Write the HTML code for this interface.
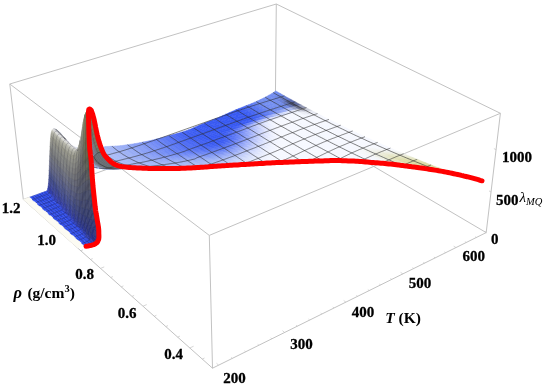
<!DOCTYPE html><html><head><meta charset="utf-8"><style>html,body{margin:0;padding:0;background:#fff;overflow:hidden}svg{display:block;filter:blur(0.35px)}</style></head><body><svg width="550" height="388" viewBox="0 0 550 388"><rect width="550" height="388" fill="#fff"/><g stroke="#c2c2c2" stroke-width="1" fill="none"><path d="M9.8 84L276.3 4"/><path d="M276.3 4L500.4 113.3"/><path d="M500.4 113.3L209.3 235.4"/><path d="M209.3 235.4L9.8 84"/><path d="M9.8 84L23.3 199.5"/><path d="M276.3 4L275.3 108.5"/><path d="M500.4 113.3L486.2 232.6"/><path d="M209.3 235.4L212.5 368.2"/><path d="M23.3 199.5L275.3 108.5"/><path d="M275.3 108.5L486.2 232.6"/><path d="M486.2 232.6L212.5 368.2"/><path d="M212.5 368.2L23.3 199.5"/></g><path d="M218.7 365.2L216.5 363.3M232.3 358.4L231.1 357.4M245.7 351.8L244.5 350.8M258.9 345.2L257.7 344.3M271.9 338.8L270.7 337.8M284.7 332.5L282.5 330.7M297.3 326.2L296.1 325.3M309.7 320.1L308.5 319.1M321.9 314.0L320.7 313.1M334.0 308.0L332.8 307.1M345.9 302.1L343.7 300.5M357.6 296.3L356.4 295.4M369.2 290.6L367.9 289.7M380.6 284.9L379.3 284.1M391.8 279.4L390.5 278.5M402.9 273.9L400.6 272.4M413.8 268.5L412.5 267.7M424.6 263.1L423.3 262.3M435.2 257.9L433.9 257.1M445.7 252.7L444.4 251.9M456.0 247.6L453.7 246.2M466.2 242.5L464.9 241.7M476.3 237.5L475.0 236.8M486.2 232.6L484.9 231.8M202.2 359.1L204.5 358.0M189.8 348.0L193.6 346.2M177.6 337.2L179.9 336.1M165.8 326.6L168.0 325.6M154.2 316.3L156.4 315.3M143.0 306.2L146.7 304.6M132.0 296.4L134.1 295.5M121.2 286.9L123.4 285.9M110.8 277.5L112.9 276.6M100.5 268.4L104.2 266.9M90.5 259.5L92.7 258.6M80.8 250.7L82.9 249.9M71.2 242.2L73.3 241.4M61.9 233.9L65.4 232.5M52.8 225.8L54.8 225.0M43.8 217.8L45.9 217.0M35.1 210.0L37.1 209.3M26.5 202.4L30.0 201.1M486.2 232.6L484.2 231.4M491.0 192.0L489.0 190.9M496.1 149.7L493.9 148.6" stroke="#c4c4c4" stroke-width="0.7" fill="none"/><g stroke-width="0.5" stroke-linejoin="round"><path d="M278.2 95.2L280.8 93.8 275.8 90.9 273.5 92.5Z" fill="#728dee" stroke="#728dee"/><path d="M275.6 96.6L278.2 95.2 273.5 92.5 271.1 94Z" fill="#728ced" stroke="#728ced"/><path d="M283 97.9L285.9 96.7 280.8 93.8 278.2 95.2Z" fill="#6f88e5" stroke="#6f88e5"/><path d="M272.8 97.9L275.6 96.6 271.1 94 268.5 95.4Z" fill="#738def" stroke="#738def"/><path d="M280.1 99.1L283 97.9 278.2 95.2 275.6 96.6Z" fill="#6d85df" stroke="#6d85df"/><path d="M269.9 99.2L272.8 97.9 268.5 95.4 265.9 96.9Z" fill="#738ef0" stroke="#738ef0"/><path d="M287.9 100.6L291.1 99.5 285.9 96.7 283 97.9Z" fill="#677cce" stroke="#677cce"/><path d="M277.1 100.4L280.1 99.1 275.6 96.6 272.8 97.9Z" fill="#708ae8" stroke="#708ae8"/><path d="M267 100.5L269.9 99.2 265.9 96.9 263.2 98.2Z" fill="#738ef0" stroke="#738ef0"/><path d="M284.7 101.7L287.9 100.6 283 97.9 280.1 99.1Z" fill="#6073bb" stroke="#6073bb"/><path d="M274 101.6L277.1 100.4 272.8 97.9 269.9 99.2Z" fill="#738def" stroke="#738def"/><path d="M264 101.8L267 100.5 263.2 98.2 260.4 99.6Z" fill="#738ef0" stroke="#738ef0"/><path d="M292.8 103.3L296.3 102.4 291.1 99.5 287.9 100.6Z" fill="#5b6bac" stroke="#5b6bac"/><path d="M281.5 102.8L284.7 101.7 280.1 99.1 277.1 100.4Z" fill="#6a81d7" stroke="#6a81d7"/><path d="M270.9 102.8L274 101.6 269.9 99.2 267 100.5Z" fill="#738ef0" stroke="#738ef0"/><path d="M261 103L264 101.8 260.4 99.6 257.5 101Z" fill="#728df0" stroke="#728df0"/><path d="M289.3 104.3L292.8 103.3 287.9 100.6 284.7 101.7Z" fill="#4d5887" stroke="#4d5887"/><path d="M278.2 103.9L281.5 102.8 277.1 100.4 274 101.6Z" fill="#728cec" stroke="#728cec"/><path d="M267.8 103.9L270.9 102.8 267 100.5 264 101.8Z" fill="#738ef0" stroke="#738ef0"/><path d="M285.8 105.3L289.3 104.3 284.7 101.7 281.5 102.8Z" fill="#6174be" stroke="#6174be"/><path d="M257.9 104.3L261 103 257.5 101 254.6 102.3Z" fill="#6e89f0" stroke="#6e89f0"/><path d="M274.9 105L278.2 103.9 274 101.6 270.9 102.8Z" fill="#738ef0" stroke="#738ef0"/><path d="M297.7 106L301.5 105.2 296.3 102.4 292.8 103.3Z" fill="#616c9d" stroke="#616c9d"/><path d="M264.6 105.1L267.8 103.9 264 101.8 261 103Z" fill="#728df0" stroke="#728df0"/><path d="M282.3 106.2L285.8 105.3 281.5 102.8 278.2 103.9Z" fill="#718ae9" stroke="#718ae9"/><path d="M294 106.8L297.7 106 292.8 103.3 289.3 104.3Z" fill="#464c6c" stroke="#464c6c"/><path d="M271.5 106.1L274.9 105 270.9 102.8 267.8 103.9Z" fill="#738ef0" stroke="#738ef0"/><path d="M254.7 105.5L257.9 104.3 254.6 102.3 251.5 103.6Z" fill="#6682f1" stroke="#6682f1"/><path d="M261.3 106.3L264.6 105.1 261 103 257.9 104.3Z" fill="#6e89f0" stroke="#6e89f0"/><path d="M278.8 107.2L282.3 106.2 278.2 103.9 274.9 105Z" fill="#738ef0" stroke="#738ef0"/><path d="M290.3 107.7L294 106.8 289.3 104.3 285.8 105.3Z" fill="#6272b2" stroke="#6272b2"/><path d="M268.1 107.2L271.5 106.1 267.8 103.9 264.6 105.1Z" fill="#728df0" stroke="#728df0"/><path d="M251.4 106.7L254.7 105.5 251.5 103.6 248.4 104.9Z" fill="#5c79f1" stroke="#5c79f1"/><path d="M302.7 108.7L306.8 108 301.5 105.2 297.7 106Z" fill="#9298b3" stroke="#9298b3"/><path d="M258 107.4L261.3 106.3 257.9 104.3 254.7 105.5Z" fill="#6682f1" stroke="#6682f1"/><path d="M286.5 108.6L290.3 107.7 285.8 105.3 282.3 106.2Z" fill="#738be7" stroke="#738be7"/><path d="M275.3 108.3L278.8 107.2 274.9 105 271.5 106.1Z" fill="#738ef0" stroke="#738ef0"/><path d="M298.7 109.4L302.7 108.7 297.7 106 294 106.8Z" fill="#676d8a" stroke="#676d8a"/><path d="M264.7 108.3L268.1 107.2 264.6 105.1 261.3 106.3Z" fill="#6e89f0" stroke="#6e89f0"/><path d="M248.1 107.9L251.4 106.7 248.4 104.9 245.1 106.1Z" fill="#5270f1" stroke="#5270f1"/><path d="M254.5 108.6L258 107.4 254.7 105.5 251.4 106.7Z" fill="#5c79f1" stroke="#5c79f1"/><path d="M282.8 109.5L286.5 108.6 282.3 106.2 278.8 107.2Z" fill="#738ef0" stroke="#738ef0"/><path d="M271.8 109.3L275.3 108.3 271.5 106.1 268.1 107.2Z" fill="#728df0" stroke="#728df0"/><path d="M294.7 110.1L298.7 109.4 294 106.8 290.3 107.7Z" fill="#939dc3" stroke="#939dc3"/><path d="M261.2 109.3L264.7 108.3 261.3 106.3 258 107.4Z" fill="#6682f1" stroke="#6682f1"/><path d="M244.7 109.1L248.1 107.9 245.1 106.1 241.9 107.4Z" fill="#4867f1" stroke="#4867f1"/><path d="M307.7 111.3L312.2 110.8 306.8 108 302.7 108.7Z" fill="#cbced9" stroke="#cbced9"/><path d="M279.1 110.4L282.8 109.5 278.8 107.2 275.3 108.3Z" fill="#738ef0" stroke="#738ef0"/><path d="M251.1 109.7L254.5 108.6 251.4 106.7 248.1 107.9Z" fill="#5270f1" stroke="#5270f1"/><path d="M290.8 110.9L294.7 110.1 290.3 107.7 286.5 108.6Z" fill="#acbaef" stroke="#acbaef"/><path d="M268.2 110.3L271.8 109.3 268.1 107.2 264.7 108.3Z" fill="#6e89f0" stroke="#6e89f0"/><path d="M257.7 110.4L261.2 109.3 258 107.4 254.5 108.6Z" fill="#5c79f1" stroke="#5c79f1"/><path d="M303.4 111.9L307.7 111.3 302.7 108.7 298.7 109.4Z" fill="#b4b6c4" stroke="#b4b6c4"/><path d="M241.4 110.3L244.7 109.1 241.9 107.4 238.6 108.7Z" fill="#3f60f2" stroke="#3f60f2"/><path d="M275.4 111.3L279.1 110.4 275.3 108.3 271.8 109.3Z" fill="#728df0" stroke="#728df0"/><path d="M286.8 111.7L290.8 110.9 286.5 108.6 282.8 109.5Z" fill="#a4b5f5" stroke="#a4b5f5"/><path d="M247.6 110.8L251.1 109.7 248.1 107.9 244.7 109.1Z" fill="#4867f1" stroke="#4867f1"/><path d="M264.5 111.3L268.2 110.3 264.7 108.3 261.2 109.3Z" fill="#6682f1" stroke="#6682f1"/><path d="M299.2 112.6L303.4 111.9 298.7 109.4 294.7 110.1Z" fill="#d5d8e3" stroke="#d5d8e3"/><path d="M254 111.5L257.7 110.4 254.5 108.6 251.1 109.7Z" fill="#5270f1" stroke="#5270f1"/><path d="M238 111.6L241.4 110.3 238.6 108.7 235.4 110Z" fill="#395af2" stroke="#395af2"/><path d="M282.9 112.6L286.8 111.7 282.8 109.5 279.1 110.4Z" fill="#97abf4" stroke="#97abf4"/><path d="M271.6 112.3L275.4 111.3 271.8 109.3 268.2 110.3Z" fill="#6e89f0" stroke="#6e89f0"/><path d="M244.1 112L247.6 110.8 244.7 109.1 241.4 110.3Z" fill="#3f60f2" stroke="#3f60f2"/><path d="M295 113.3L299.2 112.6 294.7 110.1 290.8 110.9Z" fill="#ebeefa" stroke="#ebeefa"/><path d="M260.8 112.3L264.5 111.3 261.2 109.3 257.7 110.4Z" fill="#5c79f1" stroke="#5c79f1"/><path d="M312.8 114L317.6 113.6 312.2 110.8 307.7 111.3Z" fill="#e8eaf3" stroke="#e8eaf3"/><path d="M250.4 112.5L254 111.5 251.1 109.7 247.6 110.8Z" fill="#4867f1" stroke="#4867f1"/><path d="M279 113.4L282.9 112.6 279.1 110.4 275.4 111.3Z" fill="#8ba1f3" stroke="#8ba1f3"/><path d="M267.8 113.2L271.6 112.3 268.2 110.3 264.5 111.3Z" fill="#6682f1" stroke="#6682f1"/><path d="M308.2 114.5L312.8 114 307.7 111.3 303.4 111.9Z" fill="#e1e3ec" stroke="#e1e3ec"/><path d="M290.9 114L295 113.3 290.8 110.9 286.8 111.7Z" fill="#e8ecfd" stroke="#e8ecfd"/><path d="M234.8 113L238 111.6 235.4 110 232.2 111.4Z" fill="#3758f2" stroke="#3758f2"/><path d="M257 113.3L260.8 112.3 257.7 110.4 254 111.5Z" fill="#5270f1" stroke="#5270f1"/><path d="M240.7 113.2L244.1 112 241.4 110.3 238 111.6Z" fill="#395af2" stroke="#395af2"/><path d="M303.8 115L308.2 114.5 303.4 111.9 299.2 112.6Z" fill="#eceef6" stroke="#eceef6"/><path d="M246.9 113.7L250.4 112.5 247.6 110.8 244.1 112Z" fill="#3f60f2" stroke="#3f60f2"/><path d="M275.1 114.2L279 113.4 275.4 111.3 271.6 112.3Z" fill="#7d95f2" stroke="#7d95f2"/><path d="M286.8 114.7L290.9 114 286.8 111.7 282.9 112.6Z" fill="#dee5fc" stroke="#dee5fc"/><path d="M263.9 114.1L267.8 113.2 264.5 111.3 260.8 112.3Z" fill="#5c79f1" stroke="#5c79f1"/><path d="M253.3 114.3L257 113.3 254 111.5 250.4 112.5Z" fill="#4867f1" stroke="#4867f1"/><path d="M231.5 114.4L234.8 113 232.2 111.4 229 112.8Z" fill="#3758f2" stroke="#3758f2"/><path d="M299.3 115.6L303.8 115 299.2 112.6 295 113.3Z" fill="#f4f7fe" stroke="#f4f7fe"/><path d="M237.3 114.6L240.7 113.2 238 111.6 234.8 113Z" fill="#3758f2" stroke="#3758f2"/><path d="M271.1 115.1L275.1 114.2 271.6 112.3 267.8 113.2Z" fill="#6d88f1" stroke="#6d88f1"/><path d="M282.7 115.5L286.8 114.7 282.9 112.6 279 113.4Z" fill="#d2dbfb" stroke="#d2dbfb"/><path d="M243.4 114.9L246.9 113.7 244.1 112 240.7 113.2Z" fill="#395af2" stroke="#395af2"/><path d="M260.1 115L263.9 114.1 260.8 112.3 257 113.3Z" fill="#5270f1" stroke="#5270f1"/><path d="M317.9 116.7L323.1 116.5 317.6 113.6 312.8 114Z" fill="#f3f5fd" stroke="#f3f5fd"/><path d="M295 116.2L299.3 115.6 295 113.3 290.9 114Z" fill="#f6f8ff" stroke="#f6f8ff"/><path d="M249.7 115.4L253.3 114.3 250.4 112.5 246.9 113.7Z" fill="#3f60f2" stroke="#3f60f2"/><path d="M313.1 117L317.9 116.7 312.8 114 308.2 114.5Z" fill="#f2f4fb" stroke="#f2f4fb"/><path d="M228.2 115.8L231.5 114.4 229 112.8 225.8 114.3Z" fill="#3758f2" stroke="#3758f2"/><path d="M267.1 116L271.1 115.1 267.8 113.2 263.9 114.1Z" fill="#5f7bf1" stroke="#5f7bf1"/><path d="M278.6 116.2L282.7 115.5 279 113.4 275.1 114.2Z" fill="#c4cffa" stroke="#c4cffa"/><path d="M234 115.9L237.3 114.6 234.8 113 231.5 114.4Z" fill="#3758f2" stroke="#3758f2"/><path d="M256.2 116L260.1 115 257 113.3 253.3 114.3Z" fill="#4867f1" stroke="#4867f1"/><path d="M290.7 116.8L295 116.2 290.9 114 286.8 114.7Z" fill="#f6f8ff" stroke="#f6f8ff"/><path d="M239.9 116.1L243.4 114.9 240.7 113.2 237.3 114.6Z" fill="#3758f2" stroke="#3758f2"/><path d="M308.3 117.4L313.1 117 308.2 114.5 303.8 115Z" fill="#f4f6fd" stroke="#f4f6fd"/><path d="M246.1 116.5L249.7 115.4 246.9 113.7 243.4 114.9Z" fill="#395af2" stroke="#395af2"/><path d="M274.5 117L278.6 116.2 275.1 114.2 271.1 115.1Z" fill="#b2c1f8" stroke="#b2c1f8"/><path d="M263.1 116.8L267.1 116 263.9 114.1 260.1 115Z" fill="#5270f1" stroke="#5270f1"/><path d="M303.7 117.9L308.3 117.4 303.8 115 299.3 115.6Z" fill="#f6f8ff" stroke="#f6f8ff"/><path d="M286.4 117.5L290.7 116.8 286.8 114.7 282.7 115.5Z" fill="#f6f8ff" stroke="#f6f8ff"/><path d="M224.9 117.2L228.2 115.8 225.8 114.3 222.6 115.7Z" fill="#3758f2" stroke="#3758f2"/><path d="M252.5 117L256.2 116 253.3 114.3 249.7 115.4Z" fill="#3f60f2" stroke="#3f60f2"/><path d="M230.6 117.3L234 115.9 231.5 114.4 228.2 115.8Z" fill="#3758f2" stroke="#3758f2"/><path d="M236.5 117.4L239.9 116.1 237.3 114.6 234 115.9Z" fill="#3758f2" stroke="#3758f2"/><path d="M299.1 118.4L303.7 117.9 299.3 115.6 295 116.2Z" fill="#f6f8ff" stroke="#f6f8ff"/><path d="M270.3 117.8L274.5 117 271.1 115.1 267.1 116Z" fill="#9eaff7" stroke="#9eaff7"/><path d="M259.2 117.7L263.1 116.8 260.1 115 256.2 116Z" fill="#4867f1" stroke="#4867f1"/><path d="M242.5 117.7L246.1 116.5 243.4 114.9 239.9 116.1Z" fill="#3758f2" stroke="#3758f2"/><path d="M282.1 118.2L286.4 117.5 282.7 115.5 278.6 116.2Z" fill="#f3f5ff" stroke="#f3f5ff"/><path d="M323.1 119.3L328.6 119.2 323.1 116.5 317.9 116.7Z" fill="#f6f8ff" stroke="#f6f8ff"/><path d="M248.8 118.2L252.5 117 249.7 115.4 246.1 116.5Z" fill="#395af2" stroke="#395af2"/><path d="M318 119.5L323.1 119.3 317.9 116.7 313.1 117Z" fill="#f5f7fe" stroke="#f5f7fe"/><path d="M294.6 119L299.1 118.4 295 116.2 290.7 116.8Z" fill="#f6f8ff" stroke="#f6f8ff"/><path d="M221.5 118.6L224.9 117.2 222.6 115.7 219.3 117.2Z" fill="#3758f2" stroke="#3758f2"/><path d="M227.2 118.6L230.6 117.3 228.2 115.8 224.9 117.2Z" fill="#3758f2" stroke="#3758f2"/><path d="M266.2 118.6L270.3 117.8 267.1 116 263.1 116.8Z" fill="#889df6" stroke="#889df6"/><path d="M233 118.8L236.5 117.4 234 115.9 230.6 117.3Z" fill="#3758f2" stroke="#3758f2"/><path d="M277.8 118.9L282.1 118.2 278.6 116.2 274.5 117Z" fill="#ecf0fe" stroke="#ecf0fe"/><path d="M255.3 118.7L259.2 117.7 256.2 116 252.5 117Z" fill="#3f60f2" stroke="#3f60f2"/><path d="M313 119.8L318 119.5 313.1 117 308.3 117.4Z" fill="#f6f8ff" stroke="#f6f8ff"/><path d="M239 119L242.5 117.7 239.9 116.1 236.5 117.4Z" fill="#3758f2" stroke="#3758f2"/><path d="M290.2 119.6L294.6 119 290.7 116.8 286.4 117.5Z" fill="#f6f8ff" stroke="#f6f8ff"/><path d="M245.1 119.3L248.8 118.2 246.1 116.5 242.5 117.7Z" fill="#3758f2" stroke="#3758f2"/><path d="M308.1 120.2L313 119.8 308.3 117.4 303.7 117.9Z" fill="#f6f8ff" stroke="#f6f8ff"/><path d="M262.1 119.5L266.2 118.6 263.1 116.8 259.2 117.7Z" fill="#7089f5" stroke="#7089f5"/><path d="M273.5 119.7L277.8 118.9 274.5 117 270.3 117.8Z" fill="#e1e7fd" stroke="#e1e7fd"/><path d="M218.1 119.9L221.5 118.6 219.3 117.2 216 118.6Z" fill="#3758f2" stroke="#3758f2"/><path d="M223.8 120L227.2 118.6 224.9 117.2 221.5 118.6Z" fill="#3758f2" stroke="#3758f2"/><path d="M251.5 119.8L255.3 118.7 252.5 117 248.8 118.2Z" fill="#395af2" stroke="#395af2"/><path d="M285.7 120.2L290.2 119.6 286.4 117.5 282.1 118.2Z" fill="#f6f8ff" stroke="#f6f8ff"/><path d="M229.5 120.1L233 118.8 230.6 117.3 227.2 118.6Z" fill="#3758f2" stroke="#3758f2"/><path d="M303.2 120.6L308.1 120.2 303.7 117.9 299.1 118.4Z" fill="#f6f8ff" stroke="#f6f8ff"/><path d="M235.4 120.2L239 119 236.5 117.4 233 118.8Z" fill="#3758f2" stroke="#3758f2"/><path d="M269.2 120.4L273.5 119.7 270.3 117.8 266.2 118.6Z" fill="#d3dbfc" stroke="#d3dbfc"/><path d="M258.1 120.4L262.1 119.5 259.2 117.7 255.3 118.7Z" fill="#5b76f4" stroke="#5b76f4"/><path d="M241.5 120.5L245.1 119.3 242.5 117.7 239 119Z" fill="#3758f2" stroke="#3758f2"/><path d="M298.5 121.1L303.2 120.6 299.1 118.4 294.6 119Z" fill="#f6f8ff" stroke="#f6f8ff"/><path d="M281.2 120.8L285.7 120.2 282.1 118.2 277.8 118.9Z" fill="#f6f8ff" stroke="#f6f8ff"/><path d="M328.4 121.9L334.2 122 328.6 119.2 323.1 119.3Z" fill="#f6f8ff" stroke="#f6f8ff"/><path d="M247.7 120.9L251.5 119.8 248.8 118.2 245.1 119.3Z" fill="#3758f2" stroke="#3758f2"/><path d="M214.6 121.2L218.1 119.9 216 118.6 212.5 119.9Z" fill="#3758f2" stroke="#3758f2"/><path d="M220.3 121.3L223.8 120 221.5 118.6 218.1 119.9Z" fill="#3758f2" stroke="#3758f2"/><path d="M322.9 122.1L328.4 121.9 323.1 119.3 318 119.5Z" fill="#f6f8ff" stroke="#f6f8ff"/><path d="M226 121.4L229.5 120.1 227.2 118.6 223.8 120Z" fill="#3758f2" stroke="#3758f2"/><path d="M265 121.2L269.2 120.4 266.2 118.6 262.1 119.5Z" fill="#c0cbfb" stroke="#c0cbfb"/><path d="M293.9 121.7L298.5 121.1 294.6 119 290.2 119.6Z" fill="#f6f8ff" stroke="#f6f8ff"/><path d="M231.8 121.5L235.4 120.2 233 118.8 229.5 120.1Z" fill="#3758f2" stroke="#3758f2"/><path d="M317.6 122.3L322.9 122.1 318 119.5 313 119.8Z" fill="#f6f8ff" stroke="#f6f8ff"/><path d="M276.8 121.5L281.2 120.8 277.8 118.9 273.5 119.7Z" fill="#f6f8ff" stroke="#f6f8ff"/><path d="M254.2 121.4L258.1 120.4 255.3 118.7 251.5 119.8Z" fill="#4967f3" stroke="#4967f3"/><path d="M237.8 121.8L241.5 120.5 239 119 235.4 120.2Z" fill="#3758f2" stroke="#3758f2"/><path d="M312.5 122.5L317.6 122.3 313 119.8 308.1 120.2Z" fill="#f6f8ff" stroke="#f6f8ff"/><path d="M289.3 122.2L293.9 121.7 290.2 119.6 285.7 120.2Z" fill="#f6f8ff" stroke="#f6f8ff"/><path d="M244 122.1L247.7 120.9 245.1 119.3 241.5 120.5Z" fill="#3758f2" stroke="#3758f2"/><path d="M261 122.1L265 121.2 262.1 119.5 258.1 120.4Z" fill="#abbafa" stroke="#abbafa"/><path d="M211.1 122.6L214.6 121.2 212.5 119.9 209.1 121.3Z" fill="#3758f2" stroke="#3758f2"/><path d="M272.3 122.2L276.8 121.5 273.5 119.7 269.2 120.4Z" fill="#f2f4ff" stroke="#f2f4ff"/><path d="M216.7 122.6L220.3 121.3 218.1 119.9 214.6 121.2Z" fill="#3758f2" stroke="#3758f2"/><path d="M307.4 122.9L312.5 122.5 308.1 120.2 303.2 120.6Z" fill="#f6f8ff" stroke="#f6f8ff"/><path d="M222.4 122.6L226 121.4 223.8 120 220.3 121.3Z" fill="#3758f2" stroke="#3758f2"/><path d="M250.4 122.5L254.2 121.4 251.5 119.8 247.7 120.9Z" fill="#3d5df2" stroke="#3d5df2"/><path d="M228.2 122.8L231.8 121.5 229.5 120.1 226 121.4Z" fill="#3758f2" stroke="#3758f2"/><path d="M284.6 122.8L289.3 122.2 285.7 120.2 281.2 120.8Z" fill="#f6f8ff" stroke="#f6f8ff"/><path d="M234.2 123L237.8 121.8 235.4 120.2 231.8 121.5Z" fill="#3758f2" stroke="#3758f2"/><path d="M302.5 123.3L307.4 122.9 303.2 120.6 298.5 121.1Z" fill="#f6f8ff" stroke="#f6f8ff"/><path d="M268 123L272.3 122.2 269.2 120.4 265 121.2Z" fill="#e9edfe" stroke="#e9edfe"/><path d="M257 123.1L261 122.1 258.1 120.4 254.2 121.4Z" fill="#96a7f8" stroke="#96a7f8"/><path d="M240.2 123.3L244 122.1 241.5 120.5 237.8 121.8Z" fill="#3758f2" stroke="#3758f2"/><path d="M280 123.4L284.6 122.8 281.2 120.8 276.8 121.5Z" fill="#f6f8ff" stroke="#f6f8ff"/><path d="M207.5 123.9L211.1 122.6 209.1 121.3 205.6 122.7Z" fill="#3758f2" stroke="#3758f2"/><path d="M297.7 123.7L302.5 123.3 298.5 121.1 293.9 121.7Z" fill="#f6f8ff" stroke="#f6f8ff"/><path d="M213.1 123.9L216.7 122.6 214.6 121.2 211.1 122.6Z" fill="#3758f2" stroke="#3758f2"/><path d="M246.5 123.6L250.4 122.5 247.7 120.9 244 122.1Z" fill="#3859f2" stroke="#3859f2"/><path d="M218.8 123.9L222.4 122.6 220.3 121.3 216.7 122.6Z" fill="#3758f2" stroke="#3758f2"/><path d="M333.7 124.6L339.9 124.8 334.2 122 328.4 121.9Z" fill="#f6f8ff" stroke="#f6f8ff"/><path d="M224.6 124L228.2 122.8 226 121.4 222.4 122.6Z" fill="#3758f2" stroke="#3758f2"/><path d="M327.9 124.6L333.7 124.6 328.4 121.9 322.9 122.1Z" fill="#f6f8ff" stroke="#f6f8ff"/><path d="M263.8 123.8L268 123 265 121.2 261 122.1Z" fill="#dce3fd" stroke="#dce3fd"/><path d="M230.5 124.2L234.2 123 231.8 121.5 228.2 122.8Z" fill="#3758f2" stroke="#3758f2"/><path d="M322.3 124.7L327.9 124.6 322.9 122.1 317.6 122.3Z" fill="#f6f8ff" stroke="#f6f8ff"/><path d="M275.4 124L280 123.4 276.8 121.5 272.3 122.2Z" fill="#f5f7ff" stroke="#f5f7ff"/><path d="M292.9 124.2L297.7 123.7 293.9 121.7 289.3 122.2Z" fill="#f6f8ff" stroke="#f6f8ff"/><path d="M253 124.1L257 123.1 254.2 121.4 250.4 122.5Z" fill="#8196f7" stroke="#8196f7"/><path d="M236.5 124.5L240.2 123.3 237.8 121.8 234.2 123Z" fill="#3758f2" stroke="#3758f2"/><path d="M316.9 124.8L322.3 124.7 317.6 122.3 312.5 122.5Z" fill="#f6f8ff" stroke="#f6f8ff"/><path d="M288 124.7L292.9 124.2 289.3 122.2 284.6 122.8Z" fill="#f6f8ff" stroke="#f6f8ff"/><path d="M242.7 124.8L246.5 123.6 244 122.1 240.2 123.3Z" fill="#3758f2" stroke="#3758f2"/><path d="M204 125.3L207.5 123.9 205.6 122.7 202.2 124.1Z" fill="#3758f2" stroke="#3758f2"/><path d="M209.5 125.2L213.1 123.9 211.1 122.6 207.5 123.9Z" fill="#3758f2" stroke="#3758f2"/><path d="M311.6 125.1L316.9 124.8 312.5 122.5 307.4 122.9Z" fill="#f6f8ff" stroke="#f6f8ff"/><path d="M271 124.7L275.4 124 272.3 122.2 268 123Z" fill="#f1f4ff" stroke="#f1f4ff"/><path d="M215.1 125.2L218.8 123.9 216.7 122.6 213.1 123.9Z" fill="#3758f2" stroke="#3758f2"/><path d="M259.7 124.8L263.8 123.8 261 122.1 257 123.1Z" fill="#ccd5fc" stroke="#ccd5fc"/><path d="M220.9 125.3L224.6 124 222.4 122.6 218.8 123.9Z" fill="#3758f2" stroke="#3758f2"/><path d="M249.1 125.2L253 124.1 250.4 122.5 246.5 123.6Z" fill="#6e86f6" stroke="#6e86f6"/><path d="M306.5 125.4L311.6 125.1 307.4 122.9 302.5 123.3Z" fill="#f6f8ff" stroke="#f6f8ff"/><path d="M226.8 125.4L230.5 124.2 228.2 122.8 224.6 124Z" fill="#3758f2" stroke="#3758f2"/><path d="M283.3 125.2L288 124.7 284.6 122.8 280 123.4Z" fill="#f6f8ff" stroke="#f6f8ff"/><path d="M232.7 125.6L236.5 124.5 234.2 123 230.5 124.2Z" fill="#3758f2" stroke="#3758f2"/><path d="M266.7 125.5L271 124.7 268 123 263.8 123.8Z" fill="#e7ecfe" stroke="#e7ecfe"/><path d="M301.5 125.8L306.5 125.4 302.5 123.3 297.7 123.7Z" fill="#f6f8ff" stroke="#f6f8ff"/><path d="M255.7 125.8L259.7 124.8 257 123.1 253 124.1Z" fill="#bac6fb" stroke="#bac6fb"/><path d="M238.9 125.9L242.7 124.8 240.2 123.3 236.5 124.5Z" fill="#3758f2" stroke="#3758f2"/><path d="M278.6 125.8L283.3 125.2 280 123.4 275.4 124Z" fill="#f6f8ff" stroke="#f6f8ff"/><path d="M205.9 126.5L209.5 125.2 207.5 123.9 204 125.3Z" fill="#3758f2" stroke="#3758f2"/><path d="M211.5 126.4L215.1 125.2 213.1 123.9 209.5 125.2Z" fill="#3758f2" stroke="#3758f2"/><path d="M200.6 126.7L204 125.3 202.2 124.1 198.8 125.5Z" fill="#3758f2" stroke="#3758f2"/><path d="M217.2 126.5L220.9 125.3 218.8 123.9 215.1 125.2Z" fill="#3758f2" stroke="#3758f2"/><path d="M296.5 126.2L301.5 125.8 297.7 123.7 292.9 124.2Z" fill="#f6f8ff" stroke="#f6f8ff"/><path d="M245.1 126.3L249.1 125.2 246.5 123.6 242.7 124.8Z" fill="#5d78f5" stroke="#5d78f5"/><path d="M223 126.6L226.8 125.4 224.6 124 220.9 125.3Z" fill="#3758f2" stroke="#3758f2"/><path d="M262.5 126.4L266.7 125.5 263.8 123.8 259.7 124.8Z" fill="#dae0fd" stroke="#dae0fd"/><path d="M228.9 126.8L232.7 125.6 230.5 124.2 226.8 125.4Z" fill="#3758f2" stroke="#3758f2"/><path d="M274 126.5L278.6 125.8 275.4 124 271 124.7Z" fill="#f4f6ff" stroke="#f4f6ff"/><path d="M332.9 127.1L339 127.2 333.7 124.6 327.9 124.6Z" fill="#f6f8ff" stroke="#f6f8ff"/><path d="M339 127.2L345.6 127.6 339.9 124.8 333.7 124.6Z" fill="#f6f8ff" stroke="#f6f8ff"/><path d="M327.1 127.1L332.9 127.1 327.9 124.6 322.3 124.7Z" fill="#f6f8ff" stroke="#f6f8ff"/><path d="M291.5 126.6L296.5 126.2 292.9 124.2 288 124.7Z" fill="#f6f8ff" stroke="#f6f8ff"/><path d="M251.6 126.8L255.7 125.8 253 124.1 249.1 125.2Z" fill="#a7b6fa" stroke="#a7b6fa"/><path d="M235 127.1L238.9 125.9 236.5 124.5 232.7 125.6Z" fill="#3758f2" stroke="#3758f2"/><path d="M321.4 127.1L327.1 127.1 322.3 124.7 316.9 124.8Z" fill="#f6f8ff" stroke="#f6f8ff"/><path d="M315.9 127.3L321.4 127.1 316.9 124.8 311.6 125.1Z" fill="#f6f8ff" stroke="#f6f8ff"/><path d="M207.8 127.7L211.5 126.4 209.5 125.2 205.9 126.5Z" fill="#3758f2" stroke="#3758f2"/><path d="M202.4 127.9L205.9 126.5 204 125.3 200.6 126.7Z" fill="#3758f2" stroke="#3758f2"/><path d="M286.6 127.1L291.5 126.6 288 124.7 283.3 125.2Z" fill="#f6f8ff" stroke="#f6f8ff"/><path d="M241.2 127.4L245.1 126.3 242.7 124.8 238.9 125.9Z" fill="#4e6bf4" stroke="#4e6bf4"/><path d="M213.4 127.7L217.2 126.5 215.1 125.2 211.5 126.4Z" fill="#3758f2" stroke="#3758f2"/><path d="M197.2 128.2L200.6 126.7 198.8 125.5 195.4 127Z" fill="#3758f2" stroke="#3758f2"/><path d="M269.6 127.3L274 126.5 271 124.7 266.7 125.5Z" fill="#edf0fe" stroke="#edf0fe"/><path d="M258.3 127.4L262.5 126.4 259.7 124.8 255.7 125.8Z" fill="#cad3fc" stroke="#cad3fc"/><path d="M219.2 127.8L223 126.6 220.9 125.3 217.2 126.5Z" fill="#3758f2" stroke="#3758f2"/><path d="M310.6 127.5L315.9 127.3 311.6 125.1 306.5 125.4Z" fill="#f6f8ff" stroke="#f6f8ff"/><path d="M225.1 128L228.9 126.8 226.8 125.4 223 126.6Z" fill="#3758f2" stroke="#3758f2"/><path d="M247.6 127.8L251.6 126.8 249.1 125.2 245.1 126.3Z" fill="#93a5f8" stroke="#93a5f8"/><path d="M281.7 127.6L286.6 127.1 283.3 125.2 278.6 125.8Z" fill="#f6f8ff" stroke="#f6f8ff"/><path d="M305.4 127.9L310.6 127.5 306.5 125.4 301.5 125.8Z" fill="#f6f8ff" stroke="#f6f8ff"/><path d="M231.1 128.2L235 127.1 232.7 125.6 228.9 126.8Z" fill="#3758f2" stroke="#3758f2"/><path d="M265.3 128.1L269.6 127.3 266.7 125.5 262.5 126.4Z" fill="#e1e7fe" stroke="#e1e7fe"/><path d="M237.3 128.5L241.2 127.4 238.9 125.9 235 127.1Z" fill="#4261f3" stroke="#4261f3"/><path d="M300.2 128.2L305.4 127.9 301.5 125.8 296.5 126.2Z" fill="#f6f8ff" stroke="#f6f8ff"/><path d="M254.2 128.4L258.3 127.4 255.7 125.8 251.6 126.8Z" fill="#b8c4fb" stroke="#b8c4fb"/><path d="M277 128.2L281.7 127.6 278.6 125.8 274 126.5Z" fill="#f6f8ff" stroke="#f6f8ff"/><path d="M204.3 129.1L207.8 127.7 205.9 126.5 202.4 127.9Z" fill="#3758f2" stroke="#3758f2"/><path d="M209.7 129L213.4 127.7 211.5 126.4 207.8 127.7Z" fill="#3758f2" stroke="#3758f2"/><path d="M199 129.3L202.4 127.9 200.6 126.7 197.2 128.2Z" fill="#3758f2" stroke="#3758f2"/><path d="M215.4 129L219.2 127.8 217.2 126.5 213.4 127.7Z" fill="#3758f2" stroke="#3758f2"/><path d="M193.7 129.6L197.2 128.2 195.4 127 192 128.5Z" fill="#3859f2" stroke="#3859f2"/><path d="M295 128.5L300.2 128.2 296.5 126.2 291.5 126.6Z" fill="#f6f8ff" stroke="#f6f8ff"/><path d="M243.6 128.9L247.6 127.8 245.1 126.3 241.2 127.4Z" fill="#7f95f7" stroke="#7f95f7"/><path d="M221.2 129.1L225.1 128 223 126.6 219.2 127.8Z" fill="#3758f2" stroke="#3758f2"/><path d="M227.2 129.3L231.1 128.2 228.9 126.8 225.1 128Z" fill="#3758f2" stroke="#3758f2"/><path d="M261 129L265.3 128.1 262.5 126.4 258.3 127.4Z" fill="#d3dafd" stroke="#d3dafd"/><path d="M272.5 129L277 128.2 274 126.5 269.6 127.3Z" fill="#f1f4ff" stroke="#f1f4ff"/><path d="M289.9 129L295 128.5 291.5 126.6 286.6 127.1Z" fill="#f6f8ff" stroke="#f6f8ff"/><path d="M250.1 129.4L254.2 128.4 251.6 126.8 247.6 127.8Z" fill="#a4b4f9" stroke="#a4b4f9"/><path d="M233.3 129.6L237.3 128.5 235 127.1 231.1 128.2Z" fill="#3a5bf2" stroke="#3a5bf2"/><path d="M331.9 129.5L338 129.6 332.9 127.1 327.1 127.1Z" fill="#f6f8ff" stroke="#f6f8ff"/><path d="M338 129.6L344.4 129.8 339 127.2 332.9 127.1Z" fill="#f6f8ff" stroke="#f6f8ff"/><path d="M325.9 129.4L331.9 129.5 327.1 127.1 321.4 127.1Z" fill="#f6f8ff" stroke="#f6f8ff"/><path d="M320.2 129.5L325.9 129.4 321.4 127.1 315.9 127.3Z" fill="#f6f8ff" stroke="#f6f8ff"/><path d="M344.4 129.8L351.3 130.4 345.6 127.6 339 127.2Z" fill="#f6f8ff" stroke="#f6f8ff"/><path d="M206.1 130.3L209.7 129 207.8 127.7 204.3 129.1Z" fill="#3758f2" stroke="#3758f2"/><path d="M284.9 129.4L289.9 129 286.6 127.1 281.7 127.6Z" fill="#f6f8ff" stroke="#f6f8ff"/><path d="M211.6 130.2L215.4 129 213.4 127.7 209.7 129Z" fill="#3758f2" stroke="#3758f2"/><path d="M200.7 130.5L204.3 129.1 202.4 127.9 199 129.3Z" fill="#3758f2" stroke="#3758f2"/><path d="M239.6 130L243.6 128.9 241.2 127.4 237.3 128.5Z" fill="#6d85f6" stroke="#6d85f6"/><path d="M314.6 129.7L320.2 129.5 315.9 127.3 310.6 127.5Z" fill="#f6f8ff" stroke="#f6f8ff"/><path d="M195.4 130.7L199 129.3 197.2 128.2 193.7 129.6Z" fill="#3859f2" stroke="#3859f2"/><path d="M217.4 130.3L221.2 129.1 219.2 127.8 215.4 129Z" fill="#3758f2" stroke="#3758f2"/><path d="M268.1 129.8L272.5 129 269.6 127.3 265.3 128.1Z" fill="#e8ecfe" stroke="#e8ecfe"/><path d="M256.8 129.9L261 129 258.3 127.4 254.2 128.4Z" fill="#c2ccfb" stroke="#c2ccfb"/><path d="M190.1 131L193.7 129.6 192 128.5 188.4 129.9Z" fill="#395af2" stroke="#395af2"/><path d="M223.3 130.4L227.2 129.3 225.1 128 221.2 129.1Z" fill="#3758f2" stroke="#3758f2"/><path d="M309.2 129.9L314.6 129.7 310.6 127.5 305.4 127.9Z" fill="#f6f8ff" stroke="#f6f8ff"/><path d="M280.1 130L284.9 129.4 281.7 127.6 277 128.2Z" fill="#f6f8ff" stroke="#f6f8ff"/><path d="M246 130.4L250.1 129.4 247.6 127.8 243.6 128.9Z" fill="#91a3f8" stroke="#91a3f8"/><path d="M229.4 130.7L233.3 129.6 231.1 128.2 227.2 129.3Z" fill="#3758f2" stroke="#3758f2"/><path d="M303.8 130.2L309.2 129.9 305.4 127.9 300.2 128.2Z" fill="#f6f8ff" stroke="#f6f8ff"/><path d="M263.7 130.6L268.1 129.8 265.3 128.1 261 129Z" fill="#dbe1fd" stroke="#dbe1fd"/><path d="M235.6 131L239.6 130 237.3 128.5 233.3 129.6Z" fill="#5c77f4" stroke="#5c77f4"/><path d="M298.5 130.4L303.8 130.2 300.2 128.2 295 128.5Z" fill="#f6f8ff" stroke="#f6f8ff"/><path d="M252.6 130.9L256.8 129.9 254.2 128.4 250.1 129.4Z" fill="#afbdfa" stroke="#afbdfa"/><path d="M275.5 130.7L280.1 130 277 128.2 272.5 129Z" fill="#f4f6ff" stroke="#f4f6ff"/><path d="M207.9 131.5L211.6 130.2 209.7 129 206.1 130.3Z" fill="#3758f2" stroke="#3758f2"/><path d="M202.5 131.7L206.1 130.3 204.3 129.1 200.7 130.5Z" fill="#3758f2" stroke="#3758f2"/><path d="M213.6 131.5L217.4 130.3 215.4 129 211.6 130.2Z" fill="#3758f2" stroke="#3758f2"/><path d="M197.1 131.9L200.7 130.5 199 129.3 195.4 130.7Z" fill="#3859f2" stroke="#3859f2"/><path d="M191.7 132.1L195.4 130.7 193.7 129.6 190.1 131Z" fill="#395af2" stroke="#395af2"/><path d="M293.2 130.8L298.5 130.4 295 128.5 289.9 129Z" fill="#f6f8ff" stroke="#f6f8ff"/><path d="M186.3 132.2L190.1 131 188.4 129.9 184.7 131.2Z" fill="#3c5cf2" stroke="#3c5cf2"/><path d="M219.4 131.6L223.3 130.4 221.2 129.1 217.4 130.3Z" fill="#3758f2" stroke="#3758f2"/><path d="M241.9 131.4L246 130.4 243.6 128.9 239.6 130Z" fill="#7d93f7" stroke="#7d93f7"/><path d="M225.4 131.8L229.4 130.7 227.2 129.3 223.3 130.4Z" fill="#3758f2" stroke="#3758f2"/><path d="M259.4 131.5L263.7 130.6 261 129 256.8 129.9Z" fill="#cbd4fc" stroke="#cbd4fc"/><path d="M288.1 131.2L293.2 130.8 289.9 129 284.9 129.4Z" fill="#f6f8ff" stroke="#f6f8ff"/><path d="M270.9 131.5L275.5 130.7 272.5 129 268.1 129.8Z" fill="#edf1fe" stroke="#edf1fe"/><path d="M248.4 131.9L252.6 130.9 250.1 129.4 246 130.4Z" fill="#9cacf9" stroke="#9cacf9"/><path d="M231.5 132.1L235.6 131 233.3 129.6 229.4 130.7Z" fill="#4d6af3" stroke="#4d6af3"/><path d="M330.5 131.7L336.7 131.9 331.9 129.5 325.9 129.4Z" fill="#f6f8ff" stroke="#f6f8ff"/><path d="M283.2 131.8L288.1 131.2 284.9 129.4 280.1 130Z" fill="#f6f8ff" stroke="#f6f8ff"/><path d="M324.5 131.7L330.5 131.7 325.9 129.4 320.2 129.5Z" fill="#f6f8ff" stroke="#f6f8ff"/><path d="M336.7 131.9L343.1 132.1 338 129.6 331.9 129.5Z" fill="#f6f8ff" stroke="#f6f8ff"/><path d="M204.3 132.8L207.9 131.5 206.1 130.3 202.5 131.7Z" fill="#3758f2" stroke="#3758f2"/><path d="M209.8 132.7L213.6 131.5 211.6 130.2 207.9 131.5Z" fill="#3758f2" stroke="#3758f2"/><path d="M198.8 133L202.5 131.7 200.7 130.5 197.1 131.9Z" fill="#3859f2" stroke="#3859f2"/><path d="M318.8 131.8L324.5 131.7 320.2 129.5 314.6 129.7Z" fill="#f6f8ff" stroke="#f6f8ff"/><path d="M237.8 132.4L241.9 131.4 239.6 130 235.6 131Z" fill="#6b83f6" stroke="#6b83f6"/><path d="M193.4 133.2L197.1 131.9 195.4 130.7 191.7 132.1Z" fill="#395af2" stroke="#395af2"/><path d="M215.5 132.7L219.4 131.6 217.4 130.3 213.6 131.5Z" fill="#3758f2" stroke="#3758f2"/><path d="M187.9 133.3L191.7 132.1 190.1 131 186.3 132.2Z" fill="#3c5cf2" stroke="#3c5cf2"/><path d="M182.4 133.4L186.3 132.2 184.7 131.2 180.8 132.4Z" fill="#405ff2" stroke="#405ff2"/><path d="M343.1 132.1L349.9 132.5 344.4 129.8 338 129.6Z" fill="#f6f8ff" stroke="#f6f8ff"/><path d="M266.5 132.3L270.9 131.5 268.1 129.8 263.7 130.6Z" fill="#e3e8fe" stroke="#e3e8fe"/><path d="M255.1 132.5L259.4 131.5 256.8 129.9 252.6 130.9Z" fill="#bac6fb" stroke="#bac6fb"/><path d="M313.1 132L318.8 131.8 314.6 129.7 309.2 129.9Z" fill="#f6f8ff" stroke="#f6f8ff"/><path d="M221.4 132.9L225.4 131.8 223.3 130.4 219.4 131.6Z" fill="#3758f2" stroke="#3758f2"/><path d="M307.5 132.1L313.1 132 309.2 129.9 303.8 130.2Z" fill="#f6f8ff" stroke="#f6f8ff"/><path d="M278.4 132.4L283.2 131.8 280.1 130 275.5 130.7Z" fill="#f6f8ff" stroke="#f6f8ff"/><path d="M244.2 132.9L248.4 131.9 246 130.4 241.9 131.4Z" fill="#889cf8" stroke="#889cf8"/><path d="M349.9 132.5L357.2 133.1 351.3 130.4 344.4 129.8Z" fill="#f6f8ff" stroke="#f6f8ff"/><path d="M227.4 133.1L231.5 132.1 229.4 130.7 225.4 131.8Z" fill="#4161f3" stroke="#4161f3"/><path d="M302 132.4L307.5 132.1 303.8 130.2 298.5 130.4Z" fill="#f6f8ff" stroke="#f6f8ff"/><path d="M262 133.1L266.5 132.3 263.7 130.6 259.4 131.5Z" fill="#d5dcfd" stroke="#d5dcfd"/><path d="M296.6 132.7L302 132.4 298.5 130.4 293.2 130.8Z" fill="#f6f8ff" stroke="#f6f8ff"/><path d="M233.7 133.4L237.8 132.4 235.6 131 231.5 132.1Z" fill="#5a75f4" stroke="#5a75f4"/><path d="M250.8 133.4L255.1 132.5 252.6 130.9 248.4 131.9Z" fill="#a7b6fa" stroke="#a7b6fa"/><path d="M178.4 134.6L182.4 133.4 180.8 132.4 176.9 133.6Z" fill="#4463f2" stroke="#4463f2"/><path d="M273.8 133.1L278.4 132.4 275.5 130.7 270.9 131.5Z" fill="#f2f4ff" stroke="#f2f4ff"/><path d="M206.1 134L209.8 132.7 207.9 131.5 204.3 132.8Z" fill="#3758f2" stroke="#3758f2"/><path d="M200.5 134.1L204.3 132.8 202.5 131.7 198.8 133Z" fill="#3859f2" stroke="#3859f2"/><path d="M183.9 134.5L187.9 133.3 186.3 132.2 182.4 133.4Z" fill="#405ff2" stroke="#405ff2"/><path d="M195 134.3L198.8 133 197.1 131.9 193.4 133.2Z" fill="#395af2" stroke="#395af2"/><path d="M189.5 134.4L193.4 133.2 191.7 132.1 187.9 133.3Z" fill="#3c5cf2" stroke="#3c5cf2"/><path d="M211.7 134L215.5 132.7 213.6 131.5 209.8 132.7Z" fill="#3758f2" stroke="#3758f2"/><path d="M291.3 133.1L296.6 132.7 293.2 130.8 288.1 131.2Z" fill="#f6f8ff" stroke="#f6f8ff"/><path d="M217.4 134L221.4 132.9 219.4 131.6 215.5 132.7Z" fill="#3758f2" stroke="#3758f2"/><path d="M240 133.9L244.2 132.9 241.9 131.4 237.8 132.4Z" fill="#758cf6" stroke="#758cf6"/><path d="M223.4 134.2L227.4 133.1 225.4 131.8 221.4 132.9Z" fill="#3a5af2" stroke="#3a5af2"/><path d="M286.2 133.5L291.3 133.1 288.1 131.2 283.2 131.8Z" fill="#f6f8ff" stroke="#f6f8ff"/><path d="M257.6 134L262 133.1 259.4 131.5 255.1 132.5Z" fill="#c4cefc" stroke="#c4cefc"/><path d="M269.2 133.9L273.8 133.1 270.9 131.5 266.5 132.3Z" fill="#e9edfe" stroke="#e9edfe"/><path d="M229.5 134.5L233.7 133.4 231.5 132.1 227.4 133.1Z" fill="#4c69f3" stroke="#4c69f3"/><path d="M246.5 134.3L250.8 133.4 248.4 131.9 244.2 132.9Z" fill="#93a5f8" stroke="#93a5f8"/><path d="M174.3 135.7L178.4 134.6 176.9 133.6 172.8 134.7Z" fill="#4967f3" stroke="#4967f3"/><path d="M179.9 135.6L183.9 134.5 182.4 133.4 178.4 134.6Z" fill="#4463f2" stroke="#4463f2"/><path d="M185.5 135.5L189.5 134.4 187.9 133.3 183.9 134.5Z" fill="#405ff2" stroke="#405ff2"/><path d="M281.4 134.1L286.2 133.5 283.2 131.8 278.4 132.4Z" fill="#f6f8ff" stroke="#f6f8ff"/><path d="M191.1 135.4L195 134.3 193.4 133.2 189.5 134.4Z" fill="#3c5cf2" stroke="#3c5cf2"/><path d="M196.7 135.4L200.5 134.1 198.8 133 195 134.3Z" fill="#395af2" stroke="#395af2"/><path d="M202.3 135.3L206.1 134 204.3 132.8 200.5 134.1Z" fill="#3859f2" stroke="#3859f2"/><path d="M207.9 135.2L211.7 134 209.8 132.7 206.1 134Z" fill="#3758f2" stroke="#3758f2"/><path d="M235.8 134.8L240 133.9 237.8 132.4 233.7 133.4Z" fill="#637df5" stroke="#637df5"/><path d="M328.9 133.9L335.1 134 330.5 131.7 324.5 131.7Z" fill="#f6f8ff" stroke="#f6f8ff"/><path d="M322.9 133.9L328.9 133.9 324.5 131.7 318.8 131.8Z" fill="#f6f8ff" stroke="#f6f8ff"/><path d="M213.5 135.2L217.4 134 215.5 132.7 211.7 134Z" fill="#3758f2" stroke="#3758f2"/><path d="M335.1 134L341.6 134.2 336.7 131.9 330.5 131.7Z" fill="#f6f8ff" stroke="#f6f8ff"/><path d="M317.1 134L322.9 133.9 318.8 131.8 313.1 132Z" fill="#f6f8ff" stroke="#f6f8ff"/><path d="M264.6 134.7L269.2 133.9 266.5 132.3 262 133.1Z" fill="#dde3fd" stroke="#dde3fd"/><path d="M253.2 134.9L257.6 134 255.1 132.5 250.8 133.4Z" fill="#b1bffa" stroke="#b1bffa"/><path d="M219.4 135.3L223.4 134.2 221.4 132.9 217.4 134Z" fill="#3758f2" stroke="#3758f2"/><path d="M311.3 134.1L317.1 134 313.1 132 307.5 132.1Z" fill="#f6f8ff" stroke="#f6f8ff"/><path d="M341.6 134.2L348.3 134.6 343.1 132.1 336.7 131.9Z" fill="#f6f8ff" stroke="#f6f8ff"/><path d="M305.5 134.3L311.3 134.1 307.5 132.1 302 132.4Z" fill="#f6f8ff" stroke="#f6f8ff"/><path d="M242.3 135.3L246.5 134.3 244.2 132.9 240 133.9Z" fill="#7f95f7" stroke="#7f95f7"/><path d="M276.6 134.8L281.4 134.1 278.4 132.4 273.8 133.1Z" fill="#f5f7ff" stroke="#f5f7ff"/><path d="M225.4 135.5L229.5 134.5 227.4 133.1 223.4 134.2Z" fill="#4060f3" stroke="#4060f3"/><path d="M300 134.6L305.5 134.3 302 132.4 296.6 132.7Z" fill="#f6f8ff" stroke="#f6f8ff"/><path d="M348.3 134.6L355.4 135.1 349.9 132.5 343.1 132.1Z" fill="#f6f8ff" stroke="#f6f8ff"/><path d="M170.2 136.8L174.3 135.7 172.8 134.7 168.7 135.8Z" fill="#4e6cf3" stroke="#4e6cf3"/><path d="M175.8 136.7L179.9 135.6 178.4 134.6 174.3 135.7Z" fill="#4967f3" stroke="#4967f3"/><path d="M294.5 134.9L300 134.6 296.6 132.7 291.3 133.1Z" fill="#f6f8ff" stroke="#f6f8ff"/><path d="M181.4 136.6L185.5 135.5 183.9 134.5 179.9 135.6Z" fill="#4463f2" stroke="#4463f2"/><path d="M231.6 135.8L235.8 134.8 233.7 133.4 229.5 134.5Z" fill="#5370f4" stroke="#5370f4"/><path d="M260.1 135.6L264.6 134.7 262 133.1 257.6 134Z" fill="#ced6fc" stroke="#ced6fc"/><path d="M187 136.6L191.1 135.4 189.5 134.4 185.5 135.5Z" fill="#405ff2" stroke="#405ff2"/><path d="M192.7 136.5L196.7 135.4 195 134.3 191.1 135.4Z" fill="#3c5cf2" stroke="#3c5cf2"/><path d="M248.9 135.8L253.2 134.9 250.8 133.4 246.5 134.3Z" fill="#9eaef9" stroke="#9eaef9"/><path d="M198.3 136.5L202.3 135.3 200.5 134.1 196.7 135.4Z" fill="#395af2" stroke="#395af2"/><path d="M204 136.4L207.9 135.2 206.1 134 202.3 135.3Z" fill="#3859f2" stroke="#3859f2"/><path d="M271.9 135.6L276.6 134.8 273.8 133.1 269.2 133.9Z" fill="#eff2fe" stroke="#eff2fe"/><path d="M355.4 135.1L363.1 135.9 357.2 133.1 349.9 132.5Z" fill="#f6f8ff" stroke="#f6f8ff"/><path d="M209.7 136.4L213.5 135.2 211.7 134 207.9 135.2Z" fill="#3758f2" stroke="#3758f2"/><path d="M289.3 135.3L294.5 134.9 291.3 133.1 286.2 133.5Z" fill="#f6f8ff" stroke="#f6f8ff"/><path d="M215.4 136.4L219.4 135.3 217.4 134 213.5 135.2Z" fill="#3758f2" stroke="#3758f2"/><path d="M238 136.2L242.3 135.3 240 133.9 235.8 134.8Z" fill="#6d85f6" stroke="#6d85f6"/><path d="M221.3 136.6L225.4 135.5 223.4 134.2 219.4 135.3Z" fill="#395af2" stroke="#395af2"/><path d="M166 137.9L170.2 136.8 168.7 135.8 164.6 136.9Z" fill="#5471f3" stroke="#5471f3"/><path d="M284.4 135.9L289.3 135.3 286.2 133.5 281.4 134.1Z" fill="#f6f8ff" stroke="#f6f8ff"/><path d="M171.6 137.8L175.8 136.7 174.3 135.7 170.2 136.8Z" fill="#4e6cf3" stroke="#4e6cf3"/><path d="M255.6 136.4L260.1 135.6 257.6 134 253.2 134.9Z" fill="#bdc8fb" stroke="#bdc8fb"/><path d="M177.2 137.7L181.4 136.6 179.9 135.6 175.8 136.7Z" fill="#4967f3" stroke="#4967f3"/><path d="M267.3 136.4L271.9 135.6 269.2 133.9 264.6 134.7Z" fill="#e5e9fe" stroke="#e5e9fe"/><path d="M227.4 136.8L231.6 135.8 229.5 134.5 225.4 135.5Z" fill="#4665f3" stroke="#4665f3"/><path d="M244.5 136.7L248.9 135.8 246.5 134.3 242.3 135.3Z" fill="#8a9ef8" stroke="#8a9ef8"/><path d="M182.9 137.7L187 136.6 185.5 135.5 181.4 136.6Z" fill="#4463f2" stroke="#4463f2"/><path d="M188.6 137.6L192.7 136.5 191.1 135.4 187 136.6Z" fill="#405ff2" stroke="#405ff2"/><path d="M194.3 137.6L198.3 136.5 196.7 135.4 192.7 136.5Z" fill="#3c5cf2" stroke="#3c5cf2"/><path d="M200 137.6L204 136.4 202.3 135.3 198.3 136.5Z" fill="#395af2" stroke="#395af2"/><path d="M279.5 136.5L284.4 135.9 281.4 134.1 276.6 134.8Z" fill="#f6f8ff" stroke="#f6f8ff"/><path d="M233.7 137.2L238 136.2 235.8 134.8 231.6 135.8Z" fill="#5c77f4" stroke="#5c77f4"/><path d="M205.7 137.6L209.7 136.4 207.9 135.2 204 136.4Z" fill="#3859f2" stroke="#3859f2"/><path d="M211.5 137.6L215.4 136.4 213.5 135.2 209.7 136.4Z" fill="#3758f2" stroke="#3758f2"/><path d="M327.1 136.1L333.3 136.1 328.9 133.9 322.9 133.9Z" fill="#f6f8ff" stroke="#f6f8ff"/><path d="M321 136.1L327.1 136.1 322.9 133.9 317.1 134Z" fill="#f6f8ff" stroke="#f6f8ff"/><path d="M315 136.1L321 136.1 317.1 134 311.3 134.1Z" fill="#f6f8ff" stroke="#f6f8ff"/><path d="M309.1 136.2L315 136.1 311.3 134.1 305.5 134.3Z" fill="#f6f8ff" stroke="#f6f8ff"/><path d="M333.3 136.1L339.8 136.3 335.1 134 328.9 133.9Z" fill="#f6f8ff" stroke="#f6f8ff"/><path d="M262.6 137.2L267.3 136.4 264.6 134.7 260.1 135.6Z" fill="#d7defd" stroke="#d7defd"/><path d="M251.2 137.3L255.6 136.4 253.2 134.9 248.9 135.8Z" fill="#aab8fa" stroke="#aab8fa"/><path d="M161.9 139L166 137.9 164.6 136.9 160.6 138Z" fill="#5b77f3" stroke="#5b77f3"/><path d="M217.3 137.7L221.3 136.6 219.4 135.3 215.4 136.4Z" fill="#3758f2" stroke="#3758f2"/><path d="M167.4 138.8L171.6 137.8 170.2 136.8 166 137.9Z" fill="#5471f3" stroke="#5471f3"/><path d="M303.4 136.4L309.1 136.2 305.5 134.3 300 134.6Z" fill="#f6f8ff" stroke="#f6f8ff"/><path d="M173.1 138.8L177.2 137.7 175.8 136.7 171.6 137.8Z" fill="#4e6cf3" stroke="#4e6cf3"/><path d="M339.8 136.3L346.5 136.6 341.6 134.2 335.1 134Z" fill="#f6f8ff" stroke="#f6f8ff"/><path d="M297.8 136.7L303.4 136.4 300 134.6 294.5 134.9Z" fill="#f6f8ff" stroke="#f6f8ff"/><path d="M240.2 137.6L244.5 136.7 242.3 135.3 238 136.2Z" fill="#778ef6" stroke="#778ef6"/><path d="M223.3 137.8L227.4 136.8 225.4 135.5 221.3 136.6Z" fill="#3d5df2" stroke="#3d5df2"/><path d="M274.7 137.2L279.5 136.5 276.6 134.8 271.9 135.6Z" fill="#f3f5ff" stroke="#f3f5ff"/><path d="M178.7 138.7L182.9 137.7 181.4 136.6 177.2 137.7Z" fill="#4967f3" stroke="#4967f3"/><path d="M184.4 138.7L188.6 137.6 187 136.6 182.9 137.7Z" fill="#4463f2" stroke="#4463f2"/><path d="M346.5 136.6L353.5 137.1 348.3 134.6 341.6 134.2Z" fill="#f6f8ff" stroke="#f6f8ff"/><path d="M292.5 137.1L297.8 136.7 294.5 134.9 289.3 135.3Z" fill="#f6f8ff" stroke="#f6f8ff"/><path d="M190.2 138.7L194.3 137.6 192.7 136.5 188.6 137.6Z" fill="#405ff2" stroke="#405ff2"/><path d="M229.5 138.1L233.7 137.2 231.6 135.8 227.4 136.8Z" fill="#4d6af3" stroke="#4d6af3"/><path d="M258.1 138L262.6 137.2 260.1 135.6 255.6 136.4Z" fill="#c8d1fc" stroke="#c8d1fc"/><path d="M195.9 138.7L200 137.6 198.3 136.5 194.3 137.6Z" fill="#3c5cf2" stroke="#3c5cf2"/><path d="M246.8 138.2L251.2 137.3 248.9 135.8 244.5 136.7Z" fill="#96a8f8" stroke="#96a8f8"/><path d="M201.7 138.7L205.7 137.6 204 136.4 200 137.6Z" fill="#395af2" stroke="#395af2"/><path d="M269.9 138L274.7 137.2 271.9 135.6 267.3 136.4Z" fill="#ebeffe" stroke="#ebeffe"/><path d="M287.4 137.6L292.5 137.1 289.3 135.3 284.4 135.9Z" fill="#f6f8ff" stroke="#f6f8ff"/><path d="M207.5 138.8L211.5 137.6 209.7 136.4 205.7 137.6Z" fill="#3859f2" stroke="#3859f2"/><path d="M157.8 140.1L161.9 139 160.6 138 156.5 139.1Z" fill="#617df3" stroke="#617df3"/><path d="M163.3 140L167.4 138.8 166 137.9 161.9 139Z" fill="#5b77f3" stroke="#5b77f3"/><path d="M353.5 137.1L360.9 137.7 355.4 135.1 348.3 134.6Z" fill="#f6f8ff" stroke="#f6f8ff"/><path d="M168.8 139.8L173.1 138.8 171.6 137.8 167.4 138.8Z" fill="#5471f3" stroke="#5471f3"/><path d="M213.3 138.8L217.3 137.7 215.4 136.4 211.5 137.6Z" fill="#3758f2" stroke="#3758f2"/><path d="M235.8 138.5L240.2 137.6 238 136.2 233.7 137.2Z" fill="#657ff5" stroke="#657ff5"/><path d="M174.5 139.8L178.7 138.7 177.2 137.7 173.1 138.8Z" fill="#4e6cf3" stroke="#4e6cf3"/><path d="M219.2 138.9L223.3 137.8 221.3 136.6 217.3 137.7Z" fill="#3859f2" stroke="#3859f2"/><path d="M180.2 139.7L184.4 138.7 182.9 137.7 178.7 138.7Z" fill="#4967f3" stroke="#4967f3"/><path d="M282.4 138.2L287.4 137.6 284.4 135.9 279.5 136.5Z" fill="#f6f8ff" stroke="#f6f8ff"/><path d="M253.6 138.8L258.1 138 255.6 136.4 251.2 137.3Z" fill="#b6c2fb" stroke="#b6c2fb"/><path d="M186 139.7L190.2 138.7 188.6 137.6 184.4 138.7Z" fill="#4463f2" stroke="#4463f2"/><path d="M265.2 138.7L269.9 138 267.3 136.4 262.6 137.2Z" fill="#e0e5fd" stroke="#e0e5fd"/><path d="M225.2 139.1L229.5 138.1 227.4 136.8 223.3 137.8Z" fill="#4161f3" stroke="#4161f3"/><path d="M242.4 139L246.8 138.2 244.5 136.7 240.2 137.6Z" fill="#8398f7" stroke="#8398f7"/><path d="M191.7 139.7L195.9 138.7 194.3 137.6 190.2 138.7Z" fill="#405ff2" stroke="#405ff2"/><path d="M360.9 137.7L369.1 138.6 363.1 135.9 355.4 135.1Z" fill="#f6f8ff" stroke="#f6f8ff"/><path d="M197.5 139.8L201.7 138.7 200 137.6 195.9 138.7Z" fill="#3c5cf2" stroke="#3c5cf2"/><path d="M153.6 141.2L157.8 140.1 156.5 139.1 152.3 140.2Z" fill="#6883f4" stroke="#6883f4"/><path d="M159.2 141.1L163.3 140 161.9 139 157.8 140.1Z" fill="#617df3" stroke="#617df3"/><path d="M164.6 140.9L168.8 139.8 167.4 138.8 163.3 140Z" fill="#5b77f3" stroke="#5b77f3"/><path d="M231.5 139.5L235.8 138.5 233.7 137.2 229.5 138.1Z" fill="#5571f4" stroke="#5571f4"/><path d="M203.4 139.8L207.5 138.8 205.7 137.6 201.7 138.7Z" fill="#395af2" stroke="#395af2"/><path d="M277.5 138.9L282.4 138.2 279.5 136.5 274.7 137.2Z" fill="#f5f7ff" stroke="#f5f7ff"/><path d="M170.1 140.7L174.5 139.8 173.1 138.8 168.8 139.8Z" fill="#5471f3" stroke="#5471f3"/><path d="M312.7 138.1L318.8 138.1 315 136.1 309.1 136.2Z" fill="#f6f8ff" stroke="#f6f8ff"/><path d="M306.8 138.3L312.7 138.1 309.1 136.2 303.4 136.4Z" fill="#f6f8ff" stroke="#f6f8ff"/><path d="M318.8 138.1L325 138.1 321 136.1 315 136.1Z" fill="#f6f8ff" stroke="#f6f8ff"/><path d="M209.2 139.9L213.3 138.8 211.5 137.6 207.5 138.8Z" fill="#3859f2" stroke="#3859f2"/><path d="M325 138.1L331.3 138.2 327.1 136.1 321 136.1Z" fill="#f6f8ff" stroke="#f6f8ff"/><path d="M301.1 138.5L306.8 138.3 303.4 136.4 297.8 136.7Z" fill="#f6f8ff" stroke="#f6f8ff"/><path d="M260.5 139.5L265.2 138.7 262.6 137.2 258.1 138Z" fill="#d2dafc" stroke="#d2dafc"/><path d="M175.9 140.7L180.2 139.7 178.7 138.7 174.5 139.8Z" fill="#4e6cf3" stroke="#4e6cf3"/><path d="M249.1 139.6L253.6 138.8 251.2 137.3 246.8 138.2Z" fill="#a3b3f9" stroke="#a3b3f9"/><path d="M331.3 138.2L337.7 138.3 333.3 136.1 327.1 136.1Z" fill="#f6f8ff" stroke="#f6f8ff"/><path d="M215.1 140L219.2 138.9 217.3 137.7 213.3 138.8Z" fill="#3758f2" stroke="#3758f2"/><path d="M295.6 138.9L301.1 138.5 297.8 136.7 292.5 137.1Z" fill="#f6f8ff" stroke="#f6f8ff"/><path d="M181.7 140.7L186 139.7 184.4 138.7 180.2 139.7Z" fill="#4967f3" stroke="#4967f3"/><path d="M238 139.9L242.4 139 240.2 137.6 235.8 138.5Z" fill="#7188f6" stroke="#7188f6"/><path d="M337.7 138.3L344.5 138.6 339.8 136.3 333.3 136.1Z" fill="#f6f8ff" stroke="#f6f8ff"/><path d="M221.1 140.2L225.2 139.1 223.3 137.8 219.2 138.9Z" fill="#3a5af2" stroke="#3a5af2"/><path d="M272.6 139.6L277.5 138.9 274.7 137.2 269.9 138Z" fill="#f0f3ff" stroke="#f0f3ff"/><path d="M187.5 140.8L191.7 139.7 190.2 138.7 186 139.7Z" fill="#4463f2" stroke="#4463f2"/><path d="M290.4 139.4L295.6 138.9 292.5 137.1 287.4 137.6Z" fill="#f6f8ff" stroke="#f6f8ff"/><path d="M149.3 142.2L153.6 141.2 152.3 140.2 148 141.1Z" fill="#6f89f4" stroke="#6f89f4"/><path d="M193.3 140.8L197.5 139.8 195.9 138.7 191.7 139.7Z" fill="#405ff2" stroke="#405ff2"/><path d="M344.5 138.6L351.5 139 346.5 136.6 339.8 136.3Z" fill="#f6f8ff" stroke="#f6f8ff"/><path d="M155 142.1L159.2 141.1 157.8 140.1 153.6 141.2Z" fill="#6883f4" stroke="#6883f4"/><path d="M227.2 140.4L231.5 139.5 229.5 138.1 225.2 139.1Z" fill="#4866f3" stroke="#4866f3"/><path d="M160.5 142L164.6 140.9 163.3 140 159.2 141.1Z" fill="#617df3" stroke="#617df3"/><path d="M166 141.8L170.1 140.7 168.8 139.8 164.6 140.9Z" fill="#5b77f3" stroke="#5b77f3"/><path d="M255.9 140.3L260.5 139.5 258.1 138 253.6 138.8Z" fill="#c2ccfb" stroke="#c2ccfb"/><path d="M199.2 140.9L203.4 139.8 201.7 138.7 197.5 139.8Z" fill="#3c5cf2" stroke="#3c5cf2"/><path d="M244.6 140.4L249.1 139.6 246.8 138.2 242.4 139Z" fill="#90a3f8" stroke="#90a3f8"/><path d="M171.5 141.7L175.9 140.7 174.5 139.8 170.1 140.7Z" fill="#5471f3" stroke="#5471f3"/><path d="M205.1 141L209.2 139.9 207.5 138.8 203.4 139.8Z" fill="#395af2" stroke="#395af2"/><path d="M267.8 140.3L272.6 139.6 269.9 138 265.2 138.7Z" fill="#e7ecfe" stroke="#e7ecfe"/><path d="M285.3 139.9L290.4 139.4 287.4 137.6 282.4 138.2Z" fill="#f6f8ff" stroke="#f6f8ff"/><path d="M177.4 141.7L181.7 140.7 180.2 139.7 175.9 140.7Z" fill="#4e6cf3" stroke="#4e6cf3"/><path d="M351.5 139L358.8 139.5 353.5 137.1 346.5 136.6Z" fill="#f6f8ff" stroke="#f6f8ff"/><path d="M211 141.1L215.1 140 213.3 138.8 209.2 139.9Z" fill="#3859f2" stroke="#3859f2"/><path d="M233.6 140.8L238 139.9 235.8 138.5 231.5 139.5Z" fill="#5f7af5" stroke="#5f7af5"/><path d="M183.2 141.7L187.5 140.8 186 139.7 181.7 140.7Z" fill="#4967f3" stroke="#4967f3"/><path d="M216.9 141.2L221.1 140.2 219.2 138.9 215.1 140Z" fill="#3758f2" stroke="#3758f2"/><path d="M144.9 143.1L149.3 142.2 148 141.1 143.5 142Z" fill="#768ff4" stroke="#768ff4"/><path d="M189 141.8L193.3 140.8 191.7 139.7 187.5 140.8Z" fill="#4463f2" stroke="#4463f2"/><path d="M280.3 140.6L285.3 139.9 282.4 138.2 277.5 138.9Z" fill="#f6f8ff" stroke="#f6f8ff"/><path d="M251.4 141.1L255.9 140.3 253.6 138.8 249.1 139.6Z" fill="#b0befa" stroke="#b0befa"/><path d="M150.7 143.2L155 142.1 153.6 141.2 149.3 142.2Z" fill="#6f89f4" stroke="#6f89f4"/><path d="M263 141.1L267.8 140.3 265.2 138.7 260.5 139.5Z" fill="#dbe2fd" stroke="#dbe2fd"/><path d="M223 141.4L227.2 140.4 225.2 139.1 221.1 140.2Z" fill="#3e5ef2" stroke="#3e5ef2"/><path d="M240.1 141.3L244.6 140.4 242.4 139 238 139.9Z" fill="#7e93f7" stroke="#7e93f7"/><path d="M156.3 143.1L160.5 142 159.2 141.1 155 142.1Z" fill="#6883f4" stroke="#6883f4"/><path d="M194.9 141.9L199.2 140.9 197.5 139.8 193.3 140.8Z" fill="#405ff2" stroke="#405ff2"/><path d="M161.9 143L166 141.8 164.6 140.9 160.5 142Z" fill="#617df3" stroke="#617df3"/><path d="M167.4 142.8L171.5 141.7 170.1 140.7 166 141.8Z" fill="#5b77f3" stroke="#5b77f3"/><path d="M358.8 139.5L366.6 140.3 360.9 137.7 353.5 137.1Z" fill="#f6f8ff" stroke="#f6f8ff"/><path d="M172.9 142.6L177.4 141.7 175.9 140.7 171.5 141.7Z" fill="#5471f3" stroke="#5471f3"/><path d="M200.8 142L205.1 141 203.4 139.8 199.2 140.9Z" fill="#3c5cf2" stroke="#3c5cf2"/><path d="M310.3 140.2L316.3 140.1 312.7 138.1 306.8 138.3Z" fill="#f6f8ff" stroke="#f6f8ff"/><path d="M304.4 140.4L310.3 140.2 306.8 138.3 301.1 138.5Z" fill="#f6f8ff" stroke="#f6f8ff"/><path d="M229.2 141.7L233.6 140.8 231.5 139.5 227.2 140.4Z" fill="#516ef4" stroke="#516ef4"/><path d="M275.3 141.2L280.3 140.6 277.5 138.9 272.6 139.6Z" fill="#f3f6ff" stroke="#f3f6ff"/><path d="M316.3 140.1L322.6 140.1 318.8 138.1 312.7 138.1Z" fill="#f6f8ff" stroke="#f6f8ff"/><path d="M140.4 143.9L144.9 143.1 143.5 142 139 142.9Z" fill="#7d95f4" stroke="#7d95f4"/><path d="M298.8 140.7L304.4 140.4 301.1 138.5 295.6 138.9Z" fill="#f6f8ff" stroke="#f6f8ff"/><path d="M206.7 142.1L211 141.1 209.2 139.9 205.1 141Z" fill="#395af2" stroke="#395af2"/><path d="M178.9 142.7L183.2 141.7 181.7 140.7 177.4 141.7Z" fill="#4e6cf3" stroke="#4e6cf3"/><path d="M322.6 140.1L329.1 140.2 325 138.1 318.8 138.1Z" fill="#f6f8ff" stroke="#f6f8ff"/><path d="M258.3 141.8L263 141.1 260.5 139.5 255.9 140.3Z" fill="#cdd6fc" stroke="#cdd6fc"/><path d="M246.8 141.9L251.4 141.1 249.1 139.6 244.6 140.4Z" fill="#9eaef9" stroke="#9eaef9"/><path d="M212.7 142.3L216.9 141.2 215.1 140 211 141.1Z" fill="#3859f2" stroke="#3859f2"/><path d="M329.1 140.2L335.5 140.3 331.3 138.2 325 138.1Z" fill="#f6f8ff" stroke="#f6f8ff"/><path d="M184.7 142.8L189 141.8 187.5 140.8 183.2 141.7Z" fill="#4967f3" stroke="#4967f3"/><path d="M146.3 144.1L150.7 143.2 149.3 142.2 144.9 143.1Z" fill="#768ff4" stroke="#768ff4"/><path d="M293.4 141.1L298.8 140.7 295.6 138.9 290.4 139.4Z" fill="#f6f8ff" stroke="#f6f8ff"/><path d="M235.6 142.1L240.1 141.3 238 139.9 233.6 140.8Z" fill="#6c85f5" stroke="#6c85f5"/><path d="M335.5 140.3L342.2 140.5 337.7 138.3 331.3 138.2Z" fill="#f6f8ff" stroke="#f6f8ff"/><path d="M270.3 141.9L275.3 141.2 272.6 139.6 267.8 140.3Z" fill="#edf0fe" stroke="#edf0fe"/><path d="M152.1 144.1L156.3 143.1 155 142.1 150.7 143.2Z" fill="#6f89f4" stroke="#6f89f4"/><path d="M218.8 142.4L223 141.4 221.1 140.2 216.9 141.2Z" fill="#3859f2" stroke="#3859f2"/><path d="M190.6 142.8L194.9 141.9 193.3 140.8 189 141.8Z" fill="#4463f2" stroke="#4463f2"/><path d="M366.6 140.3L375.1 141.4 369.1 138.6 360.9 137.7Z" fill="#f6f8ff" stroke="#f6f8ff"/><path d="M157.7 144.1L161.9 143 160.5 142 156.3 143.1Z" fill="#6883f4" stroke="#6883f4"/><path d="M163.2 143.9L167.4 142.8 166 141.8 161.9 143Z" fill="#617df3" stroke="#617df3"/><path d="M168.7 143.7L172.9 142.6 171.5 141.7 167.4 142.8Z" fill="#5b77f3" stroke="#5b77f3"/><path d="M135.9 144.7L140.4 143.9 139 142.9 134.4 143.7Z" fill="#849bf5" stroke="#849bf5"/><path d="M288.2 141.7L293.4 141.1 290.4 139.4 285.3 139.9Z" fill="#f6f8ff" stroke="#f6f8ff"/><path d="M196.5 143L200.8 142 199.2 140.9 194.9 141.9Z" fill="#405ff2" stroke="#405ff2"/><path d="M342.2 140.5L349.2 140.9 344.5 138.6 337.7 138.3Z" fill="#f6f8ff" stroke="#f6f8ff"/><path d="M224.9 142.7L229.2 141.7 227.2 140.4 223 141.4Z" fill="#4564f3" stroke="#4564f3"/><path d="M174.3 143.6L178.9 142.7 177.4 141.7 172.9 142.6Z" fill="#5471f3" stroke="#5471f3"/><path d="M253.7 142.6L258.3 141.8 255.9 140.3 251.4 141.1Z" fill="#bdc8fb" stroke="#bdc8fb"/><path d="M202.5 143.1L206.7 142.1 205.1 141 200.8 142Z" fill="#3c5cf2" stroke="#3c5cf2"/><path d="M242.2 142.7L246.8 141.9 244.6 140.4 240.1 141.3Z" fill="#8c9ff7" stroke="#8c9ff7"/><path d="M141.8 145L146.3 144.1 144.9 143.1 140.4 143.9Z" fill="#7d95f4" stroke="#7d95f4"/><path d="M265.5 142.6L270.3 141.9 267.8 140.3 263 141.1Z" fill="#e3e8fe" stroke="#e3e8fe"/><path d="M180.3 143.7L184.7 142.8 183.2 141.7 178.9 142.7Z" fill="#4e6cf3" stroke="#4e6cf3"/><path d="M283.1 142.3L288.2 141.7 285.3 139.9 280.3 140.6Z" fill="#f6f8ff" stroke="#f6f8ff"/><path d="M208.4 143.3L212.7 142.3 211 141.1 206.7 142.1Z" fill="#395af2" stroke="#395af2"/><path d="M231.2 143L235.6 142.1 233.6 140.8 229.2 141.7Z" fill="#5c77f4" stroke="#5c77f4"/><path d="M349.2 140.9L356.5 141.4 351.5 139 344.5 138.6Z" fill="#f6f8ff" stroke="#f6f8ff"/><path d="M147.7 145.1L152.1 144.1 150.7 143.2 146.3 144.1Z" fill="#768ff4" stroke="#768ff4"/><path d="M131.2 145.5L135.9 144.7 134.4 143.7 129.8 144.4Z" fill="#8aa0f5" stroke="#8aa0f5"/><path d="M186.2 143.8L190.6 142.8 189 141.8 184.7 142.8Z" fill="#4967f3" stroke="#4967f3"/><path d="M214.5 143.4L218.8 142.4 216.9 141.2 212.7 142.3Z" fill="#3859f2" stroke="#3859f2"/><path d="M153.4 145.1L157.7 144.1 156.3 143.1 152.1 144.1Z" fill="#6f89f4" stroke="#6f89f4"/><path d="M159.1 145L163.2 143.9 161.9 143 157.7 144.1Z" fill="#6883f4" stroke="#6883f4"/><path d="M192.1 143.9L196.5 143 194.9 141.9 190.6 142.8Z" fill="#4463f2" stroke="#4463f2"/><path d="M278 142.9L283.1 142.3 280.3 140.6 275.3 141.2Z" fill="#f5f7ff" stroke="#f5f7ff"/><path d="M249 143.3L253.7 142.6 251.4 141.1 246.8 141.9Z" fill="#abbafa" stroke="#abbafa"/><path d="M164.6 144.9L168.7 143.7 167.4 142.8 163.2 143.9Z" fill="#617df3" stroke="#617df3"/><path d="M170.1 144.7L174.3 143.6 172.9 142.6 168.7 143.7Z" fill="#5b77f3" stroke="#5b77f3"/><path d="M260.7 143.3L265.5 142.6 263 141.1 258.3 141.8Z" fill="#d7defd" stroke="#d7defd"/><path d="M137.3 145.8L141.8 145 140.4 143.9 135.9 144.7Z" fill="#849bf5" stroke="#849bf5"/><path d="M220.6 143.7L224.9 142.7 223 141.4 218.8 142.4Z" fill="#3d5df2" stroke="#3d5df2"/><path d="M237.7 143.5L242.2 142.7 240.1 141.3 235.6 142.1Z" fill="#7a90f6" stroke="#7a90f6"/><path d="M198.1 144L202.5 143.1 200.8 142 196.5 143Z" fill="#405ff2" stroke="#405ff2"/><path d="M175.7 144.6L180.3 143.7 178.9 142.7 174.3 143.6Z" fill="#5471f3" stroke="#5471f3"/><path d="M307.7 142.2L313.7 142.1 310.3 140.2 304.4 140.4Z" fill="#f6f8ff" stroke="#f6f8ff"/><path d="M356.5 141.4L364.2 142 358.8 139.5 351.5 139Z" fill="#f6f8ff" stroke="#f6f8ff"/><path d="M126.6 146.2L131.2 145.5 129.8 144.4 125.1 145.1Z" fill="#90a6f5" stroke="#90a6f5"/><path d="M301.9 142.5L307.7 142.2 304.4 140.4 298.8 140.7Z" fill="#f6f8ff" stroke="#f6f8ff"/><path d="M313.7 142.1L320 142 316.3 140.1 310.3 140.2Z" fill="#f6f8ff" stroke="#f6f8ff"/><path d="M143.2 146L147.7 145.1 146.3 144.1 141.8 145Z" fill="#7d95f4" stroke="#7d95f4"/><path d="M272.9 143.5L278 142.9 275.3 141.2 270.3 141.9Z" fill="#f1f4ff" stroke="#f1f4ff"/><path d="M226.8 144L231.2 143 229.2 141.7 224.9 142.7Z" fill="#4f6cf3" stroke="#4f6cf3"/><path d="M204.1 144.2L208.4 143.3 206.7 142.1 202.5 143.1Z" fill="#3c5cf2" stroke="#3c5cf2"/><path d="M320 142L326.5 142.1 322.6 140.1 316.3 140.1Z" fill="#f6f8ff" stroke="#f6f8ff"/><path d="M296.5 142.9L301.9 142.5 298.8 140.7 293.4 141.1Z" fill="#f6f8ff" stroke="#f6f8ff"/><path d="M181.8 144.7L186.2 143.8 184.7 142.8 180.3 143.7Z" fill="#4e6cf3" stroke="#4e6cf3"/><path d="M149.1 146.1L153.4 145.1 152.1 144.1 147.7 145.1Z" fill="#768ff4" stroke="#768ff4"/><path d="M256 144L260.7 143.3 258.3 141.8 253.7 142.6Z" fill="#c8d2fc" stroke="#c8d2fc"/><path d="M244.4 144.1L249 143.3 246.8 141.9 242.2 142.7Z" fill="#9aabf8" stroke="#9aabf8"/><path d="M326.5 142.1L333.1 142.2 329.1 140.2 322.6 140.1Z" fill="#f6f8ff" stroke="#f6f8ff"/><path d="M210.2 144.4L214.5 143.4 212.7 142.3 208.4 143.3Z" fill="#3a5af2" stroke="#3a5af2"/><path d="M132.7 146.6L137.3 145.8 135.9 144.7 131.2 145.5Z" fill="#8aa0f5" stroke="#8aa0f5"/><path d="M187.7 144.8L192.1 143.9 190.6 142.8 186.2 143.8Z" fill="#4967f3" stroke="#4967f3"/><path d="M291.1 143.4L296.5 142.9 293.4 141.1 288.2 141.7Z" fill="#f6f8ff" stroke="#f6f8ff"/><path d="M121.8 146.9L126.6 146.2 125.1 145.1 120.4 145.7Z" fill="#96abf5" stroke="#96abf5"/><path d="M154.8 146.1L159.1 145 157.7 144.1 153.4 145.1Z" fill="#6f89f4" stroke="#6f89f4"/><path d="M233.2 144.3L237.7 143.5 235.6 142.1 231.2 143Z" fill="#6a83f5" stroke="#6a83f5"/><path d="M160.4 146L164.6 144.9 163.2 143.9 159.1 145Z" fill="#6883f4" stroke="#6883f4"/><path d="M268 144.2L272.9 143.5 270.3 141.9 265.5 142.6Z" fill="#eaeefe" stroke="#eaeefe"/><path d="M333.1 142.2L339.8 142.4 335.5 140.3 329.1 140.2Z" fill="#f6f8ff" stroke="#f6f8ff"/><path d="M166 145.8L170.1 144.7 168.7 143.7 164.6 144.9Z" fill="#617df3" stroke="#617df3"/><path d="M216.3 144.6L220.6 143.7 218.8 142.4 214.5 143.4Z" fill="#3a5bf2" stroke="#3a5bf2"/><path d="M171.5 145.6L175.7 144.6 174.3 143.6 170.1 144.7Z" fill="#5b77f3" stroke="#5b77f3"/><path d="M364.2 142L372.3 142.8 366.6 140.3 358.8 139.5Z" fill="#f6f8ff" stroke="#f6f8ff"/><path d="M193.7 145L198.1 144 196.5 143 192.1 143.9Z" fill="#4463f2" stroke="#4463f2"/><path d="M138.7 146.8L143.2 146 141.8 145 137.3 145.8Z" fill="#849bf5" stroke="#849bf5"/><path d="M285.9 143.9L291.1 143.4 288.2 141.7 283.1 142.3Z" fill="#f6f8ff" stroke="#f6f8ff"/><path d="M177.1 145.6L181.8 144.7 180.3 143.7 175.7 144.6Z" fill="#5471f3" stroke="#5471f3"/><path d="M339.8 142.4L346.7 142.7 342.2 140.5 335.5 140.3Z" fill="#f6f8ff" stroke="#f6f8ff"/><path d="M199.7 145.1L204.1 144.2 202.5 143.1 198.1 144Z" fill="#405ff2" stroke="#405ff2"/><path d="M222.4 144.9L226.8 144 224.9 142.7 220.6 143.7Z" fill="#4564f3" stroke="#4564f3"/><path d="M117 147.4L121.8 146.9 120.4 145.7 115.5 146.1Z" fill="#9baff5" stroke="#9baff5"/><path d="M128 147.3L132.7 146.6 131.2 145.5 126.6 146.2Z" fill="#90a6f5" stroke="#90a6f5"/><path d="M251.2 144.7L256 144 253.7 142.6 249 143.3Z" fill="#b8c5fa" stroke="#b8c5fa"/><path d="M239.8 144.8L244.4 144.1 242.2 142.7 237.7 143.5Z" fill="#899df7" stroke="#899df7"/><path d="M144.6 147L149.1 146.1 147.7 145.1 143.2 146Z" fill="#7d95f4" stroke="#7d95f4"/><path d="M263.1 144.8L268 144.2 265.5 142.6 260.7 143.3Z" fill="#dfe5fd" stroke="#dfe5fd"/><path d="M183.3 145.7L187.7 144.8 186.2 143.8 181.8 144.7Z" fill="#4e6cf3" stroke="#4e6cf3"/><path d="M205.8 145.3L210.2 144.4 208.4 143.3 204.1 144.2Z" fill="#3c5df2" stroke="#3c5df2"/><path d="M280.7 144.5L285.9 143.9 283.1 142.3 278 142.9Z" fill="#f6f8ff" stroke="#f6f8ff"/><path d="M111.8 147.6L117 147.4 115.5 146.1 110.3 146.3Z" fill="#a0b3f6" stroke="#a0b3f6"/><path d="M150.4 147.1L154.8 146.1 153.4 145.1 149.1 146.1Z" fill="#768ff4" stroke="#768ff4"/><path d="M228.7 145.2L233.2 144.3 231.2 143 226.8 144Z" fill="#5b77f4" stroke="#5b77f4"/><path d="M346.7 142.7L354 143.2 349.2 140.9 342.2 140.5Z" fill="#f6f8ff" stroke="#f6f8ff"/><path d="M134.1 147.6L138.7 146.8 137.3 145.8 132.7 146.6Z" fill="#8aa0f5" stroke="#8aa0f5"/><path d="M189.2 145.8L193.7 145 192.1 143.9 187.7 144.8Z" fill="#4967f3" stroke="#4967f3"/><path d="M156.2 147L160.4 146 159.1 145 154.8 146.1Z" fill="#6f89f4" stroke="#6f89f4"/><path d="M211.9 145.6L216.3 144.6 214.5 143.4 210.2 144.4Z" fill="#3c5cf2" stroke="#3c5cf2"/><path d="M123.3 148L128 147.3 126.6 146.2 121.8 146.9Z" fill="#96abf5" stroke="#96abf5"/><path d="M161.8 146.9L166 145.8 164.6 144.9 160.4 146Z" fill="#6883f4" stroke="#6883f4"/><path d="M167.4 146.8L171.5 145.6 170.1 144.7 166 145.8Z" fill="#617df3" stroke="#617df3"/><path d="M172.9 146.6L177.1 145.6 175.7 144.6 171.5 145.6Z" fill="#5b77f3" stroke="#5b77f3"/><path d="M275.5 145.1L280.7 144.5 278 142.9 272.9 143.5Z" fill="#f4f6ff" stroke="#f4f6ff"/><path d="M106.9 148L111.8 147.6 110.3 146.3 105.4 146.6Z" fill="#a4b7f6" stroke="#a4b7f6"/><path d="M372.3 142.8L381.2 144.1 375.1 141.4 366.6 140.3Z" fill="#f6f8ff" stroke="#f6f8ff"/><path d="M246.5 145.5L251.2 144.7 249 143.3 244.4 144.1Z" fill="#a8b7f9" stroke="#a8b7f9"/><path d="M195.2 146L199.7 145.1 198.1 144 193.7 145Z" fill="#4463f2" stroke="#4463f2"/><path d="M258.3 145.5L263.1 144.8 260.7 143.3 256 144Z" fill="#d3dbfc" stroke="#d3dbfc"/><path d="M305.1 144.3L311 144 307.7 142.2 301.9 142.5Z" fill="#f6f8ff" stroke="#f6f8ff"/><path d="M140.1 147.8L144.6 147 143.2 146 138.7 146.8Z" fill="#849bf5" stroke="#849bf5"/><path d="M218 145.8L222.4 144.9 220.6 143.7 216.3 144.6Z" fill="#4060f2" stroke="#4060f2"/><path d="M311 144L317.2 143.9 313.7 142.1 307.7 142.2Z" fill="#f6f8ff" stroke="#f6f8ff"/><path d="M235.2 145.7L239.8 144.8 237.7 143.5 233.2 144.3Z" fill="#788ff6" stroke="#788ff6"/><path d="M178.5 146.5L183.3 145.7 181.8 144.7 177.1 145.6Z" fill="#5471f3" stroke="#5471f3"/><path d="M354 143.2L361.6 143.7 356.5 141.4 349.2 140.9Z" fill="#f6f8ff" stroke="#f6f8ff"/><path d="M299.5 144.6L305.1 144.3 301.9 142.5 296.5 142.9Z" fill="#f6f8ff" stroke="#f6f8ff"/><path d="M317.2 143.9L323.7 143.9 320 142 313.7 142.1Z" fill="#f6f8ff" stroke="#f6f8ff"/><path d="M201.3 146.2L205.8 145.3 204.1 144.2 199.7 145.1Z" fill="#4060f2" stroke="#4060f2"/><path d="M129.5 148.4L134.1 147.6 132.7 146.6 128 147.3Z" fill="#90a6f5" stroke="#90a6f5"/><path d="M118.5 148.5L123.3 148 121.8 146.9 117 147.4Z" fill="#9baff5" stroke="#9baff5"/><path d="M270.5 145.7L275.5 145.1 272.9 143.5 268 144.2Z" fill="#eff2fe" stroke="#eff2fe"/><path d="M146 148L150.4 147.1 149.1 146.1 144.6 147Z" fill="#7d95f4" stroke="#7d95f4"/><path d="M224.3 146.1L228.7 145.2 226.8 144 222.4 144.9Z" fill="#506df3" stroke="#506df3"/><path d="M294.1 145.1L299.5 144.6 296.5 142.9 291.1 143.4Z" fill="#f6f8ff" stroke="#f6f8ff"/><path d="M323.7 143.9L330.4 144.1 326.5 142.1 320 142Z" fill="#f6f8ff" stroke="#f6f8ff"/><path d="M184.7 146.7L189.2 145.8 187.7 144.8 183.3 145.7Z" fill="#4e6cf3" stroke="#4e6cf3"/><path d="M207.4 146.4L211.9 145.6 210.2 144.4 205.8 145.3Z" fill="#3f5ff2" stroke="#3f5ff2"/><path d="M151.8 148L156.2 147 154.8 146.1 150.4 147.1Z" fill="#768ff4" stroke="#768ff4"/><path d="M241.9 146.2L246.5 145.5 244.4 144.1 239.8 144.8Z" fill="#97a9f8" stroke="#97a9f8"/><path d="M253.5 146.2L258.3 145.5 256 144 251.2 144.7Z" fill="#c4cffb" stroke="#c4cffb"/><path d="M113.4 148.9L118.5 148.5 117 147.4 111.8 147.6Z" fill="#a0b3f6" stroke="#a0b3f6"/><path d="M135.5 148.7L140.1 147.8 138.7 146.8 134.1 147.6Z" fill="#8aa0f5" stroke="#8aa0f5"/><path d="M157.6 148L161.8 146.9 160.4 146 156.2 147Z" fill="#6f89f4" stroke="#6f89f4"/><path d="M190.7 146.9L195.2 146 193.7 145 189.2 145.8Z" fill="#4967f3" stroke="#4967f3"/><path d="M102.9 148.9L106.9 148 105.4 146.6 101.3 147.4Z" fill="#a7b9f6" stroke="#a7b9f6"/><path d="M288.7 145.6L294.1 145.1 291.1 143.4 285.9 143.9Z" fill="#f6f8ff" stroke="#f6f8ff"/><path d="M330.4 144.1L337.2 144.3 333.1 142.2 326.5 142.1Z" fill="#f6f8ff" stroke="#f6f8ff"/><path d="M163.2 147.8L167.4 146.8 166 145.8 161.8 146.9Z" fill="#6883f4" stroke="#6883f4"/><path d="M168.8 147.7L172.9 146.6 171.5 145.6 167.4 146.8Z" fill="#617df3" stroke="#617df3"/><path d="M230.7 146.5L235.2 145.7 233.2 144.3 228.7 145.2Z" fill="#6983f5" stroke="#6983f5"/><path d="M174.3 147.6L178.5 146.5 177.1 145.6 172.9 146.6Z" fill="#5b77f3" stroke="#5b77f3"/><path d="M265.5 146.4L270.5 145.7 268 144.2 263.1 144.8Z" fill="#e7ebfe" stroke="#e7ebfe"/><path d="M213.6 146.7L218 145.8 216.3 144.6 211.9 145.6Z" fill="#4060f2" stroke="#4060f2"/><path d="M361.6 143.7L369.6 144.5 364.2 142 356.5 141.4Z" fill="#f6f8ff" stroke="#f6f8ff"/><path d="M124.8 149.1L129.5 148.4 128 147.3 123.3 148Z" fill="#96abf5" stroke="#96abf5"/><path d="M196.8 147.1L201.3 146.2 199.7 145.1 195.2 146Z" fill="#4463f2" stroke="#4463f2"/><path d="M108.5 149.3L113.4 148.9 111.8 147.6 106.9 148Z" fill="#a4b7f6" stroke="#a4b7f6"/><path d="M179.9 147.5L184.7 146.7 183.3 145.7 178.5 146.5Z" fill="#5471f3" stroke="#5471f3"/><path d="M283.4 146.2L288.7 145.6 285.9 143.9 280.7 144.5Z" fill="#f6f8ff" stroke="#f6f8ff"/><path d="M141.5 148.8L146 148 144.6 147 140.1 147.8Z" fill="#849bf5" stroke="#849bf5"/><path d="M337.2 144.3L344.1 144.5 339.8 142.4 333.1 142.2Z" fill="#f6f8ff" stroke="#f6f8ff"/><path d="M219.8 147L224.3 146.1 222.4 144.9 218 145.8Z" fill="#4967f3" stroke="#4967f3"/><path d="M248.7 146.9L253.5 146.2 251.2 144.7 246.5 145.5Z" fill="#b5c2fa" stroke="#b5c2fa"/><path d="M237.2 147L241.9 146.2 239.8 144.8 235.2 145.7Z" fill="#879cf7" stroke="#879cf7"/><path d="M202.9 147.3L207.4 146.4 205.8 145.3 201.3 146.2Z" fill="#4262f2" stroke="#4262f2"/><path d="M147.4 148.9L151.8 148 150.4 147.1 146 148Z" fill="#7d95f4" stroke="#7d95f4"/><path d="M130.9 149.5L135.5 148.7 134.1 147.6 129.5 148.4Z" fill="#90a6f5" stroke="#90a6f5"/><path d="M120 149.7L124.8 149.1 123.3 148 118.5 148.5Z" fill="#9baff5" stroke="#9baff5"/><path d="M260.6 147L265.5 146.4 263.1 144.8 258.3 145.5Z" fill="#dce2fd" stroke="#dce2fd"/><path d="M278.1 146.7L283.4 146.2 280.7 144.5 275.5 145.1Z" fill="#f6f8ff" stroke="#f6f8ff"/><path d="M186.2 147.8L190.7 146.9 189.2 145.8 184.7 146.7Z" fill="#4e6cf3" stroke="#4e6cf3"/><path d="M344.1 144.5L351.3 144.9 346.7 142.7 339.8 142.4Z" fill="#f6f8ff" stroke="#f6f8ff"/><path d="M153.2 149L157.6 148 156.2 147 151.8 148Z" fill="#768ff4" stroke="#768ff4"/><path d="M226.2 147.4L230.7 146.5 228.7 145.2 224.3 146.1Z" fill="#5d78f4" stroke="#5d78f4"/><path d="M209.1 147.6L213.6 146.7 211.9 145.6 207.4 146.4Z" fill="#4362f2" stroke="#4362f2"/><path d="M158.9 148.9L163.2 147.8 161.8 146.9 157.6 148Z" fill="#6f89f4" stroke="#6f89f4"/><path d="M192.3 147.9L196.8 147.1 195.2 146 190.7 146.9Z" fill="#4968f3" stroke="#4968f3"/><path d="M170.1 148.6L174.3 147.6 172.9 146.6 168.8 147.7Z" fill="#617df3" stroke="#617df3"/><path d="M164.6 148.8L168.8 147.7 167.4 146.8 163.2 147.8Z" fill="#6883f4" stroke="#6883f4"/><path d="M137 149.7L141.5 148.8 140.1 147.8 135.5 148.7Z" fill="#8aa0f5" stroke="#8aa0f5"/><path d="M175.7 148.5L179.9 147.5 178.5 146.5 174.3 147.6Z" fill="#5b77f3" stroke="#5b77f3"/><path d="M369.6 144.5L378 145.4 372.3 142.8 364.2 142Z" fill="#f6f8ff" stroke="#f6f8ff"/><path d="M114.9 150.1L120 149.7 118.5 148.5 113.4 148.9Z" fill="#a0b3f6" stroke="#a0b3f6"/><path d="M273 147.3L278.1 146.7 275.5 145.1 270.5 145.7Z" fill="#f2f5ff" stroke="#f2f5ff"/><path d="M308.3 146.1L314.4 145.9 311 144 305.1 144.3Z" fill="#f6f8ff" stroke="#f6f8ff"/><path d="M104.4 150.3L108.5 149.3 106.9 148 102.9 148.9Z" fill="#a7b9f6" stroke="#a7b9f6"/><path d="M243.9 147.6L248.7 146.9 246.5 145.5 241.9 146.2Z" fill="#a6b5f9" stroke="#a6b5f9"/><path d="M302.6 146.4L308.3 146.1 305.1 144.3 299.5 144.6Z" fill="#f6f8ff" stroke="#f6f8ff"/><path d="M314.4 145.9L320.8 145.8 317.2 143.9 311 144Z" fill="#f6f8ff" stroke="#f6f8ff"/><path d="M98.8 149.6L102.9 148.9 101.3 147.4 97.2 148.1Z" fill="#a9bbf6" stroke="#a9bbf6"/><path d="M126.3 150.2L130.9 149.5 129.5 148.4 124.8 149.1Z" fill="#96abf5" stroke="#96abf5"/><path d="M215.3 147.9L219.8 147 218 145.8 213.6 146.7Z" fill="#4766f3" stroke="#4766f3"/><path d="M255.7 147.6L260.6 147 258.3 145.5 253.5 146.2Z" fill="#cfd8fc" stroke="#cfd8fc"/><path d="M232.6 147.8L237.2 147 235.2 145.7 230.7 146.5Z" fill="#788ff6" stroke="#788ff6"/><path d="M181.3 148.5L186.2 147.8 184.7 146.7 179.9 147.5Z" fill="#5471f3" stroke="#5471f3"/><path d="M198.4 148.1L202.9 147.3 201.3 146.2 196.8 147.1Z" fill="#4665f3" stroke="#4665f3"/><path d="M351.3 144.9L358.8 145.4 354 143.2 346.7 142.7Z" fill="#f6f8ff" stroke="#f6f8ff"/><path d="M142.9 149.8L147.4 148.9 146 148 141.5 148.8Z" fill="#849bf5" stroke="#849bf5"/><path d="M297.1 146.8L302.6 146.4 299.5 144.6 294.1 145.1Z" fill="#f6f8ff" stroke="#f6f8ff"/><path d="M320.8 145.8L327.4 145.9 323.7 143.9 317.2 143.9Z" fill="#f6f8ff" stroke="#f6f8ff"/><path d="M110.1 150.6L114.9 150.1 113.4 148.9 108.5 149.3Z" fill="#a4b7f6" stroke="#a4b7f6"/><path d="M267.9 147.9L273 147.3 270.5 145.7 265.5 146.4Z" fill="#ecf0fe" stroke="#ecf0fe"/><path d="M221.6 148.2L226.2 147.4 224.3 146.1 219.8 147Z" fill="#5471f3" stroke="#5471f3"/><path d="M148.8 149.9L153.2 149 151.8 148 147.4 148.9Z" fill="#7d95f4" stroke="#7d95f4"/><path d="M204.5 148.4L209.1 147.6 207.4 146.4 202.9 147.3Z" fill="#4665f3" stroke="#4665f3"/><path d="M291.6 147.3L297.1 146.8 294.1 145.1 288.7 145.6Z" fill="#f6f8ff" stroke="#f6f8ff"/><path d="M132.4 150.5L137 149.7 135.5 148.7 130.9 149.5Z" fill="#90a6f5" stroke="#90a6f5"/><path d="M187.7 148.8L192.3 147.9 190.7 146.9 186.2 147.8Z" fill="#4e6cf3" stroke="#4e6cf3"/><path d="M121.5 150.8L126.3 150.2 124.8 149.1 120 149.7Z" fill="#9baff5" stroke="#9baff5"/><path d="M327.4 145.9L334.3 146.1 330.4 144.1 323.7 143.9Z" fill="#f6f8ff" stroke="#f6f8ff"/><path d="M239.2 148.3L243.9 147.6 241.9 146.2 237.2 147Z" fill="#96a8f8" stroke="#96a8f8"/><path d="M154.6 149.9L158.9 148.9 157.6 148 153.2 149Z" fill="#768ff4" stroke="#768ff4"/><path d="M250.9 148.3L255.7 147.6 253.5 146.2 248.7 146.9Z" fill="#c2cdfb" stroke="#c2cdfb"/><path d="M286.1 147.8L291.6 147.3 288.7 145.6 283.4 146.2Z" fill="#f6f8ff" stroke="#f6f8ff"/><path d="M160.3 149.8L164.6 148.8 163.2 147.8 158.9 148.9Z" fill="#6f89f4" stroke="#6f89f4"/><path d="M171.5 149.6L175.7 148.5 174.3 147.6 170.1 148.6Z" fill="#617df3" stroke="#617df3"/><path d="M210.7 148.7L215.3 147.9 213.6 146.7 209.1 147.6Z" fill="#4967f3" stroke="#4967f3"/><path d="M177.1 149.5L181.3 148.5 179.9 147.5 175.7 148.5Z" fill="#5b77f3" stroke="#5b77f3"/><path d="M166 149.7L170.1 148.6 168.8 147.7 164.6 148.8Z" fill="#6883f4" stroke="#6883f4"/><path d="M228 148.6L232.6 147.8 230.7 146.5 226.2 147.4Z" fill="#6b84f5" stroke="#6b84f5"/><path d="M193.8 148.9L198.4 148.1 196.8 147.1 192.3 147.9Z" fill="#4b69f3" stroke="#4b69f3"/><path d="M358.8 145.4L366.7 146.1 361.6 143.7 354 143.2Z" fill="#f6f8ff" stroke="#f6f8ff"/><path d="M263 148.5L267.9 147.9 265.5 146.4 260.6 147Z" fill="#e3e9fd" stroke="#e3e9fd"/><path d="M138.4 150.7L142.9 149.8 141.5 148.8 137 149.7Z" fill="#8aa0f5" stroke="#8aa0f5"/><path d="M116.4 151.2L121.5 150.8 120 149.7 114.9 150.1Z" fill="#a0b3f6" stroke="#a0b3f6"/><path d="M334.3 146.1L341.3 146.3 337.2 144.3 330.4 144.1Z" fill="#f6f8ff" stroke="#f6f8ff"/><path d="M378 145.4L387.4 146.8 381.2 144.1 372.3 142.8Z" fill="#f6f8ff" stroke="#f6f8ff"/><path d="M280.8 148.3L286.1 147.8 283.4 146.2 278.1 146.7Z" fill="#f6f8ff" stroke="#f6f8ff"/><path d="M106 151.6L110.1 150.6 108.5 149.3 104.4 150.3Z" fill="#a7b9f6" stroke="#a7b9f6"/><path d="M182.8 149.5L187.7 148.8 186.2 147.8 181.3 148.5Z" fill="#5472f3" stroke="#5472f3"/><path d="M127.8 151.2L132.4 150.5 130.9 149.5 126.3 150.2Z" fill="#96abf5" stroke="#96abf5"/><path d="M100.4 151.1L104.4 150.3 102.9 148.9 98.8 149.6Z" fill="#a9bbf6" stroke="#a9bbf6"/><path d="M217 149L221.6 148.2 219.8 147 215.3 147.9Z" fill="#506df3" stroke="#506df3"/><path d="M199.9 149.2L204.5 148.4 202.9 147.3 198.4 148.1Z" fill="#4a69f3" stroke="#4a69f3"/><path d="M144.4 150.8L148.8 149.9 147.4 148.9 142.9 149.8Z" fill="#849bf5" stroke="#849bf5"/><path d="M246 149L250.9 148.3 248.7 146.9 243.9 147.6Z" fill="#b3c1fa" stroke="#b3c1fa"/><path d="M234.6 149.1L239.2 148.3 237.2 147 232.6 147.8Z" fill="#879cf7" stroke="#879cf7"/><path d="M94.7 150.1L98.8 149.6 97.2 148.1 93.1 148.4Z" fill="#aabcf6" stroke="#aabcf6"/><path d="M275.5 148.9L280.8 148.3 278.1 146.7 273 147.3Z" fill="#f5f7ff" stroke="#f5f7ff"/><path d="M111.6 151.8L116.4 151.2 114.9 150.1 110.1 150.6Z" fill="#a4b7f6" stroke="#a4b7f6"/><path d="M258 149.1L263 148.5 260.6 147 255.7 147.6Z" fill="#d9e0fd" stroke="#d9e0fd"/><path d="M150.2 150.8L154.6 149.9 153.2 149 148.8 149.9Z" fill="#7d95f4" stroke="#7d95f4"/><path d="M341.3 146.3L348.5 146.6 344.1 144.5 337.2 144.3Z" fill="#f6f8ff" stroke="#f6f8ff"/><path d="M206.1 149.5L210.7 148.7 209.1 147.6 204.5 148.4Z" fill="#4c6af3" stroke="#4c6af3"/><path d="M189.2 149.8L193.8 148.9 192.3 147.9 187.7 148.8Z" fill="#506ef3" stroke="#506ef3"/><path d="M223.4 149.4L228 148.6 226.2 147.4 221.6 148.2Z" fill="#617cf4" stroke="#617cf4"/><path d="M133.9 151.5L138.4 150.7 137 149.7 132.4 150.5Z" fill="#90a6f5" stroke="#90a6f5"/><path d="M156 150.8L160.3 149.8 158.9 148.9 154.6 149.9Z" fill="#768ff4" stroke="#768ff4"/><path d="M366.7 146.1L375 147 369.6 144.5 361.6 143.7Z" fill="#f6f8ff" stroke="#f6f8ff"/><path d="M123 151.9L127.8 151.2 126.3 150.2 121.5 150.8Z" fill="#9baff5" stroke="#9baff5"/><path d="M161.7 150.7L166 149.7 164.6 148.8 160.3 149.8Z" fill="#6f89f4" stroke="#6f89f4"/><path d="M178.5 150.4L182.8 149.5 181.3 148.5 177.1 149.5Z" fill="#5b77f3" stroke="#5b77f3"/><path d="M172.9 150.5L177.1 149.5 175.7 148.5 171.5 149.6Z" fill="#617df3" stroke="#617df3"/><path d="M311.6 147.9L317.8 147.7 314.4 145.9 308.3 146.1Z" fill="#f6f8ff" stroke="#f6f8ff"/><path d="M167.4 150.6L171.5 149.6 170.1 148.6 166 149.7Z" fill="#6883f4" stroke="#6883f4"/><path d="M305.7 148.2L311.6 147.9 308.3 146.1 302.6 146.4Z" fill="#f6f8ff" stroke="#f6f8ff"/><path d="M270.4 149.4L275.5 148.9 273 147.3 267.9 147.9Z" fill="#f0f3ff" stroke="#f0f3ff"/><path d="M195.3 150L199.9 149.2 198.4 148.1 193.8 148.9Z" fill="#4f6df3" stroke="#4f6df3"/><path d="M212.4 149.8L217 149 215.3 147.9 210.7 148.7Z" fill="#506ef3" stroke="#506ef3"/><path d="M241.3 149.7L246 149 243.9 147.6 239.2 148.3Z" fill="#a4b5f8" stroke="#a4b5f8"/><path d="M317.8 147.7L324.3 147.7 320.8 145.8 314.4 145.9Z" fill="#f6f8ff" stroke="#f6f8ff"/><path d="M300.1 148.6L305.7 148.2 302.6 146.4 297.1 146.8Z" fill="#f6f8ff" stroke="#f6f8ff"/><path d="M139.9 151.6L144.4 150.8 142.9 149.8 138.4 150.7Z" fill="#8aa0f5" stroke="#8aa0f5"/><path d="M253.1 149.7L258 149.1 255.7 147.6 250.9 148.3Z" fill="#cdd6fc" stroke="#cdd6fc"/><path d="M348.5 146.6L355.9 147.1 351.3 144.9 344.1 144.5Z" fill="#f6f8ff" stroke="#f6f8ff"/><path d="M229.9 149.9L234.6 149.1 232.6 147.8 228 148.6Z" fill="#7a91f5" stroke="#7a91f5"/><path d="M184.2 150.5L189.2 149.8 187.7 148.8 182.8 149.5Z" fill="#5673f3" stroke="#5673f3"/><path d="M294.5 149L300.1 148.6 297.1 146.8 291.6 147.3Z" fill="#f6f8ff" stroke="#f6f8ff"/><path d="M118 152.3L123 151.9 121.5 150.8 116.4 151.2Z" fill="#a0b3f6" stroke="#a0b3f6"/><path d="M201.5 150.3L206.1 149.5 204.5 148.4 199.9 149.2Z" fill="#506df3" stroke="#506df3"/><path d="M324.3 147.7L331.1 147.8 327.4 145.9 320.8 145.8Z" fill="#f6f8ff" stroke="#f6f8ff"/><path d="M129.2 152.2L133.9 151.5 132.4 150.5 127.8 151.2Z" fill="#96abf5" stroke="#96abf5"/><path d="M107.6 152.8L111.6 151.8 110.1 150.6 106 151.6Z" fill="#a7b9f6" stroke="#a7b9f6"/><path d="M145.8 151.7L150.2 150.8 148.8 149.9 144.4 150.8Z" fill="#849bf5" stroke="#849bf5"/><path d="M265.3 150L270.4 149.4 267.9 147.9 263 148.5Z" fill="#eaeefe" stroke="#eaeefe"/><path d="M102 152.4L106 151.6 104.4 150.3 100.4 151.1Z" fill="#a9bbf6" stroke="#a9bbf6"/><path d="M218.8 150.2L223.4 149.4 221.6 148.2 217 149Z" fill="#5b77f3" stroke="#5b77f3"/><path d="M288.9 149.5L294.5 149 291.6 147.3 286.1 147.8Z" fill="#f6f8ff" stroke="#f6f8ff"/><path d="M96.3 151.6L100.4 151.1 98.8 149.6 94.7 150.1Z" fill="#aabcf6" stroke="#aabcf6"/><path d="M151.7 151.7L156 150.8 154.6 149.9 150.2 150.8Z" fill="#7d95f4" stroke="#7d95f4"/><path d="M236.5 150.4L241.3 149.7 239.2 148.3 234.6 149.1Z" fill="#96a9f7" stroke="#96a9f7"/><path d="M190.7 150.8L195.3 150 193.8 148.9 189.2 149.8Z" fill="#5471f3" stroke="#5471f3"/><path d="M248.2 150.3L253.1 149.7 250.9 148.3 246 149Z" fill="#c0cbfa" stroke="#c0cbfa"/><path d="M91.2 150.3L94.7 150.1 93.1 148.4 89.7 148.7Z" fill="#aabcf6" stroke="#aabcf6"/><path d="M283.4 150L288.9 149.5 286.1 147.8 280.8 148.3Z" fill="#f6f8ff" stroke="#f6f8ff"/><path d="M207.8 150.6L212.4 149.8 210.7 148.7 206.1 149.5Z" fill="#5370f3" stroke="#5370f3"/><path d="M113.2 152.9L118 152.3 116.4 151.2 111.6 151.8Z" fill="#a4b7f6" stroke="#a4b7f6"/><path d="M355.9 147.1L363.7 147.7 358.8 145.4 351.3 144.9Z" fill="#f6f8fe" stroke="#f6f8fe"/><path d="M331.1 147.8L338.2 148.1 334.3 146.1 327.4 145.9Z" fill="#f6f8ff" stroke="#f6f8ff"/><path d="M157.4 151.7L161.7 150.7 160.3 149.8 156 150.8Z" fill="#768ff4" stroke="#768ff4"/><path d="M135.3 152.5L139.9 151.6 138.4 150.7 133.9 151.5Z" fill="#90a6f5" stroke="#90a6f5"/><path d="M225.2 150.7L229.9 149.9 228 148.6 223.4 149.4Z" fill="#6f88f5" stroke="#6f88f5"/><path d="M179.9 151.4L184.2 150.5 182.8 149.5 178.5 150.4Z" fill="#5c79f3" stroke="#5c79f3"/><path d="M375 147L383.9 148 378 145.4 369.6 144.5Z" fill="#f6f8ff" stroke="#f6f8ff"/><path d="M174.3 151.5L178.5 150.4 177.1 149.5 172.9 150.5Z" fill="#617df3" stroke="#617df3"/><path d="M163.1 151.6L167.4 150.6 166 149.7 161.7 150.7Z" fill="#6f89f4" stroke="#6f89f4"/><path d="M168.8 151.5L172.9 150.5 171.5 149.6 167.4 150.6Z" fill="#6883f4" stroke="#6883f4"/><path d="M260.3 150.6L265.3 150 263 148.5 258 149.1Z" fill="#e1e7fd" stroke="#e1e7fd"/><path d="M124.5 152.9L129.2 152.2 127.8 151.2 123 151.9Z" fill="#9baff5" stroke="#9baff5"/><path d="M278.1 150.5L283.4 150 280.8 148.3 275.5 148.9Z" fill="#f6f8ff" stroke="#f6f8ff"/><path d="M196.8 151L201.5 150.3 199.9 149.2 195.3 150Z" fill="#5471f3" stroke="#5471f3"/><path d="M214.1 151L218.8 150.2 217 149 212.4 149.8Z" fill="#5975f3" stroke="#5975f3"/><path d="M141.3 152.6L145.8 151.7 144.4 150.8 139.9 151.6Z" fill="#8aa0f5" stroke="#8aa0f5"/><path d="M185.6 151.5L190.7 150.8 189.2 149.8 184.2 150.5Z" fill="#5a76f3" stroke="#5a76f3"/><path d="M243.3 151L248.2 150.3 246 149 241.3 149.7Z" fill="#b2c0f9" stroke="#b2c0f9"/><path d="M338.2 148.1L345.5 148.4 341.3 146.3 334.3 146.1Z" fill="#f6f8ff" stroke="#f6f8ff"/><path d="M231.8 151.1L236.5 150.4 234.6 149.1 229.9 149.9Z" fill="#899ef6" stroke="#899ef6"/><path d="M272.8 151L278.1 150.5 275.5 148.9 270.4 149.4Z" fill="#f3f6ff" stroke="#f3f6ff"/><path d="M203.1 151.3L207.8 150.6 206.1 149.5 201.5 150.3Z" fill="#5673f3" stroke="#5673f3"/><path d="M255.3 151.1L260.3 150.6 258 149.1 253.1 149.7Z" fill="#d6defc" stroke="#d6defc"/><path d="M119.5 153.4L124.5 152.9 123 151.9 118 152.3Z" fill="#a0b3f6" stroke="#a0b3f6"/><path d="M147.2 152.6L151.7 151.7 150.2 150.8 145.8 151.7Z" fill="#849bf5" stroke="#849bf5"/><path d="M130.7 153.2L135.3 152.5 133.9 151.5 129.2 152.2Z" fill="#96abf5" stroke="#96abf5"/><path d="M220.5 151.4L225.2 150.7 223.4 149.4 218.8 150.2Z" fill="#6782f4" stroke="#6782f4"/><path d="M103.5 153.7L107.6 152.8 106 151.6 102 152.4Z" fill="#a9bbf6" stroke="#a9bbf6"/><path d="M109.1 154L113.2 152.9 111.6 151.8 107.6 152.8Z" fill="#a7b9f6" stroke="#a7b9f6"/><path d="M363.7 147.7L371.9 148.5 366.7 146.1 358.8 145.4Z" fill="#f6f8fe" stroke="#f6f8fe"/><path d="M97.9 153.1L102 152.4 100.4 151.1 96.3 151.6Z" fill="#aabcf6" stroke="#aabcf6"/><path d="M153.1 152.6L157.4 151.7 156 150.8 151.7 151.7Z" fill="#7d95f4" stroke="#7d95f4"/><path d="M308.9 149.9L314.8 149.7 311.6 147.9 305.7 148.2Z" fill="#f6f8ff" stroke="#f6f8ff"/><path d="M192.2 151.8L196.8 151 195.3 150 190.7 150.8Z" fill="#5975f3" stroke="#5975f3"/><path d="M314.8 149.7L321.2 149.5 317.8 147.7 311.6 147.9Z" fill="#f6f8ff" stroke="#f6f8ff"/><path d="M92.8 151.9L96.3 151.6 94.7 150.1 91.2 150.3Z" fill="#aabcf6" stroke="#aabcf6"/><path d="M303.1 150.3L308.9 149.9 305.7 148.2 300.1 148.6Z" fill="#f6f8ff" stroke="#f6f8ff"/><path d="M209.4 151.7L214.1 151 212.4 149.8 207.8 150.6Z" fill="#5b77f3" stroke="#5b77f3"/><path d="M267.7 151.5L272.8 151 270.4 149.4 265.3 150Z" fill="#eef2fe" stroke="#eef2fe"/><path d="M181.3 152.4L185.6 151.5 184.2 150.5 179.9 151.4Z" fill="#5f7bf3" stroke="#5f7bf3"/><path d="M158.8 152.6L163.1 151.6 161.7 150.7 157.4 151.7Z" fill="#768ff4" stroke="#768ff4"/><path d="M175.7 152.4L179.9 151.4 178.5 150.4 174.3 151.5Z" fill="#637ef4" stroke="#637ef4"/><path d="M87.7 150.5L91.2 150.3 89.7 148.7 86.2 148.8Z" fill="#acbdf5" stroke="#acbdf5"/><path d="M170.2 152.5L174.3 151.5 172.9 150.5 168.8 151.5Z" fill="#6883f4" stroke="#6883f4"/><path d="M164.5 152.5L168.8 151.5 167.4 150.6 163.1 151.6Z" fill="#6f89f4" stroke="#6f89f4"/><path d="M345.5 148.4L352.8 148.8 348.5 146.6 341.3 146.3Z" fill="#f6f8ff" stroke="#f6f8ff"/><path d="M238.5 151.7L243.3 151 241.3 149.7 236.5 150.4Z" fill="#a5b5f8" stroke="#a5b5f8"/><path d="M297.3 150.7L303.1 150.3 300.1 148.6 294.5 149Z" fill="#f6f8ff" stroke="#f6f8ff"/><path d="M136.8 153.4L141.3 152.6 139.9 151.6 135.3 152.5Z" fill="#90a6f5" stroke="#90a6f5"/><path d="M114.8 154L119.5 153.4 118 152.3 113.2 152.9Z" fill="#a4b7f6" stroke="#a4b7f6"/><path d="M321.2 149.5L327.9 149.6 324.3 147.7 317.8 147.7Z" fill="#f6f8ff" stroke="#f6f8ff"/><path d="M250.3 151.7L255.3 151.1 253.1 149.7 248.2 150.3Z" fill="#cbd4fb" stroke="#cbd4fb"/><path d="M227 151.9L231.8 151.1 229.9 149.9 225.2 150.7Z" fill="#7e95f5" stroke="#7e95f5"/><path d="M198.4 152.1L203.1 151.3 201.5 150.3 196.8 151Z" fill="#5a77f3" stroke="#5a77f3"/><path d="M291.7 151.2L297.3 150.7 294.5 149 288.9 149.5Z" fill="#f6f8ff" stroke="#f6f8ff"/><path d="M126 153.9L130.7 153.2 129.2 152.2 124.5 152.9Z" fill="#9baff5" stroke="#9baff5"/><path d="M187 152.5L192.2 151.8 190.7 150.8 185.6 151.5Z" fill="#5e7af3" stroke="#5e7af3"/><path d="M215.8 152.1L220.5 151.4 218.8 150.2 214.1 151Z" fill="#647ff4" stroke="#647ff4"/><path d="M383.9 148L393.7 149.5 387.4 146.8 378 145.4Z" fill="#f6f8ff" stroke="#f6f8ff"/><path d="M286.1 151.6L291.7 151.2 288.9 149.5 283.4 150Z" fill="#f6f8ff" stroke="#f6f8ff"/><path d="M142.8 153.5L147.2 152.6 145.8 151.7 141.3 152.6Z" fill="#8aa0f5" stroke="#8aa0f5"/><path d="M262.5 152L267.7 151.5 265.3 150 260.3 150.6Z" fill="#e7ecfe" stroke="#e7ecfe"/><path d="M327.9 149.6L334.8 149.7 331.1 147.8 324.3 147.7Z" fill="#f6f8ff" stroke="#f6f8ff"/><path d="M204.7 152.4L209.4 151.7 207.8 150.6 203.1 151.3Z" fill="#5e7af3" stroke="#5e7af3"/><path d="M280.6 152.1L286.1 151.6 283.4 150 278.1 150.5Z" fill="#f6f8ff" stroke="#f6f8ff"/><path d="M352.8 148.8L360.5 149.2 355.9 147.1 348.5 146.6Z" fill="#f6f8fe" stroke="#f6f8fe"/><path d="M148.7 153.5L153.1 152.6 151.7 151.7 147.2 152.6Z" fill="#849bf5" stroke="#849bf5"/><path d="M233.7 152.4L238.5 151.7 236.5 150.4 231.8 151.1Z" fill="#98aaf7" stroke="#98aaf7"/><path d="M245.4 152.4L250.3 151.7 248.2 150.3 243.3 151Z" fill="#becafa" stroke="#becafa"/><path d="M371.9 148.5L380.5 149.4 375 147 366.7 146.1Z" fill="#f6f8fe" stroke="#f6f8fe"/><path d="M121.1 154.4L126 153.9 124.5 152.9 119.5 153.4Z" fill="#a0b3f6" stroke="#a0b3f6"/><path d="M132.2 154.2L136.8 153.4 135.3 152.5 130.7 153.2Z" fill="#96abf5" stroke="#96abf5"/><path d="M222.3 152.6L227 151.9 225.2 150.7 220.5 151.4Z" fill="#758df5" stroke="#758df5"/><path d="M193.7 152.8L198.4 152.1 196.8 151 192.2 151.8Z" fill="#5f7bf3" stroke="#5f7bf3"/><path d="M154.5 153.5L158.8 152.6 157.4 151.7 153.1 152.6Z" fill="#7d95f4" stroke="#7d95f4"/><path d="M105.1 155L109.1 154 107.6 152.8 103.5 153.7Z" fill="#a9bbf6" stroke="#a9bbf6"/><path d="M182.7 153.4L187 152.5 185.6 151.5 181.3 152.4Z" fill="#647ff4" stroke="#647ff4"/><path d="M257.5 152.6L262.5 152 260.3 150.6 255.3 151.1Z" fill="#dee5fd" stroke="#dee5fd"/><path d="M110.7 155.1L114.8 154 113.2 152.9 109.1 154Z" fill="#a7b9f6" stroke="#a7b9f6"/><path d="M177.1 153.3L181.3 152.4 179.9 151.4 175.7 152.4Z" fill="#6681f4" stroke="#6681f4"/><path d="M99.4 154.5L103.5 153.7 102 152.4 97.9 153.1Z" fill="#aabcf6" stroke="#aabcf6"/><path d="M275.3 152.5L280.6 152.1 278.1 150.5 272.8 151Z" fill="#f5f7ff" stroke="#f5f7ff"/><path d="M160.3 153.5L164.5 152.5 163.1 151.6 158.8 152.6Z" fill="#768ff4" stroke="#768ff4"/><path d="M211 152.8L215.8 152.1 214.1 151 209.4 151.7Z" fill="#647ff4" stroke="#647ff4"/><path d="M171.6 153.4L175.7 152.4 174.3 151.5 170.2 152.5Z" fill="#6a84f4" stroke="#6a84f4"/><path d="M94.4 153.4L97.9 153.1 96.3 151.6 92.8 151.9Z" fill="#aabcf6" stroke="#aabcf6"/><path d="M334.8 149.7L342.2 150 338.2 148.1 331.1 147.8Z" fill="#f6f8ff" stroke="#f6f8ff"/><path d="M165.9 153.4L170.2 152.5 168.8 151.5 164.5 152.5Z" fill="#6f89f4" stroke="#6f89f4"/><path d="M89.3 152L92.8 151.9 91.2 150.3 87.7 150.5Z" fill="#acbdf5" stroke="#acbdf5"/><path d="M138.3 154.3L142.8 153.5 141.3 152.6 136.8 153.4Z" fill="#90a6f5" stroke="#90a6f5"/><path d="M84.2 150.5L87.7 150.5 86.2 148.8 82.6 148.8Z" fill="#b5c3f2" stroke="#b5c3f2"/><path d="M199.9 153.1L204.7 152.4 203.1 151.3 198.4 152.1Z" fill="#627df3" stroke="#627df3"/><path d="M240.5 153L245.4 152.4 243.3 151 238.5 151.7Z" fill="#b2c0f9" stroke="#b2c0f9"/><path d="M116.3 155L121.1 154.4 119.5 153.4 114.8 154Z" fill="#a4b7f6" stroke="#a4b7f6"/><path d="M228.9 153.1L233.7 152.4 231.8 151.1 227 151.9Z" fill="#8ca1f6" stroke="#8ca1f6"/><path d="M188.5 153.5L193.7 152.8 192.2 151.8 187 152.5Z" fill="#647ff4" stroke="#647ff4"/><path d="M270 153L275.3 152.5 272.8 151 267.7 151.5Z" fill="#f2f5ff" stroke="#f2f5ff"/><path d="M252.4 153.1L257.5 152.6 255.3 151.1 250.3 151.7Z" fill="#d4dcfc" stroke="#d4dcfc"/><path d="M360.5 149.2L368.6 150 363.7 147.7 355.9 147.1Z" fill="#f5f7fb" stroke="#f5f7fb"/><path d="M127.5 154.9L132.2 154.2 130.7 153.2 126 153.9Z" fill="#9baff5" stroke="#9baff5"/><path d="M217.5 153.3L222.3 152.6 220.5 151.4 215.8 152.1Z" fill="#7089f4" stroke="#7089f4"/><path d="M144.2 154.4L148.7 153.5 147.2 152.6 142.8 153.5Z" fill="#8aa0f5" stroke="#8aa0f5"/><path d="M312 151.7L318.1 151.5 314.8 149.7 308.9 149.9Z" fill="#f6f8ff" stroke="#f6f8ff"/><path d="M306.1 152.1L312 151.7 308.9 149.9 303.1 150.3Z" fill="#f6f8ff" stroke="#f6f8ff"/><path d="M206.3 153.5L211 152.8 209.4 151.7 204.7 152.4Z" fill="#6782f4" stroke="#6782f4"/><path d="M342.2 150L349.7 150.4 345.5 148.4 338.2 148.1Z" fill="#f6f8ff" stroke="#f6f8ff"/><path d="M300.2 152.4L306.1 152.1 303.1 150.3 297.3 150.7Z" fill="#f6f8ff" stroke="#f6f8ff"/><path d="M318.1 151.5L324.6 151.4 321.2 149.5 314.8 149.7Z" fill="#f6f8ff" stroke="#f6f8ff"/><path d="M150.1 154.4L154.5 153.5 153.1 152.6 148.7 153.5Z" fill="#849bf5" stroke="#849bf5"/><path d="M264.8 153.5L270 153 267.7 151.5 262.5 152Z" fill="#ecf0fe" stroke="#ecf0fe"/><path d="M294.4 152.8L300.2 152.4 297.3 150.7 291.7 151.2Z" fill="#f6f8ff" stroke="#f6f8ff"/><path d="M235.6 153.7L240.5 153 238.5 151.7 233.7 152.4Z" fill="#a6b6f8" stroke="#a6b6f8"/><path d="M195.2 153.9L199.9 153.1 198.4 152.1 193.7 152.8Z" fill="#6681f4" stroke="#6681f4"/><path d="M184.1 154.3L188.5 153.5 187 152.5 182.7 153.4Z" fill="#6984f4" stroke="#6984f4"/><path d="M380.5 149.4L389.8 150.6 383.9 148 375 147Z" fill="#f6f8fd" stroke="#f6f8fd"/><path d="M178.5 154.3L182.7 153.4 181.3 152.4 177.1 153.3Z" fill="#6a84f4" stroke="#6a84f4"/><path d="M224 153.8L228.9 153.1 227 151.9 222.3 152.6Z" fill="#8399f5" stroke="#8399f5"/><path d="M155.9 154.4L160.3 153.5 158.8 152.6 154.5 153.5Z" fill="#7d95f4" stroke="#7d95f4"/><path d="M133.7 155.1L138.3 154.3 136.8 153.4 132.2 154.2Z" fill="#96abf5" stroke="#96abf5"/><path d="M288.7 153.2L294.4 152.8 291.7 151.2 286.1 151.6Z" fill="#f6f8ff" stroke="#f6f8ff"/><path d="M247.4 153.7L252.4 153.1 250.3 151.7 245.4 152.4Z" fill="#c9d4fb" stroke="#c9d4fb"/><path d="M122.6 155.4L127.5 154.9 126 153.9 121.1 154.4Z" fill="#a0b3f6" stroke="#a0b3f6"/><path d="M173 154.3L177.1 153.3 175.7 152.4 171.6 153.4Z" fill="#6c86f4" stroke="#6c86f4"/><path d="M161.7 154.4L165.9 153.4 164.5 152.5 160.3 153.5Z" fill="#768ff4" stroke="#768ff4"/><path d="M167.3 154.3L171.6 153.4 170.2 152.5 165.9 153.4Z" fill="#708af4" stroke="#708af4"/><path d="M324.6 151.4L331.5 151.5 327.9 149.6 321.2 149.5Z" fill="#f6f8ff" stroke="#f6f8ff"/><path d="M212.7 153.9L217.5 153.3 215.8 152.1 211 152.8Z" fill="#6e88f4" stroke="#6e88f4"/><path d="M47.7 192.4L48.3 191.7 47.3 190.4 46.7 191.1Z" fill="#3249d9" stroke="#3249d9"/><path d="M106.7 156.1L110.7 155.1 109.1 154 105.1 155Z" fill="#a9bbf6" stroke="#a9bbf6"/><path d="M283.2 153.7L288.7 153.2 286.1 151.6 280.6 152.1Z" fill="#f6f8ff" stroke="#f6f8ff"/><path d="M101 155.7L105.1 155 103.5 153.7 99.4 154.5Z" fill="#aabcf6" stroke="#aabcf6"/><path d="M96 154.9L99.4 154.5 97.9 153.1 94.4 153.4Z" fill="#aabcf6" stroke="#aabcf6"/><path d="M112.3 156.1L116.3 155 114.8 154 110.7 155.1Z" fill="#a7b9f6" stroke="#a7b9f6"/><path d="M90.9 153.6L94.4 153.4 92.8 151.9 89.3 152Z" fill="#acbdf5" stroke="#acbdf5"/><path d="M48.3 191.7L48.7 190 47.7 188.7 47.3 190.4Z" fill="#3242bc" stroke="#3242bc"/><path d="M259.7 154L264.8 153.5 262.5 152 257.5 152.6Z" fill="#e5eafd" stroke="#e5eafd"/><path d="M201.5 154.2L206.3 153.5 204.7 152.4 199.9 153.1Z" fill="#6a84f4" stroke="#6a84f4"/><path d="M85.8 152.1L89.3 152 87.7 150.5 84.2 150.5Z" fill="#b5c3f2" stroke="#b5c3f2"/><path d="M189.9 154.5L195.2 153.9 193.7 152.8 188.5 153.5Z" fill="#6a85f4" stroke="#6a85f4"/><path d="M139.8 155.2L144.2 154.4 142.8 153.5 138.3 154.3Z" fill="#90a6f5" stroke="#90a6f5"/><path d="M349.7 150.4L357.3 150.9 352.8 148.8 345.5 148.4Z" fill="#f6f8ff" stroke="#f6f8ff"/><path d="M368.6 150L377.1 150.8 371.9 148.5 363.7 147.7Z" fill="#f4f5f7" stroke="#f4f5f7"/><path d="M277.7 154.1L283.2 153.7 280.6 152.1 275.3 152.5Z" fill="#f6f8ff" stroke="#f6f8ff"/><path d="M80.7 150.3L84.2 150.5 82.6 148.8 79.1 148.4Z" fill="#c1cbed" stroke="#c1cbed"/><path d="M230.7 154.3L235.6 153.7 233.7 152.4 228.9 153.1Z" fill="#9aadf7" stroke="#9aadf7"/><path d="M242.4 154.3L247.4 153.7 245.4 152.4 240.5 153Z" fill="#becafa" stroke="#becafa"/><path d="M331.5 151.5L338.6 151.7 334.8 149.7 327.9 149.6Z" fill="#f6f8ff" stroke="#f6f8ff"/><path d="M219.2 154.4L224 153.8 222.3 152.6 217.5 153.3Z" fill="#7c94f5" stroke="#7c94f5"/><path d="M117.9 156L122.6 155.4 121.1 154.4 116.3 155Z" fill="#a4b7f6" stroke="#a4b7f6"/><path d="M145.7 155.3L150.1 154.4 148.7 153.5 144.2 154.4Z" fill="#8aa0f5" stroke="#8aa0f5"/><path d="M129 155.8L133.7 155.1 132.2 154.2 127.5 154.9Z" fill="#9baff5" stroke="#9baff5"/><path d="M48.7 190L49.2 187.5 48.2 186.3 47.7 188.7Z" fill="#323fa8" stroke="#323fa8"/><path d="M207.9 154.6L212.7 153.9 211 152.8 206.3 153.5Z" fill="#708af4" stroke="#708af4"/><path d="M254.5 154.5L259.7 154 257.5 152.6 252.4 153.1Z" fill="#dce3fc" stroke="#dce3fc"/><path d="M272.4 154.5L277.7 154.1 275.3 152.5 270 153Z" fill="#f4f7ff" stroke="#f4f7ff"/><path d="M151.6 155.3L155.9 154.4 154.5 153.5 150.1 154.4Z" fill="#849bf5" stroke="#849bf5"/><path d="M185.5 155.3L189.9 154.5 188.5 153.5 184.1 154.3Z" fill="#6f89f4" stroke="#6f89f4"/><path d="M180 155.2L184.1 154.3 182.7 153.4 178.5 154.3Z" fill="#6f88f4" stroke="#6f88f4"/><path d="M196.7 154.9L201.5 154.2 199.9 153.1 195.2 153.9Z" fill="#6e88f4" stroke="#6e88f4"/><path d="M157.4 155.3L161.7 154.4 160.3 153.5 155.9 154.4Z" fill="#7d95f4" stroke="#7d95f4"/><path d="M174.4 155.2L178.5 154.3 177.1 153.3 173 154.3Z" fill="#7089f4" stroke="#7089f4"/><path d="M225.8 155L230.7 154.3 228.9 153.1 224 153.8Z" fill="#91a5f6" stroke="#91a5f6"/><path d="M168.8 155.2L173 154.3 171.6 153.4 167.3 154.3Z" fill="#738cf4" stroke="#738cf4"/><path d="M44.5 195.1L48.4 193.4 46.7 191.1 42.4 192.6Z" fill="#3250ee" stroke="#3250ee"/><path d="M163.1 155.2L167.3 154.3 165.9 153.4 161.7 154.4Z" fill="#7790f4" stroke="#7790f4"/><path d="M357.3 150.9L365.2 151.4 360.5 149.2 352.8 148.8Z" fill="#f5f7fd" stroke="#f5f7fd"/><path d="M237.5 154.9L242.4 154.3 240.5 153 235.6 153.7Z" fill="#b2c1f9" stroke="#b2c1f9"/><path d="M135.2 156L139.8 155.2 138.3 154.3 133.7 155.1Z" fill="#96abf5" stroke="#96abf5"/><path d="M338.6 151.7L346.2 152 342.2 150 334.8 149.7Z" fill="#f6f8ff" stroke="#f6f8ff"/><path d="M214.3 155.1L219.2 154.4 217.5 153.3 212.7 153.9Z" fill="#7991f4" stroke="#7991f4"/><path d="M267.1 155L272.4 154.5 270 153 264.8 153.5Z" fill="#f0f3fe" stroke="#f0f3fe"/><path d="M124.2 156.3L129 155.8 127.5 154.9 122.6 155.4Z" fill="#a0b3f6" stroke="#a0b3f6"/><path d="M249.5 155.1L254.5 154.5 252.4 153.1 247.4 153.7Z" fill="#d3dbfc" stroke="#d3dbfc"/><path d="M191.4 155.5L196.7 154.9 195.2 153.9 189.9 154.5Z" fill="#728bf4" stroke="#728bf4"/><path d="M203 155.2L207.9 154.6 206.3 153.5 201.5 154.2Z" fill="#738cf4" stroke="#738cf4"/><path d="M48.7 193.7L49.3 192.9 48.3 191.7 47.7 192.4Z" fill="#3249d9" stroke="#3249d9"/><path d="M92.5 155.1L96 154.9 94.4 153.4 90.9 153.6Z" fill="#acbdf5" stroke="#acbdf5"/><path d="M97.5 156.3L101 155.7 99.4 154.5 96 154.9Z" fill="#aabcf6" stroke="#aabcf6"/><path d="M102.6 156.9L106.7 156.1 105.1 155 101 155.7Z" fill="#aabcf6" stroke="#aabcf6"/><path d="M108.2 157.2L112.3 156.1 110.7 155.1 106.7 156.1Z" fill="#a9bbf6" stroke="#a9bbf6"/><path d="M49.2 187.5L49.5 184.3 48.5 183.1 48.2 186.3Z" fill="#36419b" stroke="#36419b"/><path d="M309.1 153.8L315.2 153.5 312 151.7 306.1 152.1Z" fill="#f6f8ff" stroke="#f6f8ff"/><path d="M303.2 154.2L309.1 153.8 306.1 152.1 300.2 152.4Z" fill="#f6f8ff" stroke="#f6f8ff"/><path d="M87.4 153.6L90.9 153.6 89.3 152 85.8 152.1Z" fill="#b5c3f2" stroke="#b5c3f2"/><path d="M315.2 153.5L321.4 153.3 318.1 151.5 312 151.7Z" fill="#f6f8ff" stroke="#f6f8ff"/><path d="M297.2 154.5L303.2 154.2 300.2 152.4 294.4 152.8Z" fill="#f6f8ff" stroke="#f6f8ff"/><path d="M389.8 150.6L400 152.2 393.7 149.5 383.9 148Z" fill="#f6f8fd" stroke="#f6f8fd"/><path d="M141.2 156.1L145.7 155.3 144.2 154.4 139.8 155.2Z" fill="#90a6f5" stroke="#90a6f5"/><path d="M113.8 157.1L117.9 156 116.3 155 112.3 156.1Z" fill="#a7b9f6" stroke="#a7b9f6"/><path d="M49.3 192.9L49.8 191.3 48.7 190 48.3 191.7Z" fill="#3242bc" stroke="#3242bc"/><path d="M377.1 150.8L386.1 151.9 380.5 149.4 371.9 148.5Z" fill="#f3f4f4" stroke="#f3f4f4"/><path d="M291.4 154.9L297.2 154.5 294.4 152.8 288.7 153.2Z" fill="#f6f8ff" stroke="#f6f8ff"/><path d="M82.2 152L85.8 152.1 84.2 150.5 80.7 150.3Z" fill="#c1cbed" stroke="#c1cbed"/><path d="M321.4 153.3L328 153.2 324.6 151.4 318.1 151.5Z" fill="#f6f8ff" stroke="#f6f8ff"/><path d="M261.9 155.4L267.1 155 264.8 153.5 259.7 154Z" fill="#eaeffe" stroke="#eaeffe"/><path d="M232.5 155.6L237.5 154.9 235.6 153.7 230.7 154.3Z" fill="#a8b8f8" stroke="#a8b8f8"/><path d="M220.9 155.6L225.8 155 224 153.8 219.2 154.4Z" fill="#8a9ff5" stroke="#8a9ff5"/><path d="M285.8 155.3L291.4 154.9 288.7 153.2 283.2 153.7Z" fill="#f6f8ff" stroke="#f6f8ff"/><path d="M147.2 156.1L151.6 155.3 150.1 154.4 145.7 155.3Z" fill="#8aa0f5" stroke="#8aa0f5"/><path d="M244.4 155.7L249.5 155.1 247.4 153.7 242.4 154.3Z" fill="#c8d3fb" stroke="#c8d3fb"/><path d="M209.5 155.7L214.3 155.1 212.7 153.9 207.9 154.6Z" fill="#7992f4" stroke="#7992f4"/><path d="M119.5 157L124.2 156.3 122.6 155.4 117.9 156Z" fill="#a4b7f6" stroke="#a4b7f6"/><path d="M130.5 156.7L135.2 156 133.7 155.1 129 155.8Z" fill="#9baff5" stroke="#9baff5"/><path d="M187 156.3L191.4 155.5 189.9 154.5 185.5 155.3Z" fill="#768ff4" stroke="#768ff4"/><path d="M346.2 152L353.9 152.5 349.7 150.4 342.2 150Z" fill="#f6f8ff" stroke="#f6f8ff"/><path d="M280.2 155.7L285.8 155.3 283.2 153.7 277.7 154.1Z" fill="#f6f8ff" stroke="#f6f8ff"/><path d="M77 149.3L80.7 150.3 79.1 148.4 75.4 147.3Z" fill="#cdd4e8" stroke="#cdd4e8"/><path d="M181.4 156.2L185.5 155.3 184.1 154.3 180 155.2Z" fill="#748df4" stroke="#748df4"/><path d="M49.8 191.3L50.2 188.8 49.2 187.5 48.7 190Z" fill="#323fa8" stroke="#323fa8"/><path d="M198.2 155.9L203 155.2 201.5 154.2 196.7 154.9Z" fill="#768ff4" stroke="#768ff4"/><path d="M153 156.1L157.4 155.3 155.9 154.4 151.6 155.3Z" fill="#849bf5" stroke="#849bf5"/><path d="M365.2 151.4L373.6 152.2 368.6 150 360.5 149.2Z" fill="#f3f5f5" stroke="#f3f5f5"/><path d="M328 153.2L335.1 153.4 331.5 151.5 324.6 151.4Z" fill="#f6f8ff" stroke="#f6f8ff"/><path d="M175.8 156.1L180 155.2 178.5 154.3 174.4 155.2Z" fill="#748df4" stroke="#748df4"/><path d="M256.7 155.9L261.9 155.4 259.7 154 254.5 154.5Z" fill="#e3e9fd" stroke="#e3e9fd"/><path d="M158.8 156.1L163.1 155.2 161.7 154.4 157.4 155.3Z" fill="#7e96f4" stroke="#7e96f4"/><path d="M170.2 156.1L174.4 155.2 173 154.3 168.8 155.2Z" fill="#768ff4" stroke="#768ff4"/><path d="M40.7 196.8L44.5 195.1 42.4 192.6 38.1 194.2Z" fill="#3250ee" stroke="#3250ee"/><path d="M164.5 156.1L168.8 155.2 167.3 154.3 163.1 155.2Z" fill="#7992f4" stroke="#7992f4"/><path d="M227.6 156.2L232.5 155.6 230.7 154.3 225.8 155Z" fill="#9eb0f7" stroke="#9eb0f7"/><path d="M274.8 156.1L280.2 155.7 277.7 154.1 272.4 154.5Z" fill="#f5f8ff" stroke="#f5f8ff"/><path d="M216 156.2L220.9 155.6 219.2 154.4 214.3 155.1Z" fill="#859bf5" stroke="#859bf5"/><path d="M49.5 184.3L49.8 180.6 48.8 179.4 48.5 183.1Z" fill="#3c4792" stroke="#3c4792"/><path d="M136.7 156.9L141.2 156.1 139.8 155.2 135.2 156Z" fill="#96abf5" stroke="#96abf5"/><path d="M239.4 156.2L244.4 155.7 242.4 154.3 237.5 154.9Z" fill="#becbfa" stroke="#becbfa"/><path d="M192.8 156.5L198.2 155.9 196.7 154.9 191.4 155.5Z" fill="#7992f4" stroke="#7992f4"/><path d="M204.6 156.3L209.5 155.7 207.9 154.6 203 155.2Z" fill="#7c94f4" stroke="#7c94f4"/><path d="M125.7 157.2L130.5 156.7 129 155.8 124.2 156.3Z" fill="#a0b3f6" stroke="#a0b3f6"/><path d="M94 156.5L97.5 156.3 96 154.9 92.5 155.1Z" fill="#acbdf5" stroke="#acbdf5"/><path d="M251.5 156.5L256.7 155.9 254.5 154.5 249.5 155.1Z" fill="#dbe2fc" stroke="#dbe2fc"/><path d="M335.1 153.4L342.4 153.6 338.6 151.7 331.5 151.5Z" fill="#f6f8ff" stroke="#f6f8ff"/><path d="M99.1 157.5L102.6 156.9 101 155.7 97.5 156.3Z" fill="#aabcf6" stroke="#aabcf6"/><path d="M88.9 155.1L92.5 155.1 90.9 153.6 87.4 153.6Z" fill="#b5c3f2" stroke="#b5c3f2"/><path d="M269.5 156.5L274.8 156.1 272.4 154.5 267.1 155Z" fill="#f3f6ff" stroke="#f3f6ff"/><path d="M50.2 188.8L50.5 185.6 49.5 184.3 49.2 187.5Z" fill="#36419b" stroke="#36419b"/><path d="M49.7 195.1L50.3 194.3 49.3 192.9 48.7 193.7Z" fill="#3249d9" stroke="#3249d9"/><path d="M142.7 157L147.2 156.1 145.7 155.3 141.2 156.1Z" fill="#90a6f5" stroke="#90a6f5"/><path d="M104.1 158.1L108.2 157.2 106.7 156.1 102.6 156.9Z" fill="#aabcf6" stroke="#aabcf6"/><path d="M109.8 158.2L113.8 157.1 112.3 156.1 108.2 157.2Z" fill="#a9bbf6" stroke="#a9bbf6"/><path d="M353.9 152.5L361.7 153 357.3 150.9 349.7 150.4Z" fill="#f6f8ff" stroke="#f6f8ff"/><path d="M83.8 153.6L87.4 153.6 85.8 152.1 82.2 152Z" fill="#c1cbed" stroke="#c1cbed"/><path d="M50.3 194.3L50.8 192.6 49.8 191.3 49.3 192.9Z" fill="#3242bc" stroke="#3242bc"/><path d="M115.4 158.1L119.5 157 117.9 156 113.8 157.1Z" fill="#a7b9f6" stroke="#a7b9f6"/><path d="M222.6 156.7L227.6 156.2 225.8 155 220.9 155.6Z" fill="#96aaf6" stroke="#96aaf6"/><path d="M234.4 156.8L239.4 156.2 237.5 154.9 232.5 155.6Z" fill="#b4c2f9" stroke="#b4c2f9"/><path d="M188.4 157.3L192.8 156.5 191.4 155.5 187 156.3Z" fill="#7d95f4" stroke="#7d95f4"/><path d="M211.1 156.8L216 156.2 214.3 155.1 209.5 155.7Z" fill="#839af5" stroke="#839af5"/><path d="M386.1 151.9L395.7 153.1 389.8 150.6 380.5 149.4Z" fill="#f2f4f3" stroke="#f2f4f3"/><path d="M148.6 157L153 156.1 151.6 155.3 147.2 156.1Z" fill="#8aa1f5" stroke="#8aa1f5"/><path d="M182.8 157.1L187 156.3 185.5 155.3 181.4 156.2Z" fill="#7a92f4" stroke="#7a92f4"/><path d="M78.6 151.2L82.2 152 80.7 150.3 77 149.3Z" fill="#cdd4e8" stroke="#cdd4e8"/><path d="M264.1 156.9L269.5 156.5 267.1 155 261.9 155.4Z" fill="#eef2fe" stroke="#eef2fe"/><path d="M199.8 157L204.6 156.3 203 155.2 198.2 155.9Z" fill="#7e96f4" stroke="#7e96f4"/><path d="M246.4 157L251.5 156.5 249.5 155.1 244.4 155.7Z" fill="#d1dbfb" stroke="#d1dbfb"/><path d="M177.2 157L181.4 156.2 180 155.2 175.8 156.1Z" fill="#7992f4" stroke="#7992f4"/><path d="M36.3 198L40.7 196.8 38.1 194.2 33.9 195.7Z" fill="#3250ee" stroke="#3250ee"/><path d="M132.1 157.6L136.7 156.9 135.2 156 130.5 156.7Z" fill="#9baff5" stroke="#9baff5"/><path d="M373.6 152.2L382.4 153.2 377.1 150.8 368.6 150Z" fill="#f0f2eb" stroke="#f0f2eb"/><path d="M154.5 156.9L158.8 156.1 157.4 155.3 153 156.1Z" fill="#859cf5" stroke="#859cf5"/><path d="M300 156.2L306.1 155.9 303.2 154.2 297.2 154.5Z" fill="#f6f8ff" stroke="#f6f8ff"/><path d="M294.1 156.6L300 156.2 297.2 154.5 291.4 154.9Z" fill="#f6f8ff" stroke="#f6f8ff"/><path d="M306.1 155.9L312.2 155.6 309.1 153.8 303.2 154.2Z" fill="#f6f8ff" stroke="#f6f8ff"/><path d="M121.1 157.9L125.7 157.2 124.2 156.3 119.5 157Z" fill="#a4b7f6" stroke="#a4b7f6"/><path d="M171.6 157L175.8 156.1 174.4 155.2 170.2 156.1Z" fill="#7a92f4" stroke="#7a92f4"/><path d="M50.8 192.6L51.2 190 50.2 188.8 49.8 191.3Z" fill="#323fa8" stroke="#323fa8"/><path d="M312.2 155.6L318.4 155.3 315.2 153.5 309.1 153.8Z" fill="#f6f8ff" stroke="#f6f8ff"/><path d="M160.2 157L164.5 156.1 163.1 155.2 158.8 156.1Z" fill="#8097f5" stroke="#8097f5"/><path d="M166 157L170.2 156.1 168.8 155.2 164.5 156.1Z" fill="#7c94f4" stroke="#7c94f4"/><path d="M288.3 156.9L294.1 156.6 291.4 154.9 285.8 155.3Z" fill="#f6f8ff" stroke="#f6f8ff"/><path d="M318.4 155.3L324.7 155.1 321.4 153.3 315.2 153.5Z" fill="#f6f8ff" stroke="#f6f8ff"/><path d="M342.4 153.6L350.2 154 346.2 152 338.6 151.7Z" fill="#f6f8ff" stroke="#f6f8ff"/><path d="M194.3 157.5L199.8 157 198.2 155.9 192.8 156.5Z" fill="#8198f5" stroke="#8198f5"/><path d="M49.8 180.6L50 176.4 49 175.2 48.8 179.4Z" fill="#434d8a" stroke="#434d8a"/><path d="M217.7 157.3L222.6 156.7 220.9 155.6 216 156.2Z" fill="#90a5f5" stroke="#90a5f5"/><path d="M229.3 157.4L234.4 156.8 232.5 155.6 227.6 156.2Z" fill="#aabbf8" stroke="#aabbf8"/><path d="M46.8 197.6L50.3 195.7 48.4 193.4 44.5 195.1Z" fill="#3250ee" stroke="#3250ee"/><path d="M282.7 157.3L288.3 156.9 285.8 155.3 280.2 155.7Z" fill="#f6f8ff" stroke="#f6f8ff"/><path d="M258.8 157.4L264.1 156.9 261.9 155.4 256.7 155.9Z" fill="#e8edfe" stroke="#e8edfe"/><path d="M206.2 157.4L211.1 156.8 209.5 155.7 204.6 156.3Z" fill="#849bf5" stroke="#849bf5"/><path d="M50.5 185.6L50.8 181.8 49.8 180.6 49.5 184.3Z" fill="#3c4792" stroke="#3c4792"/><path d="M138.2 157.7L142.7 157 141.2 156.1 136.7 156.9Z" fill="#96abf5" stroke="#96abf5"/><path d="M324.7 155.1L331.5 155.1 328 153.2 321.4 153.3Z" fill="#f6f8ff" stroke="#f6f8ff"/><path d="M241.3 157.5L246.4 157 244.4 155.7 239.4 156.2Z" fill="#c8d3fa" stroke="#c8d3fa"/><path d="M361.7 153L369.9 153.6 365.2 151.4 357.3 150.9Z" fill="#f5f7fb" stroke="#f5f7fb"/><path d="M73.3 147.6L77 149.3 75.4 147.3 71.7 145.4Z" fill="#d6d9e5" stroke="#d6d9e5"/><path d="M277.2 157.6L282.7 157.3 280.2 155.7 274.8 156.1Z" fill="#f6f8ff" stroke="#f6f8ff"/><path d="M95.6 157.8L99.1 157.5 97.5 156.3 94 156.5Z" fill="#acbdf5" stroke="#acbdf5"/><path d="M127.3 158.1L132.1 157.6 130.5 156.7 125.7 157.2Z" fill="#a0b3f6" stroke="#a0b3f6"/><path d="M90.5 156.5L94 156.5 92.5 155.1 88.9 155.1Z" fill="#b5c3f2" stroke="#b5c3f2"/><path d="M144.2 157.8L148.6 157 147.2 156.1 142.7 157Z" fill="#91a6f5" stroke="#91a6f5"/><path d="M51.2 190L51.5 186.8 50.5 185.6 50.2 188.8Z" fill="#36419b" stroke="#36419b"/><path d="M253.6 157.8L258.8 157.4 256.7 155.9 251.5 156.5Z" fill="#e1e7fd" stroke="#e1e7fd"/><path d="M100.7 158.7L104.1 158.1 102.6 156.9 99.1 157.5Z" fill="#aabcf6" stroke="#aabcf6"/><path d="M189.8 158.2L194.3 157.5 192.8 156.5 188.4 157.3Z" fill="#849bf5" stroke="#849bf5"/><path d="M85.4 155.1L88.9 155.1 87.4 153.6 83.8 153.6Z" fill="#c1cbed" stroke="#c1cbed"/><path d="M50.8 196.4L51.4 195.6 50.3 194.3 49.7 195.1Z" fill="#3249d9" stroke="#3249d9"/><path d="M32.1 199.6L36.3 198 33.9 195.7 29.5 197.3Z" fill="#3250ee" stroke="#3250ee"/><path d="M224.3 157.9L229.3 157.4 227.6 156.2 222.6 156.7Z" fill="#a2b4f7" stroke="#a2b4f7"/><path d="M184.2 158.1L188.4 157.3 187 156.3 182.8 157.1Z" fill="#8198f5" stroke="#8198f5"/><path d="M105.7 159.1L109.8 158.2 108.2 157.2 104.1 158.1Z" fill="#aabcf6" stroke="#aabcf6"/><path d="M212.7 157.9L217.7 157.3 216 156.2 211.1 156.8Z" fill="#8da3f5" stroke="#8da3f5"/><path d="M331.5 155.1L338.7 155.3 335.1 153.4 328 153.2Z" fill="#f6f8ff" stroke="#f6f8ff"/><path d="M51.4 195.6L51.8 193.9 50.8 192.6 50.3 194.3Z" fill="#3242bc" stroke="#3242bc"/><path d="M111.4 159.2L115.4 158.1 113.8 157.1 109.8 158.2Z" fill="#a9bbf6" stroke="#a9bbf6"/><path d="M271.8 158L277.2 157.6 274.8 156.1 269.5 156.5Z" fill="#f5f7ff" stroke="#f5f7ff"/><path d="M236.2 158.1L241.3 157.5 239.4 156.2 234.4 156.8Z" fill="#becbf9" stroke="#becbf9"/><path d="M201.3 158L206.2 157.4 204.6 156.3 199.8 157Z" fill="#869df5" stroke="#869df5"/><path d="M150.1 157.8L154.5 156.9 153 156.1 148.6 157Z" fill="#8ba1f5" stroke="#8ba1f5"/><path d="M80.2 153L83.8 153.6 82.2 152 78.6 151.2Z" fill="#cdd4e8" stroke="#cdd4e8"/><path d="M178.6 157.9L182.8 157.1 181.4 156.2 177.2 157Z" fill="#7f96f4" stroke="#7f96f4"/><path d="M117 159L121.1 157.9 119.5 157 115.4 158.1Z" fill="#a7b9f6" stroke="#a7b9f6"/><path d="M350.2 154L358.2 154.5 353.9 152.5 346.2 152Z" fill="#f6f8ff" stroke="#f6f8ff"/><path d="M173 157.9L177.2 157 175.8 156.1 171.6 157Z" fill="#7e96f4" stroke="#7e96f4"/><path d="M155.9 157.8L160.2 157 158.8 156.1 154.5 156.9Z" fill="#869df5" stroke="#869df5"/><path d="M167.4 157.8L171.6 157 170.2 156.1 166 157Z" fill="#8097f5" stroke="#8097f5"/><path d="M161.7 157.8L166 157 164.5 156.1 160.2 157Z" fill="#8299f5" stroke="#8299f5"/><path d="M248.4 158.3L253.6 157.8 251.5 156.5 246.4 157Z" fill="#d9e1fc" stroke="#d9e1fc"/><path d="M133.6 158.4L138.2 157.7 136.7 156.9 132.1 157.6Z" fill="#9baff5" stroke="#9baff5"/><path d="M195.7 158.5L201.3 158 199.8 157 194.3 157.5Z" fill="#899ff5" stroke="#899ff5"/><path d="M382.4 153.2L391.7 154.3 386.1 151.9 377.1 150.8Z" fill="#eeefe3" stroke="#eeefe3"/><path d="M266.4 158.4L271.8 158 269.5 156.5 264.1 156.9Z" fill="#f1f4fe" stroke="#f1f4fe"/><path d="M51.8 193.9L52.2 191.3 51.2 190 50.8 192.6Z" fill="#323fa8" stroke="#323fa8"/><path d="M122.6 158.8L127.3 158.1 125.7 157.2 121.1 157.9Z" fill="#a4b7f6" stroke="#a4b7f6"/><path d="M219.3 158.4L224.3 157.9 222.6 156.7 217.7 157.3Z" fill="#9caff6" stroke="#9caff6"/><path d="M207.7 158.4L212.7 157.9 211.1 156.8 206.2 157.4Z" fill="#8da3f5" stroke="#8da3f5"/><path d="M231.1 158.6L236.2 158.1 234.4 156.8 229.3 157.4Z" fill="#b5c4f8" stroke="#b5c4f8"/><path d="M50 176.4L50.2 171.8 49.2 170.6 49 175.2Z" fill="#4d5586" stroke="#4d5586"/><path d="M50.8 181.8L51 177.6 50 176.4 49.8 180.6Z" fill="#434d8a" stroke="#434d8a"/><path d="M369.9 153.6L378.6 154.5 373.6 152.2 365.2 151.4Z" fill="#f1f3ee" stroke="#f1f3ee"/><path d="M74.9 149.6L78.6 151.2 77 149.3 73.3 147.6Z" fill="#d6d9e5" stroke="#d6d9e5"/><path d="M43.3 199.5L46.8 197.6 44.5 195.1 40.7 196.8Z" fill="#3250ee" stroke="#3250ee"/><path d="M395.7 153.1L406.5 154.9 400 152.2 389.8 150.6Z" fill="#f2f4f3" stroke="#f2f4f3"/><path d="M338.7 155.3L346.3 155.5 342.4 153.6 335.1 153.4Z" fill="#f6f8ff" stroke="#f6f8ff"/><path d="M51.5 186.8L51.8 183 50.8 181.8 50.5 185.6Z" fill="#3c4792" stroke="#3c4792"/><path d="M296.8 158.2L302.9 157.9 300 156.2 294.1 156.6Z" fill="#f6f8ff" stroke="#f6f8ff"/><path d="M139.7 158.5L144.2 157.8 142.7 157 138.2 157.7Z" fill="#96abf5" stroke="#96abf5"/><path d="M261 158.8L266.4 158.4 264.1 156.9 258.8 157.4Z" fill="#edf0fe" stroke="#edf0fe"/><path d="M290.9 158.5L296.8 158.2 294.1 156.6 288.3 156.9Z" fill="#f6f8ff" stroke="#f6f8ff"/><path d="M302.9 157.9L309 157.6 306.1 155.9 300 156.2Z" fill="#f6f8ff" stroke="#f6f8ff"/><path d="M243.2 158.8L248.4 158.3 246.4 157 241.3 157.5Z" fill="#d0dafb" stroke="#d0dafb"/><path d="M309 157.6L315.3 157.3 312.2 155.6 306.1 155.9Z" fill="#f6f8ff" stroke="#f6f8ff"/><path d="M191.3 159.2L195.7 158.5 194.3 157.5 189.8 158.2Z" fill="#8ba1f5" stroke="#8ba1f5"/><path d="M285.2 158.9L290.9 158.5 288.3 156.9 282.7 157.3Z" fill="#f6f8ff" stroke="#f6f8ff"/><path d="M185.7 159L189.8 158.2 188.4 157.3 184.2 158.1Z" fill="#879ef5" stroke="#879ef5"/><path d="M315.3 157.3L321.6 157.1 318.4 155.3 312.2 155.6Z" fill="#f6f8ff" stroke="#f6f8ff"/><path d="M92.1 157.9L95.6 157.8 94 156.5 90.5 156.5Z" fill="#b5c3f2" stroke="#b5c3f2"/><path d="M97.2 159.1L100.7 158.7 99.1 157.5 95.6 157.8Z" fill="#acbdf5" stroke="#acbdf5"/><path d="M145.7 158.6L150.1 157.8 148.6 157 144.2 157.8Z" fill="#91a6f5" stroke="#91a6f5"/><path d="M214.3 159L219.3 158.4 217.7 157.3 212.7 157.9Z" fill="#97acf6" stroke="#97acf6"/><path d="M128.8 159L133.6 158.4 132.1 157.6 127.3 158.1Z" fill="#a0b3f6" stroke="#a0b3f6"/><path d="M226 159.1L231.1 158.6 229.3 157.4 224.3 157.9Z" fill="#adbdf7" stroke="#adbdf7"/><path d="M87 156.5L90.5 156.5 88.9 155.1 85.4 155.1Z" fill="#c1cbed" stroke="#c1cbed"/><path d="M358.2 154.5L366.2 155.1 361.7 153 353.9 152.5Z" fill="#f6f8ff" stroke="#f6f8ff"/><path d="M52.2 191.3L52.6 188.1 51.5 186.8 51.2 190Z" fill="#36419b" stroke="#36419b"/><path d="M202.8 159L207.7 158.4 206.2 157.4 201.3 158Z" fill="#8ea4f5" stroke="#8ea4f5"/><path d="M180.1 158.8L184.2 158.1 182.8 157.1 178.6 157.9Z" fill="#859bf5" stroke="#859bf5"/><path d="M321.6 157.1L328.1 156.9 324.7 155.1 318.4 155.3Z" fill="#f6f8ff" stroke="#f6f8ff"/><path d="M279.6 159.2L285.2 158.9 282.7 157.3 277.2 157.6Z" fill="#f6f8ff" stroke="#f6f8ff"/><path d="M102.2 159.8L105.7 159.1 104.1 158.1 100.7 158.7Z" fill="#aabcf6" stroke="#aabcf6"/><path d="M255.7 159.2L261 158.8 258.8 157.4 253.6 157.8Z" fill="#e6ecfd" stroke="#e6ecfd"/><path d="M51.9 197.8L52.4 197 51.4 195.6 50.8 196.4Z" fill="#3249d9" stroke="#3249d9"/><path d="M81.8 154.7L85.4 155.1 83.8 153.6 80.2 153Z" fill="#cdd4e8" stroke="#cdd4e8"/><path d="M238.1 159.3L243.2 158.8 241.3 157.5 236.2 158.1Z" fill="#c7d3fa" stroke="#c7d3fa"/><path d="M151.6 158.6L155.9 157.8 154.5 156.9 150.1 157.8Z" fill="#8ca2f5" stroke="#8ca2f5"/><path d="M107.3 160.1L111.4 159.2 109.8 158.2 105.7 159.1Z" fill="#aabcf6" stroke="#aabcf6"/><path d="M174.4 158.7L178.6 157.9 177.2 157 173 157.9Z" fill="#839af5" stroke="#839af5"/><path d="M52.4 197L52.9 195.2 51.8 193.9 51.4 195.6Z" fill="#3242bc" stroke="#3242bc"/><path d="M112.9 160.1L117 159 115.4 158.1 111.4 159.2Z" fill="#a9bbf6" stroke="#a9bbf6"/><path d="M168.8 158.7L173 157.9 171.6 157 167.4 157.8Z" fill="#849bf5" stroke="#849bf5"/><path d="M157.4 158.6L161.7 157.8 160.2 157 155.9 157.8Z" fill="#889ff5" stroke="#889ff5"/><path d="M197.2 159.6L202.8 159 201.3 158 195.7 158.5Z" fill="#90a6f5" stroke="#90a6f5"/><path d="M163.1 158.6L167.4 157.8 166 157 161.7 157.8Z" fill="#859cf5" stroke="#859cf5"/><path d="M274.1 159.5L279.6 159.2 277.2 157.6 271.8 158Z" fill="#f6f8ff" stroke="#f6f8ff"/><path d="M328.1 156.9L335 157 331.5 155.1 324.7 155.1Z" fill="#f6f8ff" stroke="#f6f8ff"/><path d="M118.6 159.9L122.6 158.8 121.1 157.9 117 159Z" fill="#a7b9f6" stroke="#a7b9f6"/><path d="M346.3 155.5L354.3 156 350.2 154 342.4 153.6Z" fill="#f6f8ff" stroke="#f6f8ff"/><path d="M38.7 200.4L43.3 199.5 40.7 196.8 36.3 198Z" fill="#3250ee" stroke="#3250ee"/><path d="M69.4 144.8L73.3 147.6 71.7 145.4 67.8 142.5Z" fill="#d7dae4" stroke="#d7dae4"/><path d="M250.4 159.7L255.7 159.2 253.6 157.8 248.4 158.3Z" fill="#dfe6fc" stroke="#dfe6fc"/><path d="M221 159.6L226 159.1 224.3 157.9 219.3 158.4Z" fill="#a6b8f7" stroke="#a6b8f7"/><path d="M135.1 159.2L139.7 158.5 138.2 157.7 133.6 158.4Z" fill="#9baff5" stroke="#9baff5"/><path d="M209.3 159.5L214.3 159 212.7 157.9 207.7 158.4Z" fill="#95aaf5" stroke="#95aaf5"/><path d="M52.9 195.2L53.3 192.6 52.2 191.3 51.8 193.9Z" fill="#323fa8" stroke="#323fa8"/><path d="M76.5 151.6L80.2 153 78.6 151.2 74.9 149.6Z" fill="#d6d9e5" stroke="#d6d9e5"/><path d="M232.9 159.8L238.1 159.3 236.2 158.1 231.1 158.6Z" fill="#bfccf9" stroke="#bfccf9"/><path d="M51 177.6L51.2 173 50.2 171.8 50 176.4Z" fill="#4d5586" stroke="#4d5586"/><path d="M268.6 159.8L274.1 159.5 271.8 158 266.4 158.4Z" fill="#f4f6ff" stroke="#f4f6ff"/><path d="M51.8 183L52 178.8 51 177.6 50.8 181.8Z" fill="#434d8a" stroke="#434d8a"/><path d="M49 200.1L52.2 198.2 50.3 195.7 46.8 197.6Z" fill="#3250ee" stroke="#3250ee"/><path d="M124.2 159.6L128.8 159 127.3 158.1 122.6 158.8Z" fill="#a4b7f6" stroke="#a4b7f6"/><path d="M50.2 171.8L50.4 166.9 49.4 165.8 49.2 170.6Z" fill="#565c82" stroke="#565c82"/><path d="M378.6 154.5L387.7 155.5 382.4 153.2 373.6 152.2Z" fill="#eceddd" stroke="#eceddd"/><path d="M192.7 160.2L197.2 159.6 195.7 158.5 191.3 159.2Z" fill="#92a7f5" stroke="#92a7f5"/><path d="M31.6 203L34.7 201.8 29.5 197.3 26.4 198.4Z" fill="#fcfbf3" stroke="#fcfbf3"/><path d="M391.7 154.3L401.7 155.7 395.7 153.1 386.1 151.9Z" fill="#edeee0" stroke="#edeee0"/><path d="M52.6 188.1L52.8 184.3 51.8 183 51.5 186.8Z" fill="#3c4792" stroke="#3c4792"/><path d="M187.1 159.9L191.3 159.2 189.8 158.2 185.7 159Z" fill="#8ea4f5" stroke="#8ea4f5"/><path d="M141.2 159.3L145.7 158.6 144.2 157.8 139.7 158.5Z" fill="#97abf5" stroke="#97abf5"/><path d="M335 157L342.4 157.2 338.7 155.3 331.5 155.1Z" fill="#f6f8ff" stroke="#f6f8ff"/><path d="M245.2 160.1L250.4 159.7 248.4 158.3 243.2 158.8Z" fill="#d7dffb" stroke="#d7dffb"/><path d="M366.2 155.1L374.7 155.8 369.9 153.6 361.7 153Z" fill="#f4f6f9" stroke="#f4f6f9"/><path d="M263.2 160.2L268.6 159.8 266.4 158.4 261 158.8Z" fill="#f0f3fe" stroke="#f0f3fe"/><path d="M215.9 160.1L221 159.6 219.3 158.4 214.3 159Z" fill="#a1b4f6" stroke="#a1b4f6"/><path d="M181.5 159.7L185.7 159 184.2 158.1 180.1 158.8Z" fill="#8ba1f5" stroke="#8ba1f5"/><path d="M204.4 160.1L209.3 159.5 207.7 158.4 202.8 159Z" fill="#96aaf5" stroke="#96aaf5"/><path d="M227.8 160.3L232.9 159.8 231.1 158.6 226 159.1Z" fill="#b7c5f8" stroke="#b7c5f8"/><path d="M34.7 201.8L38.7 200.4 36.3 198 32.1 199.6Z" fill="#3250ee" stroke="#3250ee"/><path d="M93.7 159.2L97.2 159.1 95.6 157.8 92.1 157.9Z" fill="#b5c3f2" stroke="#b5c3f2"/><path d="M147.2 159.3L151.6 158.6 150.1 157.8 145.7 158.6Z" fill="#92a7f5" stroke="#92a7f5"/><path d="M98.8 160.3L102.2 159.8 100.7 158.7 97.2 159.1Z" fill="#acbdf5" stroke="#acbdf5"/><path d="M88.5 157.9L92.1 157.9 90.5 156.5 87 156.5Z" fill="#c1cbed" stroke="#c1cbed"/><path d="M293.6 160.2L299.6 159.9 296.8 158.2 290.9 158.5Z" fill="#f6f8ff" stroke="#f6f8ff"/><path d="M175.9 159.6L180.1 158.8 178.6 157.9 174.4 158.7Z" fill="#899ff5" stroke="#899ff5"/><path d="M53.3 192.6L53.6 189.4 52.6 188.1 52.2 191.3Z" fill="#36419b" stroke="#36419b"/><path d="M299.6 159.9L305.7 159.6 302.9 157.9 296.8 158.2Z" fill="#f6f8ff" stroke="#f6f8ff"/><path d="M130.4 159.8L135.1 159.2 133.6 158.4 128.8 159Z" fill="#a0b3f6" stroke="#a0b3f6"/><path d="M287.7 160.5L293.6 160.2 290.9 158.5 285.2 158.9Z" fill="#f6f8ff" stroke="#f6f8ff"/><path d="M83.4 156.2L87 156.5 85.4 155.1 81.8 154.7Z" fill="#cdd4e8" stroke="#cdd4e8"/><path d="M198.6 160.6L204.4 160.1 202.8 159 197.2 159.6Z" fill="#97acf5" stroke="#97acf5"/><path d="M239.9 160.6L245.2 160.1 243.2 158.8 238.1 159.3Z" fill="#cfd9fb" stroke="#cfd9fb"/><path d="M153.1 159.3L157.4 158.6 155.9 157.8 151.6 158.6Z" fill="#8ea4f5" stroke="#8ea4f5"/><path d="M305.7 159.6L312 159.4 309 157.6 302.9 157.9Z" fill="#f6f8ff" stroke="#f6f8ff"/><path d="M354.3 156L362.5 156.6 358.2 154.5 350.2 154Z" fill="#f6f8ff" stroke="#f6f8ff"/><path d="M170.3 159.5L174.4 158.7 173 157.9 168.8 158.7Z" fill="#889ef5" stroke="#889ef5"/><path d="M103.8 160.8L107.3 160.1 105.7 159.1 102.2 159.8Z" fill="#aabcf6" stroke="#aabcf6"/><path d="M257.8 160.6L263.2 160.2 261 158.8 255.7 159.2Z" fill="#eaeffe" stroke="#eaeffe"/><path d="M158.9 159.4L163.1 158.6 161.7 157.8 157.4 158.6Z" fill="#8ba1f5" stroke="#8ba1f5"/><path d="M164.6 159.4L168.8 158.7 167.4 157.8 163.1 158.6Z" fill="#899ff5" stroke="#899ff5"/><path d="M28.5 204.1L31.6 203 26.4 198.4 23.3 199.5Z" fill="#fcfbf3" stroke="#fcfbf3"/><path d="M71.1 147.1L74.9 149.6 73.3 147.6 69.4 144.8Z" fill="#d7dae4" stroke="#d7dae4"/><path d="M53.1 199.2L53.6 198.4 52.4 197 51.9 197.8Z" fill="#3249d9" stroke="#3249d9"/><path d="M312 159.4L318.3 159.1 315.3 157.3 309 157.6Z" fill="#f6f8ff" stroke="#f6f8ff"/><path d="M282.1 160.7L287.7 160.5 285.2 158.9 279.6 159.2Z" fill="#f6f8ff" stroke="#f6f8ff"/><path d="M53.6 198.4L54 196.5 52.9 195.2 52.4 197Z" fill="#3242bc" stroke="#3242bc"/><path d="M108.8 161L112.9 160.1 111.4 159.2 107.3 160.1Z" fill="#aabcf6" stroke="#aabcf6"/><path d="M210.9 160.6L215.9 160.1 214.3 159 209.3 159.5Z" fill="#9eb1f6" stroke="#9eb1f6"/><path d="M222.7 160.7L227.8 160.3 226 159.1 221 159.6Z" fill="#afc0f7" stroke="#afc0f7"/><path d="M114.5 160.9L118.6 159.9 117 159 112.9 160.1Z" fill="#a9bbf6" stroke="#a9bbf6"/><path d="M318.3 159.1L324.8 158.9 321.6 157.1 315.3 157.3Z" fill="#f6f8ff" stroke="#f6f8ff"/><path d="M342.4 157.2L350.1 157.5 346.3 155.5 338.7 155.3Z" fill="#f6f8ff" stroke="#f6f8ff"/><path d="M78.1 153.5L81.8 154.7 80.2 153 76.5 151.6Z" fill="#d6d9e5" stroke="#d6d9e5"/><path d="M120.2 160.7L124.2 159.6 122.6 158.8 118.6 159.9Z" fill="#a7b9f6" stroke="#a7b9f6"/><path d="M252.5 161L257.8 160.6 255.7 159.2 250.4 159.7Z" fill="#e4eafd" stroke="#e4eafd"/><path d="M276.4 161L282.1 160.7 279.6 159.2 274.1 159.5Z" fill="#f6f8ff" stroke="#f6f8ff"/><path d="M194.2 161.2L198.6 160.6 197.2 159.6 192.7 160.2Z" fill="#99adf5" stroke="#99adf5"/><path d="M234.7 161L239.9 160.6 238.1 159.3 232.9 159.8Z" fill="#c7d2fa" stroke="#c7d2fa"/><path d="M136.7 160L141.2 159.3 139.7 158.5 135.1 159.2Z" fill="#9cb0f6" stroke="#9cb0f6"/><path d="M52 178.8L52.2 174.1 51.2 173 51 177.6Z" fill="#4d5586" stroke="#4d5586"/><path d="M54 196.5L54.3 193.9 53.3 192.6 52.9 195.2Z" fill="#323fa8" stroke="#323fa8"/><path d="M188.5 160.9L192.7 160.2 191.3 159.2 187.1 159.9Z" fill="#94a9f5" stroke="#94a9f5"/><path d="M324.8 158.9L331.4 158.8 328.1 156.9 321.6 157.1Z" fill="#f6f8ff" stroke="#f6f8ff"/><path d="M52.8 184.3L53.1 180 52 178.8 51.8 183Z" fill="#434d8a" stroke="#434d8a"/><path d="M51.2 173L51.4 168.1 50.4 166.9 50.2 171.8Z" fill="#565c82" stroke="#565c82"/><path d="M270.9 161.3L276.4 161 274.1 159.5 268.6 159.8Z" fill="#f5f7ff" stroke="#f5f7ff"/><path d="M125.8 160.4L130.4 159.8 128.8 159 124.2 159.6Z" fill="#a4b7f6" stroke="#a4b7f6"/><path d="M50.4 166.9L50.5 161.9 49.5 160.8 49.4 165.8Z" fill="#60647f" stroke="#60647f"/><path d="M46 202.2L49 200.1 46.8 197.6 43.3 199.5Z" fill="#3250ee" stroke="#3250ee"/><path d="M53.6 189.4L53.9 185.5 52.8 184.3 52.6 188.1Z" fill="#3c4792" stroke="#3c4792"/><path d="M182.9 160.6L187.1 159.9 185.7 159 181.5 159.7Z" fill="#90a6f5" stroke="#90a6f5"/><path d="M374.7 155.8L383.7 156.7 378.6 154.5 369.9 153.6Z" fill="#eff0e7" stroke="#eff0e7"/><path d="M217.6 161.2L222.7 160.7 221 159.6 215.9 160.1Z" fill="#aabbf7" stroke="#aabbf7"/><path d="M142.7 160.1L147.2 159.3 145.7 158.6 141.2 159.3Z" fill="#97acf5" stroke="#97acf5"/><path d="M205.9 161.1L210.9 160.6 209.3 159.5 204.4 160.1Z" fill="#9db0f6" stroke="#9db0f6"/><path d="M247.1 161.4L252.5 161 250.4 159.7 245.2 160.1Z" fill="#dde4fc" stroke="#dde4fc"/><path d="M387.7 155.5L397.4 156.8 391.7 154.3 382.4 153.2Z" fill="#e8e9d0" stroke="#e8e9d0"/><path d="M229.5 161.5L234.7 161 232.9 159.8 227.8 160.3Z" fill="#bfccf9" stroke="#bfccf9"/><path d="M331.4 158.8L338.5 158.8 335 157 328.1 156.9Z" fill="#f6f8ff" stroke="#f6f8ff"/><path d="M177.3 160.4L181.5 159.7 180.1 158.8 175.9 159.6Z" fill="#8ea4f5" stroke="#8ea4f5"/><path d="M200.1 161.6L205.9 161.1 204.4 160.1 198.6 160.6Z" fill="#9db1f6" stroke="#9db1f6"/><path d="M265.4 161.6L270.9 161.3 268.6 159.8 263.2 160.2Z" fill="#f2f5ff" stroke="#f2f5ff"/><path d="M362.5 156.6L370.8 157.2 366.2 155.1 358.2 154.5Z" fill="#f6f8ff" stroke="#f6f8ff"/><path d="M148.7 160.1L153.1 159.3 151.6 158.6 147.2 159.3Z" fill="#93a8f5" stroke="#93a8f5"/><path d="M95.2 160.5L98.8 160.3 97.2 159.1 93.7 159.2Z" fill="#b5c3f2" stroke="#b5c3f2"/><path d="M90.1 159.2L93.7 159.2 92.1 157.9 88.5 157.9Z" fill="#c1cbed" stroke="#c1cbed"/><path d="M171.7 160.3L175.9 159.6 174.4 158.7 170.3 159.5Z" fill="#8da2f5" stroke="#8da2f5"/><path d="M72.7 149.2L76.5 151.6 74.9 149.6 71.1 147.1Z" fill="#d7dae4" stroke="#d7dae4"/><path d="M54.3 193.9L54.7 190.7 53.6 189.4 53.3 192.6Z" fill="#36419b" stroke="#36419b"/><path d="M100.3 161.3L103.8 160.8 102.2 159.8 98.8 160.3Z" fill="#acbdf5" stroke="#acbdf5"/><path d="M154.5 160.1L158.9 159.4 157.4 158.6 153.1 159.3Z" fill="#90a5f5" stroke="#90a5f5"/><path d="M241.8 161.8L247.1 161.4 245.2 160.1 239.9 160.6Z" fill="#d5defb" stroke="#d5defb"/><path d="M85 157.7L88.5 157.9 87 156.5 83.4 156.2Z" fill="#cdd4e8" stroke="#cdd4e8"/><path d="M166.1 160.2L170.3 159.5 168.8 158.7 164.6 159.4Z" fill="#8ca2f5" stroke="#8ca2f5"/><path d="M350.1 157.5L358.3 158 354.3 156 346.3 155.5Z" fill="#f6f8ff" stroke="#f6f8ff"/><path d="M160.3 160.1L164.6 159.4 163.1 158.6 158.9 159.4Z" fill="#8ea3f5" stroke="#8ea3f5"/><path d="M132 160.6L136.7 160 135.1 159.2 130.4 159.8Z" fill="#a0b3f6" stroke="#a0b3f6"/><path d="M212.5 161.7L217.6 161.2 215.9 160.1 210.9 160.6Z" fill="#a5b8f6" stroke="#a5b8f6"/><path d="M259.9 162L265.4 161.6 263.2 160.2 257.8 160.6Z" fill="#eef1fe" stroke="#eef1fe"/><path d="M105.4 161.7L108.8 161 107.3 160.1 103.8 160.8Z" fill="#aabcf6" stroke="#aabcf6"/><path d="M224.3 161.9L229.5 161.5 227.8 160.3 222.7 160.7Z" fill="#b7c6f8" stroke="#b7c6f8"/><path d="M401.7 155.7L413 157.6 406.5 154.9 395.7 153.1Z" fill="#edeee0" stroke="#edeee0"/><path d="M296.2 161.8L302.3 161.6 299.6 159.9 293.6 160.2Z" fill="#f6f8ff" stroke="#f6f8ff"/><path d="M195.6 162.2L200.1 161.6 198.6 160.6 194.2 161.2Z" fill="#9eb2f6" stroke="#9eb2f6"/><path d="M290.3 162.1L296.2 161.8 293.6 160.2 287.7 160.5Z" fill="#f6f8ff" stroke="#f6f8ff"/><path d="M54.2 200.6L54.7 199.8 53.6 198.4 53.1 199.2Z" fill="#3249d9" stroke="#3249d9"/><path d="M79.7 155.2L83.4 156.2 81.8 154.7 78.1 153.5Z" fill="#d6d9e5" stroke="#d6d9e5"/><path d="M54.7 199.8L55.1 197.9 54 196.5 53.6 198.4Z" fill="#3242bc" stroke="#3242bc"/><path d="M302.3 161.6L308.6 161.3 305.7 159.6 299.6 159.9Z" fill="#f6f8ff" stroke="#f6f8ff"/><path d="M41.1 202.7L46 202.2 43.3 199.5 38.7 200.4Z" fill="#3250ee" stroke="#3250ee"/><path d="M110.4 161.9L114.5 160.9 112.9 160.1 108.8 161Z" fill="#aabcf6" stroke="#aabcf6"/><path d="M65.4 140L69.4 144.8 67.8 142.5 63.7 137.4Z" fill="#d7dae4" stroke="#d7dae4"/><path d="M190 161.8L194.2 161.2 192.7 160.2 188.5 160.9Z" fill="#9aaef5" stroke="#9aaef5"/><path d="M338.5 158.8L346.1 159.1 342.4 157.2 335 157Z" fill="#f6f8ff" stroke="#f6f8ff"/><path d="M236.5 162.2L241.8 161.8 239.9 160.6 234.7 161Z" fill="#cdd8fa" stroke="#cdd8fa"/><path d="M284.5 162.3L290.3 162.1 287.7 160.5 282.1 160.7Z" fill="#f6f8ff" stroke="#f6f8ff"/><path d="M116.1 161.7L120.2 160.7 118.6 159.9 114.5 160.9Z" fill="#a9bbf6" stroke="#a9bbf6"/><path d="M308.6 161.3L315 161.1 312 159.4 305.7 159.6Z" fill="#f6f8ff" stroke="#f6f8ff"/><path d="M254.5 162.4L259.9 162 257.8 160.6 252.5 161Z" fill="#e8edfd" stroke="#e8edfd"/><path d="M138.2 160.8L142.7 160.1 141.2 159.3 136.7 160Z" fill="#9cb0f6" stroke="#9cb0f6"/><path d="M53.1 180L53.3 175.3 52.2 174.1 52 178.8Z" fill="#4d5586" stroke="#4d5586"/><path d="M121.7 161.5L125.8 160.4 124.2 159.6 120.2 160.7Z" fill="#a7b9f6" stroke="#a7b9f6"/><path d="M52.2 174.1L52.4 169.3 51.4 168.1 51.2 173Z" fill="#565c82" stroke="#565c82"/><path d="M53.9 185.5L54.1 181.2 53.1 180 52.8 184.3Z" fill="#434d8a" stroke="#434d8a"/><path d="M184.4 161.5L188.5 160.9 187.1 159.9 182.9 160.6Z" fill="#96abf5" stroke="#96abf5"/><path d="M55.1 197.9L55.4 195.2 54.3 193.9 54 196.5Z" fill="#323fa8" stroke="#323fa8"/><path d="M51.4 202.8L54.2 200.7 52.2 198.2 49 200.1Z" fill="#3250ee" stroke="#3250ee"/><path d="M278.8 162.5L284.5 162.3 282.1 160.7 276.4 161Z" fill="#f6f8ff" stroke="#f6f8ff"/><path d="M207.5 162.2L212.5 161.7 210.9 160.6 205.9 161.1Z" fill="#a3b6f6" stroke="#a3b6f6"/><path d="M315 161.1L321.5 160.9 318.3 159.1 312 159.4Z" fill="#f6f8ff" stroke="#f6f8ff"/><path d="M219.2 162.3L224.3 161.9 222.7 160.7 217.6 161.2Z" fill="#b1c1f7" stroke="#b1c1f7"/><path d="M51.4 168.1L51.5 163.1 50.5 161.9 50.4 166.9Z" fill="#60647f" stroke="#60647f"/><path d="M54.7 190.7L54.9 186.8 53.9 185.5 53.6 189.4Z" fill="#3c4792" stroke="#3c4792"/><path d="M178.8 161.3L182.9 160.6 181.5 159.7 177.3 160.4Z" fill="#93a8f5" stroke="#93a8f5"/><path d="M231.2 162.6L236.5 162.2 234.7 161 229.5 161.5Z" fill="#c5d1f9" stroke="#c5d1f9"/><path d="M201.6 162.7L207.5 162.2 205.9 161.1 200.1 161.6Z" fill="#a3b5f6" stroke="#a3b5f6"/><path d="M249.1 162.7L254.5 162.4 252.5 161 247.1 161.4Z" fill="#e1e8fd" stroke="#e1e8fd"/><path d="M144.3 160.8L148.7 160.1 147.2 159.3 142.7 160.1Z" fill="#98adf5" stroke="#98adf5"/><path d="M37.3 204.1L41.1 202.7 38.7 200.4 34.7 201.8Z" fill="#3250ee" stroke="#3250ee"/><path d="M50.5 161.9L50.7 157 49.7 155.8 49.5 160.8Z" fill="#696c7d" stroke="#696c7d"/><path d="M127.4 161.2L132 160.6 130.4 159.8 125.8 160.4Z" fill="#a4b7f6" stroke="#a4b7f6"/><path d="M273.1 162.8L278.8 162.5 276.4 161 270.9 161.3Z" fill="#f6f8ff" stroke="#f6f8ff"/><path d="M321.5 160.9L328 160.7 324.8 158.9 318.3 159.1Z" fill="#f6f8ff" stroke="#f6f8ff"/><path d="M370.8 157.2L379.5 157.9 374.7 155.8 366.2 155.1Z" fill="#f4f6f8" stroke="#f4f6f8"/><path d="M383.7 156.7L393.1 157.8 387.7 155.5 378.6 154.5Z" fill="#e8e9d0" stroke="#e8e9d0"/><path d="M74.3 151.2L78.1 153.5 76.5 151.6 72.7 149.2Z" fill="#d7dae4" stroke="#d7dae4"/><path d="M173.2 161.1L177.3 160.4 175.9 159.6 171.7 160.3Z" fill="#91a6f5" stroke="#91a6f5"/><path d="M150.2 160.8L154.5 160.1 153.1 159.3 148.7 160.1Z" fill="#95aaf5" stroke="#95aaf5"/><path d="M358.3 158L366.8 158.6 362.5 156.6 354.3 156Z" fill="#f6f8ff" stroke="#f6f8ff"/><path d="M267.6 163.1L273.1 162.8 270.9 161.3 265.4 161.6Z" fill="#f4f6ff" stroke="#f4f6ff"/><path d="M167.5 161L171.7 160.3 170.3 159.5 166.1 160.2Z" fill="#90a6f5" stroke="#90a6f5"/><path d="M91.7 160.4L95.2 160.5 93.7 159.2 90.1 159.2Z" fill="#c1cbed" stroke="#c1cbed"/><path d="M96.8 161.6L100.3 161.3 98.8 160.3 95.2 160.5Z" fill="#b5c3f2" stroke="#b5c3f2"/><path d="M156 160.9L160.3 160.1 158.9 159.4 154.5 160.1Z" fill="#93a8f5" stroke="#93a8f5"/><path d="M243.6 163.1L249.1 162.7 247.1 161.4 241.8 161.8Z" fill="#dae2fc" stroke="#dae2fc"/><path d="M214.1 162.7L219.2 162.3 217.6 161.2 212.5 161.7Z" fill="#acbdf7" stroke="#acbdf7"/><path d="M328 160.7L334.8 160.6 331.4 158.8 324.8 158.9Z" fill="#f6f8ff" stroke="#f6f8ff"/><path d="M346.1 159.1L354 159.4 350.1 157.5 342.4 157.2Z" fill="#f6f8ff" stroke="#f6f8ff"/><path d="M161.8 160.9L166.1 160.2 164.6 159.4 160.3 160.1Z" fill="#91a6f5" stroke="#91a6f5"/><path d="M55.4 195.2L55.7 191.9 54.7 190.7 54.3 193.9Z" fill="#36419b" stroke="#36419b"/><path d="M197.1 163.2L201.6 162.7 200.1 161.6 195.6 162.2Z" fill="#a3b6f6" stroke="#a3b6f6"/><path d="M86.5 159L90.1 159.2 88.5 157.9 85 157.7Z" fill="#cdd4e8" stroke="#cdd4e8"/><path d="M67 142.6L71.1 147.1 69.4 144.8 65.4 140Z" fill="#d7dae4" stroke="#d7dae4"/><path d="M226 163L231.2 162.6 229.5 161.5 224.3 161.9Z" fill="#becbf8" stroke="#becbf8"/><path d="M397.4 156.8L407.8 158.3 401.7 155.7 391.7 154.3Z" fill="#e7e8cb" stroke="#e7e8cb"/><path d="M101.9 162.3L105.4 161.7 103.8 160.8 100.3 161.3Z" fill="#acbdf5" stroke="#acbdf5"/><path d="M191.4 162.8L195.6 162.2 194.2 161.2 190 161.8Z" fill="#9fb3f6" stroke="#9fb3f6"/><path d="M133.5 161.3L138.2 160.8 136.7 160 132 160.6Z" fill="#a0b4f6" stroke="#a0b4f6"/><path d="M262 163.4L267.6 163.1 265.4 161.6 259.9 162Z" fill="#f0f3fe" stroke="#f0f3fe"/><path d="M81.3 156.9L85 157.7 83.4 156.2 79.7 155.2Z" fill="#d6d9e5" stroke="#d6d9e5"/><path d="M106.9 162.6L110.4 161.9 108.8 161 105.4 161.7Z" fill="#aabcf6" stroke="#aabcf6"/><path d="M238.3 163.5L243.6 163.1 241.8 161.8 236.5 162.2Z" fill="#d2dcfb" stroke="#d2dcfb"/><path d="M55.3 202L55.9 201.2 54.7 199.8 54.2 200.6Z" fill="#3249d9" stroke="#3249d9"/><path d="M185.8 162.4L190 161.8 188.5 160.9 184.4 161.5Z" fill="#9caff5" stroke="#9caff5"/><path d="M55.9 201.2L56.2 199.3 55.1 197.9 54.7 199.8Z" fill="#3242bc" stroke="#3242bc"/><path d="M334.8 160.6L342.1 160.7 338.5 158.8 331.4 158.8Z" fill="#f6f8ff" stroke="#f6f8ff"/><path d="M209 163.2L214.1 162.7 212.5 161.7 207.5 162.2Z" fill="#a8baf6" stroke="#a8baf6"/><path d="M112 162.7L116.1 161.7 114.5 160.9 110.4 161.9Z" fill="#aabcf6" stroke="#aabcf6"/><path d="M54.1 181.2L54.3 176.6 53.3 175.3 53.1 180Z" fill="#4d5586" stroke="#4d5586"/><path d="M256.5 163.7L262 163.4 259.9 162 254.5 162.4Z" fill="#ebeffe" stroke="#ebeffe"/><path d="M220.9 163.4L226 163 224.3 161.9 219.2 162.3Z" fill="#b7c6f8" stroke="#b7c6f8"/><path d="M53.3 175.3L53.4 170.4 52.4 169.3 52.2 174.1Z" fill="#565c82" stroke="#565c82"/><path d="M54.9 186.8L55.2 182.5 54.1 181.2 53.9 185.5Z" fill="#434d8a" stroke="#434d8a"/><path d="M139.8 161.5L144.3 160.8 142.7 160.1 138.2 160.8Z" fill="#9db1f6" stroke="#9db1f6"/><path d="M117.7 162.5L121.7 161.5 120.2 160.7 116.1 161.7Z" fill="#a9bbf6" stroke="#a9bbf6"/><path d="M203.1 163.7L209 163.2 207.5 162.2 201.6 162.7Z" fill="#a7b9f6" stroke="#a7b9f6"/><path d="M180.2 162.2L184.4 161.5 182.9 160.6 178.8 161.3Z" fill="#98adf5" stroke="#98adf5"/><path d="M52.4 169.3L52.6 164.2 51.5 163.1 51.4 168.1Z" fill="#60647f" stroke="#60647f"/><path d="M56.2 199.3L56.5 196.6 55.4 195.2 55.1 197.9Z" fill="#323fa8" stroke="#323fa8"/><path d="M233 163.8L238.3 163.5 236.5 162.2 231.2 162.6Z" fill="#cad5fa" stroke="#cad5fa"/><path d="M123.3 162.2L127.4 161.2 125.8 160.4 121.7 161.5Z" fill="#a7b9f6" stroke="#a7b9f6"/><path d="M55.7 191.9L56 188.1 54.9 186.8 54.7 190.7Z" fill="#3c4792" stroke="#3c4792"/><path d="M51.5 163.1L51.8 158.1 50.7 157 50.5 161.9Z" fill="#696c7d" stroke="#696c7d"/><path d="M251 164.1L256.5 163.7 254.5 162.4 249.1 162.7Z" fill="#e5ebfd" stroke="#e5ebfd"/><path d="M75.9 153.1L79.7 155.2 78.1 153.5 74.3 151.2Z" fill="#d7dae4" stroke="#d7dae4"/><path d="M48.5 204.8L51.4 202.8 49 200.1 46 202.2Z" fill="#3250ee" stroke="#3250ee"/><path d="M174.6 162L178.8 161.3 177.3 160.4 173.2 161.1Z" fill="#96abf5" stroke="#96abf5"/><path d="M145.8 161.5L150.2 160.8 148.7 160.1 144.3 160.8Z" fill="#9aaef5" stroke="#9aaef5"/><path d="M50.7 157L50.9 152.1 49.9 150.9 49.7 155.8Z" fill="#73757b" stroke="#73757b"/><path d="M379.5 157.9L388.8 159 383.7 156.7 374.7 155.8Z" fill="#edefe2" stroke="#edefe2"/><path d="M366.8 158.6L375.4 159.3 370.8 157.2 362.5 156.6Z" fill="#f6f8ff" stroke="#f6f8ff"/><path d="M354 159.4L362.5 160 358.3 158 350.1 157.5Z" fill="#f6f8ff" stroke="#f6f8ff"/><path d="M198.5 164.2L203.1 163.7 201.6 162.7 197.1 163.2Z" fill="#a7b9f6" stroke="#a7b9f6"/><path d="M68.7 145.1L72.7 149.2 71.1 147.1 67 142.6Z" fill="#d7dae4" stroke="#d7dae4"/><path d="M129 161.9L133.5 161.3 132 160.6 127.4 161.2Z" fill="#a4b7f6" stroke="#a4b7f6"/><path d="M215.7 163.8L220.9 163.4 219.2 162.3 214.1 162.7Z" fill="#b1c2f7" stroke="#b1c2f7"/><path d="M169 161.8L173.2 161.1 171.7 160.3 167.5 161Z" fill="#95a9f5" stroke="#95a9f5"/><path d="M151.7 161.6L156 160.9 154.5 160.1 150.2 160.8Z" fill="#97acf5" stroke="#97acf5"/><path d="M342.1 160.7L349.8 161 346.1 159.1 338.5 158.8Z" fill="#f6f8ff" stroke="#f6f8ff"/><path d="M245.5 164.4L251 164.1 249.1 162.7 243.6 163.1Z" fill="#dee5fc" stroke="#dee5fc"/><path d="M163.3 161.7L167.5 161 166.1 160.2 161.8 160.9Z" fill="#94a9f5" stroke="#94a9f5"/><path d="M157.5 161.6L161.8 160.9 160.3 160.1 156 160.9Z" fill="#95aaf5" stroke="#95aaf5"/><path d="M192.9 163.7L197.1 163.2 195.6 162.2 191.4 162.8Z" fill="#a4b6f6" stroke="#a4b6f6"/><path d="M227.7 164.2L233 163.8 231.2 162.6 226 163Z" fill="#c2cff9" stroke="#c2cff9"/><path d="M93.3 161.6L96.8 161.6 95.2 160.5 91.7 160.4Z" fill="#c1cbed" stroke="#c1cbed"/><path d="M56.5 196.6L56.8 193.2 55.7 191.9 55.4 195.2Z" fill="#36419b" stroke="#36419b"/><path d="M98.4 162.7L101.9 162.3 100.3 161.3 96.8 161.6Z" fill="#b5c3f2" stroke="#b5c3f2"/><path d="M393.1 157.8L403.2 159.2 397.4 156.8 387.7 155.5Z" fill="#e3e3bd" stroke="#e3e3bd"/><path d="M88.1 160.2L91.7 160.4 90.1 159.2 86.5 159Z" fill="#cdd4e8" stroke="#cdd4e8"/><path d="M103.5 163.2L106.9 162.6 105.4 161.7 101.9 162.3Z" fill="#acbdf5" stroke="#acbdf5"/><path d="M187.3 163.3L191.4 162.8 190 161.8 185.8 162.4Z" fill="#a0b4f6" stroke="#a0b4f6"/><path d="M82.9 158.4L86.5 159 85 157.7 81.3 156.9Z" fill="#d6d9e5" stroke="#d6d9e5"/><path d="M240.1 164.7L245.5 164.4 243.6 163.1 238.3 163.5Z" fill="#d6dffb" stroke="#d6dffb"/><path d="M135.1 162L139.8 161.5 138.2 160.8 133.5 161.3Z" fill="#a1b4f6" stroke="#a1b4f6"/><path d="M210.6 164.3L215.7 163.8 214.1 162.7 209 163.2Z" fill="#adbef6" stroke="#adbef6"/><path d="M36.8 207.6L39.9 206.4 34.7 201.8 31.6 203Z" fill="#fcfbf3" stroke="#fcfbf3"/><path d="M43.6 205.1L48.5 204.8 46 202.2 41.1 202.7Z" fill="#3250ee" stroke="#3250ee"/><path d="M222.5 164.5L227.7 164.2 226 163 220.9 163.4Z" fill="#bbcaf8" stroke="#bbcaf8"/><path d="M204.5 164.7L210.6 164.3 209 163.2 203.1 163.7Z" fill="#aabcf6" stroke="#aabcf6"/><path d="M108.5 163.4L112 162.7 110.4 161.9 106.9 162.6Z" fill="#aabcf6" stroke="#aabcf6"/><path d="M181.7 163L185.8 162.4 184.4 161.5 180.2 162.2Z" fill="#9db1f6" stroke="#9db1f6"/><path d="M56.5 203.5L57 202.6 55.9 201.2 55.3 202Z" fill="#3249d9" stroke="#3249d9"/><path d="M55.2 182.5L55.3 177.8 54.3 176.6 54.1 181.2Z" fill="#4d5586" stroke="#4d5586"/><path d="M54.3 176.6L54.5 171.6 53.4 170.4 53.3 175.3Z" fill="#565c82" stroke="#565c82"/><path d="M57 202.6L57.4 200.7 56.2 199.3 55.9 201.2Z" fill="#3242bc" stroke="#3242bc"/><path d="M56 188.1L56.2 183.7 55.2 182.5 54.9 186.8Z" fill="#434d8a" stroke="#434d8a"/><path d="M53.4 170.4L53.6 165.4 52.6 164.2 52.4 169.3Z" fill="#60647f" stroke="#60647f"/><path d="M234.7 165L240.1 164.7 238.3 163.5 233 163.8Z" fill="#ced9fa" stroke="#ced9fa"/><path d="M53.9 205.5L56.3 203.3 54.2 200.7 51.4 202.8Z" fill="#3250ee" stroke="#3250ee"/><path d="M141.3 162.2L145.8 161.5 144.3 160.8 139.8 161.5Z" fill="#9eb2f6" stroke="#9eb2f6"/><path d="M113.5 163.4L117.7 162.5 116.1 161.7 112 162.7Z" fill="#aabcf6" stroke="#aabcf6"/><path d="M39.9 206.4L43.6 205.1 41.1 202.7 37.3 204.1Z" fill="#3250ee" stroke="#3250ee"/><path d="M176.1 162.8L180.2 162.2 178.8 161.3 174.6 162Z" fill="#9aaef5" stroke="#9aaef5"/><path d="M77.5 154.9L81.3 156.9 79.7 155.2 75.9 153.1Z" fill="#d7dae4" stroke="#d7dae4"/><path d="M61.1 133.8L65.4 140 63.7 137.4 59.5 131.8Z" fill="#d7dae4" stroke="#d7dae4"/><path d="M200 165.2L204.5 164.7 203.1 163.7 198.5 164.2Z" fill="#a9bbf6" stroke="#a9bbf6"/><path d="M70.3 147.4L74.3 151.2 72.7 149.2 68.7 145.1Z" fill="#d7dae4" stroke="#d7dae4"/><path d="M52.6 164.2L52.8 159.2 51.8 158.1 51.5 163.1Z" fill="#696c7d" stroke="#696c7d"/><path d="M57.4 200.7L57.7 198 56.5 196.6 56.2 199.3Z" fill="#323fa8" stroke="#323fa8"/><path d="M119.2 163.2L123.3 162.2 121.7 161.5 117.7 162.5Z" fill="#a9bbf6" stroke="#a9bbf6"/><path d="M349.8 161L358 161.4 354 159.4 346.1 159.1Z" fill="#f6f8ff" stroke="#f6f8ff"/><path d="M56.8 193.2L57.1 189.3 56 188.1 55.7 191.9Z" fill="#3c4792" stroke="#3c4792"/><path d="M217.3 164.9L222.5 164.5 220.9 163.4 215.7 163.8Z" fill="#b5c5f7" stroke="#b5c5f7"/><path d="M124.9 162.9L129 161.9 127.4 161.2 123.3 162.2Z" fill="#a7b9f6" stroke="#a7b9f6"/><path d="M407.8 158.3L419.5 160.3 413 157.6 401.7 155.7Z" fill="#e7e8cb" stroke="#e7e8cb"/><path d="M147.3 162.2L151.7 161.6 150.2 160.8 145.8 161.5Z" fill="#9baff5" stroke="#9baff5"/><path d="M362.5 160L371.1 160.7 366.8 158.6 358.3 158Z" fill="#f6f8ff" stroke="#f6f8ff"/><path d="M51.8 158.1L52 153.2 50.9 152.1 50.7 157Z" fill="#73757b" stroke="#73757b"/><path d="M194.3 164.6L198.5 164.2 197.1 163.2 192.9 163.7Z" fill="#a7b9f6" stroke="#a7b9f6"/><path d="M170.5 162.6L174.6 162 173.2 161.1 169 161.8Z" fill="#99adf5" stroke="#99adf5"/><path d="M375.4 159.3L384.3 160.1 379.5 157.9 370.8 157.2Z" fill="#f4f6f8" stroke="#f4f6f8"/><path d="M50.9 152.1L51.1 147.4 50.1 146.3 49.9 150.9Z" fill="#7b7c7c" stroke="#7b7c7c"/><path d="M33.7 208.7L36.8 207.6 31.6 203 28.5 204.1Z" fill="#fcfbf3" stroke="#fcfbf3"/><path d="M229.4 165.3L234.7 165 233 163.8 227.7 164.2Z" fill="#c7d3f9" stroke="#c7d3f9"/><path d="M153.2 162.3L157.5 161.6 156 160.9 151.7 161.6Z" fill="#99adf5" stroke="#99adf5"/><path d="M164.8 162.4L169 161.8 167.5 161 163.3 161.7Z" fill="#98acf5" stroke="#98acf5"/><path d="M159 162.3L163.3 161.7 161.8 160.9 157.5 161.6Z" fill="#98acf5" stroke="#98acf5"/><path d="M130.6 162.6L135.1 162 133.5 161.3 129 161.9Z" fill="#a4b7f6" stroke="#a4b7f6"/><path d="M388.8 159L398.6 160.2 393.1 157.8 383.7 156.7Z" fill="#e5e6c6" stroke="#e5e6c6"/><path d="M188.7 164.2L192.9 163.7 191.4 162.8 187.3 163.3Z" fill="#a4b7f6" stroke="#a4b7f6"/><path d="M94.8 162.7L98.4 162.7 96.8 161.6 93.3 161.6Z" fill="#c1cbed" stroke="#c1cbed"/><path d="M57.7 198L57.9 194.6 56.8 193.2 56.5 196.6Z" fill="#36419b" stroke="#36419b"/><path d="M89.7 161.4L93.3 161.6 91.7 160.4 88.1 160.2Z" fill="#cdd4e8" stroke="#cdd4e8"/><path d="M212.1 165.3L217.3 164.9 215.7 163.8 210.6 164.3Z" fill="#b0c1f7" stroke="#b0c1f7"/><path d="M100 163.6L103.5 163.2 101.9 162.3 98.4 162.7Z" fill="#b4c3f2" stroke="#b4c3f2"/><path d="M206 165.8L212.1 165.3 210.6 164.3 204.5 164.7Z" fill="#acbef6" stroke="#acbef6"/><path d="M84.5 159.8L88.1 160.2 86.5 159 82.9 158.4Z" fill="#d6d9e5" stroke="#d6d9e5"/><path d="M224.1 165.7L229.4 165.3 227.7 164.2 222.5 164.5Z" fill="#bfcdf9" stroke="#bfcdf9"/><path d="M183.1 163.8L187.3 163.3 185.8 162.4 181.7 163Z" fill="#a1b4f6" stroke="#a1b4f6"/><path d="M105 164L108.5 163.4 106.9 162.6 103.5 163.2Z" fill="#acbdf5" stroke="#acbdf5"/><path d="M136.7 162.7L141.3 162.2 139.8 161.5 135.1 162Z" fill="#a2b5f6" stroke="#a2b5f6"/><path d="M56.2 183.7L56.4 179 55.3 177.8 55.2 182.5Z" fill="#4d5586" stroke="#4d5586"/><path d="M55.3 177.8L55.5 172.8 54.5 171.6 54.3 176.6Z" fill="#565c82" stroke="#565c82"/><path d="M62.7 135.9L67 142.6 65.4 140 61.1 133.8Z" fill="#d7dae4" stroke="#d7dae4"/><path d="M201.5 166.2L206 165.8 204.5 164.7 200 165.2Z" fill="#aabcf6" stroke="#aabcf6"/><path d="M72 149.6L75.9 153.1 74.3 151.2 70.3 147.4Z" fill="#d7dae4" stroke="#d7dae4"/><path d="M54.5 171.6L54.6 166.5 53.6 165.4 53.4 170.4Z" fill="#60647f" stroke="#60647f"/><path d="M57.1 189.3L57.3 185 56.2 183.7 56 188.1Z" fill="#434d8a" stroke="#434d8a"/><path d="M177.6 163.6L181.7 163 180.2 162.2 176.1 162.8Z" fill="#9fb2f6" stroke="#9fb2f6"/><path d="M57.6 204.9L58.1 204 57 202.6 56.5 203.5Z" fill="#3249d9" stroke="#3249d9"/><path d="M403.2 159.2L414 160.8 407.8 158.3 397.4 156.8Z" fill="#e1e1b7" stroke="#e1e1b7"/><path d="M58.1 204L58.6 202.1 57.4 200.7 57 202.6Z" fill="#3242bc" stroke="#3242bc"/><path d="M110.1 164.1L113.5 163.4 112 162.7 108.5 163.4Z" fill="#aabcf6" stroke="#aabcf6"/><path d="M79.1 156.6L82.9 158.4 81.3 156.9 77.5 154.9Z" fill="#d7dae4" stroke="#d7dae4"/><path d="M218.9 166L224.1 165.7 222.5 164.5 217.3 164.9Z" fill="#b8c7f8" stroke="#b8c7f8"/><path d="M53.6 165.4L53.7 160.3 52.8 159.2 52.6 164.2Z" fill="#696c7d" stroke="#696c7d"/><path d="M358 161.4L366.6 162 362.5 160 354 159.4Z" fill="#f6f8ff" stroke="#f6f8ff"/><path d="M195.8 165.6L200 165.2 198.5 164.2 194.3 164.6Z" fill="#a9bbf6" stroke="#a9bbf6"/><path d="M142.9 162.8L147.3 162.2 145.8 161.5 141.3 162.2Z" fill="#9fb3f6" stroke="#9fb3f6"/><path d="M171.9 163.3L176.1 162.8 174.6 162 170.5 162.6Z" fill="#9cb0f6" stroke="#9cb0f6"/><path d="M57.9 194.6L58.2 190.6 57.1 189.3 56.8 193.2Z" fill="#3c4792" stroke="#3c4792"/><path d="M115.1 164.1L119.2 163.2 117.7 162.5 113.5 163.4Z" fill="#aabcf6" stroke="#aabcf6"/><path d="M52.8 159.2L53 154.4 52 153.2 51.8 158.1Z" fill="#73757b" stroke="#73757b"/><path d="M51.1 147.4L51.4 143.1 50.3 142 50.1 146.3Z" fill="#838480" stroke="#838480"/><path d="M58.6 202.1L58.9 199.4 57.7 198 57.4 200.7Z" fill="#323fa8" stroke="#323fa8"/><path d="M371.1 160.7L380 161.4 375.4 159.3 366.8 158.6Z" fill="#f6f8ff" stroke="#f6f8ff"/><path d="M52 153.2L52.2 148.5 51.1 147.4 50.9 152.1Z" fill="#7b7c7c" stroke="#7b7c7c"/><path d="M51.1 207.4L53.9 205.5 51.4 202.8 48.5 204.8Z" fill="#3250ee" stroke="#3250ee"/><path d="M148.8 162.9L153.2 162.3 151.7 161.6 147.3 162.2Z" fill="#9db1f6" stroke="#9db1f6"/><path d="M120.8 163.8L124.9 162.9 123.3 162.2 119.2 163.2Z" fill="#a9bbf6" stroke="#a9bbf6"/><path d="M166.3 163.1L170.5 162.6 169 161.8 164.8 162.4Z" fill="#9baff5" stroke="#9baff5"/><path d="M190.2 165.1L194.3 164.6 192.9 163.7 188.7 164.2Z" fill="#a7baf6" stroke="#a7baf6"/><path d="M154.7 162.9L159 162.3 157.5 161.6 153.2 162.3Z" fill="#9baff5" stroke="#9baff5"/><path d="M126.5 163.5L130.6 162.6 129 161.9 124.9 162.9Z" fill="#a7b9f6" stroke="#a7b9f6"/><path d="M160.5 163L164.8 162.4 163.3 161.7 159 162.3Z" fill="#9baff5" stroke="#9baff5"/><path d="M384.3 160.1L394 161.2 388.8 159 379.5 157.9Z" fill="#edeedf" stroke="#edeedf"/><path d="M213.7 166.4L218.9 166 217.3 164.9 212.1 165.3Z" fill="#b3c3f7" stroke="#b3c3f7"/><path d="M207.5 166.8L213.7 166.4 212.1 165.3 206 165.8Z" fill="#aebff6" stroke="#aebff6"/><path d="M132.2 163.3L136.7 162.7 135.1 162 130.6 162.6Z" fill="#a5b8f6" stroke="#a5b8f6"/><path d="M58.9 199.4L59 195.9 57.9 194.6 57.7 198Z" fill="#36419b" stroke="#36419b"/><path d="M184.6 164.7L188.7 164.2 187.3 163.3 183.1 163.8Z" fill="#a5b8f6" stroke="#a5b8f6"/><path d="M96.4 163.7L100 163.6 98.4 162.7 94.8 162.7Z" fill="#c0cbed" stroke="#c0cbed"/><path d="M91.2 162.5L94.8 162.7 93.3 161.6 89.7 161.4Z" fill="#cdd4e8" stroke="#cdd4e8"/><path d="M64.4 138.1L68.7 145.1 67 142.6 62.7 135.9Z" fill="#d7dae4" stroke="#d7dae4"/><path d="M86 161L89.7 161.4 88.1 160.2 84.5 159.8Z" fill="#d6d9e5" stroke="#d6d9e5"/><path d="M46.1 207.5L51.1 207.4 48.5 204.8 43.6 205.1Z" fill="#3250ee" stroke="#3250ee"/><path d="M202.9 167.2L207.5 166.8 206 165.8 201.5 166.2Z" fill="#abbdf6" stroke="#abbdf6"/><path d="M101.5 164.5L105 164 103.5 163.2 100 163.6Z" fill="#b3c2f2" stroke="#b3c2f2"/><path d="M73.6 151.6L77.5 154.9 75.9 153.1 72 149.6Z" fill="#d7dae4" stroke="#d7dae4"/><path d="M398.6 160.2L409 161.6 403.2 159.2 393.1 157.8Z" fill="#dedfaf" stroke="#dedfaf"/><path d="M179 164.3L183.1 163.8 181.7 163 177.6 163.6Z" fill="#a2b5f6" stroke="#a2b5f6"/><path d="M56.4 179L56.6 174 55.5 172.8 55.3 177.8Z" fill="#565c82" stroke="#565c82"/><path d="M57.3 185L57.5 180.2 56.4 179 56.2 183.7Z" fill="#4d5586" stroke="#4d5586"/><path d="M197.3 166.5L201.5 166.2 200 165.2 195.8 165.6Z" fill="#aabcf6" stroke="#aabcf6"/><path d="M42.5 208.8L46.1 207.5 43.6 205.1 39.9 206.4Z" fill="#3250ee" stroke="#3250ee"/><path d="M138.3 163.3L142.9 162.8 141.3 162.2 136.7 162.7Z" fill="#a2b5f6" stroke="#a2b5f6"/><path d="M106.6 164.8L110.1 164.1 108.5 163.4 105 164Z" fill="#abbdf5" stroke="#abbdf5"/><path d="M55.5 172.8L55.7 167.7 54.6 166.5 54.5 171.6Z" fill="#60647f" stroke="#60647f"/><path d="M58.2 190.6L58.4 186.2 57.3 185 57.1 189.3Z" fill="#434d8a" stroke="#434d8a"/><path d="M80.7 158.3L84.5 159.8 82.9 158.4 79.1 156.6Z" fill="#d7dae4" stroke="#d7dae4"/><path d="M54.6 166.5L54.8 161.5 53.7 160.3 53.6 165.4Z" fill="#696c7d" stroke="#696c7d"/><path d="M51.4 143.1L51.7 139.2 50.6 138.1 50.3 142Z" fill="#8b8b83" stroke="#8b8b83"/><path d="M366.6 162L375.5 162.7 371.1 160.7 362.5 160Z" fill="#f6f8ff" stroke="#f6f8ff"/><path d="M59.3 205.4L59.8 203.5 58.6 202.1 58.1 204Z" fill="#3242bc" stroke="#3242bc"/><path d="M173.4 164.1L177.6 163.6 176.1 162.8 171.9 163.3Z" fill="#a0b3f6" stroke="#a0b3f6"/><path d="M58.9 206.4L59.3 205.4 58.1 204 57.6 204.9Z" fill="#3249d9" stroke="#3249d9"/><path d="M56.5 208.4L58.5 205.9 56.3 203.3 53.9 205.5Z" fill="#3250ee" stroke="#3250ee"/><path d="M53.7 160.3L54.1 155.5 53 154.4 52.8 159.2Z" fill="#73757b" stroke="#73757b"/><path d="M144.4 163.5L148.8 162.9 147.3 162.2 142.9 162.8Z" fill="#a0b4f6" stroke="#a0b4f6"/><path d="M111.7 164.8L115.1 164.1 113.5 163.4 110.1 164.1Z" fill="#aabcf6" stroke="#aabcf6"/><path d="M191.6 166L195.8 165.6 194.3 164.6 190.2 165.1Z" fill="#a9bbf6" stroke="#a9bbf6"/><path d="M57.1 130.5L61.1 133.8 59.5 131.8 55.6 129Z" fill="#d7dae4" stroke="#d7dae4"/><path d="M52.2 148.5L52.5 144.2 51.4 143.1 51.1 147.4Z" fill="#838480" stroke="#838480"/><path d="M59 195.9L59.3 191.9 58.2 190.6 57.9 194.6Z" fill="#3c4792" stroke="#3c4792"/><path d="M53 154.4L53.3 149.7 52.2 148.5 52 153.2Z" fill="#7b7c7c" stroke="#7b7c7c"/><path d="M167.8 163.8L171.9 163.3 170.5 162.6 166.3 163.1Z" fill="#9fb2f6" stroke="#9fb2f6"/><path d="M380 161.4L389.2 162.3 384.3 160.1 375.4 159.3Z" fill="#f4f6f8" stroke="#f4f6f8"/><path d="M59.8 203.5L60.1 200.8 58.9 199.4 58.6 202.1Z" fill="#323fa8" stroke="#323fa8"/><path d="M150.4 163.5L154.7 162.9 153.2 162.3 148.8 162.9Z" fill="#9fb2f6" stroke="#9fb2f6"/><path d="M116.7 164.7L120.8 163.8 119.2 163.2 115.1 164.1Z" fill="#aabcf6" stroke="#aabcf6"/><path d="M162 163.7L166.3 163.1 164.8 162.4 160.5 163Z" fill="#9eb1f6" stroke="#9eb1f6"/><path d="M156.2 163.6L160.5 163 159 162.3 154.7 162.9Z" fill="#9eb1f6" stroke="#9eb1f6"/><path d="M122.4 164.4L126.5 163.5 124.9 162.9 120.8 163.8Z" fill="#a9bbf6" stroke="#a9bbf6"/><path d="M186 165.5L190.2 165.1 188.7 164.2 184.6 164.7Z" fill="#a8baf6" stroke="#a8baf6"/><path d="M66 140.5L70.3 147.4 68.7 145.1 64.4 138.1Z" fill="#d7dae4" stroke="#d7dae4"/><path d="M128.1 164.1L132.2 163.3 130.6 162.6 126.5 163.5Z" fill="#a7baf6" stroke="#a7baf6"/><path d="M60.1 200.8L60.2 197.3 59 195.9 58.9 199.4Z" fill="#36419b" stroke="#36419b"/><path d="M394 161.2L404.1 162.5 398.6 160.2 388.8 159Z" fill="#e4e4c1" stroke="#e4e4c1"/><path d="M75.2 153.6L79.1 156.6 77.5 154.9 73.6 151.6Z" fill="#d7dae4" stroke="#d7dae4"/><path d="M92.8 163.6L96.4 163.7 94.8 162.7 91.2 162.5Z" fill="#ccd3e8" stroke="#ccd3e8"/><path d="M198.7 167.5L202.9 167.2 201.5 166.2 197.3 166.5Z" fill="#aabcf6" stroke="#aabcf6"/><path d="M51.7 139.2L52 135.9 50.9 134.8 50.6 138.1Z" fill="#949488" stroke="#949488"/><path d="M133.8 163.9L138.3 163.3 136.7 162.7 132.2 163.3Z" fill="#a5b8f6" stroke="#a5b8f6"/><path d="M98 164.7L101.5 164.5 100 163.6 96.4 163.7Z" fill="#bfcaee" stroke="#bfcaee"/><path d="M87.6 162.2L91.2 162.5 89.7 161.4 86 161Z" fill="#d5d9e5" stroke="#d5d9e5"/><path d="M180.5 165.1L184.6 164.7 183.1 163.8 179 164.3Z" fill="#a5b8f6" stroke="#a5b8f6"/><path d="M414 160.8L426.2 163 419.5 160.3 407.8 158.3Z" fill="#e1e1b7" stroke="#e1e1b7"/><path d="M57.5 180.2L57.6 175.2 56.6 174 56.4 179Z" fill="#565c82" stroke="#565c82"/><path d="M103.1 165.3L106.6 164.8 105 164 101.5 164.5Z" fill="#b2c2f3" stroke="#b2c2f3"/><path d="M58.4 186.2L58.6 181.5 57.5 180.2 57.3 185Z" fill="#4d5586" stroke="#4d5586"/><path d="M56.6 174L56.7 168.9 55.7 167.7 55.5 172.8Z" fill="#60647f" stroke="#60647f"/><path d="M55.7 167.7L55.8 162.6 54.8 161.5 54.6 166.5Z" fill="#696c7d" stroke="#696c7d"/><path d="M82.3 159.8L86 161 84.5 159.8 80.7 158.3Z" fill="#d7dae4" stroke="#d7dae4"/><path d="M59.3 191.9L59.5 187.5 58.4 186.2 58.2 190.6Z" fill="#434d8a" stroke="#434d8a"/><path d="M52.5 144.2L52.8 140.3 51.7 139.2 51.4 143.1Z" fill="#8b8b83" stroke="#8b8b83"/><path d="M139.9 163.9L144.4 163.5 142.9 162.8 138.3 163.3Z" fill="#a3b6f6" stroke="#a3b6f6"/><path d="M193.1 166.9L197.3 166.5 195.8 165.6 191.6 166Z" fill="#aabcf6" stroke="#aabcf6"/><path d="M174.9 164.8L179 164.3 177.6 163.6 173.4 164.1Z" fill="#a3b6f6" stroke="#a3b6f6"/><path d="M56.5 130.1L56.9 130.3 55.6 129 55.1 128.9Z" fill="#c8cad2" stroke="#c8cad2"/><path d="M108.2 165.5L111.7 164.8 110.1 164.1 106.6 164.8Z" fill="#abbdf5" stroke="#abbdf5"/><path d="M54.8 161.5L55.2 156.6 54.1 155.5 53.7 160.3Z" fill="#73757b" stroke="#73757b"/><path d="M58.7 132.1L62.7 135.9 61.1 133.8 57.1 130.5Z" fill="#d7dae4" stroke="#d7dae4"/><path d="M375.5 162.7L384.6 163.5 380 161.4 371.1 160.7Z" fill="#f6f8ff" stroke="#f6f8ff"/><path d="M53.3 149.7L53.5 145.3 52.5 144.2 52.2 148.5Z" fill="#838480" stroke="#838480"/><path d="M60.5 206.9L60.9 204.9 59.8 203.5 59.3 205.4Z" fill="#3242bc" stroke="#3242bc"/><path d="M54.1 155.5L54.3 150.8 53.3 149.7 53 154.4Z" fill="#7b7c7c" stroke="#7b7c7c"/><path d="M56 129.9L56.5 130.1 55.1 128.9 54.7 128.8Z" fill="#c8cad2" stroke="#c8cad2"/><path d="M169.2 164.5L173.4 164.1 171.9 163.3 167.8 163.8Z" fill="#a2b5f6" stroke="#a2b5f6"/><path d="M60.1 207.9L60.5 206.9 59.3 205.4 58.9 206.4Z" fill="#3249d9" stroke="#3249d9"/><path d="M52 135.9L52.5 133.4 51.3 132.3 50.9 134.8Z" fill="#a3a397" stroke="#a3a397"/><path d="M60.2 197.3L60.4 193.2 59.3 191.9 59 195.9Z" fill="#3c4792" stroke="#3c4792"/><path d="M146 164.1L150.4 163.5 148.8 162.9 144.4 163.5Z" fill="#a2b5f6" stroke="#a2b5f6"/><path d="M67.7 143L72 149.6 70.3 147.4 66 140.5Z" fill="#d7dae4" stroke="#d7dae4"/><path d="M55.6 129.9L56 129.9 54.7 128.8 54.3 128.7Z" fill="#c8cad2" stroke="#c8cad2"/><path d="M187.5 166.3L191.6 166 190.2 165.1 186 165.5Z" fill="#a9bbf6" stroke="#a9bbf6"/><path d="M163.5 164.3L167.8 163.8 166.3 163.1 162 163.7Z" fill="#a0b4f6" stroke="#a0b4f6"/><path d="M113.2 165.4L116.7 164.7 115.1 164.1 111.7 164.8Z" fill="#aabcf6" stroke="#aabcf6"/><path d="M53.6 210L56.5 208.4 53.9 205.5 51.1 207.4Z" fill="#3250ee" stroke="#3250ee"/><path d="M151.9 164.1L156.2 163.6 154.7 162.9 150.4 163.5Z" fill="#a1b4f6" stroke="#a1b4f6"/><path d="M157.8 164.2L162 163.7 160.5 163 156.2 163.6Z" fill="#a0b3f6" stroke="#a0b3f6"/><path d="M60.9 204.9L61.3 202.2 60.1 200.8 59.8 203.5Z" fill="#323fa8" stroke="#323fa8"/><path d="M42.1 212.3L45.2 211.1 39.9 206.4 36.8 207.6Z" fill="#fcfbf3" stroke="#fcfbf3"/><path d="M409 161.6L420.2 163.3 414 160.8 403.2 159.2Z" fill="#dcdca7" stroke="#dcdca7"/><path d="M55.2 129.8L55.6 129.9 54.3 128.7 53.9 128.7Z" fill="#c8cad2" stroke="#c8cad2"/><path d="M389.2 162.3L399.2 163.5 394 161.2 384.3 160.1Z" fill="#edeedf" stroke="#edeedf"/><path d="M118.3 165.3L122.4 164.4 120.8 163.8 116.7 164.7Z" fill="#aabcf6" stroke="#aabcf6"/><path d="M54.8 129.8L55.2 129.8 53.9 128.7 53.5 128.8Z" fill="#ccced3" stroke="#ccced3"/><path d="M52.5 133.4L53 131.7 51.9 130.6 51.3 132.3Z" fill="#b3b3a7" stroke="#b3b3a7"/><path d="M76.8 155.4L80.7 158.3 79.1 156.6 75.2 153.6Z" fill="#d7dae4" stroke="#d7dae4"/><path d="M124 165L128.1 164.1 126.5 163.5 122.4 164.4Z" fill="#a9bbf6" stroke="#a9bbf6"/><path d="M48.6 209.8L53.6 210 51.1 207.4 46.1 207.5Z" fill="#3250ee" stroke="#3250ee"/><path d="M54.3 129.9L54.8 129.8 53.5 128.8 53.2 128.8Z" fill="#d2d3d6" stroke="#d2d3d6"/><path d="M182 165.9L186 165.5 184.6 164.7 180.5 165.1Z" fill="#a8baf6" stroke="#a8baf6"/><path d="M53 131.7L53.6 130.9 52.5 129.8 51.9 130.6Z" fill="#c6c6bc" stroke="#c6c6bc"/><path d="M53.6 130.9L54 130.3 52.8 129.3 52.5 129.8Z" fill="#ddddda" stroke="#ddddda"/><path d="M52.8 140.3L53.1 137 52 135.9 51.7 139.2Z" fill="#949488" stroke="#949488"/><path d="M129.7 164.7L133.8 163.9 132.2 163.3 128.1 164.1Z" fill="#a8baf6" stroke="#a8baf6"/><path d="M54 130.3L54.3 129.9 53.2 128.8 52.8 129.3Z" fill="#d9d9d8" stroke="#d9d9d8"/><path d="M45.2 211.1L48.6 209.8 46.1 207.5 42.5 208.8Z" fill="#3250ee" stroke="#3250ee"/><path d="M61.3 202.2L61.4 198.7 60.2 197.3 60.1 200.8Z" fill="#36419b" stroke="#36419b"/><path d="M94.4 164.5L98 164.7 96.4 163.7 92.8 163.6Z" fill="#c9d1e9" stroke="#c9d1e9"/><path d="M89.2 163.3L92.8 163.6 91.2 162.5 87.6 162.2Z" fill="#d4d8e5" stroke="#d4d8e5"/><path d="M58.6 181.5L58.7 176.4 57.6 175.2 57.5 180.2Z" fill="#565c82" stroke="#565c82"/><path d="M99.5 165.5L103.1 165.3 101.5 164.5 98 164.7Z" fill="#bcc8ef" stroke="#bcc8ef"/><path d="M194.6 167.7L198.7 167.5 197.3 166.5 193.1 166.9Z" fill="#aabcf6" stroke="#aabcf6"/><path d="M57.6 175.2L57.8 170.1 56.7 168.9 56.6 174Z" fill="#60647f" stroke="#60647f"/><path d="M59.5 187.5L59.6 182.7 58.6 181.5 58.4 186.2Z" fill="#4d5586" stroke="#4d5586"/><path d="M135.4 164.5L139.9 163.9 138.3 163.3 133.8 163.9Z" fill="#a6b8f6" stroke="#a6b8f6"/><path d="M56.7 168.9L56.9 163.8 55.8 162.6 55.7 167.7Z" fill="#696c7d" stroke="#696c7d"/><path d="M57.8 131.3L58.3 131.6 56.9 130.3 56.5 130.1Z" fill="#c8cad2" stroke="#c8cad2"/><path d="M176.4 165.5L180.5 165.1 179 164.3 174.9 164.8Z" fill="#a6b9f6" stroke="#a6b9f6"/><path d="M53.5 145.3L53.9 141.4 52.8 140.3 52.5 144.2Z" fill="#8b8b83" stroke="#8b8b83"/><path d="M38.9 213.4L42.1 212.3 36.8 207.6 33.7 208.7Z" fill="#fcfbf3" stroke="#fcfbf3"/><path d="M60.4 193.2L60.6 188.8 59.5 187.5 59.3 191.9Z" fill="#434d8a" stroke="#434d8a"/><path d="M83.9 161.2L87.6 162.2 86 161 82.3 159.8Z" fill="#d7dae4" stroke="#d7dae4"/><path d="M55.8 162.6L56.1 157.7 55.2 156.6 54.8 161.5Z" fill="#73757b" stroke="#73757b"/><path d="M104.7 166L108.2 165.5 106.6 164.8 103.1 165.3Z" fill="#b1c1f3" stroke="#b1c1f3"/><path d="M60.3 133.7L64.4 138.1 62.7 135.9 58.7 132.1Z" fill="#d7dae4" stroke="#d7dae4"/><path d="M69.4 145.5L73.6 151.6 72 149.6 67.7 143Z" fill="#d7dae4" stroke="#d7dae4"/><path d="M57.3 131.1L57.8 131.3 56.5 130.1 56 129.9Z" fill="#c8cad2" stroke="#c8cad2"/><path d="M54.3 150.8L54.6 146.4 53.5 145.3 53.3 149.7Z" fill="#838480" stroke="#838480"/><path d="M141.5 164.5L146 164.1 144.4 163.5 139.9 163.9Z" fill="#a4b7f6" stroke="#a4b7f6"/><path d="M55.2 156.6L55.4 151.9 54.3 150.8 54.1 155.5Z" fill="#7b7c7c" stroke="#7b7c7c"/><path d="M404.1 162.5L414.9 164 409 161.6 398.6 160.2Z" fill="#dcdda8" stroke="#dcdda8"/><path d="M170.8 165.2L174.9 164.8 173.4 164.1 169.2 164.5Z" fill="#a4b7f6" stroke="#a4b7f6"/><path d="M53.1 137L53.6 134.5 52.5 133.4 52 135.9Z" fill="#a3a397" stroke="#a3a397"/><path d="M189 167.2L193.1 166.9 191.6 166 187.5 166.3Z" fill="#aabcf6" stroke="#aabcf6"/><path d="M56.9 131L57.3 131.1 56 129.9 55.6 129.9Z" fill="#c8cad2" stroke="#c8cad2"/><path d="M109.7 166.1L113.2 165.4 111.7 164.8 108.2 165.5Z" fill="#abbdf6" stroke="#abbdf6"/><path d="M59.3 211.4L60.7 208.7 58.5 205.9 56.5 208.4Z" fill="#3250ee" stroke="#3250ee"/><path d="M61.8 208.4L62.1 206.4 60.9 204.9 60.5 206.9Z" fill="#3242bc" stroke="#3242bc"/><path d="M61.4 198.7L61.5 194.5 60.4 193.2 60.2 197.3Z" fill="#3c4792" stroke="#3c4792"/><path d="M384.6 163.5L394.2 164.4 389.2 162.3 380 161.4Z" fill="#f4f6f8" stroke="#f4f6f8"/><path d="M165.1 165L169.2 164.5 167.8 163.8 163.5 164.3Z" fill="#a3b6f6" stroke="#a3b6f6"/><path d="M147.6 164.6L151.9 164.1 150.4 163.5 146 164.1Z" fill="#a3b6f6" stroke="#a3b6f6"/><path d="M61.4 209.5L61.8 208.4 60.5 206.9 60.1 207.9Z" fill="#3249d9" stroke="#3249d9"/><path d="M56.4 130.9L56.9 131 55.6 129.9 55.2 129.8Z" fill="#c8cad2" stroke="#c8cad2"/><path d="M159.3 164.8L163.5 164.3 162 163.7 157.8 164.2Z" fill="#a2b5f6" stroke="#a2b5f6"/><path d="M153.5 164.7L157.8 164.2 156.2 163.6 151.9 164.1Z" fill="#a2b5f6" stroke="#a2b5f6"/><path d="M62.1 206.4L62.5 203.6 61.3 202.2 60.9 204.9Z" fill="#323fa8" stroke="#323fa8"/><path d="M56 130.9L56.4 130.9 55.2 129.8 54.8 129.8Z" fill="#ccced3" stroke="#ccced3"/><path d="M53.6 134.5L54.1 132.8 53 131.7 52.5 133.4Z" fill="#b3b3a7" stroke="#b3b3a7"/><path d="M114.8 166L118.3 165.3 116.7 164.7 113.2 165.4Z" fill="#aabcf6" stroke="#aabcf6"/><path d="M78.5 157.1L82.3 159.8 80.7 158.3 76.8 155.4Z" fill="#d7dae4" stroke="#d7dae4"/><path d="M183.5 166.7L187.5 166.3 186 165.5 182 165.9Z" fill="#a9bcf6" stroke="#a9bcf6"/><path d="M55.5 131L56 130.9 54.8 129.8 54.3 129.9Z" fill="#d2d3d6" stroke="#d2d3d6"/><path d="M54.1 132.8L54.7 132 53.6 130.9 53 131.7Z" fill="#c6c6bc" stroke="#c6c6bc"/><path d="M53.9 141.4L54.2 138.1 53.1 137 52.8 140.3Z" fill="#949488" stroke="#949488"/><path d="M54.7 132L55.1 131.4 54 130.3 53.6 130.9Z" fill="#ddddda" stroke="#ddddda"/><path d="M55.1 131.4L55.5 131 54.3 129.9 54 130.3Z" fill="#d9d9d8" stroke="#d9d9d8"/><path d="M119.9 165.8L124 165 122.4 164.4 118.3 165.3Z" fill="#aabcf6" stroke="#aabcf6"/><path d="M59.1 132.6L59.6 133 58.3 131.6 57.8 131.3Z" fill="#c8cad2" stroke="#c8cad2"/><path d="M125.6 165.5L129.7 164.7 128.1 164.1 124 165Z" fill="#a9bbf6" stroke="#a9bbf6"/><path d="M59.6 182.7L59.8 177.7 58.7 176.4 58.6 181.5Z" fill="#565c82" stroke="#565c82"/><path d="M58.7 176.4L58.9 171.3 57.8 170.1 57.6 175.2Z" fill="#60647f" stroke="#60647f"/><path d="M62.5 203.6L62.7 200.1 61.4 198.7 61.3 202.2Z" fill="#36419b" stroke="#36419b"/><path d="M60.6 188.8L60.7 183.9 59.6 182.7 59.5 187.5Z" fill="#4d5586" stroke="#4d5586"/><path d="M71.1 147.8L75.2 153.6 73.6 151.6 69.4 145.5Z" fill="#d7dae4" stroke="#d7dae4"/><path d="M177.9 166.2L182 165.9 180.5 165.1 176.4 165.5Z" fill="#a8baf6" stroke="#a8baf6"/><path d="M131.3 165.2L135.4 164.5 133.8 163.9 129.7 164.7Z" fill="#a8baf6" stroke="#a8baf6"/><path d="M57.8 170.1L57.9 164.9 56.9 163.8 56.7 168.9Z" fill="#696c7d" stroke="#696c7d"/><path d="M399.2 163.5L409.6 164.8 404.1 162.5 394 161.2Z" fill="#e4e4c1" stroke="#e4e4c1"/><path d="M95.9 165.4L99.5 165.5 98 164.7 94.4 164.5Z" fill="#c6cfeb" stroke="#c6cfeb"/><path d="M61.9 135.4L66 140.5 64.4 138.1 60.3 133.7Z" fill="#d7dae4" stroke="#d7dae4"/><path d="M90.8 164.2L94.4 164.5 92.8 163.6 89.2 163.3Z" fill="#d1d6e6" stroke="#d1d6e6"/><path d="M56.9 163.8L57 158.7 56.1 157.7 55.8 162.6Z" fill="#73757b" stroke="#73757b"/><path d="M54.6 146.4L55 142.5 53.9 141.4 53.5 145.3Z" fill="#8b8b83" stroke="#8b8b83"/><path d="M58.6 132.3L59.1 132.6 57.8 131.3 57.3 131.1Z" fill="#c8cad2" stroke="#c8cad2"/><path d="M101.1 166.3L104.7 166 103.1 165.3 99.5 165.5Z" fill="#bac7f0" stroke="#bac7f0"/><path d="M61.5 194.5L61.7 190 60.6 188.8 60.4 193.2Z" fill="#434d8a" stroke="#434d8a"/><path d="M137.1 165L141.5 164.5 139.9 163.9 135.4 164.5Z" fill="#a6b9f6" stroke="#a6b9f6"/><path d="M85.5 162.4L89.2 163.3 87.6 162.2 83.9 161.2Z" fill="#d5d9e5" stroke="#d5d9e5"/><path d="M190.5 168L194.6 167.7 193.1 166.9 189 167.2Z" fill="#aabcf6" stroke="#aabcf6"/><path d="M55.4 151.9L55.7 147.5 54.6 146.4 54.3 150.8Z" fill="#838480" stroke="#838480"/><path d="M56.1 157.7L56.5 153 55.4 151.9 55.2 156.6Z" fill="#7b7c7c" stroke="#7b7c7c"/><path d="M172.3 165.9L176.4 165.5 174.9 164.8 170.8 165.2Z" fill="#a7b9f6" stroke="#a7b9f6"/><path d="M58.1 132.2L58.6 132.3 57.3 131.1 56.9 131Z" fill="#c8cad2" stroke="#c8cad2"/><path d="M54.2 138.1L54.7 135.6 53.6 134.5 53.1 137Z" fill="#a3a397" stroke="#a3a397"/><path d="M106.2 166.6L109.7 166.1 108.2 165.5 104.7 166Z" fill="#b0c0f4" stroke="#b0c0f4"/><path d="M143.1 165.1L147.6 164.6 146 164.1 141.5 164.5Z" fill="#a5b8f6" stroke="#a5b8f6"/><path d="M57.6 132.1L58.1 132.2 56.9 131 56.4 130.9Z" fill="#c8cad2" stroke="#c8cad2"/><path d="M166.6 165.6L170.8 165.2 169.2 164.5 165.1 165Z" fill="#a5b8f6" stroke="#a5b8f6"/><path d="M62.7 200.1L62.7 195.9 61.5 194.5 61.4 198.7Z" fill="#3c4792" stroke="#3c4792"/><path d="M420.2 163.3L432.9 165.7 426.2 163 414 160.8Z" fill="#dcdca7" stroke="#dcdca7"/><path d="M63 209.9L63.3 207.8 62.1 206.4 61.8 208.4Z" fill="#3242bc" stroke="#3242bc"/><path d="M57.2 132L57.6 132.1 56.4 130.9 56 130.9Z" fill="#ccced3" stroke="#ccced3"/><path d="M149.1 165.2L153.5 164.7 151.9 164.1 147.6 164.6Z" fill="#a4b7f6" stroke="#a4b7f6"/><path d="M160.8 165.4L165.1 165 163.5 164.3 159.3 164.8Z" fill="#a4b7f6" stroke="#a4b7f6"/><path d="M184.9 167.4L189 167.2 187.5 166.3 183.5 166.7Z" fill="#aabcf6" stroke="#aabcf6"/><path d="M56 212.5L59.3 211.4 56.5 208.4 53.6 210Z" fill="#3250ee" stroke="#3250ee"/><path d="M111.3 166.6L114.8 166 113.2 165.4 109.7 166.1Z" fill="#abbdf6" stroke="#abbdf6"/><path d="M155 165.3L159.3 164.8 157.8 164.2 153.5 164.7Z" fill="#a4b7f6" stroke="#a4b7f6"/><path d="M54.7 135.6L55.2 133.8 54.1 132.8 53.6 134.5Z" fill="#b3b3a7" stroke="#b3b3a7"/><path d="M62.7 211L63 209.9 61.8 208.4 61.4 209.5Z" fill="#3249d9" stroke="#3249d9"/><path d="M80.1 158.7L83.9 161.2 82.3 159.8 78.5 157.1Z" fill="#d7dae4" stroke="#d7dae4"/><path d="M56.7 132L57.2 132 56 130.9 55.5 131Z" fill="#d2d3d6" stroke="#d2d3d6"/><path d="M51.1 212.3L56 212.5 53.6 210 48.6 209.8Z" fill="#3250ee" stroke="#3250ee"/><path d="M63.3 207.8L63.6 205 62.5 203.6 62.1 206.4Z" fill="#323fa8" stroke="#323fa8"/><path d="M47.9 213.5L51.1 212.3 48.6 209.8 45.2 211.1Z" fill="#3250ee" stroke="#3250ee"/><path d="M55.2 133.8L55.9 133.1 54.7 132 54.1 132.8Z" fill="#c6c6bc" stroke="#c6c6bc"/><path d="M394.2 164.4L404.4 165.7 399.2 163.5 389.2 162.3Z" fill="#edeedf" stroke="#edeedf"/><path d="M60.4 134L61 134.4 59.6 133 59.1 132.6Z" fill="#c8cad2" stroke="#c8cad2"/><path d="M55 142.5L55.4 139.2 54.2 138.1 53.9 141.4Z" fill="#949488" stroke="#949488"/><path d="M55.9 133.1L56.3 132.4 55.1 131.4 54.7 132Z" fill="#ddddda" stroke="#ddddda"/><path d="M56.3 132.4L56.7 132 55.5 131 55.1 131.4Z" fill="#d9d9d8" stroke="#d9d9d8"/><path d="M72.7 150.1L76.8 155.4 75.2 153.6 71.1 147.8Z" fill="#d7dae4" stroke="#d7dae4"/><path d="M116.4 166.5L119.9 165.8 118.3 165.3 114.8 166Z" fill="#aabcf6" stroke="#aabcf6"/><path d="M63.5 137L67.7 143 66 140.5 61.9 135.4Z" fill="#d7dae4" stroke="#d7dae4"/><path d="M179.4 166.9L183.5 166.7 182 165.9 177.9 166.2Z" fill="#aabcf6" stroke="#aabcf6"/><path d="M60.7 183.9L60.9 178.9 59.8 177.7 59.6 182.7Z" fill="#565c82" stroke="#565c82"/><path d="M59.8 177.7L60 172.5 58.9 171.3 58.7 176.4Z" fill="#60647f" stroke="#60647f"/><path d="M59.9 133.6L60.4 134 59.1 132.6 58.6 132.3Z" fill="#c8cad2" stroke="#c8cad2"/><path d="M58.9 171.3L59 166.1 57.9 164.9 57.8 170.1Z" fill="#696c7d" stroke="#696c7d"/><path d="M61.7 190L61.8 185.2 60.7 183.9 60.6 188.8Z" fill="#4d5586" stroke="#4d5586"/><path d="M57.9 164.9L58.1 159.9 57 158.7 56.9 163.8Z" fill="#73757b" stroke="#73757b"/><path d="M414.9 164L426.6 165.9 420.2 163.3 409 161.6Z" fill="#dadaa0" stroke="#dadaa0"/><path d="M55.7 147.5L56.1 143.6 55 142.5 54.6 146.4Z" fill="#8b8b83" stroke="#8b8b83"/><path d="M121.5 166.3L125.6 165.5 124 165 119.9 165.8Z" fill="#aabcf6" stroke="#aabcf6"/><path d="M63.6 205L63.9 201.5 62.7 200.1 62.5 203.6Z" fill="#36419b" stroke="#36419b"/><path d="M57 158.7L57.6 154.2 56.5 153 56.1 157.7Z" fill="#7b7c7c" stroke="#7b7c7c"/><path d="M127.2 166L131.3 165.2 129.7 164.7 125.6 165.5Z" fill="#a9bbf6" stroke="#a9bbf6"/><path d="M59.4 133.3L59.9 133.6 58.6 132.3 58.1 132.2Z" fill="#c8cad2" stroke="#c8cad2"/><path d="M62.7 195.9L62.8 191.3 61.7 190 61.5 194.5Z" fill="#434d8a" stroke="#434d8a"/><path d="M56.5 153L56.8 148.7 55.7 147.5 55.4 151.9Z" fill="#838480" stroke="#838480"/><path d="M92.3 165.1L95.9 165.4 94.4 164.5 90.8 164.2Z" fill="#cdd3e8" stroke="#cdd3e8"/><path d="M97.5 166.3L101.1 166.3 99.5 165.5 95.9 165.4Z" fill="#c2ccec" stroke="#c2ccec"/><path d="M132.9 165.7L137.1 165 135.4 164.5 131.3 165.2Z" fill="#a8baf6" stroke="#a8baf6"/><path d="M173.8 166.5L177.9 166.2 176.4 165.5 172.3 165.9Z" fill="#a8bbf6" stroke="#a8bbf6"/><path d="M87.1 163.6L90.8 164.2 89.2 163.3 85.5 162.4Z" fill="#d2d7e6" stroke="#d2d7e6"/><path d="M55.4 139.2L55.8 136.7 54.7 135.6 54.2 138.1Z" fill="#a3a397" stroke="#a3a397"/><path d="M102.7 166.9L106.2 166.6 104.7 166 101.1 166.3Z" fill="#b7c5f1" stroke="#b7c5f1"/><path d="M58.9 133.2L59.4 133.3 58.1 132.2 57.6 132.1Z" fill="#c8cad2" stroke="#c8cad2"/><path d="M138.7 165.5L143.1 165.1 141.5 164.5 137.1 165Z" fill="#a7b9f6" stroke="#a7b9f6"/><path d="M168.1 166.2L172.3 165.9 170.8 165.2 166.6 165.6Z" fill="#a7baf6" stroke="#a7baf6"/><path d="M58.4 133.1L58.9 133.2 57.6 132.1 57.2 132Z" fill="#ccced3" stroke="#ccced3"/><path d="M186.4 168.2L190.5 168 189 167.2 184.9 167.4Z" fill="#aabcf6" stroke="#aabcf6"/><path d="M107.8 167.1L111.3 166.6 109.7 166.1 106.2 166.6Z" fill="#afbff4" stroke="#afbff4"/><path d="M144.7 165.6L149.1 165.2 147.6 164.6 143.1 165.1Z" fill="#a6b9f6" stroke="#a6b9f6"/><path d="M61.8 135.3L62.3 135.8 61 134.4 60.4 134Z" fill="#c8cad2" stroke="#c8cad2"/><path d="M63.9 201.5L63.9 197.3 62.7 195.9 62.7 200.1Z" fill="#3c4792" stroke="#3c4792"/><path d="M55.8 136.7L56.4 134.9 55.2 133.8 54.7 135.6Z" fill="#b3b3a7" stroke="#b3b3a7"/><path d="M62.1 214.5L63.1 211.6 60.7 208.7 59.3 211.4Z" fill="#3250ee" stroke="#3250ee"/><path d="M162.4 166L166.6 165.6 165.1 165 160.8 165.4Z" fill="#a6b9f6" stroke="#a6b9f6"/><path d="M57.9 133.1L58.4 133.1 57.2 132 56.7 132Z" fill="#d2d3d6" stroke="#d2d3d6"/><path d="M409.6 164.8L420.8 166.5 414.9 164 404.1 162.5Z" fill="#dcdda8" stroke="#dcdda8"/><path d="M81.7 160.2L85.5 162.4 83.9 161.2 80.1 158.7Z" fill="#d5d9e5" stroke="#d5d9e5"/><path d="M64.3 211.4L64.6 209.3 63.3 207.8 63 209.9Z" fill="#3242bc" stroke="#3242bc"/><path d="M150.7 165.7L155 165.3 153.5 164.7 149.1 165.2Z" fill="#a6b8f6" stroke="#a6b8f6"/><path d="M156.6 165.8L160.8 165.4 159.3 164.8 155 165.3Z" fill="#a6b8f6" stroke="#a6b8f6"/><path d="M56.4 134.9L57 134.2 55.9 133.1 55.2 133.8Z" fill="#c6c6bc" stroke="#c6c6bc"/><path d="M57.4 133.4L57.9 133.1 56.7 132 56.3 132.4Z" fill="#d9d9d8" stroke="#d9d9d8"/><path d="M74.4 152.3L78.5 157.1 76.8 155.4 72.7 150.1Z" fill="#d7dae4" stroke="#d7dae4"/><path d="M56.1 143.6L56.5 140.3 55.4 139.2 55 142.5Z" fill="#949488" stroke="#949488"/><path d="M57 134.2L57.4 133.4 56.3 132.4 55.9 133.1Z" fill="#ddddda" stroke="#ddddda"/><path d="M65.1 138.7L69.4 145.5 67.7 143 63.5 137Z" fill="#d7dae4" stroke="#d7dae4"/><path d="M64.6 209.3L64.8 206.5 63.6 205 63.3 207.8Z" fill="#323fa8" stroke="#323fa8"/><path d="M64 212.6L64.3 211.4 63 209.9 62.7 211Z" fill="#3249d9" stroke="#3249d9"/><path d="M112.9 167.1L116.4 166.5 114.8 166 111.3 166.6Z" fill="#abbcf6" stroke="#abbcf6"/><path d="M61.2 134.9L61.8 135.3 60.4 134 59.9 133.6Z" fill="#c8cad2" stroke="#c8cad2"/><path d="M180.9 167.6L184.9 167.4 183.5 166.7 179.4 166.9Z" fill="#aabcf6" stroke="#aabcf6"/><path d="M60.9 178.9L61 173.7 60 172.5 59.8 177.7Z" fill="#60647f" stroke="#60647f"/><path d="M61.8 185.2L62 180.1 60.9 178.9 60.7 183.9Z" fill="#565c82" stroke="#565c82"/><path d="M60 172.5L60.1 167.3 59 166.1 58.9 171.3Z" fill="#696c7d" stroke="#696c7d"/><path d="M59 166.1L59.2 161 58.1 159.9 57.9 164.9Z" fill="#73757b" stroke="#73757b"/><path d="M56.8 148.7L57.1 144.8 56.1 143.6 55.7 147.5Z" fill="#8b8b83" stroke="#8b8b83"/><path d="M62.8 191.3L63 186.5 61.8 185.2 61.7 190Z" fill="#4d5586" stroke="#4d5586"/><path d="M60.7 134.5L61.2 134.9 59.9 133.6 59.4 133.3Z" fill="#c8cad2" stroke="#c8cad2"/><path d="M58.1 159.9L58.6 155.3 57.6 154.2 57 158.7Z" fill="#7b7c7c" stroke="#7b7c7c"/><path d="M118 166.9L121.5 166.3 119.9 165.8 116.4 166.5Z" fill="#aabcf6" stroke="#aabcf6"/><path d="M57.6 154.2L57.9 149.8 56.8 148.7 56.5 153Z" fill="#838480" stroke="#838480"/><path d="M64.8 206.5L65.1 202.9 63.9 201.5 63.6 205Z" fill="#36419b" stroke="#36419b"/><path d="M175.3 167.2L179.4 166.9 177.9 166.2 173.8 166.5Z" fill="#aabcf6" stroke="#aabcf6"/><path d="M63.9 197.3L63.9 192.6 62.8 191.3 62.7 195.9Z" fill="#434d8a" stroke="#434d8a"/><path d="M47.4 217L50.6 215.8 45.2 211.1 42.1 212.3Z" fill="#fcfbf3" stroke="#fcfbf3"/><path d="M56.5 140.3L56.9 137.7 55.8 136.7 55.4 139.2Z" fill="#a3a397" stroke="#a3a397"/><path d="M60.1 134.3L60.7 134.5 59.4 133.3 58.9 133.2Z" fill="#c8cad2" stroke="#c8cad2"/><path d="M404.4 165.7L415.3 167.2 409.6 164.8 399.2 163.5Z" fill="#e4e4c1" stroke="#e4e4c1"/><path d="M123 166.7L127.2 166 125.6 165.5 121.5 166.3Z" fill="#aabcf6" stroke="#aabcf6"/><path d="M93.9 166L97.5 166.3 95.9 165.4 92.3 165.1Z" fill="#c8d0ea" stroke="#c8d0ea"/><path d="M128.8 166.4L132.9 165.7 131.3 165.2 127.2 166Z" fill="#a9bbf6" stroke="#a9bbf6"/><path d="M99.1 167L102.7 166.9 101.1 166.3 97.5 166.3Z" fill="#bec9ee" stroke="#bec9ee"/><path d="M88.7 164.6L92.3 165.1 90.8 164.2 87.1 163.6Z" fill="#ced4e8" stroke="#ced4e8"/><path d="M59.6 134.2L60.1 134.3 58.9 133.2 58.4 133.1Z" fill="#ccced3" stroke="#ccced3"/><path d="M134.5 166.2L138.7 165.5 137.1 165 132.9 165.7Z" fill="#a8bbf6" stroke="#a8bbf6"/><path d="M63.1 136.7L63.7 137.2 62.3 135.8 61.8 135.3Z" fill="#c8cad2" stroke="#c8cad2"/><path d="M169.6 166.8L173.8 166.5 172.3 165.9 168.1 166.2Z" fill="#a9bbf6" stroke="#a9bbf6"/><path d="M104.2 167.5L107.8 167.1 106.2 166.6 102.7 166.9Z" fill="#b4c3f2" stroke="#b4c3f2"/><path d="M140.3 166L144.7 165.6 143.1 165.1 138.7 165.5Z" fill="#a8baf6" stroke="#a8baf6"/><path d="M59.1 134.2L59.6 134.2 58.4 133.1 57.9 133.1Z" fill="#d2d3d6" stroke="#d2d3d6"/><path d="M56.9 137.7L57.5 136 56.4 134.9 55.8 136.7Z" fill="#b3b3a7" stroke="#b3b3a7"/><path d="M53.6 214.7L58.3 215 56 212.5 51.1 212.3Z" fill="#3250ee" stroke="#3250ee"/><path d="M50.6 215.8L53.6 214.7 51.1 212.3 47.9 213.5Z" fill="#3250ee" stroke="#3250ee"/><path d="M76 154.3L80.1 158.7 78.5 157.1 74.4 152.3Z" fill="#d7dae4" stroke="#d7dae4"/><path d="M66.7 140.5L71.1 147.8 69.4 145.5 65.1 138.7Z" fill="#d7dae4" stroke="#d7dae4"/><path d="M163.9 166.6L168.1 166.2 166.6 165.6 162.4 166Z" fill="#a8baf6" stroke="#a8baf6"/><path d="M57.5 136L58.2 135.2 57 134.2 56.4 134.9Z" fill="#c6c6bc" stroke="#c6c6bc"/><path d="M58.6 134.4L59.1 134.2 57.9 133.1 57.4 133.4Z" fill="#d9d9d8" stroke="#d9d9d8"/><path d="M62.5 136.2L63.1 136.7 61.8 135.3 61.2 134.9Z" fill="#c8cad2" stroke="#c8cad2"/><path d="M57.1 144.8L57.6 141.4 56.5 140.3 56.1 143.6Z" fill="#949488" stroke="#949488"/><path d="M58.2 135.2L58.6 134.4 57.4 133.4 57 134.2Z" fill="#ddddda" stroke="#ddddda"/><path d="M58.3 215L62.1 214.5 59.3 211.4 56 212.5Z" fill="#3250ee" stroke="#3250ee"/><path d="M65.1 202.9L65.1 198.7 63.9 197.3 63.9 201.5Z" fill="#3c4792" stroke="#3c4792"/><path d="M146.3 166L150.7 165.7 149.1 165.2 144.7 165.6Z" fill="#a7b9f6" stroke="#a7b9f6"/><path d="M83.3 161.6L87.1 163.6 85.5 162.4 81.7 160.2Z" fill="#d2d7e6" stroke="#d2d7e6"/><path d="M158.1 166.4L162.4 166 160.8 165.4 156.6 165.8Z" fill="#a7b9f6" stroke="#a7b9f6"/><path d="M109.4 167.6L112.9 167.1 111.3 166.6 107.8 167.1Z" fill="#adbef5" stroke="#adbef5"/><path d="M152.3 166.2L156.6 165.8 155 165.3 150.7 165.7Z" fill="#a7b9f6" stroke="#a7b9f6"/><path d="M44.3 218.2L47.4 217 42.1 212.3 38.9 213.4Z" fill="#fcfbf3" stroke="#fcfbf3"/><path d="M65.6 213L65.9 210.8 64.6 209.3 64.3 211.4Z" fill="#3242bc" stroke="#3242bc"/><path d="M182.4 168.3L186.4 168.2 184.9 167.4 180.9 167.6Z" fill="#aabcf6" stroke="#aabcf6"/><path d="M65.9 210.8L66.1 207.9 64.8 206.5 64.6 209.3Z" fill="#323fa8" stroke="#323fa8"/><path d="M61.9 135.7L62.5 136.2 61.2 134.9 60.7 134.5Z" fill="#c8cad2" stroke="#c8cad2"/><path d="M62 180.1L62.1 174.9 61 173.7 60.9 178.9Z" fill="#60647f" stroke="#60647f"/><path d="M60.1 167.3L60.2 162.2 59.2 161 59 166.1Z" fill="#73757b" stroke="#73757b"/><path d="M61 173.7L61.2 168.4 60.1 167.3 60 172.5Z" fill="#696c7d" stroke="#696c7d"/><path d="M63 186.5L63.1 181.3 62 180.1 61.8 185.2Z" fill="#565c82" stroke="#565c82"/><path d="M57.9 149.8L58.2 145.9 57.1 144.8 56.8 148.7Z" fill="#8b8b83" stroke="#8b8b83"/><path d="M65.4 214.2L65.6 213 64.3 211.4 64 212.6Z" fill="#3249d9" stroke="#3249d9"/><path d="M59.2 161L59.5 156.2 58.6 155.3 58.1 159.9Z" fill="#7b7c7c" stroke="#7b7c7c"/><path d="M63.9 192.6L64.1 187.7 63 186.5 62.8 191.3Z" fill="#4d5586" stroke="#4d5586"/><path d="M114.5 167.5L118 166.9 116.4 166.5 112.9 167.1Z" fill="#aabcf6" stroke="#aabcf6"/><path d="M58.6 155.3L59 150.9 57.9 149.8 57.6 154.2Z" fill="#838480" stroke="#838480"/><path d="M426.6 165.9L439.8 168.3 432.9 165.7 420.2 163.3Z" fill="#dadaa0" stroke="#dadaa0"/><path d="M61.4 135.5L61.9 135.7 60.7 134.5 60.1 134.3Z" fill="#c8cad2" stroke="#c8cad2"/><path d="M176.8 167.8L180.9 167.6 179.4 166.9 175.3 167.2Z" fill="#aabcf6" stroke="#aabcf6"/><path d="M57.6 141.4L58.1 138.8 56.9 137.7 56.5 140.3Z" fill="#a3a397" stroke="#a3a397"/><path d="M64.4 138.1L65 138.6 63.7 137.2 63.1 136.7Z" fill="#c8cad2" stroke="#c8cad2"/><path d="M66.1 207.9L66.3 204.3 65.1 202.9 64.8 206.5Z" fill="#36419b" stroke="#36419b"/><path d="M65.1 198.7L65.1 193.9 63.9 192.6 63.9 197.3Z" fill="#434d8a" stroke="#434d8a"/><path d="M60.8 135.4L61.4 135.5 60.1 134.3 59.6 134.2Z" fill="#ccced3" stroke="#ccced3"/><path d="M119.6 167.3L123 166.7 121.5 166.3 118 166.9Z" fill="#aabcf6" stroke="#aabcf6"/><path d="M420.8 166.5L433 168.4 426.6 165.9 414.9 164Z" fill="#dadaa0" stroke="#dadaa0"/><path d="M171.2 167.4L175.3 167.2 173.8 166.5 169.6 166.8Z" fill="#aabcf6" stroke="#aabcf6"/><path d="M60.3 135.3L60.8 135.4 59.6 134.2 59.1 134.2Z" fill="#d2d3d6" stroke="#d2d3d6"/><path d="M95.5 166.7L99.1 167 97.5 166.3 93.9 166Z" fill="#c3ccec" stroke="#c3ccec"/><path d="M68.3 142.3L72.7 150.1 71.1 147.8 66.7 140.5Z" fill="#d7dae4" stroke="#d7dae4"/><path d="M90.2 165.4L93.9 166 92.3 165.1 88.7 164.6Z" fill="#c9d1ea" stroke="#c9d1ea"/><path d="M63.8 137.5L64.4 138.1 63.1 136.7 62.5 136.2Z" fill="#c8cad2" stroke="#c8cad2"/><path d="M58.1 138.8L58.6 137.1 57.5 136 56.9 137.7Z" fill="#b3b3a7" stroke="#b3b3a7"/><path d="M124.6 167L128.8 166.4 127.2 166 123 166.7Z" fill="#aabcf6" stroke="#aabcf6"/><path d="M77.7 156.2L81.7 160.2 80.1 158.7 76 154.3Z" fill="#d5d9e5" stroke="#d5d9e5"/><path d="M100.7 167.6L104.2 167.5 102.7 166.9 99.1 167Z" fill="#bac6f0" stroke="#bac6f0"/><path d="M130.4 166.8L134.5 166.2 132.9 165.7 128.8 166.4Z" fill="#a9bbf6" stroke="#a9bbf6"/><path d="M59.7 135.5L60.3 135.3 59.1 134.2 58.6 134.4Z" fill="#d9d9d8" stroke="#d9d9d8"/><path d="M58.6 137.1L59.3 136.3 58.2 135.2 57.5 136Z" fill="#c6c6bc" stroke="#c6c6bc"/><path d="M136.2 166.6L140.3 166 138.7 165.5 134.5 166.2Z" fill="#a9bbf6" stroke="#a9bbf6"/><path d="M58.2 145.9L58.7 142.5 57.6 141.4 57.1 144.8Z" fill="#949488" stroke="#949488"/><path d="M59.3 136.3L59.7 135.5 58.6 134.4 58.2 135.2Z" fill="#ddddda" stroke="#ddddda"/><path d="M165.5 167.1L169.6 166.8 168.1 166.2 163.9 166.6Z" fill="#a9bbf6" stroke="#a9bbf6"/><path d="M141.9 166.4L146.3 166 144.7 165.6 140.3 166Z" fill="#a8baf6" stroke="#a8baf6"/><path d="M105.8 168L109.4 167.6 107.8 167.1 104.2 167.5Z" fill="#b1c1f3" stroke="#b1c1f3"/><path d="M84.9 162.9L88.7 164.6 87.1 163.6 83.3 161.6Z" fill="#ced4e8" stroke="#ced4e8"/><path d="M66.3 204.3L66.4 200.1 65.1 198.7 65.1 202.9Z" fill="#3c4792" stroke="#3c4792"/><path d="M63.2 137L63.8 137.5 62.5 136.2 61.9 135.7Z" fill="#c8cad2" stroke="#c8cad2"/><path d="M159.7 166.9L163.9 166.6 162.4 166 158.1 166.4Z" fill="#a8baf6" stroke="#a8baf6"/><path d="M64.8 217.4L65.6 214.6 63.1 211.6 62.1 214.5Z" fill="#3250ee" stroke="#3250ee"/><path d="M147.9 166.5L152.3 166.2 150.7 165.7 146.3 166Z" fill="#a8baf6" stroke="#a8baf6"/><path d="M60.2 162.2L60.4 157.3 59.5 156.2 59.2 161Z" fill="#7b7c7c" stroke="#7b7c7c"/><path d="M153.9 166.7L158.1 166.4 156.6 165.8 152.3 166.2Z" fill="#a8baf6" stroke="#a8baf6"/><path d="M61.2 168.4L61.3 163.3 60.2 162.2 60.1 167.3Z" fill="#73757b" stroke="#73757b"/><path d="M59 150.9L59.3 147 58.2 145.9 57.9 149.8Z" fill="#8b8b83" stroke="#8b8b83"/><path d="M62.1 174.9L62.3 169.6 61.2 168.4 61 173.7Z" fill="#696c7d" stroke="#696c7d"/><path d="M63.1 181.3L63.3 176.1 62.1 174.9 62 180.1Z" fill="#60647f" stroke="#60647f"/><path d="M64.1 187.7L64.2 182.6 63.1 181.3 63 186.5Z" fill="#565c82" stroke="#565c82"/><path d="M415.3 167.2L426.8 168.9 420.8 166.5 409.6 164.8Z" fill="#dcdda8" stroke="#dcdda8"/><path d="M67 214.5L67.2 212.3 65.9 210.8 65.6 213Z" fill="#3242bc" stroke="#3242bc"/><path d="M59.5 156.2L60 152 59 150.9 58.6 155.3Z" fill="#838480" stroke="#838480"/><path d="M110.9 168L114.5 167.5 112.9 167.1 109.4 167.6Z" fill="#acbdf5" stroke="#acbdf5"/><path d="M67.2 212.3L67.3 209.3 66.1 207.9 65.9 210.8Z" fill="#323fa8" stroke="#323fa8"/><path d="M62.6 136.7L63.2 137 61.9 135.7 61.4 135.5Z" fill="#c8cad2" stroke="#c8cad2"/><path d="M65.7 139.5L66.4 140.1 65 138.6 64.4 138.1Z" fill="#c8cad2" stroke="#c8cad2"/><path d="M65.1 193.9L65.2 189 64.1 187.7 63.9 192.6Z" fill="#4d5586" stroke="#4d5586"/><path d="M58.7 142.5L59.2 139.9 58.1 138.8 57.6 141.4Z" fill="#a3a397" stroke="#a3a397"/><path d="M178.3 168.4L182.4 168.3 180.9 167.6 176.8 167.8Z" fill="#aabcf6" stroke="#aabcf6"/><path d="M66.7 215.8L67 214.5 65.6 213 65.4 214.2Z" fill="#3249d9" stroke="#3249d9"/><path d="M62 136.5L62.6 136.7 61.4 135.5 60.8 135.4Z" fill="#ccced3" stroke="#ccced3"/><path d="M116 167.8L119.6 167.3 118 166.9 114.5 167.5Z" fill="#aabcf6" stroke="#aabcf6"/><path d="M65.1 138.9L65.7 139.5 64.4 138.1 63.8 137.5Z" fill="#c8cad2" stroke="#c8cad2"/><path d="M67.3 209.3L67.5 205.7 66.3 204.3 66.1 207.9Z" fill="#36419b" stroke="#36419b"/><path d="M66.4 200.1L66.3 195.3 65.1 193.9 65.1 198.7Z" fill="#434d8a" stroke="#434d8a"/><path d="M70 144.2L74.4 152.3 72.7 150.1 68.3 142.3Z" fill="#d7dae4" stroke="#d7dae4"/><path d="M61.5 136.4L62 136.5 60.8 135.4 60.3 135.3Z" fill="#d2d3d6" stroke="#d2d3d6"/><path d="M56.2 217.1L60.6 217.4 58.3 215 53.6 214.7Z" fill="#3250ee" stroke="#3250ee"/><path d="M53.3 218.2L56.2 217.1 53.6 214.7 50.6 215.8Z" fill="#3250ee" stroke="#3250ee"/><path d="M59.2 139.9L59.8 138.2 58.6 137.1 58.1 138.8Z" fill="#b3b3a7" stroke="#b3b3a7"/><path d="M172.7 168L176.8 167.8 175.3 167.2 171.2 167.4Z" fill="#aabcf6" stroke="#aabcf6"/><path d="M79.3 157.9L83.3 161.6 81.7 160.2 77.7 156.2Z" fill="#d2d7e6" stroke="#d2d7e6"/><path d="M60.9 136.5L61.5 136.4 60.3 135.3 59.7 135.5Z" fill="#d9d9d8" stroke="#d9d9d8"/><path d="M59.8 138.2L60.4 137.4 59.3 136.3 58.6 137.1Z" fill="#c6c6bc" stroke="#c6c6bc"/><path d="M59.3 147L59.8 143.6 58.7 142.5 58.2 145.9Z" fill="#949488" stroke="#949488"/><path d="M60.4 137.4L60.9 136.5 59.7 135.5 59.3 136.3Z" fill="#ddddda" stroke="#ddddda"/><path d="M121.1 167.6L124.6 167 123 166.7 119.6 167.3Z" fill="#aabcf6" stroke="#aabcf6"/><path d="M64.5 138.3L65.1 138.9 63.8 137.5 63.2 137Z" fill="#c8cad2" stroke="#c8cad2"/><path d="M91.8 166.2L95.5 166.7 93.9 166 90.2 165.4Z" fill="#c3cdec" stroke="#c3cdec"/><path d="M97 167.3L100.7 167.6 99.1 167 95.5 166.7Z" fill="#bdc9ee" stroke="#bdc9ee"/><path d="M60.6 217.4L64.8 217.4 62.1 214.5 58.3 215Z" fill="#3250ee" stroke="#3250ee"/><path d="M167 167.6L171.2 167.4 169.6 166.8 165.5 167.1Z" fill="#aabcf6" stroke="#aabcf6"/><path d="M126.2 167.3L130.4 166.8 128.8 166.4 124.6 167Z" fill="#aabcf6" stroke="#aabcf6"/><path d="M102.2 168.1L105.8 168 104.2 167.5 100.7 167.6Z" fill="#b5c3f2" stroke="#b5c3f2"/><path d="M61.3 163.3L61.5 158.4 60.4 157.3 60.2 162.2Z" fill="#7b7c7c" stroke="#7b7c7c"/><path d="M132 167.1L136.2 166.6 134.5 166.2 130.4 166.8Z" fill="#aabcf6" stroke="#aabcf6"/><path d="M67 140.8L67.7 141.6 66.4 140.1 65.7 139.5Z" fill="#c8cad2" stroke="#c8cad2"/><path d="M60 152L60.4 148.1 59.3 147 59 150.9Z" fill="#8b8b83" stroke="#8b8b83"/><path d="M137.8 166.9L141.9 166.4 140.3 166 136.2 166.6Z" fill="#a9bbf6" stroke="#a9bbf6"/><path d="M86.5 164L90.2 165.4 88.7 164.6 84.9 162.9Z" fill="#c9d1ea" stroke="#c9d1ea"/><path d="M62.3 169.6L62.4 164.5 61.3 163.3 61.2 168.4Z" fill="#73757b" stroke="#73757b"/><path d="M67.5 205.7L67.7 201.5 66.4 200.1 66.3 204.3Z" fill="#3c4792" stroke="#3c4792"/><path d="M60.4 157.3L61.1 153.1 60 152 59.5 156.2Z" fill="#838480" stroke="#838480"/><path d="M63.3 176.1L63.4 170.8 62.3 169.6 62.1 174.9Z" fill="#696c7d" stroke="#696c7d"/><path d="M63.8 137.8L64.5 138.3 63.2 137 62.6 136.7Z" fill="#c8cad2" stroke="#c8cad2"/><path d="M64.2 182.6L64.4 177.3 63.3 176.1 63.1 181.3Z" fill="#60647f" stroke="#60647f"/><path d="M143.6 166.8L147.9 166.5 146.3 166 141.9 166.4Z" fill="#a9bbf6" stroke="#a9bbf6"/><path d="M161.3 167.3L165.5 167.1 163.9 166.6 159.7 166.9Z" fill="#a9bbf6" stroke="#a9bbf6"/><path d="M65.2 189L65.3 183.8 64.2 182.6 64.1 187.7Z" fill="#565c82" stroke="#565c82"/><path d="M107.4 168.3L110.9 168 109.4 167.6 105.8 168Z" fill="#afbff4" stroke="#afbff4"/><path d="M149.5 166.9L153.9 166.7 152.3 166.2 147.9 166.5Z" fill="#a9bbf6" stroke="#a9bbf6"/><path d="M155.5 167.1L159.7 166.9 158.1 166.4 153.9 166.7Z" fill="#a9bbf6" stroke="#a9bbf6"/><path d="M66.3 195.3L66.4 190.2 65.2 189 65.1 193.9Z" fill="#4d5586" stroke="#4d5586"/><path d="M59.8 143.6L60.3 141 59.2 139.9 58.7 142.5Z" fill="#a3a397" stroke="#a3a397"/><path d="M68.4 216.1L68.5 213.9 67.2 212.3 67 214.5Z" fill="#3242bb" stroke="#3242bb"/><path d="M63.2 137.6L63.8 137.8 62.6 136.7 62 136.5Z" fill="#ccced3" stroke="#ccced3"/><path d="M68.5 213.9L68.6 210.8 67.3 209.3 67.2 212.3Z" fill="#323fa7" stroke="#323fa7"/><path d="M66.4 140.2L67 140.8 65.7 139.5 65.1 138.9Z" fill="#c8cad2" stroke="#c8cad2"/><path d="M71.6 146.2L76 154.3 74.4 152.3 70 144.2Z" fill="#d7dae4" stroke="#d7dae4"/><path d="M112.5 168.3L116 167.8 114.5 167.5 110.9 168Z" fill="#abbdf6" stroke="#abbdf6"/><path d="M62.6 137.5L63.2 137.6 62 136.5 61.5 136.4Z" fill="#d2d3d6" stroke="#d2d3d6"/><path d="M68.2 217.5L68.4 216.1 67 214.5 66.7 215.8Z" fill="#3249d9" stroke="#3249d9"/><path d="M60.3 141L60.9 139.3 59.8 138.2 59.2 139.9Z" fill="#b3b3a7" stroke="#b3b3a7"/><path d="M68.6 210.8L68.7 207.1 67.5 205.7 67.3 209.3Z" fill="#36419a" stroke="#36419a"/><path d="M67.7 201.5L67.6 196.6 66.3 195.3 66.4 200.1Z" fill="#434d8a" stroke="#434d8a"/><path d="M65.7 139.6L66.4 140.2 65.1 138.9 64.5 138.3Z" fill="#c8cad2" stroke="#c8cad2"/><path d="M62.1 137.6L62.6 137.5 61.5 136.4 60.9 136.5Z" fill="#d9d9d8" stroke="#d9d9d8"/><path d="M60.9 139.3L61.6 138.5 60.4 137.4 59.8 138.2Z" fill="#c6c6bc" stroke="#c6c6bc"/><path d="M80.9 159.4L84.9 162.9 83.3 161.6 79.3 157.9Z" fill="#ced4e8" stroke="#ced4e8"/><path d="M174.3 168.5L178.3 168.4 176.8 167.8 172.7 168Z" fill="#aabcf6" stroke="#aabcf6"/><path d="M61.6 138.5L62.1 137.6 60.9 136.5 60.4 137.4Z" fill="#ddddda" stroke="#ddddda"/><path d="M60.4 148.1L60.9 144.7 59.8 143.6 59.3 147Z" fill="#949488" stroke="#949488"/><path d="M117.6 168.1L121.1 167.6 119.6 167.3 116 167.8Z" fill="#aabcf6" stroke="#aabcf6"/><path d="M68.4 142.3L69.1 143.2 67.7 141.6 67 140.8Z" fill="#c8cad2" stroke="#c8cad2"/><path d="M433 168.4L446.7 171 439.8 168.3 426.6 165.9Z" fill="#dadaa0" stroke="#dadaa0"/><path d="M62.4 164.5L62.6 159.5 61.5 158.4 61.3 163.3Z" fill="#7b7c7c" stroke="#7b7c7c"/><path d="M65.1 139L65.7 139.6 64.5 138.3 63.8 137.8Z" fill="#c8cad2" stroke="#c8cad2"/><path d="M61.1 153.1L61.5 149.2 60.4 148.1 60 152Z" fill="#8b8b83" stroke="#8b8b83"/><path d="M61.5 158.4L62.2 154.2 61.1 153.1 60.4 157.3Z" fill="#838480" stroke="#838480"/><path d="M168.6 168.1L172.7 168 171.2 167.4 167 167.6Z" fill="#aabcf6" stroke="#aabcf6"/><path d="M63.4 170.8L63.5 165.6 62.4 164.5 62.3 169.6Z" fill="#73757b" stroke="#73757b"/><path d="M122.7 167.8L126.2 167.3 124.6 167 121.1 167.6Z" fill="#aabcf6" stroke="#aabcf6"/><path d="M93.4 166.8L97 167.3 95.5 166.7 91.8 166.2Z" fill="#bec9ee" stroke="#bec9ee"/><path d="M64.4 177.3L64.5 172 63.4 170.8 63.3 176.1Z" fill="#696c7d" stroke="#696c7d"/><path d="M98.6 167.8L102.2 168.1 100.7 167.6 97 167.3Z" fill="#b8c5f0" stroke="#b8c5f0"/><path d="M52.8 221.8L56 220.6 50.6 215.8 47.4 217Z" fill="#fcfbf3" stroke="#fcfbf3"/><path d="M65.3 183.8L65.5 178.5 64.4 177.3 64.2 182.6Z" fill="#60647f" stroke="#60647f"/><path d="M426.8 168.9L439.4 170.9 433 168.4 420.8 166.5Z" fill="#dadaa0" stroke="#dadaa0"/><path d="M68.7 207.1L68.9 202.9 67.7 201.5 67.5 205.7Z" fill="#3c4791" stroke="#3c4791"/><path d="M66.4 190.2L66.5 185 65.3 183.8 65.2 189Z" fill="#565c82" stroke="#565c82"/><path d="M67.7 141.5L68.4 142.3 67 140.8 66.4 140.2Z" fill="#c8cad2" stroke="#c8cad2"/><path d="M88.1 165L91.8 166.2 90.2 165.4 86.5 164Z" fill="#c3cdec" stroke="#c3cdec"/><path d="M162.9 167.8L167 167.6 165.5 167.1 161.3 167.3Z" fill="#aabcf6" stroke="#aabcf6"/><path d="M127.8 167.6L132 167.1 130.4 166.8 126.2 167.3Z" fill="#aabcf6" stroke="#aabcf6"/><path d="M64.4 138.7L65.1 139 63.8 137.8 63.2 137.6Z" fill="#ccced3" stroke="#ccced3"/><path d="M103.8 168.5L107.4 168.3 105.8 168 102.2 168.1Z" fill="#b1c1f3" stroke="#b1c1f3"/><path d="M60.9 144.7L61.4 142.1 60.3 141 59.8 143.6Z" fill="#a3a397" stroke="#a3a397"/><path d="M133.6 167.4L137.8 166.9 136.2 166.6 132 167.1Z" fill="#aabcf6" stroke="#aabcf6"/><path d="M139.4 167.3L143.6 166.8 141.9 166.4 137.8 166.9Z" fill="#a9bbf6" stroke="#a9bbf6"/><path d="M67.6 220.5L68.3 217.7 65.6 214.6 64.8 217.4Z" fill="#3250ee" stroke="#3250ee"/><path d="M73.3 148.2L77.7 156.2 76 154.3 71.6 146.2Z" fill="#d5d9e5" stroke="#d5d9e5"/><path d="M67.6 196.6L67.5 191.5 66.4 190.2 66.3 195.3Z" fill="#4d5586" stroke="#4d5586"/><path d="M145.2 167.2L149.5 166.9 147.9 166.5 143.6 166.8Z" fill="#a9bbf6" stroke="#a9bbf6"/><path d="M157.1 167.5L161.3 167.3 159.7 166.9 155.5 167.1Z" fill="#a9bbf6" stroke="#a9bbf6"/><path d="M151.2 167.3L155.5 167.1 153.9 166.7 149.5 166.9Z" fill="#a9bbf6" stroke="#a9bbf6"/><path d="M63.8 138.6L64.4 138.7 63.2 137.6 62.6 137.5Z" fill="#d2d3d6" stroke="#d2d3d6"/><path d="M58.7 219.6L62.9 219.8 60.6 217.4 56.2 217.1Z" fill="#3250ee" stroke="#3250ee"/><path d="M56 220.6L58.7 219.6 56.2 217.1 53.3 218.2Z" fill="#3250ee" stroke="#3250ee"/><path d="M108.9 168.6L112.5 168.3 110.9 168 107.4 168.3Z" fill="#adbef5" stroke="#adbef5"/><path d="M69.7 217.8L69.9 215.4 68.5 213.9 68.4 216.1Z" fill="#3242ba" stroke="#3242ba"/><path d="M69.9 215.4L69.9 212.3 68.6 210.8 68.5 213.9Z" fill="#313ea5" stroke="#313ea5"/><path d="M67 140.9L67.7 141.5 66.4 140.2 65.7 139.6Z" fill="#c8cad2" stroke="#c8cad2"/><path d="M61.4 142.1L62 140.3 60.9 139.3 60.3 141Z" fill="#b3b3a7" stroke="#b3b3a7"/><path d="M69.7 143.7L70.4 144.8 69.1 143.2 68.4 142.3Z" fill="#c8cad2" stroke="#c8cad2"/><path d="M63.2 138.6L63.8 138.6 62.6 137.5 62.1 137.6Z" fill="#d9d9d8" stroke="#d9d9d8"/><path d="M62 140.3L62.7 139.5 61.6 138.5 60.9 139.3Z" fill="#c6c6bc" stroke="#c6c6bc"/><path d="M62.7 139.5L63.2 138.6 62.1 137.6 61.6 138.5Z" fill="#ddddda" stroke="#ddddda"/><path d="M49.7 223L52.8 221.8 47.4 217 44.3 218.2Z" fill="#fcfbf3" stroke="#fcfbf3"/><path d="M61.5 149.2L62 145.8 60.9 144.7 60.4 148.1Z" fill="#949488" stroke="#949488"/><path d="M82.5 160.8L86.5 164 84.9 162.9 80.9 159.4Z" fill="#c9d1ea" stroke="#c9d1ea"/><path d="M69.9 212.3L70 208.5 68.7 207.1 68.6 210.8Z" fill="#354199" stroke="#354199"/><path d="M114.1 168.5L117.6 168.1 116 167.8 112.5 168.3Z" fill="#aabcf6" stroke="#aabcf6"/><path d="M68.9 202.9L68.9 198 67.6 196.6 67.7 201.5Z" fill="#434c89" stroke="#434c89"/><path d="M69.7 219.2L69.7 217.8 68.4 216.1 68.2 217.5Z" fill="#3249d9" stroke="#3249d9"/><path d="M66.3 140.3L67 140.9 65.7 139.6 65.1 139Z" fill="#c8cad2" stroke="#c8cad2"/><path d="M63.5 165.6L63.7 160.7 62.6 159.5 62.4 164.5Z" fill="#7b7c7c" stroke="#7b7c7c"/><path d="M62.6 159.5L63.1 155.2 62.2 154.2 61.5 158.4Z" fill="#838480" stroke="#838480"/><path d="M62.2 154.2L62.6 150.3 61.5 149.2 61.1 153.1Z" fill="#8b8b83" stroke="#8b8b83"/><path d="M62.9 219.8L67.6 220.5 64.8 217.4 60.6 217.4Z" fill="#3250ee" stroke="#3250ee"/><path d="M69 142.9L69.7 143.7 68.4 142.3 67.7 141.5Z" fill="#c8cad2" stroke="#c8cad2"/><path d="M64.5 172L64.6 166.8 63.5 165.6 63.4 170.8Z" fill="#73757b" stroke="#73757b"/><path d="M119.2 168.3L122.7 167.8 121.1 167.6 117.6 168.1Z" fill="#aabcf6" stroke="#aabcf6"/><path d="M65.5 178.5L65.6 173.1 64.5 172 64.4 177.3Z" fill="#696c7d" stroke="#696c7d"/><path d="M170.2 168.6L174.3 168.5 172.7 168 168.6 168.1Z" fill="#aabcf6" stroke="#aabcf6"/><path d="M66.5 185L66.6 179.7 65.5 178.5 65.3 183.8Z" fill="#60647f" stroke="#60647f"/><path d="M65.6 139.9L66.3 140.3 65.1 139 64.4 138.7Z" fill="#ccced3" stroke="#ccced3"/><path d="M67.5 191.5L67.6 186.2 66.5 185 66.4 190.2Z" fill="#565c82" stroke="#565c82"/><path d="M62 145.8L62.5 143.2 61.4 142.1 60.9 144.7Z" fill="#a3a397" stroke="#a3a397"/><path d="M74.9 150.2L79.3 157.9 77.7 156.2 73.3 148.2Z" fill="#d2d7e6" stroke="#d2d7e6"/><path d="M70 208.5L70.1 204.2 68.9 202.9 68.7 207.1Z" fill="#3b4690" stroke="#3b4690"/><path d="M94.9 167.4L98.6 167.8 97 167.3 93.4 166.8Z" fill="#b8c5f0" stroke="#b8c5f0"/><path d="M164.4 168.2L168.6 168.1 167 167.6 162.9 167.8Z" fill="#aabcf6" stroke="#aabcf6"/><path d="M124.3 168L127.8 167.6 126.2 167.3 122.7 167.8Z" fill="#aabcf6" stroke="#aabcf6"/><path d="M68.3 142.2L69 142.9 67.7 141.5 67 140.9Z" fill="#c8cad2" stroke="#c8cad2"/><path d="M100.2 168.3L103.8 168.5 102.2 168.1 98.6 167.8Z" fill="#b3c2f2" stroke="#b3c2f2"/><path d="M65 139.7L65.6 139.9 64.4 138.7 63.8 138.6Z" fill="#d2d3d6" stroke="#d2d3d6"/><path d="M89.6 165.8L93.4 166.8 91.8 166.2 88.1 165Z" fill="#bec9ee" stroke="#bec9ee"/><path d="M71 145.2L71.8 146.4 70.4 144.8 69.7 143.7Z" fill="#c8cad2" stroke="#c8cad2"/><path d="M68.9 198L68.7 192.7 67.5 191.5 67.6 196.6Z" fill="#4c5485" stroke="#4c5485"/><path d="M158.7 167.9L162.9 167.8 161.3 167.3 157.1 167.5Z" fill="#aabcf6" stroke="#aabcf6"/><path d="M62.5 143.2L63.1 141.4 62 140.3 61.4 142.1Z" fill="#b3b3a7" stroke="#b3b3a7"/><path d="M129.5 167.8L133.6 167.4 132 167.1 127.8 167.6Z" fill="#aabcf6" stroke="#aabcf6"/><path d="M105.4 168.8L108.9 168.6 107.4 168.3 103.8 168.5Z" fill="#aebff4" stroke="#aebff4"/><path d="M135.3 167.7L139.4 167.3 137.8 166.9 133.6 167.4Z" fill="#aabcf6" stroke="#aabcf6"/><path d="M141.1 167.6L145.2 167.2 143.6 166.8 139.4 167.3Z" fill="#aabcf6" stroke="#aabcf6"/><path d="M64.4 139.7L65 139.7 63.8 138.6 63.2 138.6Z" fill="#d9d9d8" stroke="#d9d9d8"/><path d="M146.9 167.5L151.2 167.3 149.5 166.9 145.2 167.2Z" fill="#a9bcf6" stroke="#a9bcf6"/><path d="M152.8 167.7L157.1 167.5 155.5 167.1 151.2 167.3Z" fill="#aabcf6" stroke="#aabcf6"/><path d="M63.1 141.4L63.8 140.6 62.7 139.5 62 140.3Z" fill="#c6c6bc" stroke="#c6c6bc"/><path d="M63.8 140.6L64.4 139.7 63.2 138.6 62.7 139.5Z" fill="#ddddda" stroke="#ddddda"/><path d="M62.6 150.3L63.1 146.9 62 145.8 61.5 149.2Z" fill="#949488" stroke="#949488"/><path d="M71.2 217L71.3 213.8 69.9 212.3 69.9 215.4Z" fill="#313ea3" stroke="#313ea3"/><path d="M67.5 141.5L68.3 142.2 67 140.9 66.3 140.3Z" fill="#c8cad2" stroke="#c8cad2"/><path d="M71.2 219.4L71.2 217 69.9 215.4 69.7 217.8Z" fill="#3141b9" stroke="#3141b9"/><path d="M110.5 168.8L114.1 168.5 112.5 168.3 108.9 168.6Z" fill="#abbdf6" stroke="#abbdf6"/><path d="M63.7 160.7L63.9 156 63.1 155.2 62.6 159.5Z" fill="#838480" stroke="#838480"/><path d="M70.2 144.2L71 145.2 69.7 143.7 69 142.9Z" fill="#c8cad2" stroke="#c8cad2"/><path d="M84.1 162.1L88.1 165 86.5 164 82.5 160.8Z" fill="#c3cdec" stroke="#c3cdec"/><path d="M63.1 155.2L63.7 151.4 62.6 150.3 62.2 154.2Z" fill="#8b8b83" stroke="#8b8b83"/><path d="M70.1 204.2L70.2 199.4 68.9 198 68.9 202.9Z" fill="#424c88" stroke="#424c88"/><path d="M71.3 213.8L71.3 209.9 70 208.5 69.9 212.3Z" fill="#354097" stroke="#354097"/><path d="M64.6 166.8L64.8 161.8 63.7 160.7 63.5 165.6Z" fill="#7b7c7c" stroke="#7b7c7c"/><path d="M65.6 173.1L65.7 167.9 64.6 166.8 64.5 172Z" fill="#73757b" stroke="#73757b"/><path d="M66.9 141L67.5 141.5 66.3 140.3 65.6 139.9Z" fill="#ccced3" stroke="#ccced3"/><path d="M66.6 179.7L66.7 174.3 65.6 173.1 65.5 178.5Z" fill="#696c7d" stroke="#696c7d"/><path d="M71.2 221L71.2 219.4 69.7 217.8 69.7 219.2Z" fill="#3249d8" stroke="#3249d8"/><path d="M115.7 168.6L119.2 168.3 117.6 168.1 114.1 168.5Z" fill="#aabcf6" stroke="#aabcf6"/><path d="M67.6 186.2L67.7 180.8 66.6 179.7 66.5 185Z" fill="#60647f" stroke="#60647f"/><path d="M72.3 146.7L73.1 148 71.8 146.4 71 145.2Z" fill="#c8cad2" stroke="#c8cad2"/><path d="M63.1 146.9L63.6 144.3 62.5 143.2 62 145.8Z" fill="#a3a397" stroke="#a3a397"/><path d="M76.6 152.3L80.9 159.4 79.3 157.9 74.9 150.2Z" fill="#ced4e8" stroke="#ced4e8"/><path d="M69.5 143.5L70.2 144.2 69 142.9 68.3 142.2Z" fill="#c8cad2" stroke="#c8cad2"/><path d="M68.7 192.7L68.7 187.4 67.6 186.2 67.5 191.5Z" fill="#565c82" stroke="#565c82"/><path d="M66.2 140.8L66.9 141 65.6 139.9 65 139.7Z" fill="#d2d3d6" stroke="#d2d3d6"/><path d="M61.3 222.1L65.2 222.2 62.9 219.8 58.7 219.6Z" fill="#3250ee" stroke="#3250ee"/><path d="M58.7 223L61.3 222.1 58.7 219.6 56 220.6Z" fill="#3250ee" stroke="#3250ee"/><path d="M71.3 209.9L71.3 205.5 70.1 204.2 70 208.5Z" fill="#3b458e" stroke="#3b458e"/><path d="M120.8 168.4L124.3 168 122.7 167.8 119.2 168.3Z" fill="#aabcf6" stroke="#aabcf6"/><path d="M166 168.6L170.2 168.6 168.6 168.1 164.4 168.2Z" fill="#aabcf6" stroke="#aabcf6"/><path d="M63.6 144.3L64.3 142.5 63.1 141.4 62.5 143.2Z" fill="#b3b3a7" stroke="#b3b3a7"/><path d="M65.5 140.8L66.2 140.8 65 139.7 64.4 139.7Z" fill="#d9d9d8" stroke="#d9d9d8"/><path d="M439.4 170.9L453.7 173.7 446.7 171 433 168.4Z" fill="#dadaa0" stroke="#dadaa0"/><path d="M70.2 199.4L69.9 193.9 68.7 192.7 68.9 198Z" fill="#4c5384" stroke="#4c5384"/><path d="M64.3 142.5L65 141.7 63.8 140.6 63.1 141.4Z" fill="#c6c6bc" stroke="#c6c6bc"/><path d="M65 141.7L65.5 140.8 64.4 139.7 63.8 140.6Z" fill="#ddddda" stroke="#ddddda"/><path d="M68.8 142.7L69.5 143.5 68.3 142.2 67.5 141.5Z" fill="#c8cad2" stroke="#c8cad2"/><path d="M96.5 167.7L100.2 168.3 98.6 167.8 94.9 167.4Z" fill="#b3c2f2" stroke="#b3c2f2"/><path d="M63.7 151.4L64.2 148 63.1 146.9 62.6 150.3Z" fill="#949488" stroke="#949488"/><path d="M91.2 166.4L94.9 167.4 93.4 166.8 89.6 165.8Z" fill="#b8c5f0" stroke="#b8c5f0"/><path d="M71.5 145.6L72.3 146.7 71 145.2 70.2 144.2Z" fill="#c8cad2" stroke="#c8cad2"/><path d="M70.2 223.4L71.3 221.1 68.3 217.7 67.6 220.5Z" fill="#3250ee" stroke="#3250ee"/><path d="M101.7 168.5L105.4 168.8 103.8 168.5 100.2 168.3Z" fill="#afbff4" stroke="#afbff4"/><path d="M160.3 168.3L164.4 168.2 162.9 167.8 158.7 167.9Z" fill="#aabcf6" stroke="#aabcf6"/><path d="M125.9 168.2L129.5 167.8 127.8 167.6 124.3 168Z" fill="#aabcf6" stroke="#aabcf6"/><path d="M64.8 161.8L65 157.1 63.9 156 63.7 160.7Z" fill="#838480" stroke="#838480"/><path d="M63.9 156L64.8 152.4 63.7 151.4 63.1 155.2Z" fill="#8b8b83" stroke="#8b8b83"/><path d="M154.4 168L158.7 167.9 157.1 167.5 152.8 167.7Z" fill="#aabcf6" stroke="#aabcf6"/><path d="M131.1 168L135.3 167.7 133.6 167.4 129.5 167.8Z" fill="#aabcf6" stroke="#aabcf6"/><path d="M148.5 167.8L152.8 167.7 151.2 167.3 146.9 167.5Z" fill="#aabcf6" stroke="#aabcf6"/><path d="M142.7 167.8L146.9 167.5 145.2 167.2 141.1 167.6Z" fill="#aabcf6" stroke="#aabcf6"/><path d="M136.9 167.9L141.1 167.6 139.4 167.3 135.3 167.7Z" fill="#aabcf6" stroke="#aabcf6"/><path d="M106.9 168.9L110.5 168.8 108.9 168.6 105.4 168.8Z" fill="#acbdf5" stroke="#acbdf5"/><path d="M72.6 218.6L72.6 215.3 71.3 213.8 71.2 217Z" fill="#303da1" stroke="#303da1"/><path d="M73.6 148.2L74.5 149.6 73.1 148 72.3 146.7Z" fill="#c8cad2" stroke="#c8cad2"/><path d="M65.7 167.9L65.9 162.9 64.8 161.8 64.6 166.8Z" fill="#7b7c7c" stroke="#7b7c7c"/><path d="M68.1 142.2L68.8 142.7 67.5 141.5 66.9 141Z" fill="#ccced3" stroke="#ccced3"/><path d="M72.7 221.1L72.6 218.6 71.2 217 71.2 219.4Z" fill="#3141b7" stroke="#3141b7"/><path d="M85.7 163.1L89.6 165.8 88.1 165 84.1 162.1Z" fill="#bec9ee" stroke="#bec9ee"/><path d="M65.2 222.2L70.2 223.4 67.6 220.5 62.9 219.8Z" fill="#3250ee" stroke="#3250ee"/><path d="M71.3 205.5L71.4 200.6 70.2 199.4 70.1 204.2Z" fill="#414b86" stroke="#414b86"/><path d="M66.7 174.3L66.8 169 65.7 167.9 65.6 173.1Z" fill="#73757b" stroke="#73757b"/><path d="M70.8 144.7L71.5 145.6 70.2 144.2 69.5 143.5Z" fill="#c8cad2" stroke="#c8cad2"/><path d="M72.6 215.3L72.6 211.3 71.3 209.9 71.3 213.8Z" fill="#343f94" stroke="#343f94"/><path d="M67.7 180.8L67.8 175.4 66.7 174.3 66.6 179.7Z" fill="#696c7d" stroke="#696c7d"/><path d="M64.2 148L64.7 145.3 63.6 144.3 63.1 146.9Z" fill="#a3a397" stroke="#a3a397"/><path d="M78.3 154.4L82.5 160.8 80.9 159.4 76.6 152.3Z" fill="#c9d1ea" stroke="#c9d1ea"/><path d="M112.1 169L115.7 168.6 114.1 168.5 110.5 168.8Z" fill="#a8baf3" stroke="#a8baf3"/><path d="M68.7 187.4L68.8 181.9 67.7 180.8 67.6 186.2Z" fill="#5f647f" stroke="#5f647f"/><path d="M67.4 141.9L68.1 142.2 66.9 141 66.2 140.8Z" fill="#d2d3d6" stroke="#d2d3d6"/><path d="M69.9 193.9L69.9 188.5 68.7 187.4 68.7 192.7Z" fill="#555b80" stroke="#555b80"/><path d="M72.8 222.8L72.7 221.1 71.2 219.4 71.2 221Z" fill="#3249d8" stroke="#3249d8"/><path d="M72.8 146.9L73.6 148.2 72.3 146.7 71.5 145.6Z" fill="#c8cad2" stroke="#c8cad2"/><path d="M66.7 141.9L67.4 141.9 66.2 140.8 65.5 140.8Z" fill="#d9d9d8" stroke="#d9d9d8"/><path d="M64.7 145.3L65.4 143.6 64.3 142.5 63.6 144.3Z" fill="#b3b3a7" stroke="#b3b3a7"/><path d="M70 144L70.8 144.7 69.5 143.5 68.8 142.7Z" fill="#c8cad2" stroke="#c8cad2"/><path d="M117.2 168.7L120.8 168.4 119.2 168.3 115.7 168.6Z" fill="#aabcf6" stroke="#aabcf6"/><path d="M72.6 211.3L72.6 206.8 71.3 205.5 71.3 209.9Z" fill="#3a448c" stroke="#3a448c"/><path d="M66.1 142.7L66.7 141.9 65.5 140.8 65 141.7Z" fill="#ddddda" stroke="#ddddda"/><path d="M65.4 143.6L66.1 142.7 65 141.7 64.3 142.5Z" fill="#c6c6bc" stroke="#c6c6bc"/><path d="M64.8 152.4L65.3 149.1 64.2 148 63.7 151.4Z" fill="#949488" stroke="#949488"/><path d="M74.9 149.6L75.8 151.3 74.5 149.6 73.6 148.2Z" fill="#c8cad2" stroke="#c8cad2"/><path d="M65 157.1L65.9 153.5 64.8 152.4 63.9 156Z" fill="#8b8b83" stroke="#8b8b83"/><path d="M71.4 200.6L71.2 195.2 69.9 193.9 70.2 199.4Z" fill="#4b5282" stroke="#4b5282"/><path d="M65.9 162.9L66.1 158.2 65 157.1 64.8 161.8Z" fill="#838480" stroke="#838480"/><path d="M122.4 168.5L125.9 168.2 124.3 168 120.8 168.4Z" fill="#aabcf6" stroke="#aabcf6"/><path d="M69.3 143.3L70 144 68.8 142.7 68.1 142.2Z" fill="#ccced3" stroke="#ccced3"/><path d="M58.3 226.7L61.5 225.5 56 220.6 52.8 221.8Z" fill="#fcfbf3" stroke="#fcfbf3"/><path d="M161.9 168.6L166 168.6 164.4 168.2 160.3 168.3Z" fill="#aabcf6" stroke="#aabcf6"/><path d="M72 146L72.8 146.9 71.5 145.6 70.8 144.7Z" fill="#c8cad2" stroke="#c8cad2"/><path d="M92.8 166.9L96.5 167.7 94.9 167.4 91.2 166.4Z" fill="#b3c2f2" stroke="#b3c2f2"/><path d="M66.8 169L67 164 65.9 162.9 65.7 167.9Z" fill="#7b7c7c" stroke="#7b7c7c"/><path d="M98 168L101.7 168.5 100.2 168.3 96.5 167.7Z" fill="#afbff4" stroke="#afbff4"/><path d="M103.3 168.7L106.9 168.9 105.4 168.8 101.7 168.5Z" fill="#acbdf5" stroke="#acbdf5"/><path d="M127.5 168.3L131.1 168 129.5 167.8 125.9 168.2Z" fill="#aabcf6" stroke="#aabcf6"/><path d="M156.1 168.3L160.3 168.3 158.7 167.9 154.4 168Z" fill="#aabcf6" stroke="#aabcf6"/><path d="M67.8 175.4L68 170.1 66.8 169 66.7 174.3Z" fill="#73757b" stroke="#73757b"/><path d="M65.3 149.1L65.8 146.4 64.7 145.3 64.2 148Z" fill="#a3a397" stroke="#a3a397"/><path d="M74.1 220.2L74 216.8 72.6 215.3 72.6 218.6Z" fill="#2f3b9e" stroke="#2f3b9e"/><path d="M150.2 168.1L154.4 168 152.8 167.7 148.5 167.8Z" fill="#aabcf6" stroke="#aabcf6"/><path d="M68.5 143L69.3 143.3 68.1 142.2 67.4 141.9Z" fill="#d2d3d6" stroke="#d2d3d6"/><path d="M68.8 181.9L69 176.5 67.8 175.4 67.7 180.8Z" fill="#696c7c" stroke="#696c7c"/><path d="M144.4 168L148.5 167.8 146.9 167.5 142.7 167.8Z" fill="#aabcf6" stroke="#aabcf6"/><path d="M80 156.1L84.1 162.1 82.5 160.8 78.3 154.4Z" fill="#c3cdec" stroke="#c3cdec"/><path d="M72.6 206.8L72.6 201.8 71.4 200.6 71.3 205.5Z" fill="#404a84" stroke="#404a84"/><path d="M138.5 168L142.7 167.8 141.1 167.6 136.9 167.9Z" fill="#aabcf6" stroke="#aabcf6"/><path d="M132.7 168.1L136.9 167.9 135.3 167.7 131.1 168Z" fill="#aabcf6" stroke="#aabcf6"/><path d="M87.3 163.9L91.2 166.4 89.6 165.8 85.7 163.1Z" fill="#b8c5f0" stroke="#b8c5f0"/><path d="M63.9 224.5L67.6 224.7 65.2 222.2 61.3 222.1Z" fill="#3250ee" stroke="#3250ee"/><path d="M74.1 148.3L74.9 149.6 73.6 148.2 72.8 146.9Z" fill="#c8cad2" stroke="#c8cad2"/><path d="M69.9 188.5L70 183 68.8 181.9 68.7 187.4Z" fill="#5f637d" stroke="#5f637d"/><path d="M74.2 222.8L74.1 220.2 72.6 218.6 72.7 221.1Z" fill="#3040b5" stroke="#3040b5"/><path d="M108.5 169L112.1 169 110.5 168.8 106.9 168.9Z" fill="#a5b6ec" stroke="#a5b6ec"/><path d="M61.5 225.5L63.9 224.5 61.3 222.1 58.7 223Z" fill="#3250ee" stroke="#3250ee"/><path d="M74 216.8L73.9 212.7 72.6 211.3 72.6 215.3Z" fill="#333d91" stroke="#333d91"/><path d="M71.2 145.2L72 146 70.8 144.7 70 144Z" fill="#c8cad2" stroke="#c8cad2"/><path d="M67.8 142.9L68.5 143 67.4 141.9 66.7 141.9Z" fill="#d9d9d8" stroke="#d9d9d8"/><path d="M65.8 146.4L66.5 144.6 65.4 143.6 64.7 145.3Z" fill="#b3b3a7" stroke="#b3b3a7"/><path d="M76.3 151.1L77.2 153 75.8 151.3 74.9 149.6Z" fill="#c8cad2" stroke="#c8cad2"/><path d="M71.2 195.2L71 189.5 69.9 188.5 69.9 193.9Z" fill="#545a7f" stroke="#545a7f"/><path d="M55.1 227.9L58.3 226.7 52.8 221.8 49.7 223Z" fill="#fcfbf3" stroke="#fcfbf3"/><path d="M67.2 143.8L67.8 142.9 66.7 141.9 66.1 142.7Z" fill="#ddddda" stroke="#ddddda"/><path d="M66.5 144.6L67.2 143.8 66.1 142.7 65.4 143.6Z" fill="#c6c6bc" stroke="#c6c6bc"/><path d="M65.9 153.5L66.4 150.1 65.3 149.1 64.8 152.4Z" fill="#949488" stroke="#949488"/><path d="M113.7 169L117.2 168.7 115.7 168.6 112.1 169Z" fill="#a5b5eb" stroke="#a5b5eb"/><path d="M66.1 158.2L66.9 154.5 65.9 153.5 65 157.1Z" fill="#8b8b83" stroke="#8b8b83"/><path d="M73.9 212.7L73.8 208 72.6 206.8 72.6 211.3Z" fill="#394389" stroke="#394389"/><path d="M67 164L67.2 159.3 66.1 158.2 65.9 162.9Z" fill="#838480" stroke="#838480"/><path d="M70.5 144.4L71.2 145.2 70 144 69.3 143.3Z" fill="#ccced3" stroke="#ccced3"/><path d="M74.5 224.6L74.2 222.8 72.7 221.1 72.8 222.8Z" fill="#3249d8" stroke="#3249d8"/><path d="M73.3 147.2L74.1 148.3 72.8 146.9 72 146Z" fill="#c8cad2" stroke="#c8cad2"/><path d="M118.8 168.7L122.4 168.5 120.8 168.4 117.2 168.7Z" fill="#aabcf6" stroke="#aabcf6"/><path d="M72.6 201.8L72.5 196.3 71.2 195.2 71.4 200.6Z" fill="#495180" stroke="#495180"/><path d="M68 170.1L68.1 165 67 164 66.8 169Z" fill="#7b7c7c" stroke="#7b7c7c"/><path d="M72.6 226L74.4 224.6 71.3 221.1 70.2 223.4Z" fill="#3250ee" stroke="#3250ee"/><path d="M67.6 224.7L72.6 226 70.2 223.4 65.2 222.2Z" fill="#3250ee" stroke="#3250ee"/><path d="M75.4 149.6L76.3 151.1 74.9 149.6 74.1 148.3Z" fill="#c8cad2" stroke="#c8cad2"/><path d="M66.4 150.1L66.9 147.4 65.8 146.4 65.3 149.1Z" fill="#a3a397" stroke="#a3a397"/><path d="M69.7 144.1L70.5 144.4 69.3 143.3 68.5 143Z" fill="#d2d3d6" stroke="#d2d3d6"/><path d="M69 176.5L69.1 171.1 68 170.1 67.8 175.4Z" fill="#73747a" stroke="#73747a"/><path d="M124 168.5L127.5 168.3 125.9 168.2 122.4 168.5Z" fill="#aabcf6" stroke="#aabcf6"/><path d="M77.6 152.6L78.5 154.6 77.2 153 76.3 151.1Z" fill="#c8cad2" stroke="#c8cad2"/><path d="M72.5 146.4L73.3 147.2 72 146 71.2 145.2Z" fill="#c8cad2" stroke="#c8cad2"/><path d="M70 183L70.1 177.5 69 176.5 68.8 181.9Z" fill="#686b7b" stroke="#686b7b"/><path d="M81.6 157.7L85.7 163.1 84.1 162.1 80 156.1Z" fill="#bec9ee" stroke="#bec9ee"/><path d="M94.3 167.1L98 168 96.5 167.7 92.8 166.9Z" fill="#afbff4" stroke="#afbff4"/><path d="M99.6 168L103.3 168.7 101.7 168.5 98 168Z" fill="#acbdf5" stroke="#acbdf5"/><path d="M157.7 168.5L161.9 168.6 160.3 168.3 156.1 168.3Z" fill="#aabcf6" stroke="#aabcf6"/><path d="M69 144L69.7 144.1 68.5 143 67.8 142.9Z" fill="#d9d9d8" stroke="#d9d9d8"/><path d="M73.8 208L73.9 202.9 72.6 201.8 72.6 206.8Z" fill="#3f4881" stroke="#3f4881"/><path d="M71 189.5L71.1 183.9 70 183 69.9 188.5Z" fill="#5d627c" stroke="#5d627c"/><path d="M75.5 221.8L75.4 218.2 74 216.8 74.1 220.2Z" fill="#2e3a9a" stroke="#2e3a9a"/><path d="M66.9 147.4L67.6 145.6 66.5 144.6 65.8 146.4Z" fill="#b3b3a7" stroke="#b3b3a7"/><path d="M129.1 168.3L132.7 168.1 131.1 168 127.5 168.3Z" fill="#aabcf6" stroke="#aabcf6"/><path d="M151.9 168.3L156.1 168.3 154.4 168 150.2 168.1Z" fill="#aabcf6" stroke="#aabcf6"/><path d="M104.8 168.7L108.5 169 106.9 168.9 103.3 168.7Z" fill="#a3b3e7" stroke="#a3b3e7"/><path d="M68.4 144.8L69 144 67.8 142.9 67.2 143.8Z" fill="#ddddda" stroke="#ddddda"/><path d="M67.6 145.6L68.4 144.8 67.2 143.8 66.5 144.6Z" fill="#c6c6bc" stroke="#c6c6bc"/><path d="M88.9 164.5L92.8 166.9 91.2 166.4 87.3 163.9Z" fill="#b3c2f2" stroke="#b3c2f2"/><path d="M66.9 154.5L67.5 151.1 66.4 150.1 65.9 153.5Z" fill="#949488" stroke="#949488"/><path d="M146 168.2L150.2 168.1 148.5 167.8 144.4 168Z" fill="#aabcf6" stroke="#aabcf6"/><path d="M75.4 218.2L75.2 214 73.9 212.7 74 216.8Z" fill="#323c8e" stroke="#323c8e"/><path d="M140.2 168.2L144.4 168 142.7 167.8 138.5 168Z" fill="#aabcf6" stroke="#aabcf6"/><path d="M134.3 168.2L138.5 168 136.9 167.9 132.7 168.1Z" fill="#aabcf6" stroke="#aabcf6"/><path d="M75.8 224.6L75.5 221.8 74.1 220.2 74.2 222.8Z" fill="#303fb3" stroke="#303fb3"/><path d="M67.2 159.3L67.7 155.3 66.9 154.5 66.1 158.2Z" fill="#8b8b83" stroke="#8b8b83"/><path d="M74.5 148.4L75.4 149.6 74.1 148.3 73.3 147.2Z" fill="#c8cad2" stroke="#c8cad2"/><path d="M72.5 196.3L72.2 190.5 71 189.5 71.2 195.2Z" fill="#53587d" stroke="#53587d"/><path d="M71.6 145.6L72.5 146.4 71.2 145.2 70.5 144.4Z" fill="#ccced3" stroke="#ccced3"/><path d="M110 169L113.7 169 112.1 169 108.5 169Z" fill="#9aa9d6" stroke="#9aa9d6"/><path d="M68.1 165L68.3 160.3 67.2 159.3 67 164Z" fill="#838480" stroke="#838480"/><path d="M76.6 150.9L77.6 152.6 76.3 151.1 75.4 149.6Z" fill="#c8cad2" stroke="#c8cad2"/><path d="M75.2 214L75.1 209.2 73.8 208 73.9 212.7Z" fill="#374186" stroke="#374186"/><path d="M78.8 154L79.8 156 78.5 154.6 77.6 152.6Z" fill="#c8cad2" stroke="#c8cad2"/><path d="M115.2 168.9L118.8 168.7 117.2 168.7 113.7 169Z" fill="#a0b0e2" stroke="#a0b0e2"/><path d="M69.1 171.1L69.2 166 68.1 165 68 170.1Z" fill="#7b7c7c" stroke="#7b7c7c"/><path d="M70.9 145.1L71.6 145.6 70.5 144.4 69.7 144.1Z" fill="#d2d3d6" stroke="#d2d3d6"/><path d="M66.5 227.1L69.1 226.5 67.6 224.7 63.9 224.5Z" fill="#3250ee" stroke="#3250ee"/><path d="M67.5 151.1L68 148.5 66.9 147.4 66.4 150.1Z" fill="#a3a397" stroke="#a3a397"/><path d="M73.7 147.5L74.5 148.4 73.3 147.2 72.5 146.4Z" fill="#c8cad2" stroke="#c8cad2"/><path d="M73.9 202.9L73.8 197.4 72.5 196.3 72.6 201.8Z" fill="#484f7e" stroke="#484f7e"/><path d="M76.1 226.5L75.8 224.6 74.2 222.8 74.5 224.6Z" fill="#3249d7" stroke="#3249d7"/><path d="M70.1 177.5L70.2 172 69.1 171.1 69 176.5Z" fill="#727379" stroke="#727379"/><path d="M64.3 227.9L66.5 227.1 63.9 224.5 61.5 225.5Z" fill="#3250ee" stroke="#3250ee"/><path d="M120.4 168.7L124 168.5 122.4 168.5 118.8 168.7Z" fill="#aabcf6" stroke="#aabcf6"/><path d="M70.1 145L70.9 145.1 69.7 144.1 69 144Z" fill="#d9d9d8" stroke="#d9d9d8"/><path d="M71.1 183.9L71.2 178.3 70.1 177.5 70 183Z" fill="#676a7a" stroke="#676a7a"/><path d="M68 148.5L68.7 146.6 67.6 145.6 66.9 147.4Z" fill="#b3b3a7" stroke="#b3b3a7"/><path d="M83.2 158.9L87.3 163.9 85.7 163.1 81.6 157.7Z" fill="#b8c5f0" stroke="#b8c5f0"/><path d="M69.5 145.8L70.1 145 69 144 68.4 144.8Z" fill="#ddddda" stroke="#ddddda"/><path d="M67.7 155.3L68.5 152.1 67.5 151.1 66.9 154.5Z" fill="#949488" stroke="#949488"/><path d="M68.7 146.6L69.5 145.8 68.4 144.8 67.6 145.6Z" fill="#c6c6bc" stroke="#c6c6bc"/><path d="M75.7 149.6L76.6 150.9 75.4 149.6 74.5 148.4Z" fill="#c8cad2" stroke="#c8cad2"/><path d="M72.2 190.5L72.2 184.8 71.1 183.9 71 189.5Z" fill="#5c607a" stroke="#5c607a"/><path d="M68.3 160.3L68.5 156 67.7 155.3 67.2 159.3Z" fill="#8b8b83" stroke="#8b8b83"/><path d="M72.8 146.7L73.7 147.5 72.5 146.4 71.6 145.6Z" fill="#ccced3" stroke="#ccced3"/><path d="M75.1 209.2L75.1 203.9 73.9 202.9 73.8 208Z" fill="#3e477f" stroke="#3e477f"/><path d="M125.6 168.5L129.1 168.3 127.5 168.3 124 168.5Z" fill="#aabcf6" stroke="#aabcf6"/><path d="M77.1 223.4L76.8 219.7 75.4 218.2 75.5 221.8Z" fill="#2d3997" stroke="#2d3997"/><path d="M95.8 167.1L99.6 168 98 168 94.3 167.1Z" fill="#acbdf5" stroke="#acbdf5"/><path d="M77.9 152.1L78.8 154 77.6 152.6 76.6 150.9Z" fill="#c8cad2" stroke="#c8cad2"/><path d="M101.1 167.9L104.8 168.7 103.3 168.7 99.6 168Z" fill="#a2b2e5" stroke="#a2b2e5"/><path d="M80.1 155.3L81.1 157.2 79.8 156 78.8 154Z" fill="#c8cad2" stroke="#c8cad2"/><path d="M153.5 168.5L157.7 168.5 156.1 168.3 151.9 168.3Z" fill="#aabcf6" stroke="#aabcf6"/><path d="M76.8 219.7L76.6 215.3 75.2 214 75.4 218.2Z" fill="#313b8b" stroke="#313b8b"/><path d="M69.2 166L69.4 161.2 68.3 160.3 68.1 165Z" fill="#83837f" stroke="#83837f"/><path d="M69.1 226.5L74.6 228.5 72.6 226 67.6 224.7Z" fill="#3250ee" stroke="#3250ee"/><path d="M73.8 197.4L73.4 191.4 72.2 190.5 72.5 196.3Z" fill="#51577a" stroke="#51577a"/><path d="M130.8 168.3L134.3 168.2 132.7 168.1 129.1 168.3Z" fill="#aabcf6" stroke="#aabcf6"/><path d="M90.5 164.9L94.3 167.1 92.8 166.9 88.9 164.5Z" fill="#afbff4" stroke="#afbff4"/><path d="M147.7 168.3L151.9 168.3 150.2 168.1 146 168.2Z" fill="#aabcf6" stroke="#aabcf6"/><path d="M106.4 168.7L110 169 108.5 169 104.8 168.7Z" fill="#919ec4" stroke="#919ec4"/><path d="M77.4 226.4L77.1 223.4 75.5 221.8 75.8 224.6Z" fill="#2f3eb1" stroke="#2f3eb1"/><path d="M141.8 168.3L146 168.2 144.4 168 140.2 168.2Z" fill="#aabcf6" stroke="#aabcf6"/><path d="M72 146.1L72.8 146.7 71.6 145.6 70.9 145.1Z" fill="#d2d3d6" stroke="#d2d3d6"/><path d="M135.9 168.2L140.2 168.2 138.5 168 134.3 168.2Z" fill="#aabcf6" stroke="#aabcf6"/><path d="M74.9 148.6L75.7 149.6 74.5 148.4 73.7 147.5Z" fill="#c8cad2" stroke="#c8cad2"/><path d="M68.5 152.1L69.1 149.4 68 148.5 67.5 151.1Z" fill="#a3a397" stroke="#a3a397"/><path d="M70.2 172L70.3 166.9 69.2 166 69.1 171.1Z" fill="#7a7b7b" stroke="#7a7b7b"/><path d="M111.6 168.9L115.2 168.9 113.7 169 110 169Z" fill="#8e9abd" stroke="#8e9abd"/><path d="M76.6 215.3L76.4 210.3 75.1 209.2 75.2 214Z" fill="#364083" stroke="#364083"/><path d="M71.3 146L72 146.1 70.9 145.1 70.1 145Z" fill="#d9d9d8" stroke="#d9d9d8"/><path d="M71.2 178.3L71.3 172.9 70.2 172 70.1 177.5Z" fill="#707278" stroke="#707278"/><path d="M68.5 156L69.6 153 68.5 152.1 67.7 155.3Z" fill="#949488" stroke="#949488"/><path d="M74.6 228.5L77.5 228.1 74.4 224.6 72.6 226Z" fill="#3250ee" stroke="#3250ee"/><path d="M75.1 203.9L75 198.4 73.8 197.4 73.9 202.9Z" fill="#464e7b" stroke="#464e7b"/><path d="M77 150.6L77.9 152.1 76.6 150.9 75.7 149.6Z" fill="#c8cad2" stroke="#c8cad2"/><path d="M69.1 149.4L69.8 147.6 68.7 146.6 68 148.5Z" fill="#b3b3a7" stroke="#b3b3a7"/><path d="M70.6 146.8L71.3 146 70.1 145 69.5 145.8Z" fill="#ddddda" stroke="#ddddda"/><path d="M69.8 147.6L70.6 146.8 69.5 145.8 68.7 146.6Z" fill="#c6c6bc" stroke="#c6c6bc"/><path d="M116.8 168.8L120.4 168.7 118.8 168.7 115.2 168.9Z" fill="#9eaddc" stroke="#9eaddc"/><path d="M72.2 184.8L72.3 179.1 71.2 178.3 71.1 183.9Z" fill="#656878" stroke="#656878"/><path d="M69.4 161.2L69.6 156.9 68.5 156 68.3 160.3Z" fill="#8b8b83" stroke="#8b8b83"/><path d="M74 147.7L74.9 148.6 73.7 147.5 72.8 146.7Z" fill="#ccced3" stroke="#ccced3"/><path d="M77.5 228.1L77.4 226.4 75.8 224.6 76.1 226.5Z" fill="#3249d7" stroke="#3249d7"/><path d="M79.1 153.2L80.1 155.3 78.8 154 77.9 152.1Z" fill="#c8cad2" stroke="#c8cad2"/><path d="M81.4 156.4L82.4 158.3 81.1 157.2 80.1 155.3Z" fill="#c8cad2" stroke="#c8cad2"/><path d="M84.8 159.8L88.9 164.5 87.3 163.9 83.2 158.9Z" fill="#b3c2f2" stroke="#b3c2f2"/><path d="M73.4 191.4L73.3 185.5 72.2 184.8 72.2 190.5Z" fill="#5a5e77" stroke="#5a5e77"/><path d="M63.9 231.6L67.1 230.4 61.5 225.5 58.3 226.7Z" fill="#fcfbf3" stroke="#fcfbf3"/><path d="M122 168.6L125.6 168.5 124 168.5 120.4 168.7Z" fill="#aabcf6" stroke="#aabcf6"/><path d="M69.2 229.6L71.3 228.8 69.1 226.5 66.5 227.1Z" fill="#3250ee" stroke="#3250ee"/><path d="M76.4 210.3L76.3 204.9 75.1 203.9 75.1 209.2Z" fill="#3c457c" stroke="#3c457c"/><path d="M70.3 166.9L70.4 162 69.4 161.2 69.2 166Z" fill="#82837f" stroke="#82837f"/><path d="M73.2 147.1L74 147.7 72.8 146.7 72 146.1Z" fill="#d2d3d6" stroke="#d2d3d6"/><path d="M76.1 149.5L77 150.6 75.7 149.6 74.9 148.6Z" fill="#c8cad2" stroke="#c8cad2"/><path d="M78.6 225.1L78.2 221.2 76.8 219.7 77.1 223.4Z" fill="#2c3894" stroke="#2c3894"/><path d="M127.2 168.4L130.8 168.3 129.1 168.3 125.6 168.5Z" fill="#aabcf6" stroke="#aabcf6"/><path d="M69.6 153L70.2 150.3 69.1 149.4 68.5 152.1Z" fill="#a3a397" stroke="#a3a397"/><path d="M78.2 221.2L78 216.6 76.6 215.3 76.8 219.7Z" fill="#2f3988" stroke="#2f3988"/><path d="M75 198.4L74.6 192.2 73.4 191.4 73.8 197.4Z" fill="#4f5578" stroke="#4f5578"/><path d="M67.1 230.4L69.2 229.6 66.5 227.1 64.3 227.9Z" fill="#3250ee" stroke="#3250ee"/><path d="M97.4 166.9L101.1 167.9 99.6 168 95.8 167.1Z" fill="#a2b2e5" stroke="#a2b2e5"/><path d="M71.3 172.9L71.4 167.6 70.3 166.9 70.2 172Z" fill="#797a7a" stroke="#797a7a"/><path d="M72.4 146.9L73.2 147.1 72 146.1 71.3 146Z" fill="#d9d9d8" stroke="#d9d9d8"/><path d="M102.7 167.7L106.4 168.7 104.8 168.7 101.1 167.9Z" fill="#8f9bbe" stroke="#8f9bbe"/><path d="M78.2 151.6L79.1 153.2 77.9 152.1 77 150.6Z" fill="#c8cad2" stroke="#c8cad2"/><path d="M149.3 168.4L153.5 168.5 151.9 168.3 147.7 168.3Z" fill="#aabcf6" stroke="#aabcf6"/><path d="M132.4 168.3L135.9 168.2 134.3 168.2 130.8 168.3Z" fill="#aabcf6" stroke="#aabcf6"/><path d="M92 164.9L95.8 167.1 94.3 167.1 90.5 164.9Z" fill="#acbdf5" stroke="#acbdf5"/><path d="M69.6 156.9L70.7 153.9 69.6 153 68.5 156Z" fill="#949488" stroke="#949488"/><path d="M79.1 228.2L78.6 225.1 77.1 223.4 77.4 226.4Z" fill="#2e3daf" stroke="#2e3daf"/><path d="M60.7 232.8L63.9 231.6 58.3 226.7 55.1 227.9Z" fill="#fcfbf3" stroke="#fcfbf3"/><path d="M143.5 168.3L147.7 168.3 146 168.2 141.8 168.3Z" fill="#aabcf6" stroke="#aabcf6"/><path d="M70.2 150.3L70.9 148.5 69.8 147.6 69.1 149.4Z" fill="#b3b3a7" stroke="#b3b3a7"/><path d="M137.6 168.2L141.8 168.3 140.2 168.2 135.9 168.2Z" fill="#aabcf6" stroke="#aabcf6"/><path d="M107.9 168.5L111.6 168.9 110 169 106.4 168.7Z" fill="#7e879c" stroke="#7e879c"/><path d="M71.7 147.7L72.4 146.9 71.3 146 70.6 146.8Z" fill="#ddddda" stroke="#ddddda"/><path d="M80.3 154.2L81.4 156.4 80.1 155.3 79.1 153.2Z" fill="#c8cad2" stroke="#c8cad2"/><path d="M75.2 148.6L76.1 149.5 74.9 148.6 74 147.7Z" fill="#ccced3" stroke="#ccced3"/><path d="M72.3 179.1L72.4 173.5 71.3 172.9 71.2 178.3Z" fill="#6e7076" stroke="#6e7076"/><path d="M70.9 148.5L71.7 147.7 70.6 146.8 69.8 147.6Z" fill="#c6c6bc" stroke="#c6c6bc"/><path d="M78 216.6L77.7 211.4 76.4 210.3 76.6 215.3Z" fill="#353e80" stroke="#353e80"/><path d="M82.6 157.3L83.6 159.2 82.4 158.3 81.4 156.4Z" fill="#c8cad2" stroke="#c8cad2"/><path d="M71.3 228.8L76.5 230.7 74.6 228.5 69.1 226.5Z" fill="#3250ee" stroke="#3250ee"/><path d="M70.4 162L70.6 157.7 69.6 156.9 69.4 161.2Z" fill="#8b8b83" stroke="#8b8b83"/><path d="M76.3 204.9L76.2 199.1 75 198.4 75.1 203.9Z" fill="#454c78" stroke="#454c78"/><path d="M113.2 168.7L116.8 168.8 115.2 168.9 111.6 168.9Z" fill="#8690ac" stroke="#8690ac"/><path d="M73.3 185.5L73.4 179.7 72.3 179.1 72.2 184.8Z" fill="#636675" stroke="#636675"/><path d="M78.9 229.8L79.1 228.2 77.4 226.4 77.5 228.1Z" fill="#3149d7" stroke="#3149d7"/><path d="M77.2 150.4L78.2 151.6 77 150.6 76.1 149.5Z" fill="#c8cad2" stroke="#c8cad2"/><path d="M74.3 147.9L75.2 148.6 74 147.7 73.2 147.1Z" fill="#d2d3d6" stroke="#d2d3d6"/><path d="M74.6 192.2L74.5 186.1 73.3 185.5 73.4 191.4Z" fill="#585c75" stroke="#585c75"/><path d="M118.4 168.6L122 168.6 120.4 168.7 116.8 168.8Z" fill="#9dacdb" stroke="#9dacdb"/><path d="M86.4 160.3L90.5 164.9 88.9 164.5 84.8 159.8Z" fill="#afbff4" stroke="#afbff4"/><path d="M71.4 167.6L71.5 162.7 70.4 162 70.3 166.9Z" fill="#81827e" stroke="#81827e"/><path d="M70.7 153.9L71.3 151.1 70.2 150.3 69.6 153Z" fill="#a3a397" stroke="#a3a397"/><path d="M77.7 211.4L77.5 205.7 76.3 204.9 76.4 210.3Z" fill="#3b4379" stroke="#3b4379"/><path d="M79.4 152.4L80.3 154.2 79.1 153.2 78.2 151.6Z" fill="#c8cad2" stroke="#c8cad2"/><path d="M123.6 168.5L127.2 168.4 125.6 168.5 122 168.6Z" fill="#aabcf6" stroke="#aabcf6"/><path d="M73.5 147.7L74.3 147.9 73.2 147.1 72.4 146.9Z" fill="#d9d9d8" stroke="#d9d9d8"/><path d="M81.6 155L82.6 157.3 81.4 156.4 80.3 154.2Z" fill="#c8cad2" stroke="#c8cad2"/><path d="M72.4 173.5L72.5 168.2 71.4 167.6 71.3 172.9Z" fill="#777878" stroke="#777878"/><path d="M70.6 157.7L71.7 154.6 70.7 153.9 69.6 156.9Z" fill="#939387" stroke="#939387"/><path d="M80.2 226.8L79.7 222.6 78.2 221.2 78.6 225.1Z" fill="#2b3690" stroke="#2b3690"/><path d="M71.3 151.1L72 149.3 70.9 148.5 70.2 150.3Z" fill="#b3b3a7" stroke="#b3b3a7"/><path d="M76.3 149.4L77.2 150.4 76.1 149.5 75.2 148.6Z" fill="#ccced3" stroke="#ccced3"/><path d="M72.8 148.4L73.5 147.7 72.4 146.9 71.7 147.7Z" fill="#ddddda" stroke="#ddddda"/><path d="M79.7 222.6L79.3 217.8 78 216.6 78.2 221.2Z" fill="#2e3885" stroke="#2e3885"/><path d="M76.2 199.1L75.9 192.8 74.6 192.2 75 198.4Z" fill="#4e5375" stroke="#4e5375"/><path d="M83.8 157.9L84.9 159.9 83.6 159.2 82.6 157.3Z" fill="#c8cad2" stroke="#c8cad2"/><path d="M72 149.3L72.8 148.4 71.7 147.7 70.9 148.5Z" fill="#c6c6bc" stroke="#c6c6bc"/><path d="M128.8 168.3L132.4 168.3 130.8 168.3 127.2 168.4Z" fill="#aabcf6" stroke="#aabcf6"/><path d="M76.5 230.7L80.3 231.4 77.5 228.1 74.6 228.5Z" fill="#3250ee" stroke="#3250ee"/><path d="M73.4 179.7L73.5 174 72.4 173.5 72.3 179.1Z" fill="#6c6e74" stroke="#6c6e74"/><path d="M71.5 162.7L71.7 158.3 70.6 157.7 70.4 162Z" fill="#8a8a82" stroke="#8a8a82"/><path d="M80.7 230L80.2 226.8 78.6 225.1 79.1 228.2Z" fill="#2e3dac" stroke="#2e3dac"/><path d="M71.8 232.1L73.8 231.4 71.3 228.8 69.2 229.6Z" fill="#3250ee" stroke="#3250ee"/><path d="M98.9 166.4L102.7 167.7 101.1 167.9 97.4 166.9Z" fill="#8f9bbe" stroke="#8f9bbe"/><path d="M134 168.2L137.6 168.2 135.9 168.2 132.4 168.3Z" fill="#aabcf6" stroke="#aabcf6"/><path d="M145.1 168.3L149.3 168.4 147.7 168.3 143.5 168.3Z" fill="#aabcf6" stroke="#aabcf6"/><path d="M104.2 167.4L107.9 168.5 106.4 168.7 102.7 167.7Z" fill="#7a8193" stroke="#7a8193"/><path d="M79.3 217.8L79 212.4 77.7 211.4 78 216.6Z" fill="#343d7d" stroke="#343d7d"/><path d="M93.5 164.7L97.4 166.9 95.8 167.1 92 164.9Z" fill="#a2b2e5" stroke="#a2b2e5"/><path d="M78.4 151.1L79.4 152.4 78.2 151.6 77.2 150.4Z" fill="#c8cad2" stroke="#c8cad2"/><path d="M139.2 168.2L143.5 168.3 141.8 168.3 137.6 168.2Z" fill="#aabcf6" stroke="#aabcf6"/><path d="M75.5 148.7L76.3 149.4 75.2 148.6 74.3 147.9Z" fill="#d2d3d6" stroke="#d2d3d6"/><path d="M74.5 186.1L74.5 180.1 73.4 179.7 73.3 185.5Z" fill="#616473" stroke="#616473"/><path d="M77.5 205.7L77.4 199.7 76.2 199.1 76.3 204.9Z" fill="#434a76" stroke="#434a76"/><path d="M109.5 168.2L113.2 168.7 111.6 168.9 107.9 168.5Z" fill="#717681" stroke="#717681"/><path d="M71.7 154.6L72.3 151.8 71.3 151.1 70.7 153.9Z" fill="#a3a397" stroke="#a3a397"/><path d="M69.9 232.9L71.8 232.1 69.2 229.6 67.1 230.4Z" fill="#3250ee" stroke="#3250ee"/><path d="M80.5 153L81.6 155 80.3 154.2 79.4 152.4Z" fill="#c8cad2" stroke="#c8cad2"/><path d="M72.5 168.2L72.6 163.2 71.5 162.7 71.4 167.6Z" fill="#80817d" stroke="#80817d"/><path d="M114.7 168.5L118.4 168.6 116.8 168.8 113.2 168.7Z" fill="#858ea9" stroke="#858ea9"/><path d="M80.3 231.4L80.7 230 79.1 228.2 78.9 229.8Z" fill="#3148d6" stroke="#3148d6"/><path d="M75.9 192.8L75.6 186.4 74.5 186.1 74.6 192.2Z" fill="#565a72" stroke="#565a72"/><path d="M74.6 148.4L75.5 148.7 74.3 147.9 73.5 147.7Z" fill="#d9d9d8" stroke="#d9d9d8"/><path d="M82.7 155.7L83.8 157.9 82.6 157.3 81.6 155Z" fill="#c8cad2" stroke="#c8cad2"/><path d="M73.8 231.4L78.3 232.9 76.5 230.7 71.3 228.8Z" fill="#3250ee" stroke="#3250ee"/><path d="M77.5 150.1L78.4 151.1 77.2 150.4 76.3 149.4Z" fill="#ccced3" stroke="#ccced3"/><path d="M87.9 160.3L92 164.9 90.5 164.9 86.4 160.3Z" fill="#acbdf5" stroke="#acbdf5"/><path d="M79 212.4L78.7 206.4 77.5 205.7 77.7 211.4Z" fill="#394276" stroke="#394276"/><path d="M71.7 158.3L72.6 155 71.7 154.6 70.6 157.7Z" fill="#939387" stroke="#939387"/><path d="M72.3 151.8L73.1 150 72 149.3 71.3 151.1Z" fill="#b3b3a7" stroke="#b3b3a7"/><path d="M73.9 149.1L74.6 148.4 73.5 147.7 72.8 148.4Z" fill="#ddddda" stroke="#ddddda"/><path d="M85 158.3L86 160.2 84.9 159.9 83.8 157.9Z" fill="#c8cad2" stroke="#c8cad2"/><path d="M120 168.4L123.6 168.5 122 168.6 118.4 168.6Z" fill="#9dacdb" stroke="#9dacdb"/><path d="M73.1 150L73.9 149.1 72.8 148.4 72 149.3Z" fill="#c6c6bc" stroke="#c6c6bc"/><path d="M73.5 174L73.6 168.6 72.5 168.2 72.4 173.5Z" fill="#767676" stroke="#767676"/><path d="M125.2 168.3L128.8 168.3 127.2 168.4 123.6 168.5Z" fill="#aabcf6" stroke="#aabcf6"/><path d="M81.9 228.5L81.2 224.1 79.7 222.6 80.2 226.8Z" fill="#2a358d" stroke="#2a358d"/><path d="M81.2 224.1L80.7 219 79.3 217.8 79.7 222.6Z" fill="#2d3782" stroke="#2d3782"/><path d="M72.6 163.2L72.8 158.7 71.7 158.3 71.5 162.7Z" fill="#898a82" stroke="#898a82"/><path d="M77.4 199.7L77.2 193.3 75.9 192.8 76.2 199.1Z" fill="#4c5172" stroke="#4c5172"/><path d="M79.5 151.5L80.5 153 79.4 152.4 78.4 151.1Z" fill="#c8cad2" stroke="#c8cad2"/><path d="M74.5 180.1L74.5 174.2 73.5 174 73.4 179.7Z" fill="#6a6c71" stroke="#6a6c71"/><path d="M76.6 149.2L77.5 150.1 76.3 149.4 75.5 148.7Z" fill="#d2d3d6" stroke="#d2d3d6"/><path d="M130.4 168.2L134 168.2 132.4 168.3 128.8 168.3Z" fill="#aabcf6" stroke="#aabcf6"/><path d="M82.2 231.6L81.9 228.5 80.2 226.8 80.7 230Z" fill="#2d3caa" stroke="#2d3caa"/><path d="M81.7 153.4L82.7 155.7 81.6 155 80.5 153Z" fill="#c8cad2" stroke="#c8cad2"/><path d="M80.7 219L80.3 213.3 79 212.4 79.3 217.8Z" fill="#333c7a" stroke="#333c7a"/><path d="M72.6 155L73.4 152.3 72.3 151.8 71.7 154.6Z" fill="#a3a397" stroke="#a3a397"/><path d="M75.6 186.4L75.5 180.2 74.5 180.1 74.5 186.1Z" fill="#5f6170" stroke="#5f6170"/><path d="M135.6 168.1L139.2 168.2 137.6 168.2 134 168.2Z" fill="#aabcf6" stroke="#aabcf6"/><path d="M78.7 206.4L78.6 200.1 77.4 199.7 77.5 205.7Z" fill="#424973" stroke="#424973"/><path d="M83.9 156.1L85 158.3 83.8 157.9 82.7 155.7Z" fill="#c8cad2" stroke="#c8cad2"/><path d="M140.9 168.1L145.1 168.3 143.5 168.3 139.2 168.2Z" fill="#aabcf6" stroke="#aabcf6"/><path d="M75.7 148.9L76.6 149.2 75.5 148.7 74.6 148.4Z" fill="#d9d9d8" stroke="#d9d9d8"/><path d="M100.4 165.9L104.2 167.4 102.7 167.7 98.9 166.4Z" fill="#7a8193" stroke="#7a8193"/><path d="M105.8 167L109.5 168.2 107.9 168.5 104.2 167.4Z" fill="#6b7075" stroke="#6b7075"/><path d="M73.6 168.6L73.7 163.5 72.6 163.2 72.5 168.2Z" fill="#7f807c" stroke="#7f807c"/><path d="M95 164.1L98.9 166.4 97.4 166.9 93.5 164.7Z" fill="#8f9bbe" stroke="#8f9bbe"/><path d="M72.8 158.7L73 154.8 72.6 155 71.7 158.3Z" fill="#939387" stroke="#939387"/><path d="M78.6 150.5L79.5 151.5 78.4 151.1 77.5 150.1Z" fill="#ccced3" stroke="#ccced3"/><path d="M81.7 233L82.2 231.6 80.7 230 80.3 231.4Z" fill="#3148d6" stroke="#3148d6"/><path d="M111.1 167.9L114.7 168.5 113.2 168.7 109.5 168.2Z" fill="#6f747d" stroke="#6f747d"/><path d="M73.4 152.3L74.1 150.5 73.1 150 72.3 151.8Z" fill="#b3b3a7" stroke="#b3b3a7"/><path d="M86.1 158.5L87.2 160.3 86 160.2 85 158.3Z" fill="#c7c9d1" stroke="#c7c9d1"/><path d="M74.9 149.6L75.7 148.9 74.6 148.4 73.9 149.1Z" fill="#ddddda" stroke="#ddddda"/><path d="M74.1 150.5L74.9 149.6 73.9 149.1 73.1 150Z" fill="#c6c6bc" stroke="#c6c6bc"/><path d="M78.3 232.9L82.9 234.4 80.3 231.4 76.5 230.7Z" fill="#3250ee" stroke="#3250ee"/><path d="M69.5 236.6L72.7 235.4 67.1 230.4 63.9 231.6Z" fill="#fcfbf3" stroke="#fcfbf3"/><path d="M77.2 193.3L76.7 186.6 75.6 186.4 75.9 192.8Z" fill="#545870" stroke="#545870"/><path d="M116.3 168.2L120 168.4 118.4 168.6 114.7 168.5Z" fill="#858ea9" stroke="#858ea9"/><path d="M74.5 234.7L76.3 234 73.8 231.4 71.8 232.1Z" fill="#3250ee" stroke="#3250ee"/><path d="M80.3 213.3L80 207 78.7 206.4 79 212.4Z" fill="#384074" stroke="#384074"/><path d="M74.5 174.2L74.6 168.7 73.6 168.6 73.5 174Z" fill="#747474" stroke="#747474"/><path d="M80.6 151.8L81.7 153.4 80.5 153 79.5 151.5Z" fill="#c8cad2" stroke="#c8cad2"/><path d="M89.4 159.9L93.5 164.7 92 164.9 87.9 160.3Z" fill="#a2b2e5" stroke="#a2b2e5"/><path d="M77.6 149.5L78.6 150.5 77.5 150.1 76.6 149.2Z" fill="#d2d3d6" stroke="#d2d3d6"/><path d="M121.6 168.1L125.2 168.3 123.6 168.5 120 168.4Z" fill="#9dacdb" stroke="#9dacdb"/><path d="M73.7 163.5L73.8 158.9 72.8 158.7 72.6 163.2Z" fill="#898981" stroke="#898981"/><path d="M72.7 235.4L74.5 234.7 71.8 232.1 69.9 232.9Z" fill="#3250ee" stroke="#3250ee"/><path d="M73 154.8L74.4 152.6 73.4 152.3 72.6 155Z" fill="#a3a397" stroke="#a3a397"/><path d="M76.3 234L80.2 235.2 78.3 232.9 73.8 231.4Z" fill="#3250ee" stroke="#3250ee"/><path d="M82.8 225.5L82.1 220.1 80.7 219 81.2 224.1Z" fill="#2c367f" stroke="#2c367f"/><path d="M75.5 180.2L75.5 174.2 74.5 174.2 74.5 180.1Z" fill="#68696f" stroke="#68696f"/><path d="M83.5 230.2L82.8 225.5 81.2 224.1 81.9 228.5Z" fill="#29348a" stroke="#29348a"/><path d="M82.8 153.5L83.9 156.1 82.7 155.7 81.7 153.4Z" fill="#c8cad2" stroke="#c8cad2"/><path d="M78.6 200.1L78.4 193.6 77.2 193.3 77.4 199.7Z" fill="#4a4f70" stroke="#4a4f70"/><path d="M126.8 168L130.4 168.2 128.8 168.3 125.2 168.3Z" fill="#aabcf6" stroke="#aabcf6"/><path d="M66.3 237.9L69.5 236.6 63.9 231.6 60.7 232.8Z" fill="#fcfbf3" stroke="#fcfbf3"/><path d="M85 156.1L86.1 158.5 85 158.3 83.9 156.1Z" fill="#c7c9d1" stroke="#c7c9d1"/><path d="M76.8 149.2L77.6 149.5 76.6 149.2 75.7 148.9Z" fill="#d9d9d8" stroke="#d9d9d8"/><path d="M83.6 233.2L83.5 230.2 81.9 228.5 82.2 231.6Z" fill="#2d3ba8" stroke="#2d3ba8"/><path d="M132 168L135.6 168.1 134 168.2 130.4 168.2Z" fill="#aabcf6" stroke="#aabcf6"/><path d="M73.8 158.9L74 154.9 73 154.8 72.8 158.7Z" fill="#939387" stroke="#939387"/><path d="M82.1 220.1L81.7 214.1 80.3 213.3 80.7 219Z" fill="#323a78" stroke="#323a78"/><path d="M76.7 186.6L76.6 180.1 75.5 180.2 75.6 186.4Z" fill="#5d5f6e" stroke="#5d5f6e"/><path d="M79.7 150.6L80.6 151.8 79.5 151.5 78.6 150.5Z" fill="#ccced3" stroke="#ccced3"/><path d="M74.6 168.7L74.7 163.4 73.7 163.5 73.6 168.6Z" fill="#7e7e7a" stroke="#7e7e7a"/><path d="M80 207L79.7 200.4 78.6 200.1 78.7 206.4Z" fill="#404770" stroke="#404770"/><path d="M75.9 149.8L76.8 149.2 75.7 148.9 74.9 149.6Z" fill="#ddddda" stroke="#ddddda"/><path d="M74.4 152.6L75.1 150.7 74.1 150.5 73.4 152.3Z" fill="#b3b3a7" stroke="#b3b3a7"/><path d="M87.3 158.3L88.4 160.2 87.2 160.3 86.1 158.5Z" fill="#c2c5cd" stroke="#c2c5cd"/><path d="M82.9 234.4L83.6 233.2 82.2 231.6 81.7 233Z" fill="#3148d5" stroke="#3148d5"/><path d="M137.3 167.9L140.9 168.1 139.2 168.2 135.6 168.1Z" fill="#aabcf6" stroke="#aabcf6"/><path d="M75.1 150.7L75.9 149.8 74.9 149.6 74.1 150.5Z" fill="#c6c6bc" stroke="#c6c6bc"/><path d="M107.3 166.6L111.1 167.9 109.5 168.2 105.8 167Z" fill="#696d71" stroke="#696d71"/><path d="M101.9 165.2L105.8 167 104.2 167.4 100.4 165.9Z" fill="#6b7075" stroke="#6b7075"/><path d="M112.6 167.5L116.3 168.2 114.7 168.5 111.1 167.9Z" fill="#6f747d" stroke="#6f747d"/><path d="M81.7 151.7L82.8 153.5 81.7 153.4 80.6 151.8Z" fill="#c8cad2" stroke="#c8cad2"/><path d="M96.5 163.4L100.4 165.9 98.9 166.4 95 164.1Z" fill="#7a8193" stroke="#7a8193"/><path d="M78.4 193.6L77.8 186.5 76.7 186.6 77.2 193.3Z" fill="#52566d" stroke="#52566d"/><path d="M78.7 149.5L79.7 150.6 78.6 150.5 77.6 149.5Z" fill="#d2d3d6" stroke="#d2d3d6"/><path d="M75.5 174.2L75.6 168.5 74.6 168.7 74.5 174.2Z" fill="#727272" stroke="#727272"/><path d="M81.7 214.1L81.2 207.5 80 207 80.3 213.3Z" fill="#373f71" stroke="#373f71"/><path d="M74 154.9L75.4 152.6 74.4 152.6 73 154.8Z" fill="#a3a397" stroke="#a3a397"/><path d="M117.9 167.8L121.6 168.1 120 168.4 116.3 168.2Z" fill="#858ea9" stroke="#858ea9"/><path d="M74.7 163.4L74.8 158.7 73.8 158.9 73.7 163.5Z" fill="#888880" stroke="#888880"/><path d="M83.9 153.4L85 156.1 83.9 156.1 82.8 153.5Z" fill="#c7c9d1" stroke="#c7c9d1"/><path d="M80.2 235.2L84.8 236.9 82.9 234.4 78.3 232.9Z" fill="#3250ee" stroke="#3250ee"/><path d="M86.1 155.9L87.3 158.3 86.1 158.5 85 156.1Z" fill="#c2c5cd" stroke="#c2c5cd"/><path d="M123.2 167.8L126.8 168 125.2 168.3 121.6 168.1Z" fill="#9dacdb" stroke="#9dacdb"/><path d="M90.9 159L95 164.1 93.5 164.7 89.4 159.9Z" fill="#8f9bbe" stroke="#8f9bbe"/><path d="M76.6 180.1L76.6 173.9 75.5 174.2 75.5 180.2Z" fill="#66676c" stroke="#66676c"/><path d="M77.8 149.1L78.7 149.5 77.6 149.5 76.8 149.2Z" fill="#d9d9d8" stroke="#d9d9d8"/><path d="M84.4 227L83.6 221.2 82.1 220.1 82.8 225.5Z" fill="#2c357d" stroke="#2c357d"/><path d="M85.1 231.8L84.4 227 82.8 225.5 83.5 230.2Z" fill="#293388" stroke="#293388"/><path d="M79.7 200.4L79.6 193.6 78.4 193.6 78.6 200.1Z" fill="#484e6d" stroke="#484e6d"/><path d="M80.7 150.3L81.7 151.7 80.6 151.8 79.7 150.6Z" fill="#ccced3" stroke="#ccced3"/><path d="M77.2 237.3L78.8 236.6 76.3 234 74.5 234.7Z" fill="#3250ee" stroke="#3250ee"/><path d="M84.9 234.8L85.1 231.8 83.5 230.2 83.6 233.2Z" fill="#2c3ba7" stroke="#2c3ba7"/><path d="M128.4 167.8L132 168 130.4 168.2 126.8 168Z" fill="#aabcf6" stroke="#aabcf6"/><path d="M83.8 235.6L84.9 234.8 83.6 233.2 82.9 234.4Z" fill="#3148d5" stroke="#3148d5"/><path d="M74.8 158.7L75 154.7 74 154.9 73.8 158.9Z" fill="#939387" stroke="#939387"/><path d="M77 149.8L77.8 149.1 76.8 149.2 75.9 149.8Z" fill="#ddddda" stroke="#ddddda"/><path d="M75.4 152.6L76.1 150.7 75.1 150.7 74.4 152.6Z" fill="#b3b3a7" stroke="#b3b3a7"/><path d="M88.4 157.9L89.5 159.8 88.4 160.2 87.3 158.3Z" fill="#bbbec7" stroke="#bbbec7"/><path d="M76.1 150.7L77 149.8 75.9 149.8 75.1 150.7Z" fill="#c6c6bc" stroke="#c6c6bc"/><path d="M83.6 221.2L83 214.8 81.7 214.1 82.1 220.1Z" fill="#313976" stroke="#313976"/><path d="M75.6 168.5L75.7 163.1 74.7 163.4 74.6 168.7Z" fill="#7c7d79" stroke="#7c7d79"/><path d="M77.8 186.5L77.6 179.7 76.6 180.1 76.7 186.6Z" fill="#5b5d6b" stroke="#5b5d6b"/><path d="M133.7 167.7L137.3 167.9 135.6 168.1 132 168Z" fill="#aabcf6" stroke="#aabcf6"/><path d="M78.8 236.6L82.2 237.6 80.2 235.2 76.3 234Z" fill="#3250ee" stroke="#3250ee"/><path d="M81.2 207.5L80.9 200.5 79.7 200.4 80 207Z" fill="#3f466e" stroke="#3f466e"/><path d="M75.6 237.9L77.2 237.3 74.5 234.7 72.7 235.4Z" fill="#3250ee" stroke="#3250ee"/><path d="M82.8 151.2L83.9 153.4 82.8 153.5 81.7 151.7Z" fill="#c7c9d1" stroke="#c7c9d1"/><path d="M79.7 149.2L80.7 150.3 79.7 150.6 78.7 149.5Z" fill="#d2d3d6" stroke="#d2d3d6"/><path d="M75 154.7L76.3 152.3 75.4 152.6 74 154.9Z" fill="#a3a397" stroke="#a3a397"/><path d="M84.9 153L86.1 155.9 85 156.1 83.9 153.4Z" fill="#c2c5cd" stroke="#c2c5cd"/><path d="M108.9 166.2L112.6 167.5 111.1 167.9 107.3 166.6Z" fill="#696d71" stroke="#696d71"/><path d="M76.6 173.9L76.6 167.9 75.6 168.5 75.5 174.2Z" fill="#707070" stroke="#707070"/><path d="M103.5 164.4L107.3 166.6 105.8 167 101.9 165.2Z" fill="#696d71" stroke="#696d71"/><path d="M114.2 167.1L117.9 167.8 116.3 168.2 112.6 167.5Z" fill="#6f747d" stroke="#6f747d"/><path d="M79.6 193.6L79 186.2 77.8 186.5 78.4 193.6Z" fill="#50546b" stroke="#50546b"/><path d="M83 214.8L82.5 207.9 81.2 207.5 81.7 214.1Z" fill="#363e6f" stroke="#363e6f"/><path d="M75.7 163.1L75.8 158.2 74.8 158.7 74.7 163.4Z" fill="#878880" stroke="#878880"/><path d="M98 162.5L101.9 165.2 100.4 165.9 96.5 163.4Z" fill="#6b7075" stroke="#6b7075"/><path d="M87.2 155.3L88.4 157.9 87.3 158.3 86.1 155.9Z" fill="#bbbec7" stroke="#bbbec7"/><path d="M84.7 236.8L86.3 236.2 84.9 234.8 83.8 235.6Z" fill="#3148d5" stroke="#3148d5"/><path d="M78.8 148.7L79.7 149.2 78.7 149.5 77.8 149.1Z" fill="#d9d9d8" stroke="#d9d9d8"/><path d="M119.5 167.5L123.2 167.8 121.6 168.1 117.9 167.8Z" fill="#858ea9" stroke="#858ea9"/><path d="M81.7 149.7L82.8 151.2 81.7 151.7 80.7 150.3Z" fill="#cbcdd3" stroke="#cbcdd3"/><path d="M86.6 233.3L86 228.4 84.4 227 85.1 231.8Z" fill="#283286" stroke="#283286"/><path d="M86 228.4L85 222.3 83.6 221.2 84.4 227Z" fill="#2b347b" stroke="#2b347b"/><path d="M86.3 236.2L86.6 233.3 85.1 231.8 84.9 234.8Z" fill="#2c3aa5" stroke="#2c3aa5"/><path d="M77.6 179.7L77.5 173.2 76.6 173.9 76.6 180.1Z" fill="#63656a" stroke="#63656a"/><path d="M124.8 167.5L128.4 167.8 126.8 168 123.2 167.8Z" fill="#9dacdb" stroke="#9dacdb"/><path d="M89.4 157.2L90.6 159.3 89.5 159.8 88.4 157.9Z" fill="#b2b5bf" stroke="#b2b5bf"/><path d="M77.9 149.3L78.8 148.7 77.8 149.1 77 149.8Z" fill="#ddddda" stroke="#ddddda"/><path d="M76.3 152.3L77.1 150.3 76.1 150.7 75.4 152.6Z" fill="#b3b3a7" stroke="#b3b3a7"/><path d="M80.9 200.5L80.7 193.4 79.6 193.6 79.7 200.4Z" fill="#474c6b" stroke="#474c6b"/><path d="M77.1 150.3L77.9 149.3 77 149.8 76.1 150.7Z" fill="#c6c6bc" stroke="#c6c6bc"/><path d="M75.8 158.2L76 154 75 154.7 74.8 158.7Z" fill="#939387" stroke="#939387"/><path d="M82.2 237.6L86.1 239 84.8 236.9 80.2 235.2Z" fill="#3250ee" stroke="#3250ee"/><path d="M92.4 157.9L96.5 163.4 95 164.1 90.9 159Z" fill="#7a8193" stroke="#7a8193"/><path d="M130 167.5L133.7 167.7 132 168 128.4 167.8Z" fill="#aabcf6" stroke="#aabcf6"/><path d="M85 222.3L84.3 215.5 83 214.8 83.6 221.2Z" fill="#303874" stroke="#303874"/><path d="M76.6 167.9L76.7 162.3 75.7 163.1 75.6 168.5Z" fill="#7b7b77" stroke="#7b7b77"/><path d="M83.8 150.4L84.9 153 83.9 153.4 82.8 151.2Z" fill="#c3c5cd" stroke="#c3c5cd"/><path d="M79 186.2L78.6 179 77.6 179.7 77.8 186.5Z" fill="#595b69" stroke="#595b69"/><path d="M82.5 207.9L82 200.5 80.9 200.5 81.2 207.5Z" fill="#3e446c" stroke="#3e446c"/><path d="M75.2 241.7L78.4 240.4 72.7 235.4 69.5 236.6Z" fill="#fcfbf3" stroke="#fcfbf3"/><path d="M80.7 148.5L81.7 149.7 80.7 150.3 79.7 149.2Z" fill="#d1d2d5" stroke="#d1d2d5"/><path d="M81.3 239.3L82.8 238.7 82.2 237.6 78.8 236.6Z" fill="#3250ee" stroke="#3250ee"/><path d="M79.9 239.9L81.3 239.3 78.8 236.6 77.2 237.3Z" fill="#3250ee" stroke="#3250ee"/><path d="M85.4 237.8L87.5 237.6 86.3 236.2 84.7 236.8Z" fill="#3148d5" stroke="#3148d5"/><path d="M86 152.2L87.2 155.3 86.1 155.9 84.9 153Z" fill="#bbbec7" stroke="#bbbec7"/><path d="M76 154L77.2 151.5 76.3 152.3 75 154.7Z" fill="#a3a397" stroke="#a3a397"/><path d="M88.2 154.5L89.4 157.2 88.4 157.9 87.2 155.3Z" fill="#b2b5bf" stroke="#b2b5bf"/><path d="M78.4 240.4L79.9 239.9 77.2 237.3 75.6 237.9Z" fill="#3250ee" stroke="#3250ee"/><path d="M77.5 173.2L77.6 167 76.6 167.9 76.6 173.9Z" fill="#6e6e6e" stroke="#6e6e6e"/><path d="M84.3 215.5L83.7 208.2 82.5 207.9 83 214.8Z" fill="#353d6d" stroke="#353d6d"/><path d="M110.4 165.7L114.2 167.1 112.6 167.5 108.9 166.2Z" fill="#696d71" stroke="#696d71"/><path d="M76.7 162.3L76.7 157.3 75.8 158.2 75.7 163.1Z" fill="#87877f" stroke="#87877f"/><path d="M79.7 147.9L80.7 148.5 79.7 149.2 78.8 148.7Z" fill="#d8d8d7" stroke="#d8d8d7"/><path d="M72 243L75.2 241.7 69.5 236.6 66.3 237.9Z" fill="#fcfbf3" stroke="#fcfbf3"/><path d="M115.8 166.8L119.5 167.5 117.9 167.8 114.2 167.1Z" fill="#6f747d" stroke="#6f747d"/><path d="M80.7 193.4L80.1 185.7 79 186.2 79.6 193.6Z" fill="#4f5269" stroke="#4f5269"/><path d="M87.5 237.6L87.9 234.7 86.6 233.3 86.3 236.2Z" fill="#2c3aa5" stroke="#2c3aa5"/><path d="M105 163.7L108.9 166.2 107.3 166.6 103.5 164.4Z" fill="#696d71" stroke="#696d71"/><path d="M82.7 148.6L83.8 150.4 82.8 151.2 81.7 149.7Z" fill="#c6c8cf" stroke="#c6c8cf"/><path d="M87.9 234.7L87.6 229.9 86 228.4 86.6 233.3Z" fill="#273284" stroke="#273284"/><path d="M90.5 156.3L91.6 158.5 90.6 159.3 89.4 157.2Z" fill="#a7aab6" stroke="#a7aab6"/><path d="M121.1 167.1L124.8 167.5 123.2 167.8 119.5 167.5Z" fill="#858ea9" stroke="#858ea9"/><path d="M78.8 148.5L79.7 147.9 78.8 148.7 77.9 149.3Z" fill="#dcdcd9" stroke="#dcdcd9"/><path d="M99.5 161.5L103.5 164.4 101.9 165.2 98 162.5Z" fill="#696d71" stroke="#696d71"/><path d="M77.2 151.5L78 149.4 77.1 150.3 76.3 152.3Z" fill="#b3b3a7" stroke="#b3b3a7"/><path d="M87.6 229.9L86.6 223.4 85 222.3 86 228.4Z" fill="#2a337a" stroke="#2a337a"/><path d="M78 149.4L78.8 148.5 77.9 149.3 77.1 150.3Z" fill="#c6c6bc" stroke="#c6c6bc"/><path d="M78.6 179L78.5 172.2 77.5 173.2 77.6 179.7Z" fill="#616268" stroke="#616268"/><path d="M86 238.7L88.4 238.8 87.5 237.6 85.4 237.8Z" fill="#3148d5" stroke="#3148d5"/><path d="M82.8 238.7L87.3 240.9 86.1 239 82.2 237.6Z" fill="#3250ee" stroke="#3250ee"/><path d="M126.4 167.1L130 167.5 128.4 167.8 124.8 167.5Z" fill="#9dacdb" stroke="#9dacdb"/><path d="M82 200.5L81.7 192.9 80.7 193.4 80.9 200.5Z" fill="#464b69" stroke="#464b69"/><path d="M76.7 157.3L76.9 152.9 76 154 75.8 158.2Z" fill="#929287" stroke="#929287"/><path d="M86.6 223.4L85.7 216.2 84.3 215.5 85 222.3Z" fill="#2f3873" stroke="#2f3873"/><path d="M84.7 149.2L86 152.2 84.9 153 83.8 150.4Z" fill="#bbbec7" stroke="#bbbec7"/><path d="M77.6 167L77.6 161.2 76.7 162.3 76.6 167.9Z" fill="#797a76" stroke="#797a76"/><path d="M81.6 147.3L82.7 148.6 81.7 149.7 80.7 148.5Z" fill="#cccdd1" stroke="#cccdd1"/><path d="M83.7 208.2L83.2 200.4 82 200.5 82.5 207.9Z" fill="#3d436b" stroke="#3d436b"/><path d="M93.8 156.5L98 162.5 96.5 163.4 92.4 157.9Z" fill="#6b7075" stroke="#6b7075"/><path d="M86.9 151.2L88.2 154.5 87.2 155.3 86 152.2Z" fill="#b2b5bf" stroke="#b2b5bf"/><path d="M80.1 185.7L79.6 178.1 78.6 179 79 186.2Z" fill="#575967" stroke="#575967"/><path d="M76.9 152.9L77.8 150 77.2 151.5 76 154Z" fill="#a3a397" stroke="#a3a397"/><path d="M88.4 238.8L89.3 236.1 87.9 234.7 87.5 237.6Z" fill="#2c3aa4" stroke="#2c3aa4"/><path d="M89.2 153.5L90.5 156.3 89.4 157.2 88.2 154.5Z" fill="#a7aab6" stroke="#a7aab6"/><path d="M86.5 239.5L89.2 239.8 88.4 238.8 86 238.7Z" fill="#3148d5" stroke="#3148d5"/><path d="M83.9 242L85.2 241.5 82.8 238.7 81.3 239.3Z" fill="#3250ee" stroke="#3250ee"/><path d="M85.7 216.2L85 208.5 83.7 208.2 84.3 215.5Z" fill="#353c6c" stroke="#353c6c"/><path d="M80.6 146.5L81.6 147.3 80.7 148.5 79.7 147.9Z" fill="#d2d3d3" stroke="#d2d3d3"/><path d="M78.5 172.2L78.5 165.7 77.6 167 77.5 173.2Z" fill="#6c6d6d" stroke="#6c6d6d"/><path d="M91.5 155.3L92.7 157.6 91.6 158.5 90.5 156.3Z" fill="#9c9fad" stroke="#9c9fad"/><path d="M89.3 236.1L89.2 231.3 87.6 229.9 87.9 234.7Z" fill="#273284" stroke="#273284"/><path d="M77.6 161.2L77.6 155.9 76.7 157.3 76.7 162.3Z" fill="#86867e" stroke="#86867e"/><path d="M112 165.3L115.8 166.8 114.2 167.1 110.4 165.7Z" fill="#696d71" stroke="#696d71"/><path d="M82.6 242.5L83.9 242 81.3 239.3 79.9 239.9Z" fill="#3250ee" stroke="#3250ee"/><path d="M117.4 166.4L121.1 167.1 119.5 167.5 115.8 166.8Z" fill="#6f747d" stroke="#6f747d"/><path d="M83.6 147.1L84.7 149.2 83.8 150.4 82.7 148.6Z" fill="#bfc1c8" stroke="#bfc1c8"/><path d="M81.7 192.9L81.3 185 80.1 185.7 80.7 193.4Z" fill="#4d5167" stroke="#4d5167"/><path d="M77.8 150L78.9 148.1 78 149.4 77.2 151.5Z" fill="#b3b3a7" stroke="#b3b3a7"/><path d="M106.5 163.1L110.4 165.7 108.9 166.2 105 163.7Z" fill="#696d71" stroke="#696d71"/><path d="M79.7 147.1L80.6 146.5 79.7 147.9 78.8 148.5Z" fill="#d7d7d5" stroke="#d7d7d5"/><path d="M89.2 231.3L88.1 224.5 86.6 223.4 87.6 229.9Z" fill="#2a3379" stroke="#2a3379"/><path d="M122.7 166.7L126.4 167.1 124.8 167.5 121.1 167.1Z" fill="#858ea9" stroke="#858ea9"/><path d="M78.9 148.1L79.7 147.1 78.8 148.5 78 149.4Z" fill="#c6c6bc" stroke="#c6c6bc"/><path d="M81.3 243L82.6 242.5 79.9 239.9 78.4 240.4Z" fill="#3250ee" stroke="#3250ee"/><path d="M87 240.4L89.9 240.8 89.2 239.8 86.5 239.5Z" fill="#3148d5" stroke="#3148d5"/><path d="M85.2 241.5L88.7 242.9 87.3 240.9 82.8 238.7Z" fill="#3250ee" stroke="#3250ee"/><path d="M101 160.5L105 163.7 103.5 164.4 99.5 161.5Z" fill="#696d71" stroke="#696d71"/><path d="M83.2 200.4L82.8 192.4 81.7 192.9 82 200.5Z" fill="#454968" stroke="#454968"/><path d="M79.6 178.1L79.4 170.9 78.5 172.2 78.6 179Z" fill="#5f6166" stroke="#5f6166"/><path d="M77.6 155.9L77.8 151.4 76.9 152.9 76.7 157.3Z" fill="#929286" stroke="#929286"/><path d="M85.7 147.7L86.9 151.2 86 152.2 84.7 149.2Z" fill="#b2b5bf" stroke="#b2b5bf"/><path d="M88.1 224.5L87 216.9 85.7 216.2 86.6 223.4Z" fill="#2f3772" stroke="#2f3772"/><path d="M89.2 239.8L90.6 237.5 89.3 236.1 88.4 238.8Z" fill="#2c3aa4" stroke="#2c3aa4"/><path d="M87.9 149.8L89.2 153.5 88.2 154.5 86.9 151.2Z" fill="#a7aab6" stroke="#a7aab6"/><path d="M82.5 145.6L83.6 147.1 82.7 148.6 81.6 147.3Z" fill="#c4c6cb" stroke="#c4c6cb"/><path d="M85 208.5L84.4 200.3 83.2 200.4 83.7 208.2Z" fill="#3c4369" stroke="#3c4369"/><path d="M78.5 165.7L78.5 159.6 77.6 161.2 77.6 167Z" fill="#787975" stroke="#787975"/><path d="M87.6 241.2L90.5 241.6 89.9 240.8 87 240.4Z" fill="#3148d5" stroke="#3148d5"/><path d="M77.8 151.4L78 147.8 77.8 150 76.9 152.9Z" fill="#a3a397" stroke="#a3a397"/><path d="M90.2 152.3L91.5 155.3 90.5 156.3 89.2 153.5Z" fill="#9c9fad" stroke="#9c9fad"/><path d="M81.3 185L80.6 176.9 79.6 178.1 80.1 185.7Z" fill="#555865" stroke="#555865"/><path d="M95.3 155.1L99.5 161.5 98 162.5 93.8 156.5Z" fill="#696d71" stroke="#696d71"/><path d="M90.6 237.5L90.7 232.6 89.2 231.3 89.3 236.1Z" fill="#273183" stroke="#273183"/><path d="M87 216.9L86.3 208.8 85 208.5 85.7 216.2Z" fill="#343c6c" stroke="#343c6c"/><path d="M92.5 154.1L93.7 156.6 92.7 157.6 91.5 155.3Z" fill="#9094a3" stroke="#9094a3"/><path d="M81.5 144.7L82.5 145.6 81.6 147.3 80.6 146.5Z" fill="#cacbcd" stroke="#cacbcd"/><path d="M78 147.8L79.7 146.3 78.9 148.1 77.8 150Z" fill="#b3b3a7" stroke="#b3b3a7"/><path d="M89.9 240.8L91.8 238.7 90.6 237.5 89.2 239.8Z" fill="#2c3aa4" stroke="#2c3aa4"/><path d="M113.6 164.9L117.4 166.4 115.8 166.8 112 165.3Z" fill="#696d71" stroke="#696d71"/><path d="M88.1 242L91 242.3 90.5 241.6 87.6 241.2Z" fill="#3148d5" stroke="#3148d5"/><path d="M84.5 145.2L85.7 147.7 84.7 149.2 83.6 147.1Z" fill="#b5b7c1" stroke="#b5b7c1"/><path d="M79.4 170.9L79.4 164 78.5 165.7 78.5 172.2Z" fill="#6a6b6b" stroke="#6a6b6b"/><path d="M90.7 232.6L89.6 225.7 88.1 224.5 89.2 231.3Z" fill="#2a3379" stroke="#2a3379"/><path d="M119 166L122.7 166.7 121.1 167.1 117.4 166.4Z" fill="#6f747d" stroke="#6f747d"/><path d="M78.5 159.6L78.5 154.1 77.6 155.9 77.6 161.2Z" fill="#85857e" stroke="#85857e"/><path d="M81 246.8L84.3 245.6 78.4 240.4 75.2 241.7Z" fill="#fcfbf3" stroke="#fcfbf3"/><path d="M82.8 192.4L82.5 184.2 81.3 185 81.7 192.9Z" fill="#4c5065" stroke="#4c5065"/><path d="M86.5 244.7L87.6 244.2 85.2 241.5 83.9 242Z" fill="#3250ee" stroke="#3250ee"/><path d="M80.6 145.3L81.5 144.7 80.6 146.5 79.7 147.1Z" fill="#cecfce" stroke="#cecfce"/><path d="M108.1 162.6L112 165.3 110.4 165.7 106.5 163.1Z" fill="#696d71" stroke="#696d71"/><path d="M79.7 146.3L80.6 145.3 79.7 147.1 78.9 148.1Z" fill="#c6c6bc" stroke="#c6c6bc"/><path d="M87.6 244.2L88.7 243.8 88.7 242.9 85.2 241.5Z" fill="#3250ee" stroke="#3250ee"/><path d="M85.4 245.1L86.5 244.7 83.9 242 82.6 242.5Z" fill="#3250ee" stroke="#3250ee"/><path d="M89.6 225.7L88.4 217.6 87 216.9 88.1 224.5Z" fill="#2f3772" stroke="#2f3772"/><path d="M86.6 145.7L87.9 149.8 86.9 151.2 85.7 147.7Z" fill="#a7aab7" stroke="#a7aab7"/><path d="M84.4 200.3L83.9 191.8 82.8 192.4 83.2 200.4Z" fill="#444966" stroke="#444966"/><path d="M102.6 159.6L106.5 163.1 105 163.7 101 160.5Z" fill="#696d71" stroke="#696d71"/><path d="M88.7 242.9L91.5 243.1 91 242.3 88.1 242Z" fill="#3148d5" stroke="#3148d5"/><path d="M80.6 176.9L80.3 169.2 79.4 170.9 79.6 178.1Z" fill="#5e5f64" stroke="#5e5f64"/><path d="M88.8 148.3L90.2 152.3 89.2 153.5 87.9 149.8Z" fill="#9c9fad" stroke="#9c9fad"/><path d="M78.5 154.1L78.6 149.4 77.8 151.4 77.6 155.9Z" fill="#929286" stroke="#929286"/><path d="M84.3 245.6L85.4 245.1 82.6 242.5 81.3 243Z" fill="#3250ee" stroke="#3250ee"/><path d="M77.8 248.1L81 246.8 75.2 241.7 72 243Z" fill="#fcfbf3" stroke="#fcfbf3"/><path d="M91.2 150.9L92.5 154.1 91.5 155.3 90.2 152.3Z" fill="#9094a3" stroke="#9094a3"/><path d="M86.3 208.8L85.6 200.1 84.4 200.3 85 208.5Z" fill="#3c4269" stroke="#3c4269"/><path d="M90.5 241.6L92.8 239.8 91.8 238.7 89.9 240.8Z" fill="#2c3aa4" stroke="#2c3aa4"/><path d="M83.3 143.4L84.5 145.2 83.6 147.1 82.5 145.6Z" fill="#babcc2" stroke="#babcc2"/><path d="M91.8 238.7L92 233.8 90.7 232.6 90.6 237.5Z" fill="#273183" stroke="#273183"/><path d="M78.6 149.4L78.8 145.6 78 147.8 77.8 151.4Z" fill="#a3a397" stroke="#a3a397"/><path d="M79.4 164L79.3 157.6 78.5 159.6 78.5 165.7Z" fill="#777774" stroke="#777774"/><path d="M93.4 152.9L94.7 155.6 93.7 156.6 92.5 154.1Z" fill="#858a9a" stroke="#858a9a"/><path d="M89.4 243.8L91.9 243.7 91.5 243.1 88.7 242.9Z" fill="#3148d5" stroke="#3148d5"/><path d="M88.4 217.6L87.5 209.1 86.3 208.8 87 216.9Z" fill="#343c6b" stroke="#343c6b"/><path d="M82.5 184.2L81.6 175.5 80.6 176.9 81.3 185Z" fill="#545663" stroke="#545663"/><path d="M96.8 153.8L101 160.5 99.5 161.5 95.3 155.1Z" fill="#696d71" stroke="#696d71"/><path d="M92 233.8L91.2 226.8 89.6 225.7 90.7 232.6Z" fill="#2a3379" stroke="#2a3379"/><path d="M82.3 142.3L83.3 143.4 82.5 145.6 81.5 144.7Z" fill="#bfc1c4" stroke="#bfc1c4"/><path d="M91 242.3L93.6 240.7 92.8 239.8 90.5 241.6Z" fill="#2c3aa4" stroke="#2c3aa4"/><path d="M78.8 145.6L80.5 144 79.7 146.3 78 147.8Z" fill="#b3b3a7" stroke="#b3b3a7"/><path d="M115.2 164.6L119 166 117.4 166.4 113.6 164.9Z" fill="#696d71" stroke="#696d71"/><path d="M89.3 244.1L92.3 244.4 91.9 243.7 89.4 243.8Z" fill="#3148d5" stroke="#3148d5"/><path d="M85.3 142.8L86.6 145.7 85.7 147.7 84.5 145.2Z" fill="#aaadb7" stroke="#aaadb7"/><path d="M80.3 169.2L80.2 162 79.4 164 79.4 170.9Z" fill="#696969" stroke="#696969"/><path d="M109.7 162.3L113.6 164.9 112 165.3 108.1 162.6Z" fill="#696d71" stroke="#696d71"/><path d="M88.7 243.8L92.7 245 92.3 244.4 89.3 244.1Z" fill="#3148d5" stroke="#3148d5"/><path d="M83.9 191.8L83.5 183.2 82.5 184.2 82.8 192.4Z" fill="#4b4f64" stroke="#4b4f64"/><path d="M79.3 157.6L79.4 151.8 78.5 154.1 78.5 159.6Z" fill="#85857d" stroke="#85857d"/><path d="M91.2 226.8L89.9 218.4 88.4 217.6 89.6 225.7Z" fill="#2f3772" stroke="#2f3772"/><path d="M81.3 142.9L82.3 142.3 81.5 144.7 80.6 145.3Z" fill="#c3c4c6" stroke="#c3c4c6"/><path d="M92.8 239.8L93.3 235 92 233.8 91.8 238.7Z" fill="#273183" stroke="#273183"/><path d="M80.5 144L81.3 142.9 80.6 145.3 79.7 146.3Z" fill="#c6c6bc" stroke="#c6c6bc"/><path d="M87.4 143.6L88.8 148.3 87.9 149.8 86.6 145.7Z" fill="#9c9fad" stroke="#9c9fad"/><path d="M85.6 200.1L84.9 191.1 83.9 191.8 84.4 200.3Z" fill="#434866" stroke="#434866"/><path d="M89.8 146.6L91.2 150.9 90.2 152.3 88.8 148.3Z" fill="#9094a3" stroke="#9094a3"/><path d="M92.1 149.6L93.4 152.9 92.5 154.1 91.2 150.9Z" fill="#858a9a" stroke="#858a9a"/><path d="M91.5 243.1L94.3 241.6 93.6 240.7 91 242.3Z" fill="#2c3aa4" stroke="#2c3aa4"/><path d="M104.1 159L108.1 162.6 106.5 163.1 102.6 159.6Z" fill="#696d71" stroke="#696d71"/><path d="M87.5 209.1L86.7 200 85.6 200.1 86.3 208.8Z" fill="#3c4268" stroke="#3c4268"/><path d="M81.6 175.5L81.2 167.4 80.3 169.2 80.6 176.9Z" fill="#5c5e62" stroke="#5c5e62"/><path d="M94.4 151.8L95.7 154.7 94.7 155.6 93.4 152.9Z" fill="#7b8091" stroke="#7b8091"/><path d="M79.4 151.8L79.4 146.9 78.6 149.4 78.5 154.1Z" fill="#929286" stroke="#929286"/><path d="M84.1 140.7L85.3 142.8 84.5 145.2 83.3 143.4Z" fill="#aeb1b9" stroke="#aeb1b9"/><path d="M89.9 218.4L88.8 209.5 87.5 209.1 88.4 217.6Z" fill="#343c6b" stroke="#343c6b"/><path d="M93.3 235L92.8 228.1 91.2 226.8 92 233.8Z" fill="#2a3379" stroke="#2a3379"/><path d="M91.9 243.7L94.9 242.4 94.3 241.6 91.5 243.1Z" fill="#2c3aa4" stroke="#2c3aa4"/><path d="M79.4 146.9L79.6 142.9 78.8 145.6 78.6 149.4Z" fill="#a3a397" stroke="#a3a397"/><path d="M80.2 162L80.2 155.3 79.3 157.6 79.4 164Z" fill="#767673" stroke="#767673"/><path d="M93.6 240.7L94.6 236.2 93.3 235 92.8 239.8Z" fill="#273183" stroke="#273183"/><path d="M83.5 183.2L82.6 174.1 81.6 175.5 82.5 184.2Z" fill="#535562" stroke="#535562"/><path d="M98.3 152.8L102.6 159.6 101 160.5 96.8 153.8Z" fill="#696d71" stroke="#696d71"/><path d="M83 139.4L84.1 140.7 83.3 143.4 82.3 142.3Z" fill="#b3b5bb" stroke="#b3b5bb"/><path d="M92.8 228.1L91.3 219.4 89.9 218.4 91.2 226.8Z" fill="#2f3772" stroke="#2f3772"/><path d="M92.3 244.4L95.4 243 94.9 242.4 91.9 243.7Z" fill="#2c3aa4" stroke="#2c3aa4"/><path d="M86.1 140.1L87.4 143.6 86.6 145.7 85.3 142.8Z" fill="#9ea1ae" stroke="#9ea1ae"/><path d="M111.3 162.1L115.2 164.6 113.6 164.9 109.7 162.3Z" fill="#696d71" stroke="#696d71"/><path d="M79.6 142.9L81.2 141.1 80.5 144 78.8 145.6Z" fill="#b3b3a7" stroke="#b3b3a7"/><path d="M84.9 191.1L84.6 182.1 83.5 183.2 83.9 191.8Z" fill="#4b4e63" stroke="#4b4e63"/><path d="M90.7 144.9L92.1 149.6 91.2 150.9 89.8 146.6Z" fill="#858a9a" stroke="#858a9a"/><path d="M93.1 148.2L94.4 151.8 93.4 152.9 92.1 149.6Z" fill="#7b8091" stroke="#7b8091"/><path d="M81.2 167.4L81.1 159.8 80.2 162 80.3 169.2Z" fill="#686868" stroke="#686868"/><path d="M88.3 141.3L89.8 146.6 88.8 148.3 87.4 143.6Z" fill="#9094a3" stroke="#9094a3"/><path d="M86.7 200L86 190.6 84.9 191.1 85.6 200.1Z" fill="#434865" stroke="#434865"/><path d="M95.4 150.8L96.7 153.8 95.7 154.7 94.4 151.8Z" fill="#737783" stroke="#737783"/><path d="M82.1 140L83 139.4 82.3 142.3 81.3 142.9Z" fill="#b6b8bc" stroke="#b6b8bc"/><path d="M80.2 155.3L80.2 149.2 79.4 151.8 79.3 157.6Z" fill="#84847c" stroke="#84847c"/><path d="M92.7 245L95.7 243.6 95.4 243 92.3 244.4Z" fill="#2c3aa4" stroke="#2c3aa4"/><path d="M88.8 209.5L87.9 200 86.7 200 87.5 209.1Z" fill="#3c4268" stroke="#3c4268"/><path d="M81.2 141.1L82.1 140 81.3 142.9 80.5 144Z" fill="#c6c6bc" stroke="#c6c6bc"/><path d="M105.7 158.6L109.7 162.3 108.1 162.6 104.1 159Z" fill="#696d71" stroke="#696d71"/><path d="M94.3 241.6L95.8 237.4 94.6 236.2 93.6 240.7Z" fill="#273183" stroke="#273183"/><path d="M94.6 236.2L94.3 229.3 92.8 228.1 93.3 235Z" fill="#2a3379" stroke="#2a3379"/><path d="M91.3 219.4L90.1 210 88.8 209.5 89.9 218.4Z" fill="#343c6b" stroke="#343c6b"/><path d="M82.6 174.1L82.1 165.5 81.2 167.4 81.6 175.5Z" fill="#5b5d61" stroke="#5b5d61"/><path d="M80.2 149.2L80.2 144 79.4 146.9 79.4 151.8Z" fill="#929286" stroke="#929286"/><path d="M84.9 137.7L86.1 140.1 85.3 142.8 84.1 140.7Z" fill="#a2a5af" stroke="#a2a5af"/><path d="M94.3 229.3L92.8 220.4 91.3 219.4 92.8 228.1Z" fill="#2f3772" stroke="#2f3772"/><path d="M81.1 159.8L81 152.7 80.2 155.3 80.2 162Z" fill="#757672" stroke="#757672"/><path d="M94.9 242.4L96.8 238.5 95.8 237.4 94.3 241.6Z" fill="#273183" stroke="#273183"/><path d="M80.2 144L80.3 139.8 79.6 142.9 79.4 146.9Z" fill="#a3a397" stroke="#a3a397"/><path d="M84.6 182.1L83.7 172.7 82.6 174.1 83.5 183.2Z" fill="#535560" stroke="#535560"/><path d="M99.9 152.3L104.1 159 102.6 159.6 98.3 152.8Z" fill="#696d71" stroke="#696d71"/><path d="M96.4 149.9L97.7 153.1 96.7 153.8 95.4 150.8Z" fill="#6f7274" stroke="#6f7274"/><path d="M94 147L95.4 150.8 94.4 151.8 93.1 148.2Z" fill="#737783" stroke="#737783"/><path d="M91.6 143.3L93.1 148.2 92.1 149.6 90.7 144.9Z" fill="#7b8091" stroke="#7b8091"/><path d="M86.9 137.2L88.3 141.3 87.4 143.6 86.1 140.1Z" fill="#9296a4" stroke="#9296a4"/><path d="M86 190.6L85.6 181.1 84.6 182.1 84.9 191.1Z" fill="#4b4f62" stroke="#4b4f62"/><path d="M87.9 200L87.1 190.2 86 190.6 86.7 200Z" fill="#434865" stroke="#434865"/><path d="M95.8 237.4L95.6 230.5 94.3 229.3 94.6 236.2Z" fill="#2a3379" stroke="#2a3379"/><path d="M83.7 136.1L84.9 137.7 84.1 140.7 83 139.4Z" fill="#a5a8b1" stroke="#a5a8b1"/><path d="M89.1 139.1L90.7 144.9 89.8 146.6 88.3 141.3Z" fill="#858a9a" stroke="#858a9a"/><path d="M90.1 210L89.1 200.2 87.9 200 88.8 209.5Z" fill="#3c4268" stroke="#3c4268"/><path d="M80.3 139.8L81.9 137.8 81.2 141.1 79.6 142.9Z" fill="#b3b3a7" stroke="#b3b3a7"/><path d="M107.3 158.4L111.3 162.1 109.7 162.3 105.7 158.6Z" fill="#696d71" stroke="#696d71"/><path d="M82.1 165.5L81.9 157.4 81.1 159.8 81.2 167.4Z" fill="#676767" stroke="#676767"/><path d="M95.4 243L97.7 239.5 96.8 238.5 94.9 242.4Z" fill="#273183" stroke="#273183"/><path d="M92.8 220.4L91.4 210.6 90.1 210 91.3 219.4Z" fill="#343c6b" stroke="#343c6b"/><path d="M82.8 136.7L83.7 136.1 83 139.4 82.1 140Z" fill="#a8abb2" stroke="#a8abb2"/><path d="M81 152.7L80.9 146.3 80.2 149.2 80.2 155.3Z" fill="#84847c" stroke="#84847c"/><path d="M81.9 137.8L82.8 136.7 82.1 140 81.2 141.1Z" fill="#c6c6bc" stroke="#c6c6bc"/><path d="M95.6 230.5L94.2 221.5 92.8 220.4 94.3 229.3Z" fill="#2f3772" stroke="#2f3772"/><path d="M95.7 243.6L98.3 240.2 97.7 239.5 95.4 243Z" fill="#273183" stroke="#273183"/><path d="M83.7 172.7L83 163.5 82.1 165.5 82.6 174.1Z" fill="#5b5c5e" stroke="#5b5c5e"/><path d="M97.3 149.3L98.7 152.6 97.7 153.1 96.4 149.9Z" fill="#6f7167" stroke="#6f7167"/><path d="M94.9 146L96.4 149.9 95.4 150.8 94 147Z" fill="#6f7274" stroke="#6f7274"/><path d="M96.8 238.5L96.8 231.7 95.6 230.5 95.8 237.4Z" fill="#2a3379" stroke="#2a3379"/><path d="M85.6 134.4L86.9 137.2 86.1 140.1 84.9 137.7Z" fill="#9599a5" stroke="#9599a5"/><path d="M80.9 146.3L80.9 140.8 80.2 144 80.2 149.2Z" fill="#929286" stroke="#929286"/><path d="M92.5 141.9L94 147 93.1 148.2 91.6 143.3Z" fill="#737783" stroke="#737783"/><path d="M101.5 152.2L105.7 158.6 104.1 159 99.9 152.3Z" fill="#696d71" stroke="#696d71"/><path d="M85.6 181.1L84.8 171.4 83.7 172.7 84.6 182.1Z" fill="#53555e" stroke="#53555e"/><path d="M91.4 210.6L90.4 200.5 89.1 200.2 90.1 210Z" fill="#3c4268" stroke="#3c4268"/><path d="M81.9 157.4L81.8 149.9 81 152.7 81.1 159.8Z" fill="#747571" stroke="#747571"/><path d="M89.1 200.2L88.3 189.9 87.1 190.2 87.9 200Z" fill="#434865" stroke="#434865"/><path d="M87.1 190.2L86.6 180.2 85.6 181.1 86 190.6Z" fill="#4c4f61" stroke="#4c4f61"/><path d="M90 136.9L91.6 143.3 90.7 144.9 89.1 139.1Z" fill="#7b8091" stroke="#7b8091"/><path d="M94.2 221.5L92.7 211.4 91.4 210.6 92.8 220.4Z" fill="#343c6b" stroke="#343c6b"/><path d="M80.9 140.8L81.1 136.4 80.3 139.8 80.2 144Z" fill="#a3a397" stroke="#a3a397"/><path d="M87.7 134.1L89.1 139.1 88.3 141.3 86.9 137.2Z" fill="#878b9b" stroke="#878b9b"/><path d="M98.3 148.9L99.7 152.3 98.7 152.6 97.3 149.3Z" fill="#70715d" stroke="#70715d"/><path d="M84.4 132.4L85.6 134.4 84.9 137.7 83.7 136.1Z" fill="#989ca6" stroke="#989ca6"/><path d="M97.7 239.5L97.9 232.8 96.8 231.7 96.8 238.5Z" fill="#2a3379" stroke="#2a3379"/><path d="M96.8 231.7L95.6 222.7 94.2 221.5 95.6 230.5Z" fill="#2f3772" stroke="#2f3772"/><path d="M83 163.5L82.7 155 81.9 157.4 82.1 165.5Z" fill="#666664" stroke="#666664"/><path d="M81.1 136.4L82.5 134.2 81.9 137.8 80.3 139.8Z" fill="#b3b3a7" stroke="#b3b3a7"/><path d="M95.9 145.2L97.3 149.3 96.4 149.9 94.9 146Z" fill="#6f7167" stroke="#6f7167"/><path d="M83.4 133L84.4 132.4 83.7 136.1 82.8 136.7Z" fill="#9a9da7" stroke="#9a9da7"/><path d="M81.8 149.9L81.7 143.2 80.9 146.3 81 152.7Z" fill="#83837b" stroke="#83837b"/><path d="M93.4 140.7L94.9 146 94 147 92.5 141.9Z" fill="#6f7274" stroke="#6f7274"/><path d="M82.5 134.2L83.4 133 82.8 136.7 81.9 137.8Z" fill="#c6c6bc" stroke="#c6c6bc"/><path d="M84.8 171.4L83.9 161.6 83 163.5 83.7 172.7Z" fill="#5b5c5b" stroke="#5b5c5b"/><path d="M92.7 211.4L91.6 201 90.4 200.5 91.4 210.6Z" fill="#3c4268" stroke="#3c4268"/><path d="M98.3 240.2L98.8 233.7 97.9 232.8 97.7 239.5Z" fill="#2a3379" stroke="#2a3379"/><path d="M103.2 152.6L107.3 158.4 105.7 158.6 101.5 152.2Z" fill="#696d71" stroke="#696d71"/><path d="M95.6 222.7L94 212.4 92.7 211.4 94.2 221.5Z" fill="#343c6b" stroke="#343c6b"/><path d="M90.4 200.5L89.4 190 88.3 189.9 89.1 200.2Z" fill="#434865" stroke="#434865"/><path d="M99.2 148.7L100.6 152.2 99.7 152.3 98.3 148.9Z" fill="#727256" stroke="#727256"/><path d="M86.3 130.9L87.7 134.1 86.9 137.2 85.6 134.4Z" fill="#898d9c" stroke="#898d9c"/><path d="M88.3 189.9L87.6 179.6 86.6 180.2 87.1 190.2Z" fill="#4c4f60" stroke="#4c4f60"/><path d="M90.8 135L92.5 141.9 91.6 143.3 90 136.9Z" fill="#737883" stroke="#737883"/><path d="M97.9 232.8L97 223.9 95.6 222.7 96.8 231.7Z" fill="#2f3772" stroke="#2f3772"/><path d="M86.6 180.2L85.9 170.2 84.8 171.4 85.6 181.1Z" fill="#54555b" stroke="#54555b"/><path d="M81.7 143.2L81.7 137.4 80.9 140.8 80.9 146.3Z" fill="#919185" stroke="#919185"/><path d="M96.8 144.7L98.3 148.9 97.3 149.3 95.9 145.2Z" fill="#70715d" stroke="#70715d"/><path d="M88.4 131.1L90 136.9 89.1 139.1 87.7 134.1Z" fill="#7c8191" stroke="#7c8191"/><path d="M82.7 155L82.5 147.1 81.8 149.9 81.9 157.4Z" fill="#73736d" stroke="#73736d"/><path d="M81.7 137.4L81.7 132.7 81.1 136.4 80.9 140.8Z" fill="#a3a397" stroke="#a3a397"/><path d="M94.3 139.8L95.9 145.2 94.9 146 93.4 140.7Z" fill="#6f7167" stroke="#6f7167"/><path d="M100.1 148.7L101.6 152.2 100.6 152.2 99.2 148.7Z" fill="#737253" stroke="#737253"/><path d="M94 212.4L92.7 201.8 91.6 201 92.7 211.4Z" fill="#3c4268" stroke="#3c4268"/><path d="M83.9 161.6L83.5 152.7 82.7 155 83 163.5Z" fill="#65655e" stroke="#65655e"/><path d="M85.1 128.6L86.3 130.9 85.6 134.4 84.4 132.4Z" fill="#8c8f9d" stroke="#8c8f9d"/><path d="M97 223.9L95.2 213.5 94 212.4 95.6 222.7Z" fill="#343c6b" stroke="#343c6b"/><path d="M98.8 233.7L98.1 225 97 223.9 97.9 232.8Z" fill="#2f3772" stroke="#2f3772"/><path d="M81.7 132.7L82.6 130 82.5 134.2 81.1 136.4Z" fill="#b2b2a7" stroke="#b2b2a7"/><path d="M91.6 201L90.5 190.2 89.4 190 90.4 200.5Z" fill="#434865" stroke="#434865"/><path d="M97.7 144.5L99.2 148.7 98.3 148.9 96.8 144.7Z" fill="#727256" stroke="#727256"/><path d="M82.5 147.1L82.4 140.1 81.7 143.2 81.8 149.9Z" fill="#818177" stroke="#818177"/><path d="M85.9 170.2L84.8 160 83.9 161.6 84.8 171.4Z" fill="#5b5c56" stroke="#5b5c56"/><path d="M91.7 133.5L93.4 140.7 92.5 141.9 90.8 135Z" fill="#6f7274" stroke="#6f7274"/><path d="M89.4 190L88.6 179.3 87.6 179.6 88.3 189.9Z" fill="#4d4f5f" stroke="#4d4f5f"/><path d="M84.1 129.2L85.1 128.6 84.4 132.4 83.4 133Z" fill="#8d919d" stroke="#8d919d"/><path d="M82.6 130L84.1 129.2 83.4 133 82.5 134.2Z" fill="#c6c6bb" stroke="#c6c6bb"/><path d="M101 149L102.4 152.4 101.6 152.2 100.1 148.7Z" fill="#737253" stroke="#737253"/><path d="M87.6 179.6L87 169.3 85.9 170.2 86.6 180.2Z" fill="#545658" stroke="#545658"/><path d="M87 127.3L88.4 131.1 87.7 134.1 86.3 130.9Z" fill="#7e8392" stroke="#7e8392"/><path d="M95.2 139.3L96.8 144.7 95.9 145.2 94.3 139.8Z" fill="#70715d" stroke="#70715d"/><path d="M98.1 225L96.3 214.5 95.2 213.5 97 223.9Z" fill="#343c6b" stroke="#343c6b"/><path d="M95.2 213.5L93.9 202.7 92.7 201.8 94 212.4Z" fill="#3c4268" stroke="#3c4268"/><path d="M89.2 128.4L90.8 135 90 136.9 88.4 131.1Z" fill="#747883" stroke="#747883"/><path d="M98.6 144.6L100.1 148.7 99.2 148.7 97.7 144.5Z" fill="#737253" stroke="#737253"/><path d="M82.4 140.1L82.4 134 81.7 137.4 81.7 143.2Z" fill="#8f8f80" stroke="#8f8f80"/><path d="M101.7 149.3L103.2 152.6 102.4 152.4 101 149Z" fill="#737253" stroke="#737253"/><path d="M83.5 152.7L83.3 144.5 82.5 147.1 82.7 155Z" fill="#717166" stroke="#717166"/><path d="M92.7 201.8L91.6 190.8 90.5 190.2 91.6 201Z" fill="#434865" stroke="#434865"/><path d="M82.4 134L82.4 129.1 81.7 132.7 81.7 137.4Z" fill="#9f9f91" stroke="#9f9f91"/><path d="M84.8 160L84.4 150.7 83.5 152.7 83.9 161.6Z" fill="#646458" stroke="#646458"/><path d="M92.6 132.3L94.3 139.8 93.4 140.7 91.7 133.5Z" fill="#6f7167" stroke="#6f7167"/><path d="M90.5 190.2L89.6 179.3 88.6 179.3 89.4 190Z" fill="#4d505e" stroke="#4d505e"/><path d="M96.1 139L97.7 144.5 96.8 144.7 95.2 139.3Z" fill="#727256" stroke="#727256"/><path d="M85.7 124.7L87 127.3 86.3 130.9 85.1 128.6Z" fill="#808493" stroke="#808493"/><path d="M96.3 214.5L94.8 203.6 93.9 202.7 95.2 213.5Z" fill="#3c4268" stroke="#3c4268"/><path d="M99.5 144.8L101 149 100.1 148.7 98.6 144.6Z" fill="#737253" stroke="#737253"/><path d="M82.4 129.1L82.6 125.7 82.6 130 81.7 132.7Z" fill="#adad9f" stroke="#adad9f"/><path d="M87 169.3L85.8 158.7 84.8 160 85.9 170.2Z" fill="#5c5c52" stroke="#5c5c52"/><path d="M88.6 179.3L88 168.7 87 169.3 87.6 179.6Z" fill="#555656" stroke="#555656"/><path d="M82.6 125.7L84.7 125.3 84.1 129.2 82.6 130Z" fill="#c0bfb2" stroke="#c0bfb2"/><path d="M83.3 144.5L83.2 137 82.4 140.1 82.5 147.1Z" fill="#7f7e6f" stroke="#7f7e6f"/><path d="M93.9 202.7L92.7 191.6 91.6 190.8 92.7 201.8Z" fill="#434865" stroke="#434865"/><path d="M84.7 125.3L85.7 124.7 85.1 128.6 84.1 129.2Z" fill="#818593" stroke="#818593"/><path d="M90 125.9L91.7 133.5 90.8 135 89.2 128.4Z" fill="#707374" stroke="#707374"/><path d="M100.2 145.2L101.7 149.3 101 149 99.5 144.8Z" fill="#737253" stroke="#737253"/><path d="M87.7 124L89.2 128.4 88.4 131.1 87 127.3Z" fill="#757984" stroke="#757984"/><path d="M97 139.2L98.6 144.6 97.7 144.5 96.1 139Z" fill="#737253" stroke="#737253"/><path d="M93.4 131.5L95.2 139.3 94.3 139.8 92.6 132.3Z" fill="#70715d" stroke="#70715d"/><path d="M91.6 190.8L90.7 179.6 89.6 179.3 90.5 190.2Z" fill="#4d505e" stroke="#4d505e"/><path d="M84.4 150.7L84.1 142 83.3 144.5 83.5 152.7Z" fill="#6f6f5d" stroke="#6f6f5d"/><path d="M83.2 137L83.1 130.7 82.4 134 82.4 140.1Z" fill="#8b8b78" stroke="#8b8b78"/><path d="M94.8 203.6L93.6 192.4 92.7 191.6 93.9 202.7Z" fill="#434865" stroke="#434865"/><path d="M85.8 158.7L85.2 149 84.4 150.7 84.8 160Z" fill="#646351" stroke="#646351"/><path d="M89.6 179.3L89 168.5 88 168.7 88.6 179.3Z" fill="#555654" stroke="#555654"/><path d="M97.8 139.5L99.5 144.8 98.6 144.6 97 139.2Z" fill="#737253" stroke="#737253"/><path d="M88 168.7L86.9 157.9 85.8 158.7 87 169.3Z" fill="#5c5c4e" stroke="#5c5c4e"/><path d="M83.1 130.7L83.1 125.6 82.4 129.1 82.4 134Z" fill="#999886" stroke="#999886"/><path d="M83.1 125.6L83.3 122 82.6 125.7 82.4 129.1Z" fill="#a5a492" stroke="#a5a492"/><path d="M86.4 120.9L87.7 124 87 127.3 85.7 124.7Z" fill="#767a84" stroke="#767a84"/><path d="M94.3 131.2L96.1 139 95.2 139.3 93.4 131.5Z" fill="#727256" stroke="#727256"/><path d="M92.7 191.6L91.7 180.3 90.7 179.6 91.6 190.8Z" fill="#4d505e" stroke="#4d505e"/><path d="M90.8 124L92.6 132.3 91.7 133.5 90 125.9Z" fill="#6f7167" stroke="#6f7167"/><path d="M98.6 140L100.2 145.2 99.5 144.8 97.8 139.5Z" fill="#737253" stroke="#737253"/><path d="M84.1 142L84 134.3 83.2 137 83.3 144.5Z" fill="#7b7b66" stroke="#7b7b66"/><path d="M83.3 122L85.3 121.5 84.7 125.3 82.6 125.7Z" fill="#b4b4a2" stroke="#b4b4a2"/><path d="M88.4 121L90 125.9 89.2 128.4 87.7 124Z" fill="#707375" stroke="#707375"/><path d="M85.3 121.5L86.4 120.9 85.7 124.7 84.7 125.3Z" fill="#777b84" stroke="#777b84"/><path d="M90.7 179.6L90 168.6 89 168.5 89.6 179.3Z" fill="#565754" stroke="#565754"/><path d="M85.2 149L84.9 140 84.1 142 84.4 150.7Z" fill="#6d6d55" stroke="#6d6d55"/><path d="M95.2 131.4L97 139.2 96.1 139 94.3 131.2Z" fill="#737253" stroke="#737253"/><path d="M93.6 192.4L92.6 181 91.7 180.3 92.7 191.6Z" fill="#4d505e" stroke="#4d505e"/><path d="M86.9 157.9L86.1 147.7 85.2 149 85.8 158.7Z" fill="#63624b" stroke="#63624b"/><path d="M89 168.5L88 157.5 86.9 157.9 88 168.7Z" fill="#5c5c4b" stroke="#5c5c4b"/><path d="M84 134.3L83.9 127.7 83.1 130.7 83.2 137Z" fill="#86856d" stroke="#86856d"/><path d="M91.6 122.6L93.4 131.5 92.6 132.3 90.8 124Z" fill="#71715d" stroke="#71715d"/><path d="M96.1 131.9L97.8 139.5 97 139.2 95.2 131.4Z" fill="#737253" stroke="#737253"/><path d="M83.9 127.7L83.8 122.4 83.1 125.6 83.1 130.7Z" fill="#919078" stroke="#919078"/><path d="M87 117.5L88.4 121 87.7 124 86.4 120.9Z" fill="#717475" stroke="#717475"/><path d="M91.7 180.3L91 169.1 90 168.6 90.7 179.6Z" fill="#565754" stroke="#565754"/><path d="M83.8 122.4L84 118.7 83.3 122 83.1 125.6Z" fill="#9b9a82" stroke="#9b9a82"/><path d="M84.9 140L84.8 132 84 134.3 84.1 142Z" fill="#78775c" stroke="#78775c"/><path d="M89.2 118.4L90.8 124 90 125.9 88.4 121Z" fill="#6f7167" stroke="#6f7167"/><path d="M84 118.7L85.9 118.1 85.3 121.5 83.3 122Z" fill="#a7a68e" stroke="#a7a68e"/><path d="M96.8 132.7L98.6 140 97.8 139.5 96.1 131.9Z" fill="#737253" stroke="#737253"/><path d="M90 168.6L89 157.5 88 157.5 89 168.5Z" fill="#5c5c4a" stroke="#5c5c4a"/><path d="M86.1 147.7L85.8 138.5 84.9 140 85.2 149Z" fill="#6c6b4e" stroke="#6c6b4e"/><path d="M88 157.5L87 147 86.1 147.7 86.9 157.9Z" fill="#636247" stroke="#636247"/><path d="M85.9 118.1L87 117.5 86.4 120.9 85.3 121.5Z" fill="#717575" stroke="#717575"/><path d="M92.4 121.8L94.3 131.2 93.4 131.5 91.6 122.6Z" fill="#727256" stroke="#727256"/><path d="M92.6 181L91.8 169.8 91 169.1 91.7 180.3Z" fill="#565754" stroke="#565754"/><path d="M84.8 132L84.6 125.1 83.9 127.7 84 134.3Z" fill="#818062" stroke="#818062"/><path d="M93.2 121.6L95.2 131.4 94.3 131.2 92.4 121.8Z" fill="#737353" stroke="#737353"/><path d="M91 169.1L90.1 158 89 157.5 90 168.6Z" fill="#5c5c4a" stroke="#5c5c4a"/><path d="M87.7 114.6L89.2 118.4 88.4 121 87 117.5Z" fill="#707267" stroke="#707267"/><path d="M89.9 116.5L91.6 122.6 90.8 124 89.2 118.4Z" fill="#71725d" stroke="#71725d"/><path d="M84.6 125.1L84.6 119.6 83.8 122.4 83.9 127.7Z" fill="#8a886b" stroke="#8a886b"/><path d="M85.8 138.5L85.6 130.3 84.8 132 84.9 140Z" fill="#757454" stroke="#757454"/><path d="M84.6 119.6L84.7 115.8 84 118.7 83.8 122.4Z" fill="#908f72" stroke="#908f72"/><path d="M89 157.5L88 146.8 87 147 88 157.5Z" fill="#636246" stroke="#636246"/><path d="M87 147L86.6 137.6 85.8 138.5 86.1 147.7Z" fill="#6b6949" stroke="#6b6949"/><path d="M84.7 115.8L86.6 115.1 85.9 118.1 84 118.7Z" fill="#99987a" stroke="#99987a"/><path d="M94.1 122L96.1 131.9 95.2 131.4 93.2 121.6Z" fill="#737353" stroke="#737353"/><path d="M86.6 115.1L87.7 114.6 87 117.5 85.9 118.1Z" fill="#707268" stroke="#707268"/><path d="M91.8 169.8L91 158.7 90.1 158 91 169.1Z" fill="#5c5c4a" stroke="#5c5c4a"/><path d="M85.6 130.3L85.4 123.2 84.6 125.1 84.8 132Z" fill="#7d7c59" stroke="#7d7c59"/><path d="M90.7 115.3L92.4 121.8 91.6 122.6 89.9 116.5Z" fill="#727256" stroke="#727256"/><path d="M90.1 158L88.9 147.1 88 146.8 89 157.5Z" fill="#636246" stroke="#636246"/><path d="M94.8 122.8L96.8 132.7 96.1 131.9 94.1 122Z" fill="#737353" stroke="#737353"/><path d="M88 146.8L87.5 137.2 86.6 137.6 87 147Z" fill="#6a6947" stroke="#6a6947"/><path d="M88.4 112.4L89.9 116.5 89.2 118.4 87.7 114.6Z" fill="#71725d" stroke="#71725d"/><path d="M86.6 137.6L86.4 129.1 85.6 130.3 85.8 138.5Z" fill="#73724e" stroke="#73724e"/><path d="M85.4 123.2L85.3 117.5 84.6 119.6 84.6 125.1Z" fill="#83825f" stroke="#83825f"/><path d="M85.3 117.5L85.5 113.6 84.7 115.8 84.6 119.6Z" fill="#888664" stroke="#888664"/><path d="M91 158.7L89.6 147.7 88.9 147.1 90.1 158Z" fill="#636246" stroke="#636246"/><path d="M85.5 113.6L87.3 112.8 86.6 115.1 84.7 115.8Z" fill="#8d8c6a" stroke="#8d8c6a"/><path d="M91.5 114.7L93.2 121.6 92.4 121.8 90.7 115.3Z" fill="#737353" stroke="#737353"/><path d="M87.3 112.8L88.4 112.4 87.7 114.6 86.6 115.1Z" fill="#71725d" stroke="#71725d"/><path d="M86.4 129.1L86.2 121.9 85.4 123.2 85.6 130.3Z" fill="#7a7853" stroke="#7a7853"/><path d="M88.9 147.1L88.4 137.4 87.5 137.2 88 146.8Z" fill="#6a6947" stroke="#6a6947"/><path d="M87.5 137.2L87.2 128.6 86.4 129.1 86.6 137.6Z" fill="#72714c" stroke="#72714c"/><path d="M89.2 110.9L90.7 115.3 89.9 116.5 88.4 112.4Z" fill="#737256" stroke="#737256"/><path d="M86.2 121.9L86.2 116.1 85.3 117.5 85.4 123.2Z" fill="#7f7d57" stroke="#7f7d57"/><path d="M92.3 114.8L94.1 122 93.2 121.6 91.5 114.7Z" fill="#737353" stroke="#737353"/><path d="M86.2 116.1L86.2 112.1 85.5 113.6 85.3 117.5Z" fill="#81805a" stroke="#81805a"/><path d="M89.6 147.7L89.1 137.9 88.4 137.4 88.9 147.1Z" fill="#6a6947" stroke="#6a6947"/><path d="M86.2 112.1L88 111.2 87.3 112.8 85.5 113.6Z" fill="#85845e" stroke="#85845e"/><path d="M88 111.2L89.2 110.9 88.4 112.4 87.3 112.8Z" fill="#737356" stroke="#737356"/><path d="M87.2 128.6L87.1 121.3 86.2 121.9 86.4 129.1Z" fill="#797750" stroke="#797750"/><path d="M93 115.3L94.8 122.8 94.1 122 92.3 114.8Z" fill="#737353" stroke="#737353"/><path d="M88.4 137.4L88.1 128.7 87.2 128.6 87.5 137.2Z" fill="#72714c" stroke="#72714c"/><path d="M89.9 110.1L91.5 114.7 90.7 115.3 89.2 110.9Z" fill="#737354" stroke="#737354"/><path d="M87.1 121.3L87 115.4 86.2 116.1 86.2 121.9Z" fill="#7d7b54" stroke="#7d7b54"/><path d="M87 115.4L87 111.3 86.2 112.1 86.2 116.1Z" fill="#7f7d56" stroke="#7f7d56"/><path d="M89.1 137.9L88.8 129.2 88.1 128.7 88.4 137.4Z" fill="#72714c" stroke="#72714c"/><path d="M87 111.3L88.3 110.1 88 111.2 86.2 112.1Z" fill="#828059" stroke="#828059"/><path d="M88.1 128.7L87.9 121.3 87.1 121.3 87.2 128.6Z" fill="#797750" stroke="#797750"/><path d="M88.3 110.1L89.9 110.1 89.2 110.9 88 111.2Z" fill="#737354" stroke="#737354"/><path d="M90.7 110.1L92.3 114.8 91.5 114.7 89.9 110.1Z" fill="#737354" stroke="#737354"/><path d="M87.9 121.3L87.8 115.4 87 115.4 87.1 121.3Z" fill="#7d7b54" stroke="#7d7b54"/><path d="M87.8 111.2L88.4 109.4 88.3 110.1 87 111.3Z" fill="#828059" stroke="#828059"/><path d="M88.8 129.2L88.6 121.7 87.9 121.3 88.1 128.7Z" fill="#797750" stroke="#797750"/><path d="M87.8 115.4L87.8 111.2 87 111.3 87 115.4Z" fill="#7f7d56" stroke="#7f7d56"/><path d="M88.4 109.4L90.7 110.1 89.9 110.1 88.3 110.1Z" fill="#737354" stroke="#737354"/><path d="M91.4 110.5L93 115.3 92.3 114.8 90.7 110.1Z" fill="#737354" stroke="#737354"/><path d="M88.5 111.6L88.7 109.6 88.4 109.4 87.8 111.2Z" fill="#828059" stroke="#828059"/><path d="M88.7 109.6L91.4 110.5 90.7 110.1 88.4 109.4Z" fill="#737354" stroke="#737354"/><path d="M88.6 121.7L88.5 115.8 87.8 115.4 87.9 121.3Z" fill="#7d7b54" stroke="#7d7b54"/><path d="M88.5 115.8L88.5 111.6 87.8 111.2 87.8 115.4Z" fill="#7f7d56" stroke="#7f7d56"/></g><path d="M443.2 171.4L443.9 171.1 444.7 170.8 445.4 170.5M423.6 168.1L424.4 167.8 425.1 167.4 425.9 167.1 426.6 166.8 427.4 166.4 428.1 166.1 428.9 165.8 429.6 165.5 430.4 165.2 431.1 165M402.9 165.4L403.7 165.1 404.4 164.7 405.2 164.4 405.9 164.1 406.7 163.7 407.5 163.4 408.2 163.1 409 162.7 409.7 162.4 410.5 162.1 411.2 161.8 412 161.5 412.7 161.1 413.5 160.8 414.2 160.5 415 160.2 415.7 159.9 416.5 159.6 417.2 159.4M381.8 163.2L382.5 162.8 383.3 162.4 384.1 162.1 384.8 161.7 385.6 161.3 386.4 161 387.1 160.6 387.9 160.3 388.6 160 389.4 159.6 390.2 159.3 390.9 159 391.7 158.6 392.4 158.3 393.2 158 393.9 157.7 394.7 157.4 395.4 157 396.2 156.7 397 156.4 397.7 156.1 398.4 155.8 399.2 155.5 399.9 155.2 400.7 154.9 401.4 154.6 402.2 154.3 402.9 154 403.7 153.8M360.2 161.3L361 160.9 361.7 160.5 362.5 160.1 363.3 159.7 364.1 159.4 364.8 159 365.6 158.6 366.4 158.2 367.1 157.9 367.9 157.5 368.7 157.2 369.4 156.8 370.2 156.5 370.9 156.1 371.7 155.8 372.5 155.4 373.2 155.1 374 154.8 374.7 154.4 375.5 154.1 376.2 153.8 377 153.5 377.8 153.2 378.5 152.8 379.3 152.5 380 152.2 380.8 151.9 381.5 151.6 382.3 151.3 383 151 383.8 150.7 384.5 150.4 385.3 150.1 386 149.8 386.7 149.5 387.5 149.2 388.2 148.9 389 148.7 389.7 148.4 390.4 148.1M336.6 160.5L337.4 160.1 338.2 159.7 338.9 159.3 339.7 158.9 340.5 158.5 341.3 158.1 342 157.7 342.8 157.3 343.6 156.9 344.4 156.5 345.1 156.1 345.9 155.8 346.7 155.4 347.4 155 348.2 154.6 349 154.3 349.8 153.9 350.5 153.5 351.3 153.2 352 152.8 352.8 152.5 353.6 152.1 354.3 151.8 355.1 151.5 355.9 151.1 356.6 150.8 357.4 150.5 358.1 150.1 358.9 149.8 359.6 149.5 360.4 149.2 361.2 148.9 361.9 148.6 362.7 148.2 363.4 147.9 364.2 147.6 364.9 147.3 365.7 147 366.4 146.7 367.2 146.4 367.9 146.1 368.7 145.8 369.4 145.5 370.1 145.3 370.9 145 371.6 144.7 372.4 144.4 373.1 144.1 373.9 143.8 374.6 143.5 375.3 143.2 376.1 143 376.8 142.7 377.6 142.4M309.4 161.2L310.2 160.8 310.9 160.4 311.7 160 312.5 159.6 313.3 159.2 314.1 158.8 314.9 158.4 315.7 158 316.4 157.6 317.2 157.2 318 156.8 318.8 156.4 319.6 156.1 320.3 155.7 321.1 155.3 321.9 154.9 322.7 154.6 323.4 154.2 324.2 153.8 325 153.4 325.8 153.1 326.5 152.7 327.3 152.3 328.1 152 328.9 151.6 329.6 151.2 330.4 150.9 331.2 150.5 331.9 150.1 332.7 149.8 333.5 149.4 334.2 149.1 335 148.7 335.8 148.4 336.5 148 337.3 147.7 338.1 147.4 338.8 147 339.6 146.7 340.3 146.4 341.1 146 341.9 145.7 342.6 145.4 343.4 145.1 344.1 144.8 344.9 144.5 345.6 144.2 346.4 143.8 347.1 143.5 347.9 143.2 348.6 142.9 349.4 142.6 350.1 142.3 350.9 142 351.6 141.8 352.4 141.5 353.1 141.2 353.9 140.9 354.6 140.6 355.4 140.3 356.1 140 356.9 139.7 357.6 139.5 358.3 139.2 359.1 138.9 359.8 138.6 360.6 138.3 361.3 138.1 362 137.8 362.8 137.5 363.5 137.3 364.2 137 365 136.7M278.3 162.5L279.1 162.1 279.9 161.8 280.7 161.5 281.5 161.1 282.3 160.8 283.1 160.5 283.9 160.1 284.7 159.8 285.5 159.5 286.3 159.1 287.1 158.8 287.9 158.4 288.7 158 289.5 157.7 290.3 157.3 291.1 157 291.8 156.6 292.6 156.2 293.4 155.9 294.2 155.5 295 155.1 295.8 154.7 296.6 154.4 297.4 154 298.1 153.6 298.9 153.3 299.7 152.9 300.5 152.5 301.3 152.1 302 151.8 302.8 151.4 303.6 151 304.4 150.7 305.2 150.3 305.9 150 306.7 149.6 307.5 149.2 308.3 148.9 309 148.5 309.8 148.2 310.6 147.9 311.4 147.5 312.1 147.2 312.9 146.8 313.7 146.5 314.4 146.1 315.2 145.8 316 145.5 316.7 145.1 317.5 144.8 318.3 144.4 319 144.1 319.8 143.8 320.6 143.4 321.3 143.1 322.1 142.8 322.9 142.4 323.6 142.1 324.4 141.8 325.1 141.5 325.9 141.2 326.6 140.9 327.4 140.6 328.2 140.2 328.9 139.9 329.7 139.6 330.4 139.3 331.2 139 331.9 138.7 332.7 138.4 333.4 138.2 334.2 137.9 334.9 137.6 335.7 137.3 336.4 137 337.2 136.7 337.9 136.4 338.7 136.1 339.4 135.9 340.2 135.6 340.9 135.3 341.6 135 342.4 134.7 343.1 134.5 343.9 134.2 344.6 133.9 345.3 133.7 346.1 133.4 346.8 133.1 347.6 132.8 348.3 132.6 349 132.3 349.8 132 350.5 131.8 351.2 131.5 352 131.2 352.7 131M243.3 164.3L244.1 163.9 244.9 163.6 245.7 163.3 246.5 163 247.3 162.7 248.2 162.3 249 162 249.8 161.7 250.6 161.4 251.4 161 252.2 160.7 253 160.4 253.8 160.1 254.7 159.7 255.5 159.4 256.3 159.1 257.1 158.8 257.9 158.5 258.7 158.1 259.5 157.8 260.3 157.5 261.1 157.2 261.9 156.8 262.7 156.5 263.5 156.2 264.3 155.9 265.1 155.6 265.9 155.2 266.7 154.9 267.5 154.6 268.3 154.3 269.1 154 269.9 153.6 270.7 153.3 271.5 153 272.2 152.7 273 152.4 273.8 152 274.6 151.7 275.4 151.4 276.2 151 277 150.7 277.8 150.4 278.6 150 279.3 149.7 280.1 149.3 280.9 149 281.7 148.7 282.5 148.3 283.3 148 284 147.6 284.8 147.3 285.6 146.9 286.4 146.6 287.2 146.2 287.9 145.9 288.7 145.5 289.5 145.2 290.3 144.9 291.1 144.5 291.8 144.2 292.6 143.8 293.4 143.5 294.2 143.2 294.9 142.8 295.7 142.5 296.5 142.2 297.2 141.9 298 141.5 298.8 141.2 299.5 140.9 300.3 140.6 301.1 140.3 301.8 139.9 302.6 139.6 303.4 139.3 304.1 139 304.9 138.7 305.7 138.4 306.4 138 307.2 137.7 307.9 137.4 308.7 137.1 309.5 136.8 310.2 136.5 311 136.2 311.7 135.9 312.5 135.6 313.2 135.3 314 135 314.8 134.7 315.5 134.4 316.3 134.1 317 133.8 317.8 133.5 318.5 133.3 319.3 133 320 132.7 320.8 132.4 321.5 132.1 322.3 131.8 323 131.6 323.7 131.3 324.5 131 325.2 130.7 326 130.5 326.7 130.2 327.5 129.9 328.2 129.7 328.9 129.4 329.7 129.1 330.4 128.9 331.2 128.6 331.9 128.3 332.6 128.1 333.4 127.8 334.1 127.5 334.8 127.3 335.6 127 336.3 126.8 337 126.5 337.8 126.2 338.5 126 339.2 125.7 340 125.5 340.7 125.2M201.3 167.3L202.1 167.2 203 167.1 203.8 166.9 204.7 166.8 205.5 166.6 206.4 166.5 207.2 165.6 208 165 208.8 164.8 209.7 164.5 210.5 164.2 211.4 163.9 212.2 163.7 213 163.4 213.9 163.1 214.7 162.8 215.5 162.5 216.4 162.2 217.2 161.9 218 161.7 218.8 161.4 219.7 161.1 220.5 160.8 221.3 160.5 222.1 160.2 223 159.9 223.8 159.6 224.6 159.3 225.4 159 226.3 158.7 227.1 158.4 227.9 158.1 228.7 157.8 229.5 157.5 230.3 157.2 231.2 156.9 232 156.6 232.8 156.3 233.6 156 234.4 155.7 235.2 155.3 236 155 236.9 154.7 237.7 154.4 238.5 154.1 239.3 153.8 240.1 153.5 240.9 153.2 241.7 152.8 242.5 152.5 243.3 152.2 244.1 151.9 244.9 151.6 245.7 151.3 246.5 151 247.3 150.7 248.1 150.3 248.9 150 249.7 149.7 250.5 149.4 251.3 149.1 252.1 148.8 252.9 148.5 253.7 148.2 254.5 147.9 255.3 147.6 256.1 147.2 256.9 146.9 257.7 146.6 258.5 146.3 259.2 146 260 145.7 260.8 145.4 261.6 145.1 262.4 144.8 263.2 144.5 264 144.1 264.8 143.8 265.5 143.5 266.3 143.2 267.1 142.9 267.9 142.6 268.7 142.2 269.5 141.9 270.2 141.6 271 141.3 271.8 140.9 272.6 140.6 273.3 140.3 274.1 140 274.9 139.6 275.7 139.3 276.5 139 277.2 138.7 278 138.4 278.8 138 279.5 137.7 280.3 137.4 281.1 137.1 281.9 136.8 282.6 136.5 283.4 136.2 284.2 135.9 284.9 135.5 285.7 135.2 286.5 134.9 287.2 134.6 288 134.3 288.8 134 289.5 133.7 290.3 133.4 291 133.1 291.8 132.8 292.6 132.6 293.3 132.3 294.1 132 294.8 131.7 295.6 131.4 296.4 131.1 297.1 130.8 297.9 130.5 298.6 130.2 299.4 129.9 300.1 129.6 300.9 129.4 301.6 129.1 302.4 128.8 303.1 128.5 303.9 128.2 304.6 128 305.4 127.7 306.1 127.4 306.9 127.2 307.6 126.9 308.4 126.6 309.1 126.3 309.9 126.1 310.6 125.8 311.3 125.5 312.1 125.3 312.8 125 313.6 124.8 314.3 124.5 315 124.2 315.8 124 316.5 123.7 317.3 123.5 318 123.2 318.7 122.9 319.5 122.7 320.2 122.4 320.9 122.2 321.7 121.9 322.4 121.7 323.1 121.4 323.9 121.2 324.6 120.9 325.3 120.7 326 120.4 326.8 120.2 327.5 119.9 328.2 119.7 329 119.4M93.7 156.6L94.8 158.6 95.9 160.2 97 161.6 98 162.7 99.1 163.6 100.1 164.2 101.1 164.8 102.1 165.3 103.1 165.8 104.1 166.3 105.1 166.8 106.1 167.2 107.1 167.6 108 167.9 109 168.1 110 168.3 110.9 168.4 111.9 168.6 112.8 168.7 113.8 168.8 114.7 168.8 115.7 168.8 116.6 168.8 117.6 168.8 118.5 168.8 119.4 168.7 120.4 168.7 121.3 168.7M124.1 168.5L125 168.5 125.9 168.4M136 167.6L137 167.5 137.9 167.5 138.8 167.4 139.7 167.3 140.6 167.2 141.5 167.1 142.4 167 143.3 166.9 144.2 166.8 145.1 166.7 146 166.7 146.9 166.6 147.8 166.5 148.7 166.4 149.6 166.3 150.5 166.3 151.4 166.2 152.3 166.1 153.2 166 154 165.9 154.9 165.8 155.8 165.7 156.7 165.6 157.6 165.5 158.5 165.4 159.4 165.3 160.2 165.2 161.1 165 162 164.9 162.9 164.8 163.7 164.7 164.6 164.6 165.5 164.4 166.4 164.3 167.2 164.2 168.1 164.1 169 163.9 169.9 163.8 170.7 163.7 171.6 163.6 172.5 163.4 173.3 163.3 174.2 163.2 175 163 175.9 162.9 176.8 162.7 177.6 162.6 178.5 162.4 179.3 162.3 180.2 162.1 181.1 162 181.9 161.8 182.8 161.6 183.6 161.4 184.5 161.3 185.3 161.1 186.2 160.9 187 160.7 187.9 160.6 188.7 160.4 189.5 160.2 190.4 160 191.2 159.8 192.1 159.6 192.9 159.4 193.8 159.2 194.6 159 195.4 158.7 196.3 158.1 197.1 157.7 197.9 157.4 198.8 157.1 199.6 156.8 200.4 156.5 201.2 156.2 202.1 155.9 202.9 155.7 203.7 155.4 204.6 155.1 205.4 154.8 206.2 154.5 207 154.2 207.9 153.9 208.7 153.6 209.5 153.3 210.3 153 211.1 152.7 212 152.4 212.8 152.1 213.6 151.8 214.4 151.5 215.2 151.2 216.1 150.9 216.9 150.6 217.7 150.3 218.5 150 219.3 149.7 220.1 149.4 220.9 149.1 221.7 148.8 222.6 148.5 223.4 148.2 224.2 147.9 225 147.6 225.8 147.3 226.6 147 227.4 146.7 228.2 146.4 229 146.1 229.8 145.8 230.6 145.5 231.4 145.2 232.2 144.9 233 144.6 233.8 144.3 234.6 144 235.4 143.7 236.2 143.4 237 143.1 237.8 142.8 238.6 142.5 239.4 142.2 240.2 141.9 241 141.6 241.8 141.3 242.6 141 243.4 140.7 244.1 140.4 244.9 140.1 245.7 139.8 246.5 139.5 247.3 139.2 248.1 138.9 248.9 138.6 249.7 138.3 250.4 138 251.2 137.7 252 137.4 252.8 137.1 253.6 136.8 254.3 136.5 255.1 136.2 255.9 135.9 256.7 135.6 257.5 135.3 258.2 135 259 134.7 259.8 134.4 260.6 134 261.3 133.7 262.1 133.4 262.9 133.1 263.7 132.8 264.4 132.5 265.2 132.2 266 131.9 266.7 131.6 267.5 131.3 268.3 131 269.1 130.7 269.8 130.4 270.6 130.1 271.4 129.8 272.1 129.5 272.9 129.3 273.6 129 274.4 128.7 275.2 128.4 275.9 128.1 276.7 127.8 277.5 127.6 278.2 127.3 279 127 279.7 126.7 280.5 126.4 281.2 126.2 282 125.9 282.8 125.6 283.5 125.3 284.3 125 285 124.8 285.8 124.5 286.5 124.2 287.3 123.9 288 123.7 288.8 123.4 289.5 123.1 290.3 122.9 291 122.6 291.8 122.3 292.5 122.1 293.3 121.8 294 121.6 294.7 121.3 295.5 121 296.2 120.8 297 120.5 297.7 120.3 298.5 120 299.2 119.8 299.9 119.5 300.7 119.2 301.4 119 302.2 118.7 302.9 118.5 303.6 118.2 304.4 118 305.1 117.7 305.8 117.5 306.6 117.2 307.3 117 308 116.7 308.8 116.5 309.5 116.3 310.2 116 311 115.8 311.7 115.5 312.4 115.3 313.1 115 313.9 114.8 314.6 114.5 315.3 114.3 316 114.1 316.8 113.8 317.5 113.6M92.6 166.9L93.6 167.1 94.6 167.4 95.5 167.6 96.5 167.7 97.4 167.9M120.6 166.3L121.5 166.1 122.4 166 123.3 165.8 124.2 165.6 125.1 165.5 126 165.3 126.9 165.1 127.8 165 128.7 164.8 129.6 164.6 130.5 164.4 131.4 164.2 132.3 164.1 133.1 163.9 134 163.7 134.9 163.6 135.8 163.4 136.7 163.2 137.6 163.1 138.5 163 139.4 162.8 140.2 162.6 141.1 162.5 142 162.3 142.9 162.1 143.8 162 144.6 161.8 145.5 161.6 146.4 161.4 147.3 161.2 148.1 161 149 160.8 149.9 160.6 150.8 160.4 151.6 160.2 152.5 160 153.4 159.8 154.2 159.6 155.1 159.4 156 159.2 156.8 159 157.7 158.8 158.5 158.6 159.4 158.4 160.3 158.2 161.1 158 162 157.8 162.8 157.5 163.7 157.3 164.5 157.1 165.4 156.9 166.2 156.6 167.1 156.4 167.9 156.2 168.8 156 169.6 155.7 170.5 155.5 171.3 155.3 172.2 155 173 154.8 173.9 154.5 174.7 154.3 175.6 154 176.4 153.8 177.2 153.5 178.1 153.3 178.9 153.1 179.8 152.8 180.6 152.5 181.4 152.3 182.3 152 183.1 151.8 183.9 151.5 184.8 151.2 185.6 150.8 186.4 150.4 187.2 150.1 188.1 149.9 188.9 149.6 189.7 149.3 190.6 149 191.4 148.7 192.2 148.4 193 148.1 193.8 147.8 194.7 147.5 195.5 147.2 196.3 146.9 197.1 146.6 197.9 146.3 198.8 146 199.6 145.7 200.4 145.4 201.2 145.1 202 144.8 202.8 144.5 203.7 144.2 204.5 144 205.3 143.7 206.1 143.4 206.9 143.1 207.7 142.8 208.5 142.5 209.3 142.2 210.1 141.9 210.9 141.6 211.7 141.3 212.6 141 213.4 140.7 214.2 140.4 215 140.1 215.8 139.8 216.6 139.5 217.4 139.2 218.2 138.9 219 138.6 219.8 138.3 220.6 138 221.4 137.8 222.2 137.5 223 137.2 223.8 136.9 224.5 136.6 225.3 136.3 226.1 136 226.9 135.7 227.7 135.4 228.5 135.1 229.3 134.8 230.1 134.5 230.9 134.2 231.7 134 232.4 133.7 233.2 133.4 234 133.1 234.8 132.8 235.6 132.5 236.4 132.2 237.2 131.9 237.9 131.6 238.7 131.3 239.5 131.1 240.3 130.8 241.1 130.5 241.8 130.2 242.6 129.9 243.4 129.6 244.2 129.3 244.9 129 245.7 128.7 246.5 128.4 247.3 128.2 248 127.9 248.8 127.6 249.6 127.3 250.4 127 251.1 126.7 251.9 126.4 252.7 126.1 253.4 125.8 254.2 125.5 255 125.3 255.7 125 256.5 124.7 257.3 124.4 258 124.1 258.8 123.8 259.6 123.6 260.3 123.3 261.1 123 261.8 122.7 262.6 122.5 263.4 122.2 264.1 121.9 264.9 121.6 265.6 121.4 266.4 121.1 267.2 120.8 267.9 120.6 268.7 120.3 269.4 120 270.2 119.8 270.9 119.5 271.7 119.3 272.4 119 273.2 118.7 273.9 118.5 274.7 118.2 275.4 117.9 276.2 117.7 276.9 117.4 277.7 117.2 278.4 116.9 279.2 116.7 279.9 116.4 280.6 116.1 281.4 115.9 282.1 115.6 282.9 115.4 283.6 115.2 284.4 114.9 285.1 114.7 285.8 114.4 286.6 114.2 287.3 113.9 288.1 113.7 288.8 113.4 289.5 113.2 290.3 112.9 291 112.7 291.7 112.5 292.5 112.2 293.2 112 293.9 111.7 294.7 111.5 295.4 111.3 296.1 111 296.8 110.8 297.6 110.5 298.3 110.3 299 110.1 299.8 109.8 300.5 109.6 301.2 109.4 301.9 109.1 302.7 108.9 303.4 108.7 304.1 108.4 304.8 108.2 305.5 108 306.3 107.7M111.6 162.3L112.5 162.1 113.4 161.9 114.3 161.7 115.2 161.5 116.1 161.2 117 161 117.9 160.8 118.8 160.6 119.6 160.3 120.5 160.1 121.4 159.9 122.3 159.7 123.2 159.4 124.1 159.2 124.9 159 125.8 158.8 126.7 158.6 127.6 158.3 128.4 158.1 129.3 157.9 130.2 157.7 131.1 157.5 131.9 157.3 132.8 157 133.7 156.8 134.6 156.6 135.4 156.4 136.3 156.1 137.1 155.9 138 155.6 138.9 155.4 139.7 155.2 140.6 154.9 141.5 154.7 142.3 154.4 143.2 154.2 144 153.9 144.9 153.7 145.8 153.4 146.6 153.1 147.5 152.9 148.3 152.6 149.2 152.4 150 152.1 150.9 151.8 151.7 151.6 152.6 151.3 153.4 151 154.3 150.7 155.1 150.5 155.9 150.2 156.8 149.9 157.6 149.6 158.5 149.4 159.3 149.1 160.2 148.8 161 148.5 161.8 148.2 162.7 148 163.5 147.7 164.4 147.4 165.2 147.1 166 146.8 166.9 146.5 167.7 146.3 168.5 146 169.4 145.7 170.2 145.4 171 145.1 171.8 144.8 172.7 144.5 173.5 144.2 174.3 144 175.1 143.6 176 143.3 176.8 143 177.6 142.7 178.4 142.4 179.3 142.1 180.1 141.8 180.9 141.5 181.7 141.3 182.5 141 183.4 140.7 184.2 140.4 185 140.1 185.8 139.8 186.6 139.5 187.4 139.2 188.3 138.9 189.1 138.6 189.9 138.3 190.7 138 191.5 137.7 192.3 137.4 193.1 137.2 193.9 136.9 194.7 136.6 195.5 136.3 196.4 136 197.2 135.7 198 135.4 198.8 135.1 199.6 134.8 200.4 134.5 201.2 134.3 202 134 202.8 133.7 203.6 133.4 204.4 133.1 205.2 132.8 206 132.5 206.8 132.2 207.6 131.9 208.4 131.7 209.2 131.4 210 131.1 210.7 130.8 211.5 130.5 212.3 130.2 213.1 129.9 213.9 129.7 214.7 129.4 215.5 129.1 216.3 128.8 217.1 128.5 217.9 128.2 218.6 127.9 219.4 127.7 220.2 127.4 221 127.1 221.8 126.8 222.6 126.5 223.3 126.2 224.1 126 224.9 125.7 225.7 125.4 226.5 125.1 227.2 124.8 228 124.6 228.8 124.3 229.6 124 230.3 123.7 231.1 123.4 231.9 123.2 232.7 122.9 233.4 122.6 234.2 122.3 235 122 235.8 121.8 236.5 121.5 237.3 121.2 238.1 120.9 238.8 120.6 239.6 120.4 240.4 120.1 241.1 119.8 241.9 119.5 242.7 119.2 243.4 119 244.2 118.7 245 118.4 245.7 118.1 246.5 117.9 247.2 117.6 248 117.3 248.8 117.1 249.5 116.8 250.3 116.5 251 116.3 251.8 116 252.6 115.7 253.3 115.5 254.1 115.2 254.8 115 255.6 114.7 256.3 114.5 257.1 114.2 257.8 113.9 258.6 113.7 259.3 113.4 260.1 113.2 260.8 112.9 261.6 112.7 262.3 112.4 263.1 112.2 263.8 111.9 264.6 111.7 265.3 111.4 266.1 111.2 266.8 110.9 267.5 110.7 268.3 110.4 269 110.2 269.8 110 270.5 109.7 271.2 109.5 272 109.2 272.7 109 273.5 108.8 274.2 108.5 274.9 108.3 275.7 108 276.4 107.8 277.1 107.6 277.9 107.3 278.6 107.1 279.3 106.9 280.1 106.6 280.8 106.4 281.5 106.2 282.3 105.9 283 105.7 283.7 105.5 284.4 105.2 285.2 105 285.9 104.8 286.6 104.5 287.4 104.3 288.1 104.1 288.8 103.9 289.5 103.6 290.2 103.4 291 103.2 291.7 102.9 292.4 102.7 293.1 102.5 293.8 102.3 294.6 102 295.3 101.8M64 137.6L65.1 138.7M105.4 155.5L106.3 155.3 107.2 155.1 108.1 154.9 109 154.6 109.8 154.4 110.7 154.2 111.6 153.9 112.5 153.7 113.3 153.4 114.2 153.2 115.1 152.9 116 152.7 116.8 152.5 117.7 152.2 118.6 152 119.4 151.7 120.3 151.5 121.2 151.2 122 150.9 122.9 150.7 123.8 150.4 124.6 150.2 125.5 149.9 126.3 149.6 127.2 149.3 128 149.1 128.9 148.8 129.8 148.5 130.6 148.3 131.5 148 132.3 147.7 133.2 147.4 134 147.2 134.9 146.9 135.7 146.6 136.6 146.3 137.4 146 138.3 145.7 139.1 145.5 140 145.2 140.8 144.9 141.6 144.6 142.5 144.3 143.3 144 144.2 143.7 145 143.5 145.8 143.2 146.7 142.9 147.5 142.6 148.4 142.3 149.2 142 150 141.7 150.9 141.4 151.7 141.1 152.5 140.9 153.4 140.6 154.2 140.3 155 140 155.9 139.7 156.7 139.4 157.5 139.1 158.3 138.8 159.2 138.6 160 138.3 160.8 138 217.5 117.9 218.3 117.7 219.1 117.4 219.9 117.1 220.6 116.8 221.4 116.6 222.2 116.3 222.9 116 223.7 115.7 224.5 115.5 225.3 115.2 226 114.9 226.8 114.6 227.6 114.4 228.3 114.1 229.1 113.8 229.8 113.6 230.6 113.3 231.4 113 232.1 112.7 232.9 112.5 233.7 112.2 234.4 111.9 235.2 111.7 235.9 111.4 236.7 111.2 237.4 110.9 238.2 110.6 239 110.4 239.7 110.1 240.5 109.9 241.2 109.6 242 109.4 242.7 109.1 243.5 108.9 244.2 108.6 245 108.4 245.7 108.1 246.5 107.9 247.2 107.6 248 107.4 248.7 107.1 249.5 106.9 250.2 106.6 251 106.4 251.7 106.1 252.4 105.9 253.2 105.6 253.9 105.4 254.7 105.2 255.4 104.9 256.2 104.7 256.9 104.4 257.6 104.2 258.4 104 259.1 103.7 259.8 103.5 260.6 103.3 261.3 103.1 262.1 102.8 262.8 102.6 263.5 102.4 264.3 102.1 265 101.9 265.7 101.7 266.5 101.5 267.2 101.2 267.9 101 268.6 100.8 269.4 100.5 270.1 100.3 270.8 100.1 271.6 99.9 272.3 99.6 273 99.4 273.7 99.2 274.5 99 275.2 98.7 275.9 98.5 276.6 98.3 277.3 98.1 278.1 97.9 278.8 97.6 279.5 97.4 280.2 97.2 280.9 97 281.7 96.8 282.4 96.5 283.1 96.3 283.8 96.1 284.5 95.9M103.2 152.6L102.3 152.3 101.5 152.2 100.6 152.2 99.8 152.3 99 152.5 98.2 152.8 97.5 153.3 96.7 153.8 95.9 154.5 95.2 155.2 94.4 155.9 93.7 156.6 93 157.3 92.2 158 91.5 158.6M66.1 139.8L65.2 138.9 64.4 138 63.6 137.2 62.8 136.3 62 135.5 61.2 134.6 60.4 133.8 59.6 132.9 58.8 132.1 57.9 131.3 57.1 130.5 56.4 129.8 55.6 129M118.2 165.8L117.4 166 116.6 166.1 115.8 166.3 115 166.5 114.2 166.7 113.4 166.9 112.5 167.1 111.7 167.3 111 167.5 110.2 167.7 109.4 167.9 108.6 168.1 107.8 168.2 107 168.4 106.2 168.5 105.4 168.5 104.6 168.6 103.8 168.6 103 168.6 102.2 168.6 101.5 168.5 100.7 168.4 99.9 168.3 99.1 168.1M132.2 167.6L131.3 167.8 130.5 167.9 129.7 168 128.9 168.1 128.1 168.2 127.2 168.3 126.4 168.4 125.6 168.5 124.8 168.5 124 168.6 123.2 168.6M145.8 168.3L144.9 168.3 144.1 168.3 143.3 168.3 142.4 168.2M138.2 167.9L137.4 167.8 136.6 167.7 135.8 167.6 134.9 167.4 134.1 167.3 133.3 167.1 132.5 167 131.6 166.8 130.8 166.6 130 166.4 129.2 166.2 128.4 166 127.5 165.8 126.7 165.5 125.9 165.3 125.1 165 124.3 164.7 123.5 164.4 122.7 164.1 121.9 163.8 121.1 163.5 120.3 163.2 119.5 162.8 118.6 162.5 117.8 162.1 117 161.7 116.2 161.3 115.4 160.9 114.6 160.5 113.8 160 113 159.6 112.2 159.1 111.4 158.7 110.6 158.2 109.8 157.7 109 157.2 108.3 156.6 107.5 156.1 106.7 155.5 105.9 154.9 105.1 154.3 104.3 153.7M159.1 168.6L158.3 168.4 157.5 168.3 156.7 168.1 155.8 167.9 155 167.8 154.2 167.6 153.3 167.4 152.5 167.2 151.7 167 150.9 166.8 150.1 166.6 149.2 166.4 148.4 166.1 147.6 165.9 146.8 165.6 146 165.4 145.2 165.1 144.4 164.8 143.6 164.6 142.8 164.3 141.9 164 141.1 163.7 140.3 163.4 139.5 163 138.7 162.7 137.9 162.4 137.1 162 136.3 161.7 135.5 161.3 134.8 160.9 134 160.6 133.2 160.2 132.4 159.8 131.6 159.4 130.8 159 130 158.5 129.2 158.1 128.4 157.7 127.6 157.2 126.9 156.8 126.1 156.3 125.3 155.8 124.5 155.3 123.7 154.9 122.9 154.4 122.2 153.9 121.4 153.3 120.6 152.8 119.8 152.3 119 151.7 118.3 151.2 117.5 150.6 116.7 150 115.9 149.4 115.2 148.8 114.4 148.2 113.6 147.6 112.8 147 112.1 146.3M172.3 168.5L171.5 168.3 170.7 168 169.9 167.8 169.2 167.5 168.4 167.2 167.6 166.9 166.8 166.6 166 166.3 165.2 166.1 164.5 165.8 163.7 165.4 162.9 165.1 162.1 164.8 161.4 164.5 160.6 164.2 159.8 163.8 159 163.5 158.3 163.2 157.5 162.8 156.7 162.5 156 162.1 155.2 161.8 154.4 161.4 153.7 161 152.9 160.7 152.1 160.3 151.4 159.9 150.6 159.5 149.9 159.1 149.1 158.7 148.4 158.3 147.6 157.9 146.9 157.5 146.1 157.1 145.4 156.7 144.6 156.3 143.9 155.8 143.1 155.4 142.4 154.9 141.6 154.5 140.9 154 140.1 153.6 139.4 153.1 138.6 152.6 137.9 152.1 137.2 151.7 136.4 151.2 135.7 150.7 134.9 150.2 134.2 149.6 133.5 149.1 132.7 148.6 132 148.1 131.3 147.5 130.5 147 129.8 146.4 129.1 145.9 128.3 145.3 127.6 144.7M185.3 168.2L184.5 167.8 183.7 167.5 183 167.1 182.2 166.7 181.5 166.3 180.7 166 180 165.6 179.2 165.2 178.5 164.8 177.7 164.4 177 164 176.2 163.6 175.5 163.2 174.7 162.8 174 162.4 173.2 162 172.5 161.6 171.7 161.2 171 160.8 170.3 160.4 169.5 160 168.8 159.6 168 159.1 167.3 158.7 166.6 158.3 165.8 157.9 165.1 157.4 164.4 157 163.7 156.6 162.9 156.1 162.2 155.7 161.5 155.3 160.7 154.8 160 154.4 159.3 153.9 158.6 153.5 157.9 153 157.1 152.6 156.4 152.1 155.7 151.7 155 151.2 154.3 150.7 153.5 150.3 152.8 149.8 152.1 149.3 151.4 148.9 150.7 148.4 150 147.9 149.3 147.4 148.6 146.9 147.9 146.4 147.2 145.9 146.4 145.4 145.7 144.9 145 144.4 144.3 143.9 143.6 143.4 142.9 142.8 142.2 142.3M198.3 167.5L197.5 167 196.8 166.6 196 166.1 195.3 165.6 194.6 165.1 193.8 164.6 193.1 164.2 192.3 163.7 191.6 163.2 190.9 162.7 190.1 162.3 189.4 161.8 188.6 161.3 187.9 160.8 187.2 160.4 186.4 159.9 185.7 159.4 185 158.9 184.3 158.5 183.5 158 182.8 157.5 182.1 157 181.4 156.5 180.6 156.1 179.9 155.6 179.2 155.1 178.5 154.6 177.8 154.2 177 153.7 176.3 153.2 175.6 152.7 174.9 152.3 174.2 151.8 173.5 151.3 172.8 150.8 172.1 150.3 171.3 149.9 170.6 149.4 169.9 148.9 169.2 148.4 168.5 148 167.8 147.5 167.1 147 166.4 146.5 165.7 146 165 145.6 164.3 145.1 163.6 144.6 162.9 144.1 162.2 143.7 161.5 143.2 160.8 142.7 160.1 142.2 159.5 141.7 158.8 141.2 158.1 140.7 157.4 140.2 156.7 139.7 156 139.2M214.1 166.4L213.3 165.8 212.5 165.3 211.7 164.7 210.9 164.2 210.1 163.7 209.3 163.1 208.5 162.6 207.7 162.1 206.9 161.5 206.2 161 205.4 160.5 204.6 159.9 203.8 159.4 203 158.9 202.2 158.3 201.5 157.8 200.7 157.3 199.9 156.7 199.1 156.2 198.3 155.7 197.6 155.2 196.8 154.6 196 154.1 195.3 153.6 194.5 153.1 193.7 152.6 193 152 192.2 151.5 191.4 151 190.7 150.5 189.9 150 189.1 149.4 188.4 148.9 187.6 148.4 186.9 147.9 186.1 147.4 185.4 146.9 184.6 146.3 183.9 145.8 183.1 145.3 182.4 144.8 181.6 144.3 180.9 143.8 180.1 143.3 179.4 142.8 178.6 142.3 177.9 141.8 177.1 141.3 176.4 140.7 175.7 140.2 174.9 139.7 174.2 139.2 173.4 138.7 172.7 138.2 172 137.7 171.2 137.2 170.5 136.7 169.8 136.2 169.1 135.7M230.8 165.3L229.9 164.7 229.1 164.1 228.2 163.5 227.3 162.9 226.5 162.3 225.6 161.7 224.7 161.1 223.9 160.5 223 159.9 222.2 159.4 221.3 158.8 220.4 158.2 219.6 157.6 218.7 157 217.9 156.5 217 155.9 216.2 155.3 215.3 154.7 214.5 154.1 213.7 153.6 212.8 153 212 152.4 211.1 151.9 210.3 151.3 209.5 150.7 208.6 150.2 207.8 149.6 207 149 206.1 148.5 205.3 147.9 204.5 147.3 203.6 146.8 202.8 146.2 202 145.7 201.2 145.1 200.4 144.6 199.5 144 198.7 143.4 197.9 142.9 197.1 142.3 196.3 141.8 195.5 141.2 194.6 140.7 193.8 140.2 193 139.6 192.2 139.1 191.4 138.5 190.6 138 189.8 137.4 189 136.9 188.2 136.4 187.4 135.8 186.6 135.3 185.8 134.7 185 134.2 184.2 133.7 183.4 133.1 182.6 132.6 181.9 132.1M248 164.2L247 163.6 246 162.9 245 162.3 244.1 161.6 243.1 161 242.1 160.3 241.2 159.7 240.2 159 239.3 158.4 238.3 157.7 237.4 157.1 236.4 156.4 235.5 155.8 234.5 155.1 233.6 154.5 232.6 153.9 231.7 153.2 230.7 152.6 229.8 152 228.8 151.3 227.9 150.7 227 150.1 226 149.5 225.1 148.8 224.2 148.2 223.2 147.6 222.3 147 221.4 146.3 220.5 145.7 219.5 145.1 218.6 144.5 217.7 143.9 216.8 143.3 215.9 142.7 215 142 214.1 141.4 213.1 140.8 212.2 140.2 211.3 139.6 210.4 139 209.5 138.4 208.6 137.8 207.7 137.2 206.8 136.6 205.9 136 205 135.4 204.1 134.9 203.3 134.3 202.4 133.7 201.5 133.1 200.6 132.5 199.7 131.9 198.8 131.3 197.9 130.7 197.1 130.2 196.2 129.6 195.3 129 194.4 128.4 193.6 127.9M265.5 163.2L264.4 162.5 263.3 161.8 262.2 161 261.1 160.3 260 159.6 258.9 158.9 257.8 158.1 256.8 157.4 255.7 156.7 254.6 156 253.5 155.3 252.4 154.6 251.4 153.9 250.3 153.2 249.2 152.5 248.2 151.8 247.1 151.1 246 150.4 245 149.7 243.9 149 242.9 148.3 241.8 147.6 240.8 146.9 239.7 146.2 238.7 145.5 237.6 144.8 236.6 144.2 235.5 143.5 234.5 142.8 233.5 142.1 232.4 141.5 231.4 140.8 230.4 140.1 229.3 139.4 228.3 138.8 227.3 138.1 226.3 137.4 225.2 136.8 224.2 136.1 223.2 135.4 222.2 134.8 221.2 134.1 220.2 133.5 219.2 132.8 218.2 132.2 217.2 131.5 216.2 130.9 215.2 130.2 214.2 129.6 213.2 128.9 212.2 128.3 211.2 127.6 210.2 127 209.2 126.3 208.2 125.7 207.2 125.1 206.3 124.4 205.3 123.8 204.3 123.2M283.4 162.3L282.2 161.5 281 160.8 279.7 160 278.5 159.2 277.3 158.4 276.1 157.6 274.9 156.8 273.6 156.1 272.4 155.3 271.2 154.5 270 153.7 268.8 153 267.6 152.2 266.4 151.4 265.2 150.7 264 149.9 262.9 149.1 261.7 148.4 260.5 147.6 259.3 146.9 258.1 146.1 257 145.4 255.8 144.6 254.6 143.9 253.4 143.1 252.3 142.4 251.1 141.6 250 140.9 248.8 140.1 247.7 139.4 246.5 138.7 245.4 137.9 244.2 137.2 243.1 136.5 241.9 135.8 240.8 135 239.7 134.3 238.5 133.6 237.4 132.9 236.3 132.1 235.1 131.4 234 130.7 232.9 130 231.8 129.3 230.7 128.6 229.6 127.9 228.4 127.2 227.3 126.5 226.2 125.8 225.1 125.1 224 124.4 222.9 123.7 221.8 123 220.7 122.3 219.7 121.6 218.6 120.9 217.5 120.2 216.4 119.5 215.3 118.8M302.3 161.6L300.9 160.7 299.5 159.9 298.1 159 296.7 158.2 295.3 157.3 294 156.5 292.6 155.6 291.2 154.8 289.9 153.9 288.5 153.1 287.1 152.3 285.8 151.4 284.4 150.6 283.1 149.8 281.7 149 280.4 148.1 279.1 147.3 277.7 146.5 276.4 145.7 275.1 144.8 273.7 144 272.4 143.2 271.1 142.4 269.8 141.6 268.5 140.8 267.2 140 265.9 139.2 264.6 138.4 263.3 137.6 262 136.8 260.7 136 259.4 135.2 258.1 134.4 256.8 133.6 255.6 132.8 254.3 132 253 131.2 251.7 130.4 250.5 129.6 249.2 128.9 248 128.1 246.7 127.3 245.5 126.5 244.2 125.7 243 125 241.7 124.2 240.5 123.4 239.2 122.7 238 121.9 236.8 121.1 235.5 120.4 234.3 119.6 233.1 118.8 231.9 118.1 230.7 117.3 229.5 116.6 228.2 115.8 227 115.1 225.8 114.3M322.6 160.9L321 159.9 319.4 159 317.9 158.1 316.3 157.2 314.7 156.3 313.1 155.4 311.6 154.5 310 153.6 308.4 152.7 306.9 151.8 305.3 151 303.8 150.1 302.2 149.2 300.7 148.3 299.2 147.4 297.7 146.5 296.1 145.6 294.6 144.7 293.1 143.9 291.6 143 290.1 142.1 288.6 141.2 287.1 140.4 285.6 139.5 284.1 138.6 282.6 137.7 281.2 136.9 279.7 136 278.2 135.1 276.7 134.3 275.3 133.4 273.8 132.5 272.4 131.7 270.9 130.8 269.5 130 268 129.1 266.6 128.3 265.2 127.4 263.7 126.5 262.3 125.7 260.9 124.8 259.5 124 258.1 123.2 256.7 122.3 255.2 121.5 253.8 120.6 252.4 119.8 251.1 118.9 249.7 118.1 248.3 117.2 246.9 116.4 245.5 115.6 244.1 114.7 242.8 113.9 241.4 113.1 240 112.2 238.7 111.4 237.3 110.6 236 109.8M344.8 160.8L343 159.8 341.2 158.9 339.3 157.9 337.5 157 335.7 156 333.9 155 332.1 154.1 330.3 153.1 328.5 152.2 326.8 151.3 325 150.3 323.2 149.4 321.5 148.4 319.7 147.5 317.9 146.5 316.2 145.6 314.5 144.6 312.7 143.7 311 142.8 309.3 141.8 307.6 140.9 305.9 139.9 304.2 139 302.5 138.1 300.8 137.1 299.1 136.2 297.4 135.3 295.7 134.3 294 133.4 292.4 132.5 290.7 131.5 289.1 130.6 287.4 129.7 285.8 128.7 284.1 127.8 282.5 126.9 280.9 125.9 279.3 125 277.6 124.1 276 123.2 274.4 122.2 272.8 121.3 271.2 120.4 269.6 119.5 268 118.5 266.5 117.6 264.9 116.7 263.3 115.8 261.7 114.9 260.2 113.9 258.6 113 257.1 112.1 255.5 111.2 254 110.3 252.4 109.3 250.9 108.4 249.4 107.5 247.8 106.6 246.3 105.7M371.5 162.4L369.3 161.4 367.1 160.3 365 159.3 362.8 158.3 360.7 157.2 358.5 156.2 356.4 155.2 354.3 154.2 352.2 153.1 350 152.1 347.9 151.1 345.9 150.1 343.8 149 341.7 148 339.6 147 337.6 145.9 335.5 144.9 333.5 143.9 331.5 142.9 329.4 141.8 327.4 140.8 325.4 139.8 323.4 138.7 321.4 137.7 319.4 136.7 317.5 135.7 315.5 134.6 313.5 133.6 311.6 132.6 309.6 131.5 307.7 130.5 305.8 129.5 303.8 128.4 301.9 127.4 300 126.4 298.1 125.4 296.2 124.3 294.3 123.3 292.4 122.3 290.6 121.2 288.7 120.2 286.8 119.2 285 118.1 283.1 117.1 281.3 116.1 279.5 115 277.6 114 275.8 113 274 111.9 272.2 110.9 270.4 109.9 268.6 108.8 266.8 107.8 265 106.7 263.2 105.7 261.5 104.7 259.7 103.6 257.9 102.6 256.2 101.6M401.6 165.3L399 164.2 396.3 163.1 393.7 162 391.1 160.8 388.5 159.7 386 158.6 383.4 157.4 380.9 156.3 378.3 155.2 375.8 154 373.3 152.9 370.8 151.8 368.3 150.6 365.8 149.5 363.4 148.3 360.9 147.2 358.5 146.1 356 144.9 353.6 143.8 351.2 142.6 348.8 141.5 346.4 140.3 344.1 139.2 341.7 138 339.3 136.9 337 135.8 334.7 134.6 332.3 133.4 330 132.3 327.7 131.1 325.4 130 323.2 128.8 320.9 127.7 318.6 126.5 316.4 125.4 314.1 124.2 311.9 123 309.7 121.9 307.5 120.7 305.3 119.5 303.1 118.4 300.9 117.2 298.7 116 296.6 114.9 294.4 113.7 292.3 112.5 290.1 111.4 288 110.2 285.9 109 283.8 107.8 281.7 106.7 279.6 105.5 277.5 104.3 275.4 103.1 273.3 102 271.3 100.8 269.2 99.6 267.2 98.4 265.2 97.2M438.3 170.7L435 169.4 431.8 168.2 428.5 166.9 425.3 165.6 422.1 164.3 418.9 163 415.8 161.8 412.6 160.5 409.5 159.2 406.4 157.9 403.3 156.6 400.2 155.3 397.2 154 394.2 152.7 391.1 151.4 388.1 150.1 385.2 148.8 382.2 147.5 379.2 146.2 376.3 144.9 373.4 143.6 370.5 142.3 367.6 141 364.8 139.7 361.9 138.3 359.1 137 356.2 135.7 353.4 134.4 350.7 133.1 347.9 131.8 345.1 130.4 342.4 129.1 339.6 127.8 336.9 126.4 334.2 125.1 331.5 123.8 328.9 122.4 326.2 121.1 323.6 119.8 320.9 118.4 318.3 117.1 315.7 115.7 313.1 114.4 310.5 113 308 111.7 305.4 110.3 302.9 109 300.3 107.6 297.8 106.3 295.3 104.9 292.8 103.6 290.3 102.2 287.9 100.8 285.4 99.5 283 98.1 280.5 96.7 278.1 95.4 275.7 94 273.3 92.6" stroke="#2c2c2c" stroke-opacity="0.85" stroke-width="0.7" fill="none" stroke-linejoin="round"/><path d="M88.9 240.2L89.2 239.7 89.5 239.1 89.8 238.4 90 237.3 90.2 236.1 90.4 234.6 90.6 232.9 90.8 230.9 90.9 228.4 91 225.6 91.1 222.6 91.1 219.4 91.2 216 91.2 212.5 91.2 208.9 91.3 205.3 91.3 201.6 91.3 197.8 91.3 193.9 91.3 190.1 91.4 186.2 91.4 182.3 91.4 178.5 91.4 174.8 91.5 171.2 91.5 167.7M86.1 236.6L86.4 236 86.7 235.2 86.9 234.2 87.1 233 87.3 231.5 87.5 229.7 87.6 227.5 87.8 225.1 87.9 222.5 87.9 219.6 88 216.6 88.1 213.5 88.1 210.3 88.2 206.9 88.2 203.4 88.2 199.8 88.2 196.1 88.3 192.3 88.3 188.5 88.3 184.6 88.3 180.7 88.3 177 88.3 173.3 88.4 169.5 88.4 165.7 88.4 161.5 88.3 157.1 88.3 153 88.3 149.1 88.4 145.7 88.5 142.4 88.6 139.3 88.6 136.3 88.8 133.5M83.3 232.7L83.6 231.9 83.8 231 84 229.7 84.2 228.2 84.4 226.4 84.5 224.4 84.7 222.2 84.8 219.8 84.9 217.3 85 214.7 85.1 211.9 85.2 208.9 85.2 205.8 85.3 202.6 85.3 199.3 85.3 195.9 85.4 192.4 85.4 188.9 85.4 185.4 85.5 182 85.5 178.4 85.5 174.7 85.5 170.5 85.4 166 85.4 161.5 85.4 157.4 85.4 153.6 85.4 149.9 85.5 146.4 85.5 143 85.6 139.7 85.7 136.5 85.7 133.4 85.8 130.5 85.9 127.7 86.1 125 86.2 122.4 86.3 120.1 86.5 117.9 86.7 115.9 86.9 114.1 87.1 112.6 87.3 111.4 87.6 110.4 87.9 109.7 88.2 109.3 88.6 110.3 88.8 109.2 89.2 109.5 89.6 110 90 110.8 90.4 112 90.9 113.4 91.3 114.7 91.8 116.3 92.3 118.1 92.8 120.1 93.3 122.4 93.8 125.1 94.4 128 94.9 130.5 95.5 133 96 135.3 96.5 137.3 96.9 139.1 97.4 140.8 97.8 142.3 98.3 143.7 98.7 145 99.1 146.2 99.6 147.3 100 148.4 100.4 149.4 100.8 150.4 101.2 151.3 101.6 152.2M80.2 229.3L80.5 228.5 80.7 227.5 80.9 226.3 81.1 224.9 81.3 223.3 81.5 221.5 81.6 219.6 81.8 217.5 81.9 215.3 82 213 82.1 210.5 82.2 207.9 82.3 205.1 82.4 202.3 82.5 199.4 82.5 196.4 82.6 193.5 82.7 190.5 82.7 187.4 82.8 184.1 82.8 180.4 82.8 176.4 82.8 172.4 82.8 168.5 82.8 165 82.8 161.6 82.9 158.2 82.9 154.8 83 151.6 83 148.4 83.1 145.2 83.2 142.2 83.3 139.2 83.4 136.2 83.5 133.4 83.6 130.7 83.7 128 83.8 125.5 83.9 123.1 84.1 120.9 84.3 119 84.5 117.3 84.7 115.7 84.9 114.3 85.6 118.3M88.9 121.7L89.3 123 89.8 124.5 90.2 126.3 90.7 128.2 91.3 130.5 91.8 133 92.3 135.2 92.8 137.4 93.3 139.4 93.8 141.3 94.2 142.9 94.7 144.4 95.1 145.7 95.5 147 96 148.1 96.4 149.2 96.8 150.2 97.2 151.2 97.6 152.1 98 153M77.2 225.9L77.4 225.1 77.7 224.2 77.9 223 78.1 221.7 78.3 220.3 78.5 218.7 78.6 217 78.8 215.2 78.9 213.2 79.1 211.1 79.2 208.9 79.3 206.6 79.4 204.2 79.5 201.8 79.7 199.4 79.8 196.9 79.9 194.3 79.9 191.6 80 188.5 80 185.2 80.1 181.9 80.1 178.6 80.2 175.6 80.3 172.6 80.3 169.7 80.4 166.7 80.5 163.8 80.6 161 80.7 158.2 80.7 155.4 80.8 152.6 80.9 149.9 81 147.2 81.1 144.6 81.3 142 81.4 139.5 81.5 137.1 81.6 134.9 81.8 132.8 82 130.8 82.2 129 82.3 127.2M89.5 141.7L90 143.4 90.4 145 90.9 146.6 91.3 148 91.8 149.3 92.2 150.4 92.6 151.5 93 152.5 93.4 153.4 93.8 154.2 94.2 155 94.6 155.8M74.1 222.5L74.4 221.7 74.6 220.9 74.9 219.8 75.1 218.6 75.3 217.3 75.5 215.9 75.6 214.3 75.8 212.6 76 210.8 76.1 208.9 76.3 207 76.4 204.9 76.6 202.9 76.7 200.8 76.8 198.6 76.9 196.3 77 193.7 77.1 191 77.2 188.3 77.3 185.6 77.4 183 77.5 180.5 77.6 178 77.7 175.5 77.8 173 77.9 170.5 78 168.1 78.1 165.7 78.3 163.3 78.4 160.9 78.5 158.6 78.6 156.3 78.8 154.1 78.9 151.9 79 149.7 79.2 147.7 79.4 145.8 79.5 144 79.7 142.3 79.9 140.6 80.5 143.5M71.1 219.2L71.4 218.5 71.6 217.6 71.9 216.7 72.1 215.5 72.3 214.3 72.5 212.9 72.7 211.4 72.9 209.9 73 208.2 73.2 206.4 73.3 204.6 73.5 202.8 73.6 200.9 73.8 198.8 73.9 196.7 74 194.3 74.1 192 74.2 189.7 74.4 187.4 74.5 185.2 74.6 182.9 74.7 180.7 74.8 178.5 75 176.3 75.1 174.1 75.2 172 75.4 169.8 75.5 167.7 75.7 165.7 75.8 163.6 76 161.6 76.1 159.7 76.3 157.8 76.4 156 76.6 154.4 76.8 152.8 77 151.2 77.2 149.8 77.6 150.9 77.9 150.1 78.2 149.4 78.4 148.8M68.2 215.9L68.4 215.3 68.7 214.5 68.9 213.5 69.1 212.5 69.3 211.3 69.5 210 69.7 208.5 69.9 207 70.1 205.4 70.2 203.8 70.4 202.1 70.6 200.2 70.7 198.3 70.8 196.2 70.9 194 71.1 191.9 71.2 189.8 71.3 187.7 71.5 185.6 71.6 183.6 71.7 181.5 71.9 179.4 72 177.3 72.1 175.3 72.3 173.2 72.4 171.2 72.6 169.2 72.7 167.3 72.9 165.4 73 163.6 73.2 161.8 73.4 160.1 73.5 158.5 73.7 157 73.9 155.5 74.1 154.2 74.5 154.2 74.7 153.2 75 152.3 75.2 151.6 75.5 151 75.8 150.5 76.1 150.1 76.4 149.9 76.7 149.4 77 149.1 77.3 149.2 77.6 149.3M65.5 212.1L65.8 211.4 66 210.5 66.2 209.5 66.4 208.3 66.6 207 66.8 205.7 67 204.2 67.2 202.7 67.3 201 67.5 199.2 67.6 197.3 67.8 195.3 67.9 193.3 68 191.3 68.2 189.3 68.3 187.3 68.4 185.3 68.5 183.2 68.7 181.2 68.8 179.1 68.9 177.1 69.1 175 69.2 173 69.4 171 69.5 169.1 69.6 167.2 69.8 165.3 70 163.5 70.1 161.7 70.3 160.1 70.5 158.5 70.7 157 70.8 155.6 71.1 154.9 71.3 153.8 71.6 152.7 71.8 151.8 72.1 151 72.3 150.3 72.6 149.7 72.9 149.3 73.2 149 73.5 148.8 73.8 148.2 74.1 148.1 74.4 148.2 74.7 148.3 75.1 148.4 75.4 148.7 75.8 149M62.6 209L62.9 208.4 63.1 207.5 63.3 206.6 63.5 205.5 63.7 204.2 63.9 202.9 64.1 201.4 64.3 199.8 64.4 198.1 64.6 196.3 64.7 194.4 64.8 192.5 65 190.6 65.1 188.7 65.2 186.7 65.4 184.6 65.5 182.6 65.6 180.5 65.8 178.5 65.9 176.4 66 174.3 66.1 172.3 66.3 170.3 66.4 168.3 66.5 166.3 66.7 164.4 66.8 162.5 67 160.7 67.2 159 67.3 157.4 67.5 155.8 67.7 154.8 67.9 153.5 68.1 152.2 68.4 151.1 68.6 150.1 68.8 149.1 69.1 148.3 69.3 147.7 69.6 147.2 69.9 146.8 70.2 146.6 70.5 146.1 70.8 145.7 71.1 145.8 71.4 145.8 71.8 145.9 72.1 146.1 72.5 146.3 72.8 146.7 73.2 147 73.5 147.4M60 205.4L60.2 204.6 60.5 203.7 60.7 202.7 60.9 201.5 61.1 200.1 61.2 198.6 61.4 197 61.6 195.3 61.7 193.6 61.8 191.8 62 189.9 62.1 188 62.2 186 62.4 184 62.5 182 62.6 179.9 62.7 177.8 62.8 175.7 63 173.6 63.1 171.5 63.2 169.4 63.3 167.4 63.5 165.3 63.6 163.3 63.7 161.4 63.9 159.5 64 157.7 64.2 155.9 64.4 154.7 64.6 153.2 64.8 151.7 65 150.4 65.2 149.1 65.4 148 65.6 146.9 65.8 146 66.1 145.3 66.4 144.6 66.6 144.2 66.9 143.9 67.2 143.7 67.5 143 67.8 142.9 68.1 142.9 68.5 143 68.8 143.1 69.1 143.2 69.5 143.5 69.8 143.8 70.2 144.2 70.5 144.5 70.9 144.9 71.3 145.3M57.1 202.5L57.4 201.8 57.6 201 57.8 199.9 58 198.7 58.2 197.4 58.4 196 58.6 194.4 58.7 192.8 58.9 191.1 59 189.3 59.2 187.4 59.3 185.5 59.4 183.5 59.5 181.5 59.6 179.4 59.8 177.3 59.9 175.2 60 173 60.1 170.9 60.2 168.7 60.3 166.6 60.4 164.5 60.5 162.4 60.7 160.4 60.8 158.4 60.9 156.4 61.1 155 61.3 153.3 61.4 151.6 61.6 150 61.8 148.5 62 147.1 62.2 145.9 62.4 144.7 62.6 143.7 62.9 142.8 63.1 142.1 63.4 141.5 63.7 141.1 64 140.8 64.3 140.5 64.5 139.9 64.8 139.9 65.2 139.9 65.5 140 65.8 140.1 66.2 140.2 66.5 140.5 66.9 140.8 67.2 141.1 67.6 141.5 67.9 141.8 68.3 142.2 68.6 142.6M54.6 199L54.8 198.2 55 197.2 55.3 196.1 55.4 194.9 55.6 193.5 55.8 192 56 190.5 56.1 188.8 56.2 187 56.4 185.1 56.5 183.2 56.6 181.1 56.7 179.1 56.8 177 56.9 174.8 57 172.6 57.1 170.4 57.2 168.2 57.3 166 57.5 163.9 57.6 161.7 57.7 159.6 57.8 157.5 57.9 155.8 58.1 153.8 58.2 152 58.4 150.2 58.5 148.5 58.7 146.8 58.8 145.3 59 143.9 59.2 142.6 59.4 141.5 59.7 140.5 59.9 139.6 60.2 138.9 60.4 138.4 60.7 138 61 137.8 61.3 137.2 61.6 136.9 61.9 136.9 62.2 136.9 62.6 137 62.9 137.1 63.2 137.2 63.6 137.4 63.9 137.7 64.3 138 64.6 138.4 65 138.7 65.3 139 65.7 139.3M51.8 196.1L52.1 195.5 52.3 194.6 52.5 193.6 52.7 192.5 52.9 191.2 53.1 189.8 53.2 188.2 53.4 186.5 53.5 184.8 53.6 182.9 53.7 180.9 53.9 178.9 54 176.8 54.1 174.7 54.2 172.5 54.3 170.3 54.3 168 54.4 165.8 54.5 163.5 54.6 161.3 54.7 159.1 54.9 157.1 55 155 55.1 152.9 55.2 150.9 55.3 149 55.5 147.1 55.6 145.3 55.8 143.7 55.9 142.1 56.1 140.7 56.3 139.4 56.5 138.2 56.7 137.2 57 136.4 57.2 135.8 57.5 135.3 57.8 135 58.1 134.7 58.4 134.1 58.7 134 59 134 59.3 134 59.6 134 60 134.1 60.3 134.2 60.6 134.4 61 134.6 61.3 134.9 61.7 135.2 62 135.5M49.3 192.8L49.6 192.1 49.8 191.2 50 190.2 50.2 189 50.3 187.6 50.5 186.1 50.7 184.4 50.8 182.7 50.9 180.8 51 178.9 51.1 176.8 51.2 174.7 51.3 172.6 51.4 170.3 51.5 168.1 51.6 165.8 51.7 163.5 51.8 161.2 51.9 159 51.9 156.7 52 154.5 52.1 152.2 52.2 150.1 52.3 148 52.5 146 52.6 144.1 52.7 142.2 52.9 140.5 53 138.9 53.2 137.5 53.4 136.2 53.6 135 53.8 134 54.1 133.3 54.3 132.7 54.6 132.3 54.9 132.1 55.2 131.6 55.5 131.1 55.8 131.1 56.1 131.1 56.4 131.1 56.7 131.1 57.1 131.1 57.4 131.2 57.7 131.4 58.1 131.5 58.4 131.8" stroke="#303040" stroke-opacity="0.5" stroke-width="0.45" fill="none" stroke-linejoin="round"/><path d="M82 243.6L82.3 243.4 82.6 243.3 82.9 243.2 83.3 243 83.6 242.9 83.9 242.8 84.2 242.7 84.5 242.5 84.9 242.4 85.2 242.3 85.5 242.2 85.8 242 86.1 241.9 86.4 241.8 86.8 241.7 87.1 241.5 87.4 241.4 87.7 241.3 88 241.1 88.3 240.9 88.6 240.6 88.9 240.2 89.2 239.7M78.2 240.2L78.5 240.1 78.9 240 79.2 239.9 79.5 239.7 79.8 239.6 80.1 239.5 80.5 239.4 80.8 239.2 81.1 239.1 81.4 239 81.7 238.9 82 238.7 82.4 238.6 82.7 238.5 83 238.4 83.3 238.2 83.6 238.1 83.9 238 84.3 237.9 84.6 237.7 84.9 237.6 85.2 237.5 85.5 237.3 85.8 237 86.1 236.6M74.5 236.9L74.8 236.8 75.1 236.7 75.4 236.6 75.8 236.5 76.1 236.3 76.4 236.2 76.7 236.1 77 236 77.4 235.8 77.7 235.7 78 235.6 78.3 235.5 78.6 235.3 78.9 235.2 79.3 235.1 79.6 235 79.9 234.8 80.2 234.7 80.5 234.6 80.8 234.5 81.2 234.3 81.5 234.2 81.8 234.1 82.1 234 82.4 233.8 82.7 233.6 83 233.3 83.3 232.7M70.8 233.7L71.1 233.6 71.4 233.4 71.7 233.3 72.1 233.2 72.4 233.1 72.7 232.9 73 232.8 73.3 232.7 73.7 232.6 74 232.5 74.3 232.3 74.6 232.2 74.9 232.1 75.2 232 75.6 231.8 75.9 231.7 76.2 231.6 76.5 231.5 76.8 231.4 77.1 231.2 77.4 231.1 77.8 231 78.1 230.9 78.4 230.7 78.7 230.6 79 230.5 79.3 230.4 79.6 230.2 79.9 229.9 80.2 229.3M67.1 230.5L67.5 230.3 67.8 230.2 68.1 230.1 68.4 230 68.7 229.8 69 229.7 69.4 229.6 69.7 229.5 70 229.4 70.3 229.2 70.6 229.1 70.9 229 71.2 228.9 71.6 228.7 71.9 228.6 72.2 228.5 72.5 228.4 72.8 228.3 73.1 228.1 73.5 228 73.8 227.9 74.1 227.8 74.4 227.7 74.7 227.5 75 227.4 75.3 227.3 75.7 227.2 76 227 76.3 226.9 76.6 226.8 76.9 226.4 77.2 225.9M63.5 227.3L63.8 227.1 64.1 227 64.5 226.9 64.8 226.8 65.1 226.6 65.4 226.5 65.7 226.4 66 226.3 66.3 226.2 66.7 226 67 225.9 67.3 225.8 67.6 225.7 67.9 225.6 68.2 225.4 68.6 225.3 68.9 225.2 69.2 225.1 69.5 225 69.8 224.8 70.1 224.7 70.4 224.6 70.7 224.5 71.1 224.4 71.4 224.2 71.7 224.1 72 224 72.3 223.9 72.6 223.8 72.9 223.6 73.3 223.5 73.6 223.4 73.9 223 74.1 222.5M59.9 224.1L60.2 224 60.5 223.8 60.9 223.7 61.2 223.6 61.5 223.5 61.8 223.4 62.1 223.2 62.4 223.1 62.7 223 63.1 222.9 63.4 222.8 63.7 222.6 64 222.5 64.3 222.4 64.6 222.3 64.9 222.2 65.3 222 65.6 221.9 65.9 221.8 66.2 221.7 66.5 221.6 66.8 221.4 67.1 221.3 67.4 221.2 67.8 221.1 68.1 221 68.4 220.8 68.7 220.7 69 220.6 69.3 220.5 69.6 220.4 69.9 220.3 70.3 220.1 70.6 220 70.9 219.7 71.1 219.2M56.3 220.9L56.7 220.8 57 220.7 57.3 220.6 57.6 220.5 57.9 220.3 58.2 220.2 58.5 220.1 58.9 220 59.2 219.9 59.5 219.7 59.8 219.6 60.1 219.5 60.4 219.4 60.7 219.3 61 219.1 61.4 219 61.7 218.9 62 218.8 62.3 218.7 62.6 218.6 62.9 218.4 63.2 218.3 63.5 218.2 63.9 218.1 64.2 218 64.5 217.8 64.8 217.7 65.1 217.6 65.4 217.5 65.7 217.4 66 217.3 66.4 217.1 66.7 217 67 216.9 67.3 216.8 67.6 216.7 67.9 216.4 68.2 215.9M52.8 217.8L53.1 217.7 53.4 217.6 53.7 217.5 54.1 217.3 54.4 217.2 54.7 217.1 55 217 55.3 216.9 55.6 216.7 55.9 216.6 56.2 216.5 56.6 216.4 56.9 216.3 57.2 216.2 57.5 216 57.8 215.9 58.1 215.8 58.4 215.7 58.7 215.6 59.1 215.5 59.4 215.3 59.7 215.2 60 215.1 60.3 215 60.6 214.9 60.9 214.8 61.2 214.6 61.6 214.5 61.9 214.4 62.2 214.3 62.5 214.2 62.8 214 63.1 213.9 63.4 213.8 63.7 213.7 64 213.6 64.3 213.5 64.7 213.3 65 213.1 65.2 212.7 65.5 212.1M49.3 214.7L49.6 214.6 49.9 214.5 50.2 214.4 50.5 214.2 50.9 214.1 51.2 214 51.5 213.9 51.8 213.8 52.1 213.7 52.4 213.5 52.7 213.4 53 213.3 53.4 213.2 53.7 213.1 54 213 54.3 212.8 54.6 212.7 54.9 212.6 55.2 212.5 55.5 212.4 55.8 212.3 56.2 212.1 56.5 212 56.8 211.9 57.1 211.8 57.4 211.7 57.7 211.6 58 211.5 58.3 211.3 58.6 211.2 59 211.1 59.3 211 59.6 210.9 59.9 210.8 60.2 210.6 60.5 210.5 60.8 210.4 61.1 210.3 61.4 210.2 61.7 210.1 62 209.9 62.3 209.6 62.6 209M45.8 211.7L46.1 211.5 46.4 211.4 46.8 211.3 47.1 211.2 47.4 211.1 47.7 211 48 210.8 48.3 210.7 48.6 210.6 48.9 210.5 49.2 210.4 49.6 210.3 49.9 210.1 50.2 210 50.5 209.9 50.8 209.8 51.1 209.7 51.4 209.6 51.7 209.5 52 209.3 52.4 209.2 52.7 209.1 53 209 53.3 208.9 53.6 208.8 53.9 208.6 54.2 208.5 54.5 208.4 54.8 208.3 55.1 208.2 55.5 208.1 55.8 208 56.1 207.8 56.4 207.7 56.7 207.6 57 207.5 57.3 207.4 57.6 207.3 57.9 207.1 58.2 207 58.5 206.9 58.8 206.8 59.2 206.7 59.5 206.4 59.7 206M42.4 208.6L42.7 208.5 43 208.4 43.3 208.3 43.6 208.1 43.9 208 44.2 207.9 44.6 207.8 44.9 207.7 45.2 207.6 45.5 207.5 45.8 207.3 46.1 207.2 46.4 207.1 46.7 207 47 206.9 47.3 206.8 47.7 206.7 48 206.5 48.3 206.4 48.6 206.3 48.9 206.2 49.2 206.1 49.5 206 49.8 205.9 50.1 205.7 50.4 205.6 50.7 205.5 51.1 205.4 51.4 205.3 51.7 205.2 52 205.1 52.3 204.9 52.6 204.8 52.9 204.7 53.2 204.6 53.5 204.5 53.8 204.4 54.1 204.3 54.4 204.1 54.8 204 55.1 203.9 55.4 203.8 55.7 203.7 56 203.6 56.3 203.5 56.6 203.3 56.9 203 57.1 202.5M39 205.6L39.3 205.5 39.6 205.4 39.9 205.3 40.2 205.1 40.5 205 40.8 204.9 41.1 204.8 41.4 204.7 41.7 204.6 42.1 204.5 42.4 204.3 42.7 204.2 43 204.1 43.3 204 43.6 203.9 43.9 203.8 44.2 203.7 44.5 203.5 44.8 203.4 45.2 203.3 45.5 203.2 45.8 203.1 46.1 203 46.4 202.9 46.7 202.8 47 202.6 47.3 202.5 47.6 202.4 47.9 202.3 48.2 202.2 48.5 202.1 48.9 202 49.2 201.8 49.5 201.7 49.8 201.6 50.1 201.5 50.4 201.4 50.7 201.3 51 201.2 51.3 201.1 51.6 200.9 51.9 200.8 52.2 200.7 52.5 200.6 52.8 200.5 53.1 200.4 53.5 200.3 53.8 200.2 54.1 200 54.3 199.6 54.6 199M35.6 202.6L35.9 202.5 36.2 202.4 36.5 202.3 36.8 202.2 37.1 202 37.4 201.9 37.7 201.8 38 201.7 38.4 201.6 38.7 201.5 39 201.4 39.3 201.2 39.6 201.1 39.9 201 40.2 200.9 40.5 200.8 40.8 200.7 41.1 200.6 41.4 200.5 41.7 200.3 42.1 200.2 42.4 200.1 42.7 200 43 199.9 43.3 199.8 43.6 199.7 43.9 199.6 44.2 199.4 44.5 199.3 44.8 199.2 45.1 199.1 45.4 199 45.7 198.9 46.1 198.8 46.4 198.7 46.7 198.6 47 198.4 47.3 198.3 47.6 198.2 47.9 198.1 48.2 198 48.5 197.9 48.8 197.8 49.1 197.7 49.4 197.5 49.7 197.4 50 197.3 50.3 197.2 50.6 197.1 50.9 197 51.2 196.9 51.5 196.6 51.8 196.1M32.2 199.6L32.5 199.5 32.8 199.4 33.1 199.3 33.4 199.2 33.8 199.1 34.1 199 34.4 198.9 34.7 198.7 35 198.6 35.3 198.5 35.6 198.4 35.9 198.3 36.2 198.2 36.5 198.1 36.8 198 37.1 197.8 37.5 197.7 37.8 197.6 38.1 197.5 38.4 197.4 38.7 197.3 39 197.2 39.3 197.1 39.6 197 39.9 196.8 40.2 196.7 40.5 196.6 40.8 196.5 41.1 196.4 41.4 196.3 41.7 196.2 42.1 196.1 42.4 196 42.7 195.8 43 195.7 43.3 195.6 43.6 195.5 43.9 195.4 44.2 195.3 44.5 195.2 44.8 195.1 45.1 195 45.4 194.8 45.7 194.7 46 194.6 46.3 194.5 46.6 194.4 46.9 194.3 47.2 194.2 47.5 194.1 47.9 194 48.2 193.8 48.5 193.7 48.8 193.6 49 193.3 49.3 192.8M86.8 244.5L85.8 243.7 84.8 242.8 83.8 241.9 82.9 241.1 81.9 240.2 80.9 239.3 79.9 238.5 78.9 237.6 78 236.8 77 235.9 76 235.1 75.1 234.2 74.1 233.4 73.1 232.5 72.2 231.7 71.2 230.8 70.3 230 69.3 229.2 68.4 228.3 67.4 227.5 66.5 226.7 65.5 225.8 64.6 225 63.6 224.2 62.7 223.4 61.8 222.5 60.8 221.7 59.9 220.9 59 220.1 58 219.3 57.1 218.4 56.2 217.6 55.3 216.8 54.3 216 53.4 215.2 52.5 214.4 51.6 213.6 50.7 212.8 49.8 212 48.9 211.2 48 210.4 47.1 209.6 46.2 208.8 45.3 208 44.4 207.2 43.5 206.5 42.6 205.7 41.7 204.9 40.8 204.1 39.9 203.3 39 202.6 38.1 201.8 37.3 201 36.4 200.2 35.5 199.5 34.6 198.7 33.7 197.9 32.9 197.2 32 196.4M91.7 245.2L90.7 244.5 89.7 243.8 88.6 242.9 87.6 242 86.6 241.1 85.5 240.2 84.5 239.3 83.5 238.4 82.5 237.5 81.5 236.6 80.4 235.7 79.4 234.8 78.4 234 77.4 233.1 76.4 232.2 75.4 231.3 74.4 230.4 73.4 229.6 72.4 228.7 71.4 227.8 70.4 227 69.4 226.1 68.5 225.2 67.5 224.4 66.5 223.5 65.5 222.7 64.5 221.8 63.6 221 62.6 220.1 61.6 219.3 60.7 218.4 59.7 217.6 58.7 216.7 57.8 215.9 56.8 215.1 55.9 214.2 54.9 213.4 54 212.5 53 211.7 52.1 210.9 51.1 210.1 50.2 209.2 49.2 208.4 48.3 207.6 47.4 206.8 46.4 206 45.5 205.1 44.6 204.3 43.6 203.5 42.7 202.7 41.8 201.9 40.9 201.1 39.9 200.3 39 199.5 38.1 198.7 37.2 197.9 36.3 197.1 35.4 196.3 34.5 195.5M89.9 239.3L88.8 238.8 87.7 238.2 86.7 237.6 85.6 236.8 84.5 236 83.4 235.1 82.3 234.2 81.2 233.2 80.1 232.3 79.1 231.3 78 230.4 76.9 229.4 75.8 228.5 74.8 227.6 73.7 226.6 72.6 225.7 71.6 224.8 70.5 223.9 69.4 222.9 68.4 222 67.3 221.1 66.3 220.2 65.2 219.3 64.2 218.4 63.1 217.5 62.1 216.5 61.1 215.6 60 214.7 59 213.8 58 212.9 56.9 212.1 55.9 211.2 54.9 210.3 53.9 209.4 52.9 208.5 51.8 207.6 50.8 206.7 49.8 205.9 48.8 205 47.8 204.1 46.8 203.2 45.8 202.4 44.8 201.5 43.8 200.6 42.8 199.8 41.8 198.9 40.8 198 39.9 197.2 38.9 196.3 37.9 195.5 36.9 194.6M80 227.3L79 226.8 78 226.3 76.9 225.7 75.9 225.1 74.9 224.4 73.9 223.6 72.9 222.8 71.9 221.9 70.8 221 69.8 220.1 68.8 219.3 67.8 218.4 66.8 217.5 65.8 216.6 64.7 215.7 63.7 214.9 62.7 214 61.7 213.1 60.7 212.3 59.7 211.4 58.7 210.5 57.8 209.7 56.8 208.8 55.8 208 54.8 207.1 53.8 206.3 52.8 205.4 51.9 204.6 50.9 203.7 49.9 202.9 48.9 202 48 201.2 47 200.4 46 199.5 45.1 198.7 44.1 197.9 43.2 197 42.2 196.2 41.3 195.4 40.3 194.6 39.4 193.7M69.1 214.6L68.2 214.3 67.3 213.9 66.4 213.4 65.4 212.8 64.5 212.3 63.6 211.6 62.7 210.9 61.8 210.1 60.8 209.3 59.9 208.5 59 207.7 58.1 206.9 57.1 206.1 56.2 205.3 55.3 204.5 54.4 203.7 53.5 202.9 52.6 202.1 51.7 201.4 50.8 200.6 49.9 199.8 48.9 199 48 198.2 47.2 197.5 46.3 196.7 45.4 195.9 44.5 195.2 43.6 194.4 42.7 193.6 41.8 192.9M59.6 203.5L58.7 203.2 57.9 202.8 57.1 202.4 56.2 202 55.4 201.4 54.5 200.8 53.6 200.1 52.8 199.3 51.9 198.6 51.1 197.8 50.2 197.1 49.3 196.4 48.5 195.6 47.6 194.9 46.8 194.2 45.9 193.4 45.1 192.7 44.2 192M51.3 193.5L50.6 193.3 49.8 193 49 192.7 48.3 192.2 47.5 191.7 46.7 191.1" stroke="#202050" stroke-opacity="0.7" stroke-width="0.5" fill="none" stroke-linejoin="round"/><path d="M86 246.2L87.9 246 89.8 245.6 91.8 245.2 93.6 244.7 95.4 243.8 97 242.6 97.9 241.1 98.7 239.2 98.9 237.2 98.9 235.3 98.8 233.4 98.8 231.4 98.7 229.5 98.5 227.5 98.2 225.6 97.9 223.7 97.5 221.8 97.2 219.9 96.9 218 96.6 216.1 96.2 214.1 95.9 212.2 95.6 210.3 95.4 208.4 95.1 206.5 94.9 204.5 94.7 202.6 94.5 200.7 94.3 198.8 94.1 196.8 93.9 194.9 93.7 193 93.5 191 93.3 189.1 93.1 187.2 92.9 185.3 92.8 183.3 92.6 181.4 92.4 179.5 92.3 177.5 92.1 175.6 92 173.7 91.9 171.7 91.8 169.8 91.7 167.9 91.6 165.9 91.4 164 91.3 162.1 91.1 160.1 90.9 158.2 90.7 156.3 90.4 154.3 90.2 152.4 89.9 150.5 89.7 148.6 89.6 146.6 89.5 144.7 89.3 142.8 89.2 140.8 89.2 138.9 89.1 137 89 135 88.9 133.1 88.9 131.1 88.8 129.2 88.8 127.3 88.7 125.3 88.7 123.4 88.6 121.5 88.6 119.5 88.6 117.6 88.5 115.6 88.5 113.7 88.5 111.5 88.8 109.3 89.8 109 91.2 110.1 91.9 112 92.6 114 93.1 115.8 93.6 117.7 94.1 119.6 94.5 121.5 94.9 123.4 95.3 125.3 95.6 127.2 96 129.1 96.4 131 96.8 132.9 97.2 134.8 97.7 136.7 98.1 138.5 98.7 140.4 99.2 142.3 99.8 144.1 100.4 146 101.1 147.8 101.8 149.6 102.6 151.4 103.4 153.2 104.4 154.8 105.5 156.4 106.8 157.8 108.1 159.2 109.6 160.6 111 161.9 112.6 163.1 114.2 164.1 115.9 164.9 117.8 165.6 119.6 166.1 121.5 166.5 123.4 166.8 125.4 167 127.3 167.2 129.2 167.4 131.2 167.6 133.1 167.7 135.1 167.8 137 167.9 138.9 168 140.9 168.1 142.8 168.2 144.7 168.3 146.7 168.3 148.6 168.4 150.6 168.4 152.5 168.4 154.4 168.5 156.4 168.5 158.3 168.5 160.2 168.6 162.2 168.6 164.1 168.6 166.1 168.6 168 168.6 169.9 168.6 171.9 168.5 173.8 168.5 175.8 168.5 177.7 168.4 179.6 168.4 181.6 168.3 183.5 168.3 185.4 168.2 187.4 168.1 189.3 168 191.2 167.9 193.2 167.8 195.1 167.7 197.1 167.6 199 167.5 200.9 167.3 202.9 167.2 204.8 167.1 206.7 166.9 208.7 166.8 210.6 166.6 212.5 166.5 214.5 166.3 216.4 166.2 218.3 166 220.3 165.9 222.2 165.8 224.1 165.7 226.1 165.6 228 165.4 229.9 165.3 231.9 165.2 233.8 165.1 235.7 165 237.7 164.9 239.6 164.7 241.5 164.6 243.5 164.5 245.4 164.4 247.3 164.3 249.3 164.2 251.2 164.1 253.2 163.9 255.1 163.8 257 163.7 259 163.6 260.9 163.5 262.8 163.4 264.8 163.2 266.7 163.1 268.6 163 270.6 162.9 272.5 162.8 274.4 162.7 276.4 162.6 278.3 162.6 280.3 162.5 282.2 162.4 284.1 162.3 286.1 162.2 288 162.2 289.9 162.1 291.9 162 293.8 161.9 295.7 161.8 297.7 161.8 299.6 161.7 301.6 161.6 303.5 161.5 305.4 161.5 307.4 161.4 309.3 161.3 311.2 161.3 313.2 161.2 315.1 161.1 317.1 161.1 319 161 320.9 160.9 322.9 160.9 324.8 160.8 326.7 160.7 328.7 160.7 330.6 160.6 332.6 160.6 334.5 160.6 336.4 160.6 338.4 160.6 340.3 160.6 342.2 160.7 344.2 160.7 346.1 160.8 348.1 160.9 350 161 351.9 161.1 353.9 161.1 355.8 161.2 357.7 161.3 359.7 161.5 361.6 161.6 363.5 161.7 365.5 161.9 367.4 162 369.3 162.2 371.3 162.4 373.2 162.5 375.1 162.7 377.1 162.8 379 163 380.9 163.2 382.9 163.3 384.8 163.5 386.7 163.7 388.7 163.9 390.6 164.1 392.5 164.3 394.4 164.5 396.4 164.7 398.3 164.9 400.2 165.2 402.1 165.4 404.1 165.7 406 165.9 407.9 166.2 409.8 166.4 411.8 166.7 413.7 166.9 415.6 167.2 417.5 167.5 419.4 167.8 421.3 168 423.3 168.3 425.2 168.6 427.1 168.9 429 169.2 430.9 169.5 432.8 169.8 434.8 170.1 436.7 170.4 438.6 170.8 440.5 171.1 442.4 171.4 444.3 171.8 446.2 172.1 448.1 172.5 450 172.9 451.9 173.3 453.8 173.7 455.7 174.1 457.6 174.5 459.5 174.9 461.4 175.4 463.3 175.8 465.1 176.3 467 176.7 468.9 177.2 470.8 177.7 472.7 178.2 474.5 178.7 476.4 179.2 478.3 179.7 480.1 180.3 482 180.8" stroke="#ff0000" stroke-width="5" fill="none" stroke-linecap="round" stroke-linejoin="round"/><g font-family="Liberation Serif, serif" font-weight="bold" font-size="15" text-anchor="middle" fill="#000" stroke="#000" stroke-width="0.3"><text x="234.5" y="382.6">200</text><text x="301.4" y="348.8">300</text><text x="363.1" y="317.2">400</text><text x="420.0" y="287.9">500</text><text x="473.7" y="261.4">600</text><text x="11.2" y="213.0">1.2</text><text x="46.6" y="244.8">1.0</text><text x="84.5" y="279.1">0.8</text><text x="127.0" y="317.8">0.6</text><text x="173.6" y="359.3">0.4</text><text x="494.8" y="244.1">0</text><text x="507.2" y="204.5">500</text><text x="517.1" y="161.8">1000</text></g><text x="13.5" y="297.6" font-family="Liberation Serif, serif" font-weight="bold" font-size="15.5"><tspan font-style="italic" font-size="16.5">ρ</tspan><tspan dx="1.5"> (g/cm</tspan><tspan font-size="10.5" dy="-6">3</tspan><tspan dy="6">)</tspan></text><text x="385.2" y="323.3" font-family="Liberation Serif, serif" font-weight="bold" font-size="15.5"><tspan font-style="italic">T</tspan> (K)</text><text x="519.6" y="201.5" font-family="Liberation Serif, serif" font-style="italic" font-size="15">λ<tspan font-size="10.5" dy="3">MQ</tspan></text></svg></body></html>
